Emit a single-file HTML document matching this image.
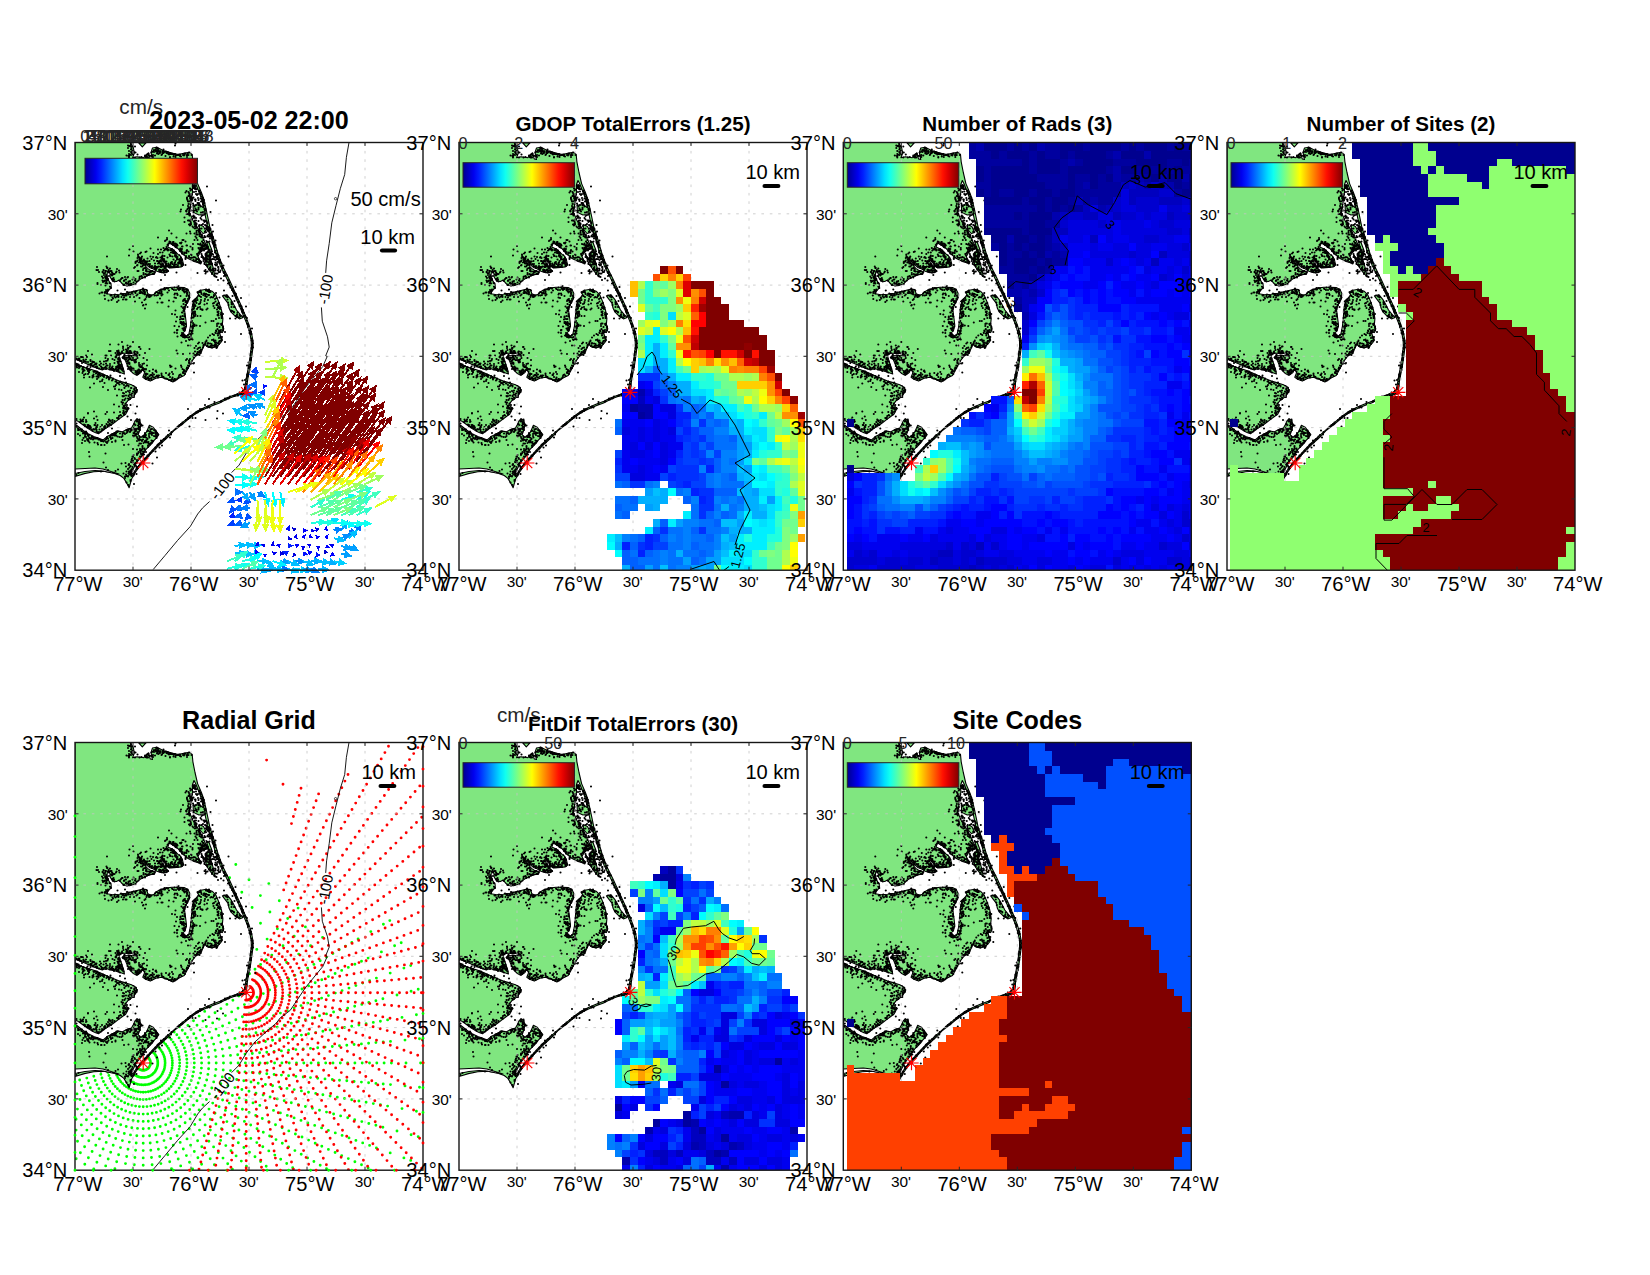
<!DOCTYPE html>
<html><head><meta charset="utf-8"><title>Totals diagnostic maps 2023-05-02 22:00</title>
<style>html,body{margin:0;padding:0;background:#fff}svg{display:block}text{font-family:"Liberation Sans",Arial,Helvetica,sans-serif}</style>
</head><body>
<svg width="1650" height="1275" viewBox="0 0 1650 1275">
<defs><linearGradient id="jet" x1="0" x2="1" y1="0" y2="0"><stop offset="0.0000" stop-color="#00008f"/><stop offset="0.0476" stop-color="#0000bf"/><stop offset="0.0952" stop-color="#0000ef"/><stop offset="0.1429" stop-color="#0020ff"/><stop offset="0.1905" stop-color="#0050ff"/><stop offset="0.2381" stop-color="#0080ff"/><stop offset="0.2857" stop-color="#00afff"/><stop offset="0.3333" stop-color="#00dfff"/><stop offset="0.3810" stop-color="#10ffef"/><stop offset="0.4286" stop-color="#40ffbf"/><stop offset="0.4762" stop-color="#70ff8f"/><stop offset="0.5238" stop-color="#9fff60"/><stop offset="0.5714" stop-color="#cfff30"/><stop offset="0.6190" stop-color="#ffff00"/><stop offset="0.6667" stop-color="#ffcf00"/><stop offset="0.7143" stop-color="#ff9f00"/><stop offset="0.7619" stop-color="#ff7000"/><stop offset="0.8095" stop-color="#ff4000"/><stop offset="0.8571" stop-color="#ff1000"/><stop offset="0.9048" stop-color="#df0000"/><stop offset="0.9524" stop-color="#af0000"/><stop offset="1.0000" stop-color="#800000"/></linearGradient></defs>
<rect width="1650" height="1275" fill="#fff"/>
<g transform="translate(75.0 142.5)"><clipPath id="c75_142"><rect x="0" y="0" width="348.0" height="427.7"/></clipPath><g clip-path="url(#c75_142)"><g stroke="#000" stroke-width="1.1" stroke-linejoin="round"><path fill="#80e680" d="M0.0 0.0L55.0 0.0L58.3 5.0L59.4 10.6L57.6 15.3L62.0 14.2L68.8 15.2L71.7 11.6L73.5 10.5L75.2 16.4L77.5 17.0L76.0 10.0L77.5 5.5L81.9 4.8L89.2 8.4L96.5 10.6L103.7 12.0L109.6 10.6L114.7 9.9L117.2 12.0L117.9 19.3L120.0 30.0L122.6 41.1L126.5 50.2L128.5 55.7L131.4 68.0L135.0 85.3L138.9 96.9L142.7 110.1L147.4 123.3L154.0 136.4L159.6 148.7L165.3 160.9L170.0 172.2L173.8 181.6L176.6 191.0L177.9 198.0L178.0 204.4L176.8 213.9L175.4 223.3L173.6 232.7L172.2 240.2L171.6 247.7L171.2 251.2L165.3 252.8L159.6 253.8L152.1 256.6L144.6 260.4L137.1 263.2L129.5 266.5L122.0 270.3L117.3 273.5L112.6 277.3L106.9 282.0L99.4 287.7L94.1 293.5L84.7 302.0L75.3 311.4L69.6 318.0L64.0 324.6L60.2 330.2L56.5 336.8L54.1 345.3L52.2 341.5L48.9 335.9L45.2 333.0L37.6 330.2L28.2 328.8L18.8 329.3L9.4 331.1L0.0 334.0Z"/><path fill="#fff" d="M32.5 128.7L34.8 130.1L35.3 134.8L37.6 138.6L41.4 139.0L44.2 137.6L46.1 140.0L48.9 142.8L54.6 143.3L60.2 141.4L64.0 137.6L68.7 134.8L74.4 132.4L79.1 131.5L80.0 129.6L75.3 127.7L72.5 125.9L68.7 121.6L64.9 117.4L65.9 116.9L70.6 121.6L74.4 124.9L78.1 126.3L81.9 128.7L86.6 130.1L91.3 130.1L93.6 128.7L90.4 125.4L87.5 120.7L85.2 117.4L86.1 116.9L89.4 120.2L93.2 124.9L96.0 125.4L101.6 124.9L106.4 124.4L108.7 122.6L107.3 116.9L104.5 112.2L104.1 112.9L98.5 107.3L92.8 104.4L93.8 101.6L94.7 100.7L99.4 103.5L103.2 106.3L106.9 111.0L112.6 115.7L118.2 118.6L125.8 120.9L126.7 119.5L124.8 117.6L122.9 113.9L125.8 109.1L129.5 106.3L132.4 103.5L134.2 106.3L131.4 111.0L130.5 115.7L131.4 123.3L135.2 128.9L139.9 134.1L138.9 128.0L137.1 121.4L135.2 115.7L137.1 111.0L134.5 108.0L131.0 102.0L127.0 94.0L123.0 86.0L118.0 78.0L114.5 70.0L116.0 60.0L117.5 50.0L117.5 42.0L119.0 38.0L120.6 41.0L124.3 50.2L126.3 55.7L129.2 68.0L132.8 85.3L136.7 96.9L140.5 110.1L145.3 123.3L152.0 136.4L157.6 148.7L163.3 160.9L168.1 172.2L172.0 181.6L174.9 191.0L176.2 198.0L176.3 204.4L175.1 213.9L173.7 223.3L171.9 232.7L170.6 240.2L169.6 246.5L165.5 251.0L160.0 252.2L152.0 255.2L145.0 258.8L137.0 261.8L130.0 264.8L122.0 268.8L113.0 275.3L104.0 282.8L95.0 290.8L86.0 299.0L77.0 308.0L71.0 314.5L66.0 320.0L61.5 326.0L58.0 331.0L56.0 333.0L57.0 329.0L59.5 324.0L62.5 319.0L65.9 314.8L67.8 312.0L69.6 309.1L71.5 306.3L74.4 303.5L77.2 300.7L79.1 297.9L81.9 295.0L83.8 292.2L80.9 288.4L78.1 284.7L74.4 282.8L71.5 289.4L69.6 292.2L65.9 295.0L63.1 292.2L64.9 287.5L65.9 282.8L64.9 278.1L62.1 276.2L60.2 278.1L58.4 281.9L56.5 285.6L52.7 286.6L47.1 289.4L42.4 288.4L39.5 290.3L35.8 292.2L32.0 294.1L28.2 297.4L24.5 296.0L18.8 294.1L13.2 291.3L7.5 287.5L2.8 283.7L0.0 281.9L0.0 279.0L1.9 278.1L4.7 280.0L8.5 282.8L12.2 285.6L16.9 288.4L20.7 290.3L23.5 291.3L27.3 288.4L31.1 285.6L35.8 282.8L39.5 280.0L43.3 277.1L47.1 274.3L50.8 271.5L53.6 265.9L49.9 262.1L52.7 258.3L56.5 255.5L59.3 252.7L62.1 248.9L61.2 245.1L56.5 242.3L50.8 240.4L44.2 238.6L37.6 235.7L31.1 232.9L24.5 230.1L18.8 227.7L11.3 225.4L5.6 223.5L2.8 221.6L0.0 220.2L0.0 217.9L1.9 216.9L5.6 218.8L12.2 221.6L18.8 224.4L26.4 227.3L32.0 226.3L39.5 228.2L45.2 230.1L49.4 231.5L48.9 228.2L47.1 222.6L45.2 216.9L44.2 213.1L47.1 210.8L56.5 210.8L60.2 211.7L56.5 213.1L48.9 213.1L47.1 215.0L49.9 216.9L51.8 221.6L54.6 227.3L58.4 231.0L62.1 232.9L65.9 230.1L67.8 226.3L69.6 230.1L67.8 234.8L70.6 236.7L75.3 238.6L80.9 235.7L86.6 234.8L92.2 236.7L97.9 239.5L103.5 235.7L109.2 232.9L112.9 226.3L116.7 218.8L121.1 212.9L125.8 211.0L127.6 206.3L129.5 201.6L132.4 204.4L137.1 205.4L142.7 203.5L145.5 200.4L147.4 197.6L145.5 193.9L144.6 189.1L147.4 190.1L148.8 186.3L147.4 181.6L147.9 176.0L146.5 167.5L143.6 159.0L140.8 152.4L137.1 148.7L131.4 146.8L125.8 147.7L122.0 149.6L123.9 152.4L121.1 155.3L117.3 159.0L118.6 159.3L117.2 164.0L116.7 169.6L116.2 177.1L115.3 184.7L113.9 191.3L112.0 193.6L107.3 190.8L110.1 188.4L111.5 182.8L110.6 175.3L109.6 167.7L111.1 162.1L114.4 156.4L114.8 150.8L112.9 147.0L109.2 145.1L103.5 144.7L96.9 144.7L90.4 145.6L84.7 147.5L80.9 149.4L79.1 151.7L76.2 152.7L72.9 151.3L71.5 147.0L67.8 146.6L62.1 148.0L56.5 149.4L50.8 150.8L44.2 151.7L37.6 152.2L32.0 151.3L32.9 148.9L36.2 145.1L36.2 142.3L33.4 137.6L32.0 132.9L32.5 128.7ZM0.0 326.5L10.0 326.0L20.0 325.5L28.0 326.5L36.0 329.0L44.0 331.5L36.0 330.2L28.0 328.5L20.0 328.0L10.0 329.0L0.0 331.0Z"/><path fill="#80e680" d="M147.4 153.4L152.1 152.4L155.9 157.1L158.7 161.9L161.5 167.5L165.3 172.2L168.1 175.0L164.4 176.4L159.6 173.1L155.9 169.4L154.0 165.6L153.1 160.9L150.2 157.1ZM63.7 0.4L71.0 0.4L67.3 4.4ZM118.0 63.0L124.0 62.0L129.5 66.0L130.0 71.5L124.0 72.5L118.5 70.0ZM124.0 82.0L128.5 84.0L131.5 90.0L128.0 91.0L124.5 87.0ZM131.0 98.0L134.0 100.0L137.0 108.0L134.0 107.0ZM127.6 152.5L131.0 151.3L134.2 152.8L131.0 154.3Z"/></g><path transform="scale(.5)" fill="none" stroke="#000" stroke-width="4.2" stroke-linecap="round" d="M0 0m22 426zm-6 3zm-4 0zm1 0zm-5 3zm-5 0zm6 1zm-2 0zm-1 1zm11 0zm5 0zm-16 1zm11 0zm-8 1zm10 1zm-8 0zm2 0zm5 1zm4 1zm-8 2zm-12 2zm1 0zm4 1zm-3 1zm1 1zm7 1zm-9 0zm8 1zm-2 0zm-1 0zm8 1zm2 1zm-14 0zm19 1zm-15 0zm7 1zm1 2zm-1 0zm3 1zm-1 0zm2 1zm-3 2zm-8 1zm7 2zm6 2zm-3 2zm0 5zm0 80zm-15 3zm13 1zm-5 0zm11 1zm-10 1zm2 1zm2 1zm7 0zm-1 1zm-11 0zm-1 0zm-7 3zm15 2zm1 1zm1 0zm-17 2zm17 0zm-18 2zm20 0zm1 0zm-17 3zm3 2zm3 0zm2 0zm-6 1zm-2 0zm7 2zm9 1zm-6 1zm3 1zm-2 0zm6 0zm-5 1zm4 0zm-1 0zm-5 1zm-10 1zm15 1zm-1 1zm-10 1zm10 2zm2 1zm-5 2zm-2 4zm5 2zm-6 4zm-7 60zm-4 4zm26-37zm-1-9zm18-15zm-1-3zm-16-1zm10 0zm-12-3zm-2-1zm11-2zm11 0zm-23-1zm3 0zm5 0zm7-1zm5 0zm-3 0zm-2-1zm6 0zm-3 0zm-13 0zm4-1zm3 0zm-2-2zm-7 0zm-1-2zm0-1zm2 0zm-4-3zm20-3zm1 0zm-2-1zm0-1zm-8-1zm8-2zm-4 0zm-6 0zm4-1zm-6-1zm-3-1zm14 0zm-10-1zm12-1zm-19 0zm6 0zm-5 0zm-2 0zm6-1zm13 0zm-13-1zm-1 0zm16-2zm-20 0zm15 0zm-13 0zm12 0zm2-4zm4-6zm-7-3zm5-4zm-17-6zm0-1zm12-3zm-8-48zm8-8zm6-9zm-9-3zm12 0zm-18-1zm16-1zm-2 0zm-6 0zm10-1zm-12 0zm11-3zm-9 0zm-11-1zm16-1zm1-2zm-15 0zm18 0zm-4-1zm-4 0zm6-1zm-2 0zm-5 0zm3 0zm1 0zm-13-1zm-2 0zm4-2zm-5-1zm1 0zm2-1zm-4 0zm20-2zm1 0zm-14-2zm11 0zm-1 0zm-5-1zm8 0zm-19 0zm12-1zm-2-1zm-3-1zm0-1zm10 0zm-15 0zm12 0zm-8-1zm12-1zm-2 0zm-8 0zm2-2zm-9-1zm11 0zm1 0zm-3-1zm-4-1zm0-1zm0-1zm-7-6zm10-5zm-8-7zm19-134zm0-2zm1-26zm-3 0zm1-6zm20-21zm-1 20zm1 3zm1 0zm5 1zm-13 3zm10 0zm-10 1zm4 1zm1 0zm9 0zm-4 0zm-6 1zm7 1zm-20 0zm7 0zm13 1zm-8 1zm-3 0zm1 4zm4 0zm1 1zm5 1zm-5 0zm-9 1zm6 1zm3 1zm-1 1zm-1 0zm-5 0zm8 1zm2 1zm-3 1zm3 0zm-1 1zm-5 1zm-5 0zm8 0zm-4 1zm-3 0zm0 2zm7 0zm-2 2zm9 0zm-1 0zm-5 1zm7 0zm-19 3zm9 1zm9 2zm1 3zm-5 3zm-4 1zm4 1zm-3 1zm0 1zm1 1zm-4 0zm0 1zm-5 0zm-2 0zm7 1zm-11 1zm15 0zm7 4zm-12 0zm1 7zm7 3zm3 88zm1 13zm-3 0zm-5 9zm-2 0zm0 5zm5 2zm-1 3zm-3 1zm-4 1zm-8 0zm2 4zm10 0zm8 1zm-13 1zm-8 1zm14 1zm2 0zm5 1zm-18 1zm9 1zm-7 1zm15 0zm-11 1zm-4 0zm9 0zm8 1zm-18 0zm-5 0zm14 1zm-8 0zm1 1zm14 0zm-20 8zm1 1zm6 1zm-6 0zm4 1zm3 0zm2 1zm12 0zm-7 1zm-13 0zm5 0zm2 1zm8 1zm-8 0zm13 1zm-8 1zm6 0zm-1 1zm0 2zm-13 0zm-1 3zm-4 1zm9 3zm-3 8zm10 6zm-2 44zm-3 4zm7 11zm0 1zm3 1zm-1 1zm-4 2zm3 3zm-6 1zm6 0zm2 1zm-6 1zm-11 0zm14 0zm-8 2zm5 1zm-5 0zm-2 1zm-7 0zm10 2zm-2 0zm-5 2zm3 1zm-8 0zm5 2zm-2 2zm-4 1zm18 2zm-2 8zm6 0zm-6 2zm2 1zm-4 1zm-13 1zm13 0zm-8 1zm-3 0zm16 1zm-8 0zm-7 1zm3 0zm2 1zm5 1zm3 0zm-1 2zm-12 4zm1 0zm6 0zm2 17zm-4 18zm5 10zm4 5zm-14 3zm29-1zm5-3zm7-12zm-19-43zm7-1zm0-2zm14-1zm-23-2zm0-2zm3 0zm14-2zm4 0zm-8-1zm10-1zm-20-1zm7 0zm-10 0zm7 0zm2-1zm-5 0zm-3-1zm1 0zm3 0zm3 0zm-5-1zm20 0zm-13-1zm8 0zm-9-1zm-2 0zm6-2zm-2-1zm3 0zm-12-6zm-2-7zm1-5zm2 0zm0-1zm4-2zm-4-2zm12-2zm-1-1zm-2-1zm3-1zm1-3zm4-1zm-1-1zm-13-5zm12-1zm-2-11zm-10-4zm17-1zm-2-4zm2-4zm0-8zm-11-1zm9-11zm-5-1zm-8-1zm0-5zm-2 0zm4-3zm7-1zm5-2zm1 0zm-8 0zm-2-1zm-1 0zm7-2zm-2 0zm-8-1zm9 0zm-7-1zm-9-1zm1-1zm1-2zm0-1zm14-5zm0-7zm-3-2zm-9-1zm17-1zm-8 0zm-3 0zm-8-1zm9 0zm8-1zm-19 0zm8 0zm-10 0zm8 0zm-5-1zm18 0zm-16 0zm10-1zm3 0zm1 0zm-9 0zm-7 0zm11-1zm9 0zm-6 0zm-15-1zm8-1zm2 0zm3 0zm4 0zm3-1zm-19 0zm10-1zm2 0zm1 0zm3 0zm-1-1zm-1-1zm-2 0zm2-1zm4 0zm-14-3zm8 0zm-1 0zm1-1zm4-2zm-6 0zm5 0zm-2-1zm-9-2zm9-1zm-13-1zm14 0zm-3 0zm1-2zm-5-1zm-1-1zm1-1zm-10-2zm14 0zm-3-1zm4 0zm-2 0zm5-2zm-2 0zm3-1zm3-1zm-13 0zm14 0zm-7 0zm-3 0zm4-1zm-3 0zm8 0zm-7-2zm7 0zm-10-1zm3-1zm0-12zm7-5zm-10-80zm3-3zm-14-1zm3-3zm5-2zm-6 0zm12-1zm6 0zm-9-1zm-5 0zm8-1zm-14-1zm12 0zm10-1zm-16 0zm1-1zm15-1zm-3-1zm-7-6zm-13-5zm7-13zm11-1zm-1-1zm-13 0zm0-1zm2-1zm-2 0zm-2-1zm18 0zm2-2zm1 0zm-18 0zm-3-5zm2-2zm-4 0zm7-1zm-4-1zm1 0zm6-2zm7 0zm-15 0zm9-2zm-10-1zm15-1zm-4-3zm28-250zm-1 3zm-5 0zm2 1zm7 1zm-4 0zm3 0zm-8 3zm7 1zm-1 2zm3 2zm1 1zm-8 0zm8 1zm-1 1zm3 0zm-6 0zm3 1zm-1 0zm1 1zm-2 0zm-5 2zm1 1zm7 0zm-4 1zm-9 1zm5 1zm-1 0zm1 1zm0 2zm8 177zm-7 7zm8 4zm-9 8zm10 25zm-12 18zm-6 0zm17 1zm-12 0zm-4 4zm14 0zm-13 0zm-4 2zm0 1zm12 0zm-3 1zm0 2zm-5 0zm15 0zm-12 2zm-3 0zm9 0zm2 1zm-3 1zm-2 0zm-10 0zm14 0zm-8 1zm-7 0zm1 0zm7 1zm-2 0zm-3 8zm17 4zm-13 1zm4 1zm-2 0zm7 0zm1 1zm-7 1zm-5 1zm-6 0zm10 0zm10 1zm-5 0zm-4 0zm-7 1zm3 1zm-5 0zm2 0zm10 3zm8 0zm-20 1zm5 4zm-7 0zm5 0zm15 85zm-11 7zm5 2zm1 0zm-15 0zm0 3zm10 0zm1 0zm-1 2zm-4 1zm-5 1zm8 2zm6 0zm-2 0zm10 1zm-16 0zm0 1zm8 0zm-5 1zm4 0zm8 0zm-5 0zm-1 0zm-6 1zm7 0zm6 0zm-16 0zm5 1zm2 0zm-11 2zm20 0zm-1 2zm-19 0zm7 0zm-5 1zm-2 0zm3 1zm11 0zm-5 0zm-10 0zm2 1zm8 0zm-3 1zm3 0zm-10 0zm-2 0zm13 1zm-13 0zm8 0zm-5 0zm17 0zm-16 0zm-2 1zm13 0zm0 1zm-3 1zm-7 0zm2 0zm13 1zm3 0zm-6 0zm-7 1zm-2 2zm14 0zm-11 2zm1 0zm1 1zm-4 1zm3 0zm1 1zm-4 4zm6 1zm-4 1zm6 1zm-3 2zm5 0zm2 0zm-8 0zm-3 1zm10 0zm1 0zm-6 0zm-15 0zm18 1zm3 0zm0 1zm-1 0zm-4 1zm1 0zm-16 2zm3 14zm2 8zm-1 1zm3 4zm-6 0zm9 1zm-5 1zm15 0zm-10 1zm-8 2zm0 1zm14 0zm-1 0zm6 1zm0 1zm-8 3zm-4 1zm10 1zm1 0zm-15 1zm7 1zm-13 1zm23 0zm0 1zm-5 0zm-16 0zm21 1zm-9 1zm3 1zm-6 1zm11 0zm-16 0zm-4 1zm9 0zm8 0zm-1 0zm-18 1zm22 1zm-2 0zm-6 1zm-9 2zm5 0zm4 1zm-2 1zm-9 1zm-3 5zm5 2zm10 3zm-7 0zm-5 2zm-2 0zm1 0zm1 3zm-3 1zm10 0zm-4 0zm-1 0zm5 1zm1 0zm-8 0zm3 1zm2 1zm-7 2zm0 1zm6 1zm-1 0zm-3 2zm-3 1zm2 3zm1 0zm6 4zm7 7zm7 8zm-1 1zm0 6zm-1 3zm-6 0zm-5 1zm1 0zm10 0zm-3 1zm-7 0zm-4 0zm4 1zm5 0zm1 0zm-9 1zm15 2zm-9 0zm-5 0zm-2 2zm14 0zm-19 0zm-2 0zm23 1zm-19 1zm16 3zm1 2zm-10 16zm-9 1zm18 8zm1 12zm-2 3zm1 0zm3 3zm-5 1zm-1 3zm3 1zm-4 3zm3 1zm1 0zm-15 1zm7 2zm0 1zm10 0zm-11 1zm12 0zm-8 2zm-9 1zm13 1zm-6 1zm5 3zm-8 0zm8 2zm-2 0zm1 0zm2 1zm-4 0zm1 0zm2 1zm-11 1zm5 0zm3 0zm-3 1zm2 0zm-1 1zm9 1zm-5 0zm-6 1zm-10 0zm15 0zm-3 2zm9 0zm-16 0zm9 0zm6 2zm-4 1zm-10 0zm11 0zm-8 0zm-6 1zm6 0zm-6 3zm11 4zm0 2zm-8 3zm15 3zm-11 2zm16-22zm-3-5zm3-5zm1-1zm2-1zm0-1zm-3-1zm2 0zm-3-2zm6 0zm2-4zm-10-1zm3-1zm-2 0zm1 0zm1-1zm11 0zm-1-1zm3 0zm-12-2zm0-2zm15-2zm-19 0zm8-1zm12 0zm3-1zm-11-3zm-2 0zm5-2zm-11-1zm0-1zm14 0zm-6-1zm3 0zm-1 0zm-8-1zm-2 0zm11 0zm-4-2zm11-1zm-4 0zm-11 0zm9-1zm-4-1zm-2-1zm10-1zm-6-1zm5 0zm-15 0zm6-1zm9-1zm-4 0zm0-3zm0-1zm0-1zm-8-1zm5-4zm-3 0zm8-1zm5-1zm-3-1zm4 0zm0-1zm-9-1zm6 0zm-16 0zm18-1zm-14 0zm15-1zm-11 0zm4-1zm-7-1zm-3 0zm-1-1zm17-2zm-13-1zm10 0zm-2 0zm-13 0zm5-1zm6 0zm2-1zm3 0zm-20-1zm1 0zm21-1zm-3 0zm-17 0zm2-2zm-1 0zm17 0zm-17-1zm17-1zm-14-2zm-4-2zm0-1zm-2-1zm10 0zm-7-1zm5 0zm1-1zm-1 0zm-7-1zm4 0zm3-2zm0-1zm2-1zm-2 0zm3-1zm-5-1zm6 0zm3 0zm-14-1zm11 0zm0-1zm-4-1zm3 0zm-1 0zm-2-1zm2 0zm-3-1zm0-2zm1 0zm-5-1zm0-1zm2 0zm-1 0zm5-1zm0-2zm-5 0zm-3-12zm3-14zm-3-28zm2-1zm-3-3zm3-1zm1 0zm-2-4zm-1-1zm21-17zm0-1zm-2-3zm-1-1zm2 0zm1-3zm-1-1zm-18-1zm3 0zm17 0zm-18 0zm0-1zm17 0zm-14-1zm-7-1zm6 0zm-4 0zm1-1zm6-1zm-5 0zm6 0zm8 0zm-10-1zm-8 0zm4-1zm8-1zm3 0zm-9-1zm1 0zm14 0zm-6 0zm3-1zm-1 0zm-3 0zm7 0zm-6-2zm-3-2zm-2 0zm-2-1zm5-1zm-4-2zm-2 0zm7-2zm3-1zm-10-1zm-8-1zm2-1zm-2-1zm1-1zm1-3zm3-3zm12 0zm-17-4zm2 0zm2 0zm5-2zm-8-1zm1 0zm3-2zm15-1zm-15-1zm-1-1zm-4-1zm11-5zm-3-4zm1 0zm11-77zm-4-6zm1-1zm5-1zm-8-4zm-14-2zm19-3zm2-2zm-12-2zm14-2zm-20-3zm2-2zm15 0zm-1-1zm-3-1zm4-1zm-11 0zm-8 0zm11 0zm2-1zm5-1zm1 0zm-20 0zm12 0zm5-1zm-14-1zm7 0zm1 0zm8-1zm-3-1zm0-3zm-15-9zm2-5zm-3-2zm7 0zm-6-3zm8-1zm6-1zm5-1zm-11-1zm5 0zm-4-1zm10 0zm-7-1zm4-3zm4-1zm-4-2zm-10-4zm-2 0zm17 0zm0-2zm1 0zm-7 0zm7-1zm-6-2zm3-1zm1 0zm-21-2zm12-1zm2 0zm2-2zm-12 0zm1-1zm16 0zm-4-2zm4 0zm1 0zm-7-1zm-3 0zm-11-1zm22 0zm-11 0zm-4-1zm12-1zm-19 0zm9-1zm-8 0zm9 0zm12 0zm-19 0zm6-1zm10 0zm-4 0zm-11-1zm6-2zm-2 0zm9 0zm-9-1zm1 0zm3 0zm-3-2zm-5 0zm8-1zm-5-1zm6-1zm-8-1zm0-3zm4-2zm2-2zm9-1zm2-1zm0-188zm-14 0zm-9 0zm13-1zm8 0zm2-2zm-3-1zm-15-2zm-4-4zm-1-12zm43 2zm1 1zm2 1zm-4 1zm4 0zm1 0zm-9 2zm3 0zm5 0zm0 1zm-8 0zm4 0zm4 1zm1 0zm-2 1zm-3 0zm-6 0zm10 1zm-8 0zm-5 1zm-6 2zm17 0zm3 1zm-22 1zm11 1zm-8 1zm12 0zm-7 0zm-3 1zm5 0zm-1 1zm-10 1zm12 0zm-10 1zm-1 0zm21 160zm-15 22zm15 2zm-9 7zm9 2zm-15 5zm5 1zm7 0zm-1 1zm3 1zm-20 1zm8 1zm5 3zm7 1zm-16 0zm15 0zm-20 1zm1 0zm21 4zm-6 0zm-10 1zm-3 0zm-1 1zm3 1zm11 2zm-6 0zm-3 1zm-1 0zm17 0zm-7 0zm-1 0zm-5 0zm12 1zm-3 0zm1 0zm1 1zm-2 0zm-5 0zm4 0zm-8 1zm9 1zm-3 0zm2 0zm-1 2zm1 0zm-8 3zm1 0zm-3 0zm-4 1zm-4 0zm9 0zm1 0zm6 1zm-9 0zm-2 0zm2 1zm8 1zm-2 1zm-2 1zm-7 0zm10 0zm-9 1zm-5 0zm3 0zm0 1zm-1 0zm-2 1zm0 30zm19 3zm3 2zm-6 1zm-15 2zm4 1zm17 0zm-22 0zm8 1zm11 0zm-19 0zm2 0zm13 0zm-6 0zm-2 1zm0 1zm-2 1zm-1 0zm17 11zm-16 93zm-5 22zm0 11zm12 8zm6 2zm-13 1zm12 0zm2 2zm-8 2zm-10 2zm13 1zm-5 1zm1 0zm-3 0zm16 1zm-3 0zm-13 0zm4 1zm-6 0zm17 1zm-4 0zm-16 2zm20 0zm-21 0zm14 0zm-2 0zm-4 1zm-3 1zm-6 0zm4 0zm0 1zm5 1zm-5 1zm5 0zm-4 95zm5 1zm-1 2zm1 0zm-3 1zm7 1zm3 1zm-2 0zm-13 0zm-1 1zm4 1zm13 0zm-11 0zm10 2zm-7 0zm10 1zm-7 0zm-2 0zm-2 1zm-3 0zm11 0zm1 0zm-14 1zm14 0zm4 1zm-12 1zm8 0zm-4 2zm6 0zm-16 0zm13 1zm2 0zm-14 2zm14 1zm-18 1zm0 1zm8 3zm3 1zm-1 0zm-8 2zm7 1zm-8 0zm6 1zm-5 1zm2 1zm17 1zm-16 0zm15 1zm0 1zm-19 0zm0 3zm15 1zm0 2zm-5 5zm-1 0zm6 1zm-8 2zm-2 1zm-1 1zm0 1zm-2 2zm-3 1zm2 1zm-1 1zm18 2zm-9 12zm14-32zm5-4zm-6-3zm1-1zm4-2zm1-1zm-1 0zm0-1zm0-1zm-1-1zm5-2zm2-1zm1 0zm-2 0zm3-1zm9-2zm-7-2zm3-3zm2-9zm3-101zm-3 0zm-3-2zm-3-1zm-2 0zm-3-2zm0-1zm13 0zm-16 0zm1-1zm-7-2zm5-1zm14 0zm1 0zm-15-3zm16 0zm-7-1zm9-12zm-1-3zm-3-118zm-14-8zm2 0zm13-4zm-18-4zm3-6zm2-2zm-3-2zm-2 0zm3-1zm-4 0zm16-1zm-16 0zm4-2zm15-2zm-18 0zm-1 0zm11-2zm-2 0zm-6 0zm2 0zm5-1zm6-1zm1 0zm-7-1zm4 0zm-11-16zm8-10zm-3-5zm1 0zm-6-1zm1 0zm5-1zm6 0zm-15 0zm17-1zm-15 0zm11 0zm1 0zm-11-1zm1 0zm1 0zm5 0zm-3-1zm-6 0zm1 0zm-3 0zm15 0zm-14-1zm7 0zm4-2zm-1-1zm10-1zm-7-1zm-9 0zm-2 0zm9-1zm-3 0zm-5 0zm17 0zm-16 0zm14 0zm-16 0zm15-1zm-11 0zm14 0zm-16 0zm11 0zm-11-1zm14 0zm-1 0zm-9-1zm-1 0zm11 0zm3 0zm-16 0zm8 0zm-6-1zm-5 0zm5-1zm-5 0zm3 0zm8 0zm1 0zm4-1zm-5 0zm-13-1zm-1-2zm13 0zm2-1zm-6 0zm-7 0zm2-1zm-3 0zm10-1zm-2 0zm-1-2zm2-1zm-3-1zm-1 0zm-3-2zm14 0zm-10-2zm-1 0zm16-1zm-11 0zm12 0zm-16-1zm14-2zm-14-4zm-5 0zm16-4zm-8 0zm13-1zm-4 0zm-7-1zm3 0zm3 0zm-14 0zm12 0zm-3-1zm4 0zm-2-1zm-6-1zm6-2zm2-4zm2-3zm2-1zm1-1zm1-1zm-2-1zm-9-1zm1-1zm3-2zm0-3zm4-15zm2-146zm0-1zm-9-2zm-8-2zm1-1zm14 0zm1-1zm0-1zm-4 0zm-9-1zm-6 0zm18 0zm-5 0zm-6 0zm14 0zm-16 0zm12-1zm-2-1zm-14 0zm8 0zm-11-1zm14 0zm-5 0zm-2-1zm-5 0zm7-3zm24-12zm-1 4zm-6 16zm-2 1zm3 0zm3 0zm2 0zm-3 1zm11 0zm2 0zm-6 1zm3 0zm-6 1zm9 1zm-13 1zm15 0zm-11 1zm11 105zm-1 4zm-18 44zm10 8zm12 5zm-19 4zm1 0zm16 1zm-3 1zm-16 1zm3 0zm15 0zm-11 0zm-3 0zm0 1zm4 0zm2 1zm-8 1zm1 0zm6 0zm-4 1zm6 0zm-4 1zm2 1zm-1 0zm13 0zm-1 0zm-13 1zm2 1zm8 2zm-1 1zm-16 0zm20 0zm-1 1zm-1 0zm-2 1zm1 0zm-19 0zm6 1zm13 0zm1 0zm-14 1zm15 0zm-3 0zm-15 0zm20 2zm-19 0zm-4 1zm9 0zm13 0zm-13 1zm-5 0zm3 0zm3 0zm12 1zm-12 3zm-2 0zm0 2zm-5 1zm6 0zm3 0zm-2 1zm3 0zm7 1zm-8 2zm1 1zm5 0zm4 1zm-6 0zm-4 0zm-7 0zm14 1zm2 1zm-4 1zm-8 0zm9 1zm2 0zm-18 1zm18 0zm-5 1zm-7 0zm-8 0zm22 0zm-5 1zm-3 0zm-7 0zm11 1zm-18 0zm3 1zm20 0zm-2 0zm-14 1zm3 0zm12 0zm-8 1zm7 0zm-14 1zm-1 0zm15 1zm1 0zm-16 1zm-5 0zm11 0zm-8 1zm3 0zm3 0zm-2 0zm-8 0zm14 0zm-3 11zm4 27zm-3 3zm-5 0zm11 1zm-1 0zm6 1zm-21 0zm14 0zm3 1zm-16 0zm11 0zm-8 2zm17 0zm-13 0zm6 0zm-8 7zm4 0zm-5 2zm6 0zm0 1zm6 2zm-12 3zm3 1zm-5 7zm16 10zm-12 8zm14 4zm-1 0zm-20 3zm6 1zm15 3zm-4 1zm-7 1zm7 1zm3 3zm-4 1zm-8 4zm11 1zm-2 0zm0 2zm3 0zm1 2zm-1 1zm-15 3zm9 1zm7 4zm-11 3zm1 0zm-1 1zm-5 4zm5 1zm10 0zm1 2zm-1 1zm-2 2zm2 1zm-9 1zm8 12zm-10 16zm2 6zm7 24zm-19 2zm20 1zm-12 3zm14 1zm-21 6zm2 4zm15 1zm-2 1zm-1 2zm5 0zm-18 3zm12 0zm-2 2zm-6 1zm1 0zm-6 0zm9 1zm-8 0zm3 2zm2 0zm-7 1zm22 83zm0 2zm-3 1zm1 1zm-4 1zm-3 3zm-1 1zm-12 10zm-1 4zm0 1zm37-16zm-7-13zm4-2zm0-2zm3 0zm6 0zm-6-1zm1 0zm1-3zm3 0zm1-1zm4-3zm-13-10zm-6-70zm-1-1zm-1-1zm-2 0zm22-1zm-22 0zm1-2zm2-1zm3 0zm-4-2zm5-2zm1-1zm2-1zm-2-1zm4-3zm-2-1zm11-4zm-7 0zm3 0zm5-1zm-10 0zm0-2zm5-1zm-5-2zm-6-1zm8-2zm-6 0zm14-3zm-1-2zm-21-5zm21-1zm-7 0zm9-11zm-8-5zm-5 0zm-4-9zm7-2zm6-1zm-7 0zm4-1zm1-2zm-14-1zm7 0zm-6 0zm3-1zm-5 0zm11 0zm-13 0zm6-1zm10 0zm-12-1zm-2 0zm8-2zm-9 0zm15 0zm-15-1zm0-1zm15 0zm-16 0zm14 0zm5-1zm-2-3zm0-1zm2-1zm-1-1zm-15 0zm11 0zm-13-1zm18 0zm-15-3zm-2-1zm17 0zm1 0zm-4-1zm-13 0zm13-1zm-10-1zm14 0zm3-1zm-21-1zm17 0zm4-2zm-2 0zm-21 0zm5-1zm-2-1zm17-1zm-20 0zm16-2zm-15 0zm17-2zm-17-4zm16-2zm1-1zm3 0zm0-1zm-18-1zm1 0zm-1-1zm18-2zm-18-2zm15-1zm3 0zm-1-1zm2 0zm-4-2zm4-1zm-20-1zm-1-1zm17-1zm2-2zm1 0zm-19 0zm1 0zm19-1zm-22-1zm1-1zm21 0zm-19-1zm6 0zm11-2zm2-1zm-16-1zm-1 0zm18-1zm-3 0zm-19-1zm21 0zm-14-2zm-1-1zm14 0zm-12-1zm-4 0zm18-1zm-14 0zm-9-1zm6 0zm17 0zm-14 0zm-4 0zm18-1zm-22-1zm2 0zm-1-1zm8-1zm-6 0zm9-3zm-1-1zm-5-2zm4-1zm-3-3zm0-2zm1 0zm-6-1zm-1-2zm3 0zm-4-1zm7 0zm-5-3zm6 0zm-2 0zm-6-1zm-1-1zm5-47zm16-10zm-16-2zm0-2zm11 0zm-9-1zm11 0zm3 0zm-8 0zm9-1zm-10 0zm0-2zm-6 0zm11-2zm-1-1zm-14-1zm4-2zm1 0zm-4-1zm8-2zm-4-1zm1-2zm11-1zm0-3zm-4-3zm-7-2zm-1 0zm13-3zm-15-5zm-4-3zm22 0zm-8-13zm8 0zm-16 0zm7-4zm7-8zm-2-2zm-5-2zm2-2zm-4 0zm11-1zm-8-1zm1-1zm-13-2zm12-1zm8 0zm-1 0zm-7-2zm-5 0zm1 0zm2 0zm3-2zm2-1zm-1 0zm5-2zm-19-1zm17-2zm3 0zm-2-2zm-8 0zm0-1zm-1-1zm-2-1zm-3 0zm7 0zm-2-3zm9 0zm-14-2zm5-1zm2 0zm-8 0zm15 0zm-4-1zm-10 0zm6 0zm0-3zm-4 0zm5-2zm-3-1zm4 0zm0-2zm8 0zm-13-1zm-10-2zm21 0zm-6-2zm-4 0zm9-1zm-4-3zm-4-1zm-2 0zm6-1zm2-1zm-9-1zm6 0zm1-1zm-8-1zm11 0zm-11-1zm10 0zm-2-1zm-2 0zm7-1zm-5 0zm1 0zm-9 0zm5-3zm3 0zm-5 0zm2-3zm5 0zm-2-1zm-4-2zm-7-1zm17-1zm-11 0zm-4-2zm8-1zm2-2zm-3-2zm6-1zm2 0zm1-1zm-2-2zm-2-1zm3-2zm-14-56zm-6-3zm15-1zm-9 0zm3 0zm-4 0zm-5 0zm-2 0zm9-2zm-5-1zm8-2zm12 66zm1 3zm0 4zm3 0zm-4 0zm9 3zm-1 2zm1 0zm-7 0zm9 2zm-1 2zm-4 1zm6 0zm-10 0zm10 1zm-8 1zm10 3zm2 3zm-10 0zm5 1zm4 1zm-14 1zm-1 0zm7 1zm11 0zm-3 1zm2 0zm0 1zm-16 0zm11 1zm4 1zm1 1zm2 1zm-2 0zm-9 0zm-2 0zm-1 0zm11 3zm-7 0zm-2 1zm-5 0zm7 0zm9 1zm-7 2zm6 1zm-10 1zm-6 2zm6 0zm14 1zm-2 1zm-12 0zm-4 1zm18 1zm-21 0zm4 2zm12 1zm-4 1zm3 0zm6 2zm-5 1zm-2 0zm5 1zm-4 1zm1 0zm-3 2zm-2 4zm-9 0zm11 3zm-11 2zm17 0zm-19 0zm17 0zm5 1zm1 0zm-16 0zm12 2zm-18 2zm2 1zm-1 1zm14 0zm-13 1zm-2 1zm12 0zm7 0zm2 1zm-20 1zm-2 0zm8 0zm15 0zm0 1zm-19 2zm19 0zm-21 1zm-2 1zm22 0zm-13 0zm4 0zm-4 3zm-1 1zm-4 0zm-1 1zm17 1zm-12 0zm1 0zm11 1zm-12 0zm-5 1zm7 0zm-1 2zm0 1zm1 0zm3 1zm-8 0zm-2 0zm11 1zm0 2zm-5 0zm10 0zm-18 1zm10 0zm10 1zm-9 0zm6 1zm-5 0zm-10 1zm14 4zm-12 0zm9 3zm2 3zm1 0zm-6 1zm-5 1zm3 1zm10 0zm3 1zm-10 0zm3 0zm0 1zm1 0zm-2 1zm9 0zm-4 0zm-4 1zm8 0zm-5 0zm5 1zm-12 1zm2 1zm-6 0zm8 1zm4 0zm-5 0zm8 0zm-4 1zm-2 0zm-5 0zm11 0zm-13 1zm10 0zm-7 1zm6 1zm-5 0zm0 1zm-4 1zm2 1zm-3 1zm15 0zm-16 1zm-3 2zm17 0zm-8 0zm8 2zm-16 0zm1 1zm8 0zm8 1zm1 1zm-10 1zm1 0zm9 0zm-7 0zm1 1zm6 0zm-22 0zm20 1zm-5 0zm1 0zm-14 2zm16 0zm-2 0zm-11 0zm16 1zm-15 0zm1 0zm0 2zm13 0zm2 0zm-22 0zm1 0zm15 1zm6 1zm-2 0zm-11 0zm-5 1zm6 1zm-3 0zm11 1zm-8 1zm8 1zm3 2zm-1 10zm-2 2zm3 2zm-17 2zm16 1zm1 32zm-11 2zm11 0zm-12 2zm-1 1zm3 0zm-6 1zm12 2zm1 0zm-6 0zm0 1zm9 0zm-2 1zm-13 2zm14 0zm-12 1zm3 2zm11 0zm-19 2zm16 2zm-19 1zm11 1zm-7 0zm-3 2zm17 0zm-18 0zm0 1zm10 1zm-8 2zm7 1zm-2 1zm11 1zm-19 1zm1 2zm9 2zm-4 1zm-2 3zm7 0zm4 1zm-2 0zm10 0zm-8 1zm-15 3zm0 3zm1 3zm4 3zm-5 0zm11 0zm10 13zm-18 6zm7 1zm13 29zm0 1zm-2 2zm-13 1zm7 1zm6 0zm-15 1zm15 1zm-2 1zm-2 1zm0 2zm-15 0zm8 3zm6 0zm-9 1zm-2 2zm7 1zm-3 3zm3 0zm-12 1zm7 1zm-2 0zm5 1zm-3 0zm4 1zm-7 1zm2 2zm3 1zm-6 0zm-1 0zm-2 0zm2 1zm18 99zm-10 8zm6 0zm-2 0zm-2 2zm-2 2zm-1 0zm-2 0zm-2 2zm1 0zm-3 0zm2 1zm-3 1zm-1 10zm20 4zm23-3zm1-15zm-16-7zm-4 0zm-1-1zm2-1zm13-5zm0-4zm-11-6zm15-102zm-9-1zm10 0zm-16-1zm13-1zm-2 0zm3 0zm-11-1zm10 0zm4 0zm-21 0zm12-1zm-3 0zm-8 0zm15 0zm2-2zm-2 0zm-7-1zm-7-1zm20 0zm-16 0zm-4-1zm14-1zm3 0zm-4-3zm-1 0zm3-1zm-7-1zm3-1zm-11-4zm20-4zm-16 0zm8-1zm-3-2zm10-1zm-4-1zm0-1zm6 0zm-4-3zm-1-1zm3-3zm-1-6zm0-4zm3-1zm-2 0zm-8-5zm-4 0zm9-4zm4-7zm1 0zm-2-1zm2-3zm-2-3zm2-1zm-3-4zm-19-2zm22-1zm-8 0zm7-1zm1-2zm-10-1zm8-2zm-2 0zm-19-3zm12 0zm9 0zm-7-1zm3-3zm-15-3zm14-2zm3-2zm-7-1zm-5 0zm2-1zm5-2zm1-1zm-1 0zm-10-1zm10 0zm4-4zm-12-2zm1 0zm-3 0zm3-1zm-2-1zm-4 0zm3 0zm-2 0zm1-1zm1 0zm0-2zm18-19zm-3-6zm-2-1zm-2-1zm-5-4zm8-1zm3 0zm-4 0zm-7 0zm1-1zm0-1zm-10-2zm12-1zm0-1zm-5 0zm14 0zm-5 0zm-7-1zm7 0zm-13-1zm1-1zm18 0zm-16 0zm10 0zm-5 0zm0-1zm-6 0zm10 0zm-10-2zm16-1zm1 0zm-16 0zm-6-1zm17-2zm-18-1zm20 0zm-10-1zm-5 0zm-2 0zm3 0zm3 0zm7 0zm4-1zm-13 0zm-2-1zm5 0zm-2-1zm-5-1zm14 0zm-13-1zm17 0zm-19 0zm6 0zm-2-2zm-1-2zm12 0zm-12-1zm1 0zm3 0zm-7 0zm-2-1zm11 0zm3 0zm8 0zm-21 0zm18 0zm4-1zm-18-1zm13-1zm-1-1zm2 0zm-19 0zm14 0zm-8 0zm1-1zm-3 0zm17 0zm-2 0zm-6 0zm-13 0zm22 0zm-19 0zm-2-1zm19 0zm-16-1zm2 0zm17 0zm-16 0zm1-1zm-8 0zm22 0zm-10-1zm-1-1zm-6 0zm1 0zm3-1zm11 0zm-1 0zm-19-1zm6-1zm10 0zm-13-1zm7-1zm6-1zm-12-1zm15 0zm-14 0zm-2-2zm-3-2zm16-2zm-14-1zm13-2zm-1-1zm3-1zm-1 0zm-1-1zm-3-2zm0-1zm-1-1zm4 0zm-14-1zm11-1zm-7 0zm6-1zm6-1zm-6-3zm1-1zm-6 0zm6-1zm0-2zm-3 0zm-4-1zm-3 0zm4-1zm-5 0zm9 0zm-3-1zm3 0zm-7-2zm3 0zm3 0zm-3-2zm3-1zm3-3zm-9 0zm2-2zm-4 0zm5-1zm-1 0zm-4-1zm-1 0zm7-1zm-3 0zm1-2zm-4-1zm3 0zm-1-1zm8-4zm-10-3zm0-2zm6-21zm11-23zm-18-28zm43 140zm-18 7zm1 0zm0 2zm-1 2zm1 1zm1 0zm-2 1zm4 1zm4 4zm-3 1zm0 1zm2 3zm-2 1zm-3 4zm7 3zm-1 0zm-9 0zm2 0zm8 1zm2 0zm-2 1zm2 3zm0 1zm3 1zm1 0zm-6 1zm-6 5zm14 3zm-9 1zm12 4zm-1 1zm-2 1zm3 2zm1 2zm1 4zm-13 6zm5 10zm-5 0zm6 1zm-2 1zm4 1zm-2 0zm-15 1zm16 4zm1 6zm-18 1zm19 4zm-19 4zm2 1zm1 0zm-1 3zm3 7zm-1 1zm4 2zm-4 1zm1 2zm1 1zm-1 0zm0 4zm-5 0zm6 0zm16 1zm-16 10zm-2 1zm2 0zm-1 1zm0 1zm3 3zm-7 1zm7 1zm0 3zm-4 2zm-4 1zm8 0zm-5 0zm-3 1zm4 2zm-3 0zm11 0zm-12 2zm0 1zm3 6zm3 1zm-6 2zm4 0zm1 1zm0 1zm0 2zm-4 2zm1 0zm-2 2zm12 0zm-12 4zm22 105zm-2 3zm-1 1zm-2 0zm-5 0zm0 1zm2 1zm-2 0zm-7 3zm-1 1zm-1 1zm5 23zm23-35zm-2 0zm1 0zm2-1zm6 0zm4-1zm-3 0zm-3-1zm1 0zm9-1zm-9 0zm8-1zm-4-2zm5-1zm1-23zm-3-93zm-11-31zm8-2zm-3-1zm-2 0zm0-2zm-3 0zm10 0zm-2-2zm-5-1zm11-4zm-17 0zm7 0zm-7-1zm17 0zm-22-1zm21 0zm-19-1zm-3-1zm22-2zm0-1zm-1-2zm-14-2zm-1 0zm-5 0zm20-1zm-2-1zm-2 0zm1 0zm0-2zm-16-1zm-1-1zm1-1zm13-2zm-14 0zm0-1zm14-1zm-8-1zm5-3zm-1-2zm9-1zm-9 0zm0-2zm-8-2zm7 0zm0-1zm-2-2zm2-1zm-2 0zm1-1zm-3-2zm-1-2zm-3-3zm2 0zm-1-1zm1-2zm5-3zm-9 0zm30 39zm-6 7zm2 6zm2 5zm-3 1zm4 1zm1 2zm2 1zm-1 5zm1 6zm2 2zm0 1zm1 3zm-1 1zm8 3zm-4 1zm-1 2zm1 1zm2 2zm-3 3zm3 0zm-1 0zm2 2zm-2 0zm0 1zm2 8zm2 4zm-2 0zm2 3zm1 3zm-2 2zm0 2zm1 1zm-1 2zm2 1zm-3 1zm1 2zm-2 5zm0 2zm-1 3zm0 2zm1 5zm-1 3zm1 2zm-2 1zm-3 4zm3 4zm-6 2zm2 0zm4 2zm-1 0zm1 1zm-2 2zm-1 0zm2 4zm-2 3zm-1 4zm-1 1zm-1 2zm2 0zm0 2zm-2 2zm-1 3zm-3 3zm4 3zm-1 5zm-5 1zm5 2zm0 1zm-3 3zm2 0zm-1 3zm-3 2zm0 1zm-2 0zm7 4zm-2 0zm-3 2zm3 0zm20-41z"/><path fill="none" stroke="#c4c4c4" stroke-width="0.8" stroke-dasharray="2.6 5.8" d="M58.0 0V427.7M116.0 0V427.7M174.0 0V427.7M232.0 0V427.7M290.0 0V427.7M0 71.3H348.0M0 142.6H348.0M0 213.8H348.0M0 285.1H348.0M0 356.4H348.0"/></g><path fill="none" stroke="#000" stroke-width="0.9" stroke-linejoin="round" d="M274.0 0.0L271.4 14.8L269.7 32.0L265.4 45.8L261.0 63.1L256.8 80.3L254.2 101.1L251.6 118.3L250.7 130.4"/><path fill="none" stroke="#000" stroke-width="0.9" stroke-linejoin="round" d="M246.4 164.9L247.3 178.7L252.5 194.3L254.2 204.6L250.7 213.3L252.2 214.0L247.8 224.0L241.6 231.5L230.3 245.3L222.8 256.6L215.2 267.9L205.2 275.4L201.4 280.5L192.6 288.0L180.1 299.3L171.3 310.5L164.1 322.6L156.6 330.1"/><path fill="none" stroke="#000" stroke-width="0.9" stroke-linejoin="round" d="M134.6 359.0L127.7 365.3L122.7 371.5L115.2 384.1L102.6 397.9L90.1 412.9L78.2 427.0"/><text transform="translate(250.2 146.8) rotate(-80)" font-size="15.0" text-anchor="middle" dominant-baseline="central">-100</text><text transform="translate(147.2 343.3) rotate(-52)" font-size="15.0" text-anchor="middle" dominant-baseline="central">-100</text><circle cx="260.6" cy="56.2" r="1.2" fill="none" stroke="#000" stroke-width="0.7"/><g shape-rendering="crispEdges"><path fill="#cfff30" d="M190.0 220.3L205.7 219.4L205.9 222.3L214.3 218.0L205.5 214.6L205.6 217.4L189.9 218.3ZM190.9 273.4L197.4 259.0L200.0 260.2L200.0 250.8L192.9 257.0L195.6 258.2L189.1 272.6ZM175.3 312.2L188.7 303.5L190.3 305.9L195.4 298.0L186.1 299.4L187.6 301.8L174.2 310.5ZM167.0 327.7L182.9 329.1L182.6 332.0L191.5 328.9L183.3 324.3L183.1 327.1L167.2 325.7ZM251.6 350.5L264.4 340.7L266.1 342.9L270.6 334.6L261.4 336.8L263.2 339.1L250.3 348.9Z"/><path fill="#0040ff" d="M181.0 223.6L174.9 229.9L183.7 230.3ZM172.4 247.3L168.9 255.1L177.1 252.6ZM190.0 246.6L182.5 249.9L190.0 253.3ZM158.1 377.0L152.1 383.4L160.9 383.7Z"/><path fill="#afff50" d="M190.1 227.9L204.8 226.5L205.1 229.3L213.2 224.6L204.3 221.6L204.6 224.5L189.9 225.9ZM198.5 235.1L204.9 222.3L207.5 223.6L207.8 214.2L200.5 220.1L203.1 221.4L196.7 234.2ZM160.2 319.7L171.3 310.1L173.2 312.3L177.1 303.7L168.1 306.4L170.0 308.6L158.9 318.2ZM236.2 358.2L248.7 351.2L250.1 353.8L255.7 346.2L246.3 347.0L247.7 349.5L235.2 356.5Z"/><path fill="#0060ff" d="M182.7 233.7L182.0 233.4L182.9 230.7L173.5 231.7L180.5 238.1L181.4 235.3L182.1 235.6ZM174.4 269.1L166.0 273.4L174.7 276.8ZM165.9 369.0L158.7 375.1L168.0 376.4ZM166.8 379.4L166.2 379.6L165.3 376.9L158.3 383.2L167.7 384.2L166.8 381.5L167.4 381.3Z"/><path fill="#bfff40" d="M190.0 235.6L205.3 236.2L205.2 239.1L213.9 235.5L205.5 231.3L205.4 234.2L190.0 233.6ZM183.3 311.7L189.2 297.5L191.8 298.6L191.6 289.2L184.7 295.7L187.3 296.8L181.4 310.9ZM175.5 319.7L185.9 308.0L188.0 310.0L190.8 301.0L182.2 304.8L184.4 306.7L174.0 318.3ZM159.5 327.7L174.9 328.4L174.8 331.2L183.6 327.8L175.1 323.5L175.0 326.4L159.6 325.7ZM282.0 342.8L295.0 334.8L296.5 337.2L301.8 329.4L292.5 330.6L294.0 333.1L280.9 341.1ZM259.1 350.5L272.2 342.4L273.7 344.8L279.0 337.0L269.6 338.3L271.1 340.7L258.0 348.8Z"/><path fill="#0070ff" d="M173.8 241.9L173.2 243.2L170.6 242.0L170.5 251.4L177.6 245.3L175.0 244.0L175.7 242.7ZM182.4 241.3L181.5 241.3L181.5 238.4L172.9 242.3L181.5 246.2L181.5 243.3L182.4 243.3ZM159.5 350.7L160.4 350.7L160.4 353.5L169.0 349.6L160.4 345.8L160.4 348.7L159.5 348.7ZM166.9 364.0L166.1 364.3L165.3 361.5L158.0 367.4L167.3 369.0L166.6 366.2L167.4 366.0ZM273.3 388.9L274.3 389.4L272.9 391.9L282.3 392.7L276.6 385.2L275.2 387.7L274.3 387.1ZM282.3 388.5L283.0 387.2L285.5 388.6L286.1 379.1L278.7 385.0L281.2 386.3L280.5 387.6ZM205.2 427.4L206.5 427.4L206.5 430.3L215.1 426.6L206.6 422.5L206.6 425.4L205.3 425.4Z"/><path fill="#0010ff" d="M187.7 241.2L187.7 247.4L192.3 243.3ZM215.3 388.8L214.6 382.5L210.4 387.2ZM227.5 413.5L233.7 412.3L228.7 408.5ZM241.2 409.5L240.0 415.7L245.4 412.5Z"/><path fill="#0050ff" d="M182.0 246.1L173.9 250.8L182.8 253.8ZM158.3 353.8L151.7 360.0L160.7 360.9ZM172.7 354.1L167.5 362.0L176.8 360.6ZM156.6 362.4L153.7 371.4L162.4 367.6ZM172.0 370.2L169.2 378.8L177.5 375.2Z"/><path fill="#00afff" d="M175.2 256.7L171.5 255.1L172.7 252.5L163.3 252.6L169.6 259.6L170.7 257.0L174.3 258.5ZM166.4 350.3L168.6 353.1L166.4 354.9L174.8 359.1L172.4 350.0L170.2 351.8L167.9 349.0ZM267.0 388.5L269.1 385.3L271.5 386.8L272.8 377.5L265.0 382.7L267.4 384.2L265.3 387.5ZM235.7 419.7L239.3 419.7L239.4 422.5L247.9 418.5L239.3 414.8L239.3 417.7L235.7 417.7ZM250.7 419.7L254.4 420.6L253.7 423.3L263.0 421.6L255.5 415.8L254.8 418.6L251.2 417.7ZM182.1 427.3L186.1 428.3L185.4 431.1L194.7 429.5L187.3 423.6L186.6 426.4L182.6 425.4ZM190.0 427.4L193.9 427.2L194.1 430.0L202.5 425.7L193.7 422.3L193.8 425.2L189.9 425.4ZM243.2 427.4L247.0 427.8L246.7 430.7L255.7 427.9L247.6 423.0L247.3 425.8L243.4 425.4Z"/><path fill="#00dfff" d="M182.6 256.6L177.0 255.5L177.6 252.7L168.4 254.6L176.0 260.2L176.6 257.4L182.2 258.6ZM251.2 381.3L256.9 379.7L257.7 382.4L264.9 376.3L255.5 375.0L256.3 377.7L250.7 379.4Z"/><path fill="#00cfff" d="M190.4 256.7L186.0 254.5L187.3 251.9L177.9 251.5L183.8 258.8L185.1 256.3L189.5 258.5ZM258.4 419.7L263.5 420.7L263.0 423.5L272.2 421.3L264.4 415.9L263.9 418.7L258.8 417.7ZM220.3 427.4L225.3 428.1L224.9 430.9L233.9 428.4L226.0 423.3L225.6 426.1L220.6 425.4Z"/><path fill="#ffbf00" d="M198.5 258.1L207.6 239.5L210.2 240.8L210.5 231.4L203.2 237.4L205.8 238.6L196.7 257.2Z"/><path fill="#9f0000" d="M206.1 258.1L222.1 229.9L224.6 231.3L225.5 221.9L217.9 227.5L220.4 228.9L204.4 257.1ZM198.5 296.4L213.9 267.2L216.4 268.6L217.0 259.2L209.5 265.0L212.1 266.3L196.7 295.5ZM236.5 334.9L254.9 307.9L257.3 309.5L258.9 300.2L250.9 305.2L253.2 306.8L234.9 333.8ZM244.1 334.9L264.4 309.5L266.7 311.3L269.0 302.1L260.6 306.4L262.9 308.2L242.5 333.7Z"/><path fill="#800000" d="M213.7 258.2L235.4 225.9L237.8 227.5L239.4 218.2L231.4 223.2L233.8 224.8L212.0 257.1ZM221.3 258.2L243.2 227.3L245.5 229.0L247.3 219.7L239.2 224.5L241.6 226.1L219.7 257.0ZM228.9 258.2L251.8 225.7L254.2 227.4L256.0 218.1L247.9 222.9L250.2 224.6L227.3 257.0ZM236.5 258.2L258.7 226.2L261.1 227.9L262.8 218.6L254.7 223.5L257.1 225.1L234.9 257.1ZM244.1 258.2L266.5 228.2L268.8 229.9L270.8 220.7L262.6 225.3L264.9 227.0L242.5 257.0ZM251.8 258.2L275.2 226.0L277.5 227.7L279.5 218.5L271.3 223.2L273.6 224.8L250.1 257.0ZM206.1 265.8L224.9 235.4L227.3 236.9L228.5 227.6L220.7 232.9L223.2 234.4L204.4 264.8ZM213.7 265.9L236.5 234.3L238.8 235.9L240.7 226.7L232.6 231.4L234.9 233.1L212.0 264.7ZM221.3 265.9L243.5 235.5L245.8 237.2L247.7 228.0L239.5 232.7L241.8 234.4L219.7 264.7ZM228.9 265.9L251.8 235.4L254.1 237.1L256.2 227.9L247.9 232.5L250.2 234.2L227.3 264.7ZM236.5 265.9L258.3 235.2L260.6 236.8L262.4 227.6L254.3 232.4L256.6 234.0L234.9 264.7ZM244.2 265.9L265.8 234.4L268.2 236.0L269.9 226.7L261.8 231.6L264.2 233.2L242.5 264.7ZM251.7 265.9L274.5 236.8L276.7 238.5L279.0 229.4L270.6 233.8L272.9 235.5L250.2 264.7ZM259.4 265.9L281.1 233.5L283.4 235.1L285.0 225.8L277.0 230.8L279.4 232.4L257.7 264.7ZM206.1 273.5L225.9 241.4L228.3 242.9L229.6 233.6L221.8 238.9L224.2 240.4L204.4 272.4ZM213.7 273.6L237.1 242.1L239.4 243.8L241.4 234.6L233.2 239.2L235.5 240.9L212.0 272.4ZM221.3 273.6L244.7 242.2L247.0 243.9L249.1 234.7L240.8 239.3L243.1 241.0L219.7 272.4ZM228.9 273.5L251.0 240.4L253.4 242.0L254.9 232.7L246.9 237.7L249.3 239.3L227.3 272.4ZM236.5 273.6L260.3 242.5L262.6 244.2L264.7 235.0L256.4 239.5L258.7 241.3L234.9 272.4ZM244.2 273.5L265.0 241.5L267.4 243.1L268.8 233.8L260.9 238.9L263.3 240.4L242.5 272.4ZM251.7 273.6L274.2 244.0L276.5 245.7L278.6 236.6L270.4 241.1L272.6 242.8L250.2 272.4ZM259.4 273.5L282.5 241.4L284.8 243.1L286.7 233.9L278.5 238.6L280.9 240.3L257.8 272.4ZM267.0 273.5L289.5 240.3L291.8 241.9L293.4 232.6L285.4 237.6L287.8 239.2L265.4 272.4ZM206.1 281.1L226.2 247.2L228.7 248.6L229.8 239.2L222.1 244.7L224.5 246.1L204.4 280.1ZM213.6 281.2L236.8 250.7L239.1 252.4L241.2 243.2L232.9 247.8L235.2 249.5L212.1 280.0ZM221.3 281.2L242.8 249.2L245.2 250.8L246.8 241.5L238.8 246.5L241.2 248.1L219.6 280.1ZM228.9 281.2L251.4 250.0L253.7 251.7L255.6 242.5L247.4 247.2L249.8 248.9L227.3 280.1ZM236.5 281.3L259.8 251.5L262.1 253.3L264.4 244.1L256.0 248.5L258.3 250.3L234.9 280.0ZM244.1 281.2L267.2 251.6L269.5 253.3L271.7 244.2L263.4 248.6L265.6 250.3L242.5 280.0ZM251.8 281.2L274.2 249.0L276.5 250.6L278.3 241.4L270.2 246.2L272.5 247.8L250.1 280.1ZM259.4 281.2L283.5 250.0L285.7 251.8L287.9 242.6L279.6 247.1L281.9 248.8L257.8 280.0ZM267.0 281.2L290.1 250.0L292.4 251.7L294.4 242.5L286.2 247.1L288.5 248.8L265.4 280.0ZM274.6 281.2L297.8 249.6L300.1 251.3L302.1 242.1L293.9 246.7L296.2 248.4L273.0 280.0ZM206.1 288.8L227.4 255.6L229.8 257.1L231.1 247.8L223.3 252.9L225.7 254.5L204.4 287.8ZM213.7 288.9L236.1 256.9L238.5 258.6L240.2 249.3L232.1 254.1L234.5 255.8L212.0 287.7ZM221.2 288.9L244.1 260.5L246.3 262.3L248.7 253.1L240.3 257.4L242.5 259.2L219.7 287.7ZM228.9 288.9L250.9 256.7L253.2 258.3L254.9 249.1L246.8 254.0L249.2 255.6L227.3 287.7ZM236.5 288.9L259.7 257.7L262.0 259.4L264.0 250.2L255.8 254.8L258.1 256.5L234.9 287.7ZM244.1 288.9L266.9 256.9L269.2 258.5L271.0 249.3L262.9 254.0L265.2 255.7L242.5 287.7ZM251.8 288.9L274.5 258.1L276.8 259.8L278.8 250.6L270.5 255.2L272.9 256.9L250.1 287.7ZM259.3 288.9L284.2 258.9L286.4 260.7L288.9 251.6L280.5 255.8L282.7 257.6L257.8 287.7ZM267.0 288.9L289.2 257.3L291.6 259.0L293.4 249.7L285.3 254.5L287.6 256.2L265.4 287.7ZM274.6 288.9L297.2 257.5L299.5 259.2L301.4 249.9L293.2 254.6L295.5 256.3L273.0 287.7ZM206.1 296.5L227.3 263.5L229.7 265.1L231.1 255.7L223.2 260.9L225.6 262.4L204.4 295.4ZM213.6 296.6L235.9 267.8L238.1 269.5L240.3 260.3L232.0 264.8L234.3 266.5L212.1 295.4ZM221.3 296.6L244.1 266.9L246.4 268.7L248.6 259.5L240.3 263.9L242.5 265.7L219.7 295.4ZM228.9 296.6L251.4 266.7L253.7 268.4L255.8 259.2L247.5 263.8L249.8 265.5L227.3 295.4ZM236.5 296.6L260.0 264.5L262.3 266.2L264.3 257.0L256.1 261.7L258.4 263.4L234.9 295.4ZM244.1 296.6L266.9 265.0L269.2 266.7L271.1 257.5L262.9 262.2L265.2 263.9L242.5 295.4ZM251.7 296.6L275.2 265.7L277.5 267.4L279.6 258.2L271.3 262.7L273.6 264.4L250.2 295.4ZM259.4 296.6L282.8 264.1L285.2 265.8L287.1 256.6L278.9 261.3L281.2 263.0L257.8 295.4ZM267.0 296.6L290.4 266.1L292.7 267.9L294.9 258.7L286.6 263.1L288.8 264.9L265.4 295.4ZM274.6 296.6L298.9 267.8L301.1 269.6L303.7 260.6L295.2 264.6L297.3 266.5L273.0 295.3ZM282.2 296.6L305.6 266.0L307.9 267.8L310.0 258.6L301.7 263.1L304.0 264.8L280.6 295.4ZM198.5 304.2L218.2 273.6L220.6 275.2L222.0 265.9L214.1 271.0L216.5 272.6L196.8 303.1ZM206.0 304.2L228.4 273.6L230.7 275.3L232.6 266.1L224.4 270.8L226.8 272.4L204.4 303.1ZM213.7 304.2L235.8 273.7L238.2 275.4L240.1 266.2L231.9 270.9L234.2 272.5L212.0 303.1ZM221.3 304.2L245.5 272.3L247.8 274.0L249.9 264.9L241.6 269.4L243.9 271.1L219.7 303.0ZM228.9 304.2L251.7 271.3L254.0 272.9L255.8 263.6L247.7 268.5L250.0 270.1L227.3 303.1ZM236.5 304.3L260.0 273.7L262.2 275.4L264.4 266.2L256.1 270.7L258.4 272.4L234.9 303.0ZM244.2 304.2L265.9 270.7L268.3 272.3L269.8 263.0L261.8 268.1L264.3 269.6L242.5 303.1ZM251.8 304.2L274.1 273.3L276.5 275.0L278.4 265.7L270.2 270.4L272.5 272.1L250.1 303.1ZM259.4 304.2L282.7 272.9L285.0 274.6L287.0 265.4L278.7 270.0L281.1 271.7L257.8 303.0ZM267.0 304.3L290.4 274.6L292.6 276.3L294.9 267.2L286.6 271.5L288.8 273.3L265.4 303.0ZM274.6 304.3L299.1 272.6L301.3 274.4L303.5 265.2L295.2 269.6L297.5 271.4L273.0 303.0ZM282.2 304.3L306.0 274.0L308.3 275.7L310.6 266.6L302.2 271.0L304.5 272.7L280.6 303.0ZM198.5 311.8L218.4 280.0L220.8 281.5L222.1 272.2L214.3 277.4L216.7 278.9L196.8 310.8ZM206.1 311.9L228.4 279.4L230.8 281.0L232.4 271.8L224.4 276.6L226.7 278.3L204.4 310.7ZM213.7 311.9L237.1 279.7L239.5 281.4L241.4 272.2L233.2 276.9L235.5 278.5L212.0 310.7ZM221.3 311.9L244.5 279.8L246.8 281.5L248.7 272.3L240.6 277.0L242.9 278.7L219.7 310.7ZM228.9 311.9L253.7 280.4L255.9 282.2L258.2 273.1L249.9 277.4L252.1 279.2L227.3 310.7ZM236.5 311.9L259.2 279.6L261.5 281.2L263.3 271.9L255.2 276.8L257.5 278.4L234.9 310.7ZM244.2 311.9L264.8 280.3L267.2 281.8L268.7 272.5L260.8 277.6L263.2 279.2L242.5 310.8ZM251.8 311.9L273.4 278.7L275.8 280.2L277.3 270.9L269.3 276.0L271.7 277.6L250.1 310.8ZM259.4 311.9L281.1 279.9L283.5 281.5L285.1 272.2L277.1 277.1L279.5 278.7L257.7 310.8ZM267.0 311.9L289.6 280.5L291.9 282.2L293.8 272.9L285.6 277.7L288.0 279.3L265.4 310.7ZM274.6 311.9L297.0 280.1L299.4 281.7L301.1 272.5L293.0 277.3L295.4 278.9L273.0 310.7ZM282.2 311.9L306.4 281.7L308.7 283.5L311.0 274.4L302.6 278.7L304.9 280.5L280.6 310.7ZM289.9 311.9L313.3 280.6L315.6 282.3L317.6 273.1L309.4 277.7L311.7 279.4L288.2 310.7ZM198.5 319.5L218.7 287.7L221.1 289.3L222.4 279.9L214.6 285.1L217.0 286.6L196.8 318.4ZM206.1 319.5L226.8 287.5L229.2 289.0L230.6 279.7L222.7 284.8L225.1 286.4L204.4 318.4ZM213.6 319.6L236.8 289.2L239.1 291.0L241.3 281.8L233.0 286.3L235.3 288.0L212.1 318.4ZM221.3 319.6L242.9 288.3L245.3 289.9L247.0 280.6L238.9 285.5L241.3 287.1L219.6 318.4ZM228.9 319.5L250.3 287.4L252.7 289.0L254.3 279.7L246.3 284.7L248.7 286.3L227.3 318.4ZM236.5 319.5L258.5 287.3L260.9 288.9L262.5 279.6L254.5 284.6L256.8 286.2L234.9 318.4ZM244.2 319.5L265.1 286.6L267.5 288.2L268.9 278.8L261.0 284.0L263.4 285.6L242.5 318.4ZM251.8 319.6L273.0 289.2L275.4 290.9L277.1 281.6L269.0 286.4L271.4 288.1L250.1 318.4ZM259.4 319.6L282.6 288.9L284.9 290.6L287.0 281.4L278.7 286.0L281.0 287.7L257.8 318.4ZM267.0 319.5L287.2 288.1L289.6 289.6L291.0 280.3L283.1 285.4L285.5 287.0L265.3 318.4ZM274.6 319.6L295.8 290.9L298.1 292.6L300.1 283.4L291.9 288.0L294.2 289.7L273.0 318.4ZM282.2 319.6L303.2 292.0L305.4 293.7L307.6 284.5L299.3 289.0L301.6 290.8L280.6 318.4ZM198.4 327.2L220.1 297.1L222.5 298.7L224.4 289.5L216.2 294.2L218.5 295.9L196.8 326.1ZM206.0 327.3L230.3 294.5L232.6 296.2L234.6 287.0L226.4 291.6L228.7 293.3L204.4 326.1ZM213.7 327.2L236.0 294.9L238.4 296.5L240.1 287.2L232.0 292.1L234.3 293.7L212.0 326.1ZM221.2 327.3L245.4 297.2L247.7 299.0L250.1 289.9L241.7 294.2L243.9 296.0L219.7 326.0ZM228.9 327.3L252.6 295.7L254.9 297.4L256.9 288.2L248.7 292.7L251.0 294.5L227.3 326.1ZM236.5 327.2L258.5 295.4L260.8 297.1L262.6 287.8L254.5 292.7L256.8 294.3L234.9 326.1ZM244.1 327.2L267.1 296.1L269.4 297.8L271.4 288.6L263.2 293.2L265.5 294.9L242.5 326.1ZM251.8 327.2L272.8 298.3L275.1 300.0L277.0 290.7L268.8 295.4L271.1 297.1L250.1 326.1ZM198.4 334.9L220.6 303.8L222.9 305.4L224.8 296.2L216.6 300.9L219.0 302.6L196.8 333.7ZM206.1 334.9L226.2 304.9L228.6 306.5L230.2 297.2L222.2 302.2L224.5 303.8L204.4 333.8ZM213.7 334.9L235.5 305.3L237.8 307.0L239.8 297.8L231.6 302.4L233.9 304.1L212.0 333.7ZM221.3 334.9L242.0 305.7L244.4 307.4L246.2 298.1L238.1 302.9L240.4 304.5L219.7 333.7ZM228.9 335.0L252.1 306.5L254.3 308.3L256.7 299.2L248.3 303.4L250.5 305.2L227.3 333.7Z"/><path fill="#009fff" d="M174.7 264.3L171.7 264.5L171.5 261.7L163.2 266.1L172.0 269.4L171.8 266.5L174.8 266.3ZM190.4 264.4L187.4 262.9L188.7 260.3L179.2 260.1L185.3 267.3L186.5 264.7L189.6 266.2ZM173.9 350.2L175.7 352.7L173.3 354.4L181.5 359.2L179.7 349.9L177.3 351.6L175.6 349.1ZM174.3 379.5L171.6 380.9L170.3 378.4L164.5 385.8L173.9 385.2L172.6 382.6L175.2 381.2ZM265.8 404.3L269.1 405.5L268.0 408.2L277.4 407.6L270.8 401.0L269.8 403.6L266.5 402.4ZM273.4 404.3L276.4 405.8L275.2 408.3L284.6 408.7L278.6 401.4L277.3 404.0L274.3 402.5ZM266.0 412.0L269.3 412.8L268.6 415.6L277.9 413.9L270.4 408.1L269.8 410.9L266.4 410.1ZM205.1 419.7L208.0 420.1L207.6 423.0L216.7 420.5L208.8 415.3L208.3 418.2L205.4 417.7ZM227.9 427.3L230.9 428.0L230.3 430.8L239.5 428.7L231.9 423.2L231.3 426.0L228.3 425.4Z"/><path fill="#008fff" d="M182.7 264.3L180.4 263.6L181.4 260.9L172.0 261.8L178.9 268.2L179.8 265.5L182.0 266.2ZM182.8 272.1L180.5 271.0L181.7 268.4L172.3 268.4L178.5 275.5L179.7 272.9L182.0 273.9ZM266.6 396.6L268.8 395.6L270.0 398.2L276.2 391.2L266.8 391.2L268.0 393.8L265.8 394.8ZM220.4 419.7L222.8 419.8L222.6 422.7L231.4 419.2L223.0 414.9L222.9 417.8L220.5 417.7Z"/><path fill="#ff6000" d="M198.5 265.7L209.0 243.7L211.6 244.9L211.8 235.5L204.6 241.6L207.2 242.8L196.7 264.9ZM267.0 334.9L280.5 313.9L282.9 315.5L284.3 306.1L276.4 311.3L278.8 312.8L265.3 333.8Z"/><path fill="#00bfff" d="M167.7 272.2L164.4 269.6L166.1 267.3L157.0 265.2L161.5 273.5L163.2 271.2L166.5 273.8ZM258.4 396.7L262.6 397.6L261.9 400.4L271.2 398.5L263.6 392.8L263.0 395.6L258.8 394.7ZM274.5 396.4L277.7 393.5L279.6 395.6L283.3 386.9L274.4 389.9L276.3 392.0L273.1 394.9ZM159.6 404.3L163.9 403.9L164.2 406.7L172.3 402.0L163.4 399.0L163.7 401.9L159.4 402.4ZM167.3 404.3L171.5 403.8L171.9 406.6L179.9 401.7L170.9 399.0L171.3 401.8L167.0 402.4ZM174.8 404.4L179.1 404.2L179.2 407.0L187.6 402.8L178.9 399.3L179.0 402.2L174.7 402.4ZM159.5 412.0L163.8 411.9L163.9 414.7L172.4 410.6L163.7 407.0L163.8 409.9L159.5 410.0ZM167.1 412.0L171.3 412.3L171.1 415.2L180.0 412.0L171.7 407.5L171.5 410.4L167.2 410.0ZM174.7 412.0L179.0 412.1L179.0 415.0L187.6 411.3L179.1 407.2L179.1 410.1L174.8 410.0ZM182.4 419.7L186.7 419.7L186.6 422.6L195.3 418.8L186.7 414.9L186.7 417.7L182.4 417.7ZM189.4 419.5L193.0 422.1L191.4 424.4L200.6 426.2L195.8 418.1L194.2 420.4L190.6 417.9ZM212.5 419.6L216.7 421.3L215.7 424.0L225.1 423.5L218.5 416.8L217.5 419.4L213.2 417.8ZM227.8 419.6L231.7 421.0L230.8 423.7L240.2 422.8L233.3 416.4L232.4 419.1L228.4 417.7ZM243.2 419.7L247.6 420.3L247.2 423.2L256.3 420.6L248.3 415.5L247.9 418.4L243.5 417.7ZM197.5 427.4L201.8 427.9L201.5 430.7L210.5 427.9L202.4 423.0L202.0 425.9L197.7 425.4ZM212.6 427.3L216.6 428.5L215.9 431.2L225.2 429.8L217.9 423.8L217.2 426.5L213.1 425.4Z"/><path fill="#ff4000" d="M198.5 273.5L211.6 250.7L214.1 252.2L215.0 242.8L207.4 248.3L209.9 249.7L196.7 272.5ZM244.2 342.6L259.0 321.1L261.3 322.7L263.0 313.4L255.0 318.3L257.3 319.9L242.5 341.4Z"/><path fill="#00efff" d="M167.3 279.7L160.7 278.4L161.3 275.6L152.1 277.8L159.8 283.2L160.4 280.4L166.9 281.6ZM189.0 349.9L190.6 356.3L187.9 357.0L193.7 364.4L195.4 355.1L192.6 355.8L191.0 349.4ZM204.3 349.9L205.7 356.4L202.9 357.1L208.6 364.6L210.5 355.3L207.7 356.0L206.2 349.4ZM197.3 419.6L203.7 421.7L202.8 424.5L212.2 423.4L205.2 417.1L204.3 419.8L197.9 417.7Z"/><path fill="#10ffef" d="M174.9 279.6L167.3 278.5L167.7 275.7L158.6 278.3L166.6 283.4L167.0 280.5L174.6 281.6ZM182.6 287.3L175.2 285.7L175.8 282.9L166.6 284.8L174.1 290.4L174.7 287.6L182.2 289.3ZM159.5 335.3L167.2 335.7L167.0 338.6L175.8 335.2L167.4 330.9L167.3 333.7L159.6 333.3ZM167.0 335.3L174.6 336.4L174.2 339.3L183.2 336.7L175.3 331.6L174.9 334.5L167.3 333.3ZM174.8 335.3L182.5 335.3L182.5 338.1L191.1 334.2L182.5 330.4L182.5 333.3L174.7 333.3ZM167.2 343.0L175.1 342.8L175.2 345.6L183.7 341.5L175.0 337.9L175.1 340.8L167.1 341.0ZM266.5 358.3L274.0 355.9L274.9 358.7L282.0 352.4L272.6 351.3L273.4 354.0L265.9 356.4ZM281.9 358.2L288.8 354.1L290.3 356.5L295.7 348.8L286.4 349.9L287.8 352.4L280.9 356.5ZM258.6 381.3L266.2 381.3L266.3 384.1L274.8 380.2L266.2 376.4L266.2 379.3L258.6 379.3ZM273.7 381.3L281.5 382.1L281.3 385.0L290.2 382.0L282.0 377.3L281.7 380.1L273.9 379.3ZM281.4 381.3L288.9 381.8L288.7 384.7L297.5 381.4L289.2 377.0L289.0 379.8L281.5 379.3ZM159.8 427.3L167.6 424.8L168.5 427.5L175.4 421.1L166.0 420.1L166.9 422.9L159.2 425.4Z"/><path fill="#20ffdf" d="M182.5 279.6L174.2 278.7L174.5 275.9L165.5 278.8L173.6 283.6L174.0 280.7L182.3 281.6ZM174.5 302.7L166.0 305.3L165.2 302.6L158.1 308.8L167.5 309.9L166.6 307.2L175.0 304.6ZM235.8 381.3L244.1 380.8L244.3 383.6L252.6 379.2L243.7 375.9L243.9 378.8L235.6 379.3ZM243.4 381.3L251.7 381.2L251.7 384.0L260.2 380.0L251.6 376.3L251.6 379.2L243.3 379.3ZM167.4 419.7L175.6 417.8L176.3 420.6L183.8 414.8L174.5 413.0L175.2 415.8L166.9 417.7ZM152.1 427.3L160.7 425.2L161.4 428.0L168.8 422.2L159.5 420.5L160.2 423.3L151.7 425.4ZM175.0 427.3L183.6 425.4L184.2 428.2L191.7 422.5L182.5 420.6L183.1 423.4L174.5 425.4Z"/><path fill="#dfff20" d="M190.9 281.1L198.1 265.7L200.7 266.9L200.8 257.5L193.6 263.7L196.2 264.9L189.1 280.2ZM167.8 312.1L180.5 301.6L182.3 303.8L186.5 295.4L177.4 297.8L179.2 300.1L166.5 310.5ZM181.4 357.4L182.7 374.3L179.8 374.5L184.3 382.8L187.5 373.9L184.7 374.1L183.4 357.3ZM189.0 357.4L190.8 374.1L187.9 374.4L192.7 382.6L195.6 373.6L192.7 373.9L191.0 357.2ZM181.4 364.9L180.4 381.3L177.5 381.1L180.8 389.9L185.2 381.6L182.4 381.4L183.4 365.1ZM189.0 365.0L189.4 381.5L186.6 381.6L190.7 390.1L194.3 381.4L191.4 381.5L191.0 365.0ZM300.5 365.4L314.9 357.7L316.2 360.2L322.0 352.8L312.6 353.4L314.0 355.9L299.5 363.6Z"/><path fill="#ff0000" d="M198.5 281.1L213.0 256.6L215.4 258.0L216.5 248.7L208.8 254.1L211.3 255.6L196.7 280.1ZM282.2 327.3L300.7 305.3L302.9 307.1L305.4 298.1L296.9 302.2L299.1 304.0L280.7 326.0ZM228.9 342.6L246.1 319.5L248.4 321.2L250.4 312.0L242.2 316.6L244.5 318.3L227.3 341.4Z"/><path fill="#00ffff" d="M167.2 287.3L160.0 286.9L160.1 284.0L151.3 287.4L159.7 291.8L159.8 288.9L167.1 289.3ZM174.9 287.3L168.2 286.0L168.7 283.2L159.5 285.4L167.3 290.8L167.8 288.0L174.6 289.3ZM159.5 343.0L166.9 343.4L166.8 346.3L175.6 342.9L167.2 338.5L167.0 341.4L159.6 341.0ZM196.6 349.9L198.1 357.1L195.3 357.7L200.8 365.3L202.9 356.1L200.1 356.7L198.6 349.5ZM266.0 381.3L273.1 382.8L272.5 385.6L281.7 383.7L274.1 378.1L273.5 380.9L266.4 379.4ZM175.3 419.5L181.3 415.6L182.8 418.0L187.9 410.1L178.6 411.6L180.2 414.0L174.2 417.9Z"/><path fill="#ffcf00" d="M190.9 288.8L200.7 271.5L203.2 272.9L204.1 263.5L196.5 269.0L199.0 270.5L189.1 287.8ZM289.7 335.1L304.3 321.7L306.2 323.9L310.0 315.2L301.0 318.1L302.9 320.3L288.4 333.6ZM244.0 350.4L259.0 337.2L260.9 339.3L264.8 330.7L255.8 333.5L257.7 335.7L242.7 348.9Z"/><path fill="#cf0000" d="M198.5 288.8L213.3 262.0L215.8 263.4L216.6 254.0L209.1 259.7L211.6 261.1L196.7 287.8ZM251.7 335.0L270.7 311.3L273.0 313.0L275.3 303.9L266.9 308.2L269.2 310.0L250.2 333.7ZM190.8 342.5L206.6 316.3L209.0 317.8L210.1 308.4L202.4 313.8L204.8 315.3L189.1 341.5ZM198.4 342.6L215.6 317.2L218.0 318.9L219.6 309.6L211.5 314.5L213.9 316.1L196.8 341.4Z"/><path fill="#40ffbf" d="M166.7 295.1L157.6 299.7L156.4 297.1L150.4 304.4L159.8 304.0L158.5 301.4L167.6 296.9ZM289.5 358.2L298.5 353.6L299.8 356.1L305.7 348.8L296.2 349.3L297.6 351.8L288.6 356.4ZM266.5 373.6L275.8 370.1L276.9 372.8L283.6 366.2L274.1 365.6L275.1 368.3L265.8 371.7ZM152.3 419.6L161.6 415.9L162.7 418.6L169.3 411.9L159.9 411.4L160.9 414.1L151.5 417.8Z"/><path fill="#30ffcf" d="M174.8 295.0L165.6 294.5L165.7 291.6L156.9 295.0L165.3 299.3L165.5 296.5L174.7 297.0ZM281.7 350.6L290.5 348.2L291.2 351.0L298.5 344.9L289.2 343.5L289.9 346.3L281.2 348.7ZM236.2 365.9L244.1 361.4L245.5 363.8L251.0 356.2L241.6 357.1L243.1 359.6L235.2 364.1ZM282.0 365.8L289.7 360.3L291.4 362.6L296.1 354.5L286.9 356.3L288.6 358.7L280.8 364.2ZM281.9 373.6L290.2 369.6L291.5 372.1L297.5 364.9L288.1 365.2L289.3 367.8L281.0 371.8ZM160.1 419.5L167.4 414.0L169.1 416.3L173.6 408.0L164.4 410.1L166.2 412.4L158.9 417.9Z"/><path fill="#70ff8f" d="M182.3 295.0L170.3 296.1L170.1 293.3L161.9 298.0L170.8 301.0L170.5 298.1L182.5 297.0ZM159.4 302.6L147.8 303.4L147.6 300.6L139.3 305.0L148.1 308.3L147.9 305.4L159.6 304.6ZM167.1 302.6L155.5 303.3L155.4 300.4L147.0 304.8L155.8 308.2L155.6 305.3L167.2 304.6ZM274.2 350.6L285.1 346.3L286.1 349.0L292.7 342.2L283.3 341.8L284.3 344.4L273.4 348.7ZM236.1 373.6L247.1 368.8L248.2 371.4L254.6 364.4L245.1 364.3L246.3 367.0L235.3 371.8Z"/><path fill="#ff8000" d="M190.9 296.5L202.1 275.9L204.6 277.3L205.3 267.9L197.8 273.6L200.3 275.0L189.1 295.5ZM190.9 304.1L201.2 283.3L203.8 284.6L204.1 275.1L196.9 281.1L199.4 282.4L189.1 303.2ZM289.8 327.3L303.9 308.5L306.2 310.2L308.3 301.0L300.1 305.6L302.3 307.3L288.3 326.1ZM228.9 350.3L242.8 331.5L245.1 333.2L247.1 324.0L238.9 328.6L241.2 330.3L227.3 349.1Z"/><path fill="#80ff80" d="M183.3 304.1L188.9 293.0L191.5 294.3L191.9 284.9L184.6 290.8L187.1 292.1L181.5 303.2ZM174.7 327.7L187.1 328.0L187.0 330.9L195.7 327.3L187.2 323.2L187.1 326.0L174.8 325.7ZM259.1 358.2L269.8 351.7L271.3 354.2L276.7 346.4L267.3 347.6L268.8 350.0L258.1 356.5ZM274.2 358.3L285.5 353.6L286.6 356.3L293.1 349.4L283.7 349.1L284.8 351.8L273.4 356.4ZM259.0 365.9L270.2 360.5L271.4 363.1L277.5 355.9L268.0 356.1L269.3 358.7L258.1 364.1ZM258.9 373.6L270.5 368.9L271.6 371.5L278.0 364.7L268.6 364.4L269.7 367.0L258.2 371.7Z"/><path fill="#ffff00" d="M160.2 312.0L173.0 299.8L174.9 301.9L178.5 293.2L169.6 296.3L171.6 298.4L158.8 310.6ZM167.8 319.7L180.8 307.7L182.8 309.8L186.5 301.1L177.5 304.1L179.5 306.2L166.5 318.3ZM266.9 342.7L280.0 330.2L282.0 332.3L285.6 323.6L276.7 326.7L278.7 328.8L265.5 341.3ZM274.4 342.8L288.2 331.7L290.0 333.9L294.3 325.5L285.2 327.9L287.0 330.1L273.2 341.2Z"/><path fill="#ff2000" d="M190.9 311.8L202.9 286.9L205.5 288.2L205.7 278.7L198.5 284.8L201.1 286.0L189.1 310.9ZM236.5 342.5L251.6 319.5L254.0 321.0L255.5 311.7L247.6 316.8L250.0 318.4L234.9 341.4Z"/><path fill="#ffef00" d="M183.3 319.5L192.0 302.8L194.5 304.2L195.1 294.8L187.7 300.6L190.2 301.9L181.5 318.5Z"/><path fill="#df0000" d="M190.9 319.5L205.5 293.3L208.0 294.7L208.8 285.3L201.3 290.9L203.8 292.3L189.1 318.5ZM221.3 342.6L239.3 318.3L241.6 320.0L243.7 310.8L235.4 315.4L237.7 317.1L219.7 341.4Z"/><path fill="#ffaf00" d="M183.3 327.1L193.5 308.1L196.0 309.4L196.7 300.0L189.2 305.8L191.7 307.1L181.5 326.2ZM282.2 335.0L296.1 318.7L298.2 320.6L300.9 311.5L292.4 315.6L294.5 317.4L280.7 333.7ZM251.8 342.6L263.9 325.2L266.2 326.9L268.0 317.6L259.9 322.4L262.3 324.1L250.1 341.4ZM236.4 350.4L251.5 335.8L253.5 337.9L257.0 329.1L248.1 332.3L250.1 334.4L235.0 348.9Z"/><path fill="#bf0000" d="M190.9 327.1L206.2 299.9L208.7 301.3L209.6 291.9L202.0 297.5L204.5 298.9L189.1 326.2ZM213.7 342.6L232.3 317.5L234.6 319.2L236.7 310.0L228.4 314.6L230.7 316.3L212.0 341.4Z"/><path fill="#8f0000" d="M259.4 327.2L278.4 299.5L280.8 301.2L282.5 291.9L274.4 296.8L276.8 298.4L257.7 326.1ZM190.8 334.8L208.1 306.1L210.5 307.6L211.7 298.2L203.9 303.6L206.4 305.1L189.1 333.8Z"/><path fill="#af0000" d="M267.0 327.3L286.4 301.9L288.6 303.6L290.8 294.4L282.5 298.9L284.8 300.7L265.4 326.0Z"/><path fill="#ef0000" d="M274.6 327.2L291.2 303.3L293.5 305.0L295.3 295.7L287.2 300.6L289.5 302.2L273.0 326.1ZM206.0 342.6L223.2 318.8L225.5 320.5L227.4 311.2L219.2 315.9L221.6 317.6L204.4 341.4Z"/><path fill="#ff7000" d="M183.3 334.7L193.2 313.1L195.8 314.3L195.8 304.9L188.7 311.1L191.4 312.3L181.5 333.9ZM274.6 334.9L288.8 315.6L291.1 317.3L293.1 308.1L284.9 312.7L287.2 314.4L273.0 333.7Z"/><path fill="#ff1000" d="M259.4 334.9L275.2 312.0L277.6 313.6L279.3 304.4L271.2 309.2L273.6 310.9L257.7 333.8Z"/><path fill="#8fff70" d="M175.6 342.4L181.5 330.4L184.1 331.7L184.4 322.3L177.1 328.3L179.7 329.6L173.9 341.6ZM243.7 358.3L256.0 353.9L256.9 356.6L263.8 350.1L254.4 349.3L255.3 352.0L243.0 356.4Z"/><path fill="#ff5000" d="M183.3 342.5L194.8 320.0L197.4 321.3L197.9 311.9L190.5 317.7L193.0 319.1L181.5 341.5Z"/><path fill="#ff8f00" d="M259.3 342.6L274.0 325.3L276.2 327.2L278.8 318.1L270.3 322.2L272.5 324.0L257.8 341.3Z"/><path fill="#9fff60" d="M289.5 342.9L301.9 337.1L303.2 339.7L309.3 332.6L299.9 332.7L301.1 335.3L288.6 341.1ZM266.6 350.6L279.0 344.7L280.2 347.3L286.4 340.2L277.0 340.3L278.2 342.9L265.8 348.8Z"/><path fill="#0080ff" d="M181.8 350.5L183.5 351.6L181.9 354.0L191.2 355.6L186.2 347.6L184.6 350.0L182.9 348.8ZM174.6 364.0L172.7 364.2L172.4 361.4L164.3 366.1L173.2 369.1L172.9 366.2L174.9 366.0ZM258.8 389.0L260.5 388.7L261.0 391.5L268.7 386.0L259.5 383.9L260.1 386.7L258.4 387.0ZM235.4 427.3L237.1 428.0L236.1 430.6L245.5 430.1L238.8 423.4L237.8 426.1L236.1 425.4Z"/><path fill="#efff10" d="M213.2 350.6L229.5 345.4L230.4 348.1L237.4 341.8L228.0 340.7L228.9 343.5L212.5 348.7ZM220.9 350.6L236.7 343.9L237.8 346.5L244.2 339.6L234.8 339.4L235.9 342.0L220.1 348.7ZM196.6 357.3L196.1 374.9L193.2 374.8L196.8 383.5L201.0 375.0L198.1 374.9L198.6 357.4ZM204.2 357.3L204.3 374.4L201.4 374.4L205.3 383.0L209.1 374.4L206.3 374.4L206.2 357.3ZM196.6 365.1L197.6 382.2L194.7 382.3L199.1 390.7L202.4 381.9L199.6 382.1L198.6 364.9ZM204.2 365.0L204.2 382.5L201.4 382.5L205.2 391.1L209.1 382.5L206.2 382.5L206.2 365.0Z"/><path fill="#0030ff" d="M166.8 354.1L159.9 358.1L167.5 360.6Z"/><path fill="#50ffaf" d="M251.4 358.2L261.1 353.4L262.4 356.0L268.4 348.7L259.0 349.0L260.2 351.6L250.5 356.4ZM243.7 365.9L253.7 361.9L254.8 364.5L261.3 357.7L251.9 357.3L253.0 360.0L243.0 364.1ZM274.2 365.9L284.1 361.2L285.3 363.8L291.4 356.7L282.0 356.8L283.2 359.4L273.4 364.1ZM274.3 373.6L283.5 368.5L284.9 371.0L290.6 363.5L281.2 364.2L282.6 366.7L273.3 371.8ZM167.5 427.3L177.3 422.8L178.5 425.4L184.7 418.4L175.3 418.4L176.5 421.0L166.7 425.5Z"/><path fill="#60ff9f" d="M251.3 365.9L261.5 361.5L262.6 364.1L269.0 357.1L259.6 357.0L260.7 359.7L250.6 364.1ZM266.5 365.9L276.9 362.1L277.9 364.8L284.6 358.2L275.2 357.6L276.2 360.3L265.8 364.1ZM243.7 373.6L254.2 370.0L255.1 372.7L262.0 366.3L252.6 365.4L253.5 368.1L243.0 371.7ZM251.4 373.6L261.2 368.7L262.5 371.3L268.5 364.0L259.0 364.4L260.3 366.9L250.5 371.8Z"/><path fill="#0020ff" d="M158.5 369.8L153.2 374.9L160.5 375.5ZM212.9 406.1L219.0 403.2L212.8 400.6ZM213.9 408.4L207.0 408.7L211.8 413.6Z"/><path fill="#0000cf" d="M222.1 386.4L216.9 384.5L218.9 389.6ZM253.1 410.5L249.7 406.2L248.8 411.6Z"/><path fill="#0000ff" d="M228.1 390.3L233.1 388.1L228.1 385.8ZM253.2 388.3L251.6 383.1L248.7 387.7ZM230.1 396.9L230.8 391.3L226.1 394.4ZM238.0 395.3L234.9 390.7L233.5 396.1ZM245.0 394.2L240.1 391.9L241.6 397.1ZM252.9 396.9L253.6 391.4L249.0 394.5ZM205.7 401.2L200.3 402.3L204.8 405.6ZM221.0 405.6L225.4 402.3L220.0 401.1ZM250.1 405.4L255.6 405.2L251.8 401.3ZM184.4 410.2L180.5 406.4L180.3 411.9ZM187.7 411.1L190.0 416.0L192.2 411.0ZM237.5 409.4L232.0 407.1L233.9 412.7ZM257.0 409.2L254.5 414.6L260.2 412.8Z"/><path fill="#0000ef" d="M235.7 390.3L240.7 388.0L235.7 385.8ZM222.6 396.4L222.1 391.0L218.3 394.9ZM184.6 403.7L183.1 398.4L180.1 403.0ZM190.8 401.2L185.3 401.7L189.2 405.5ZM199.8 403.8L198.6 398.5L195.4 402.9ZM225.8 403.3L228.0 408.4L230.3 403.4ZM236.7 401.3L231.2 401.2L234.8 405.4ZM241.1 403.4L243.4 408.4L245.6 403.3ZM259.2 401.2L253.8 402.0L258.0 405.5ZM198.1 413.2L202.5 409.8L197.1 408.8Z"/><path fill="#0000df" d="M245.0 386.5L239.9 384.4L241.7 389.6ZM212.3 397.9L217.7 396.9L213.4 393.5ZM205.0 413.3L210.2 411.6L205.5 408.8ZM218.8 409.5L217.0 414.7L222.1 412.6Z"/></g><path d="M164.0 249.8L178.4 249.8M166.1 244.7L176.3 254.9M171.2 242.6L171.2 257.0M176.3 244.7L166.1 254.9" stroke="#f00" stroke-width="1.15" fill="none"/><path d="M61.0 320.5L75.4 320.5M63.1 315.4L73.3 325.6M68.2 313.3L68.2 327.7M73.3 315.4L63.1 325.6" stroke="#f00" stroke-width="1.15" fill="none"/><rect x="0" y="0" width="348.0" height="427.7" fill="none" stroke="#161616" stroke-width="1.4"/><path fill="none" stroke="#262626" stroke-width="1" d="M58.0 0v3.5M58.0 427.7v-3.5M0 71.3h3.5M348.0 71.3h-3.5M116.0 0v3.5M116.0 427.7v-3.5M0 142.6h3.5M348.0 142.6h-3.5M174.0 0v3.5M174.0 427.7v-3.5M0 213.8h3.5M348.0 213.8h-3.5M232.0 0v3.5M232.0 427.7v-3.5M0 285.1h3.5M348.0 285.1h-3.5M290.0 0v3.5M290.0 427.7v-3.5M0 356.4h3.5M348.0 356.4h-3.5"/><text x="-7.8" y="7.1" font-size="20.1" text-anchor="end" font-weight="normal" fill="#000" >37°N</text><text x="-7.2" y="77.3" font-size="15.4" text-anchor="end" font-weight="normal" fill="#000" >30'</text><text x="-7.8" y="149.7" font-size="20.1" text-anchor="end" font-weight="normal" fill="#000" >36°N</text><text x="-7.2" y="219.8" font-size="15.4" text-anchor="end" font-weight="normal" fill="#000" >30'</text><text x="-7.8" y="292.2" font-size="20.1" text-anchor="end" font-weight="normal" fill="#000" >35°N</text><text x="-7.2" y="362.4" font-size="15.4" text-anchor="end" font-weight="normal" fill="#000" >30'</text><text x="-7.8" y="434.8" font-size="20.1" text-anchor="end" font-weight="normal" fill="#000" >34°N</text><text x="2.8" y="448.6" font-size="20.1" text-anchor="middle" font-weight="normal" fill="#000" >77°W</text><text x="57.7" y="444.6" font-size="15.4" text-anchor="middle" font-weight="normal" fill="#000" >30'</text><text x="118.8" y="448.6" font-size="20.1" text-anchor="middle" font-weight="normal" fill="#000" >76°W</text><text x="173.7" y="444.6" font-size="15.4" text-anchor="middle" font-weight="normal" fill="#000" >30'</text><text x="234.8" y="448.6" font-size="20.1" text-anchor="middle" font-weight="normal" fill="#000" >75°W</text><text x="289.7" y="444.6" font-size="15.4" text-anchor="middle" font-weight="normal" fill="#000" >30'</text><text x="350.8" y="448.6" font-size="20.1" text-anchor="middle" font-weight="normal" fill="#000" >74°W</text><rect x="10.0" y="15.8" width="112.5" height="25.5" fill="url(#jet)" stroke="#262626" stroke-width="1"/><text x="285.3" y="101.9" font-size="20.1" text-anchor="start" font-weight="normal" fill="#000" >10 km</text><path d="M307.0 108.0H320.0" stroke="#000" stroke-width="4.2" stroke-linecap="round"/><text x="10.0" y="-0.3" font-size="17.3" text-anchor="middle" font-weight="normal" fill="#262626" >0</text><text x="12.1" y="-0.3" font-size="17.3" text-anchor="middle" font-weight="normal" fill="#262626" >1</text><text x="14.1" y="-0.3" font-size="17.3" text-anchor="middle" font-weight="normal" fill="#262626" >2</text><text x="16.1" y="-0.3" font-size="17.3" text-anchor="middle" font-weight="normal" fill="#262626" >3</text><text x="18.2" y="-0.3" font-size="17.3" text-anchor="middle" font-weight="normal" fill="#262626" >4</text><text x="20.2" y="-0.3" font-size="17.3" text-anchor="middle" font-weight="normal" fill="#262626" >5</text><text x="22.3" y="-0.3" font-size="17.3" text-anchor="middle" font-weight="normal" fill="#262626" >6</text><text x="24.3" y="-0.3" font-size="17.3" text-anchor="middle" font-weight="normal" fill="#262626" >7</text><text x="26.4" y="-0.3" font-size="17.3" text-anchor="middle" font-weight="normal" fill="#262626" >8</text><text x="28.4" y="-0.3" font-size="17.3" text-anchor="middle" font-weight="normal" fill="#262626" >9</text><text x="30.5" y="-0.3" font-size="17.3" text-anchor="middle" font-weight="normal" fill="#262626" >10</text><text x="32.5" y="-0.3" font-size="17.3" text-anchor="middle" font-weight="normal" fill="#262626" >11</text><text x="34.6" y="-0.3" font-size="17.3" text-anchor="middle" font-weight="normal" fill="#262626" >12</text><text x="36.6" y="-0.3" font-size="17.3" text-anchor="middle" font-weight="normal" fill="#262626" >13</text><text x="38.7" y="-0.3" font-size="17.3" text-anchor="middle" font-weight="normal" fill="#262626" >14</text><text x="40.8" y="-0.3" font-size="17.3" text-anchor="middle" font-weight="normal" fill="#262626" >15</text><text x="42.8" y="-0.3" font-size="17.3" text-anchor="middle" font-weight="normal" fill="#262626" >16</text><text x="44.8" y="-0.3" font-size="17.3" text-anchor="middle" font-weight="normal" fill="#262626" >17</text><text x="46.9" y="-0.3" font-size="17.3" text-anchor="middle" font-weight="normal" fill="#262626" >18</text><text x="48.9" y="-0.3" font-size="17.3" text-anchor="middle" font-weight="normal" fill="#262626" >19</text><text x="51.0" y="-0.3" font-size="17.3" text-anchor="middle" font-weight="normal" fill="#262626" >20</text><text x="53.0" y="-0.3" font-size="17.3" text-anchor="middle" font-weight="normal" fill="#262626" >21</text><text x="55.1" y="-0.3" font-size="17.3" text-anchor="middle" font-weight="normal" fill="#262626" >22</text><text x="57.1" y="-0.3" font-size="17.3" text-anchor="middle" font-weight="normal" fill="#262626" >23</text><text x="59.2" y="-0.3" font-size="17.3" text-anchor="middle" font-weight="normal" fill="#262626" >24</text><text x="61.2" y="-0.3" font-size="17.3" text-anchor="middle" font-weight="normal" fill="#262626" >25</text><text x="63.3" y="-0.3" font-size="17.3" text-anchor="middle" font-weight="normal" fill="#262626" >26</text><text x="65.3" y="-0.3" font-size="17.3" text-anchor="middle" font-weight="normal" fill="#262626" >27</text><text x="67.4" y="-0.3" font-size="17.3" text-anchor="middle" font-weight="normal" fill="#262626" >28</text><text x="69.4" y="-0.3" font-size="17.3" text-anchor="middle" font-weight="normal" fill="#262626" >29</text><text x="71.5" y="-0.3" font-size="17.3" text-anchor="middle" font-weight="normal" fill="#262626" >30</text><text x="73.5" y="-0.3" font-size="17.3" text-anchor="middle" font-weight="normal" fill="#262626" >31</text><text x="75.6" y="-0.3" font-size="17.3" text-anchor="middle" font-weight="normal" fill="#262626" >32</text><text x="77.6" y="-0.3" font-size="17.3" text-anchor="middle" font-weight="normal" fill="#262626" >33</text><text x="79.7" y="-0.3" font-size="17.3" text-anchor="middle" font-weight="normal" fill="#262626" >34</text><text x="81.8" y="-0.3" font-size="17.3" text-anchor="middle" font-weight="normal" fill="#262626" >35</text><text x="83.8" y="-0.3" font-size="17.3" text-anchor="middle" font-weight="normal" fill="#262626" >36</text><text x="85.8" y="-0.3" font-size="17.3" text-anchor="middle" font-weight="normal" fill="#262626" >37</text><text x="87.9" y="-0.3" font-size="17.3" text-anchor="middle" font-weight="normal" fill="#262626" >38</text><text x="89.9" y="-0.3" font-size="17.3" text-anchor="middle" font-weight="normal" fill="#262626" >39</text><text x="92.0" y="-0.3" font-size="17.3" text-anchor="middle" font-weight="normal" fill="#262626" >40</text><text x="94.0" y="-0.3" font-size="17.3" text-anchor="middle" font-weight="normal" fill="#262626" >41</text><text x="96.1" y="-0.3" font-size="17.3" text-anchor="middle" font-weight="normal" fill="#262626" >42</text><text x="98.1" y="-0.3" font-size="17.3" text-anchor="middle" font-weight="normal" fill="#262626" >43</text><text x="100.2" y="-0.3" font-size="17.3" text-anchor="middle" font-weight="normal" fill="#262626" >44</text><text x="102.2" y="-0.3" font-size="17.3" text-anchor="middle" font-weight="normal" fill="#262626" >45</text><text x="104.3" y="-0.3" font-size="17.3" text-anchor="middle" font-weight="normal" fill="#262626" >46</text><text x="106.3" y="-0.3" font-size="17.3" text-anchor="middle" font-weight="normal" fill="#262626" >47</text><text x="108.4" y="-0.3" font-size="17.3" text-anchor="middle" font-weight="normal" fill="#262626" >48</text><text x="110.4" y="-0.3" font-size="17.3" text-anchor="middle" font-weight="normal" fill="#262626" >49</text><text x="112.5" y="-0.3" font-size="17.3" text-anchor="middle" font-weight="normal" fill="#262626" >50</text><text x="114.5" y="-0.3" font-size="17.3" text-anchor="middle" font-weight="normal" fill="#262626" >51</text><text x="116.6" y="-0.3" font-size="17.3" text-anchor="middle" font-weight="normal" fill="#262626" >52</text><text x="118.6" y="-0.3" font-size="17.3" text-anchor="middle" font-weight="normal" fill="#262626" >53</text><text x="120.7" y="-0.3" font-size="17.3" text-anchor="middle" font-weight="normal" fill="#262626" >54</text><text x="122.7" y="-0.3" font-size="17.3" text-anchor="middle" font-weight="normal" fill="#262626" >55</text><text x="124.8" y="-0.3" font-size="17.3" text-anchor="middle" font-weight="normal" fill="#262626" >56</text><text x="126.8" y="-0.3" font-size="17.3" text-anchor="middle" font-weight="normal" fill="#262626" >57</text><text x="128.9" y="-0.3" font-size="17.3" text-anchor="middle" font-weight="normal" fill="#262626" >58</text><text x="66.2" y="-28.3" font-size="20.7" text-anchor="middle" font-weight="normal" fill="#262626" >cm/s</text><text x="275.4" y="63.9" font-size="20.1" text-anchor="start" font-weight="normal" fill="#000" >50 cm/s</text><text x="174.0" y="-13.2" font-size="25.1" text-anchor="middle" font-weight="bold" fill="#000" >2023-05-02 22:00</text></g>
<g transform="translate(459.0 142.5)"><clipPath id="c459_142"><rect x="0" y="0" width="348.0" height="427.7"/></clipPath><g clip-path="url(#c459_142)"><g stroke="#000" stroke-width="1.1" stroke-linejoin="round"><path fill="#80e680" d="M0.0 0.0L55.0 0.0L58.3 5.0L59.4 10.6L57.6 15.3L62.0 14.2L68.8 15.2L71.7 11.6L73.5 10.5L75.2 16.4L77.5 17.0L76.0 10.0L77.5 5.5L81.9 4.8L89.2 8.4L96.5 10.6L103.7 12.0L109.6 10.6L114.7 9.9L117.2 12.0L117.9 19.3L120.0 30.0L122.6 41.1L126.5 50.2L128.5 55.7L131.4 68.0L135.0 85.3L138.9 96.9L142.7 110.1L147.4 123.3L154.0 136.4L159.6 148.7L165.3 160.9L170.0 172.2L173.8 181.6L176.6 191.0L177.9 198.0L178.0 204.4L176.8 213.9L175.4 223.3L173.6 232.7L172.2 240.2L171.6 247.7L171.2 251.2L165.3 252.8L159.6 253.8L152.1 256.6L144.6 260.4L137.1 263.2L129.5 266.5L122.0 270.3L117.3 273.5L112.6 277.3L106.9 282.0L99.4 287.7L94.1 293.5L84.7 302.0L75.3 311.4L69.6 318.0L64.0 324.6L60.2 330.2L56.5 336.8L54.1 345.3L52.2 341.5L48.9 335.9L45.2 333.0L37.6 330.2L28.2 328.8L18.8 329.3L9.4 331.1L0.0 334.0Z"/><path fill="#fff" d="M32.5 128.7L34.8 130.1L35.3 134.8L37.6 138.6L41.4 139.0L44.2 137.6L46.1 140.0L48.9 142.8L54.6 143.3L60.2 141.4L64.0 137.6L68.7 134.8L74.4 132.4L79.1 131.5L80.0 129.6L75.3 127.7L72.5 125.9L68.7 121.6L64.9 117.4L65.9 116.9L70.6 121.6L74.4 124.9L78.1 126.3L81.9 128.7L86.6 130.1L91.3 130.1L93.6 128.7L90.4 125.4L87.5 120.7L85.2 117.4L86.1 116.9L89.4 120.2L93.2 124.9L96.0 125.4L101.6 124.9L106.4 124.4L108.7 122.6L107.3 116.9L104.5 112.2L104.1 112.9L98.5 107.3L92.8 104.4L93.8 101.6L94.7 100.7L99.4 103.5L103.2 106.3L106.9 111.0L112.6 115.7L118.2 118.6L125.8 120.9L126.7 119.5L124.8 117.6L122.9 113.9L125.8 109.1L129.5 106.3L132.4 103.5L134.2 106.3L131.4 111.0L130.5 115.7L131.4 123.3L135.2 128.9L139.9 134.1L138.9 128.0L137.1 121.4L135.2 115.7L137.1 111.0L134.5 108.0L131.0 102.0L127.0 94.0L123.0 86.0L118.0 78.0L114.5 70.0L116.0 60.0L117.5 50.0L117.5 42.0L119.0 38.0L120.6 41.0L124.3 50.2L126.3 55.7L129.2 68.0L132.8 85.3L136.7 96.9L140.5 110.1L145.3 123.3L152.0 136.4L157.6 148.7L163.3 160.9L168.1 172.2L172.0 181.6L174.9 191.0L176.2 198.0L176.3 204.4L175.1 213.9L173.7 223.3L171.9 232.7L170.6 240.2L169.6 246.5L165.5 251.0L160.0 252.2L152.0 255.2L145.0 258.8L137.0 261.8L130.0 264.8L122.0 268.8L113.0 275.3L104.0 282.8L95.0 290.8L86.0 299.0L77.0 308.0L71.0 314.5L66.0 320.0L61.5 326.0L58.0 331.0L56.0 333.0L57.0 329.0L59.5 324.0L62.5 319.0L65.9 314.8L67.8 312.0L69.6 309.1L71.5 306.3L74.4 303.5L77.2 300.7L79.1 297.9L81.9 295.0L83.8 292.2L80.9 288.4L78.1 284.7L74.4 282.8L71.5 289.4L69.6 292.2L65.9 295.0L63.1 292.2L64.9 287.5L65.9 282.8L64.9 278.1L62.1 276.2L60.2 278.1L58.4 281.9L56.5 285.6L52.7 286.6L47.1 289.4L42.4 288.4L39.5 290.3L35.8 292.2L32.0 294.1L28.2 297.4L24.5 296.0L18.8 294.1L13.2 291.3L7.5 287.5L2.8 283.7L0.0 281.9L0.0 279.0L1.9 278.1L4.7 280.0L8.5 282.8L12.2 285.6L16.9 288.4L20.7 290.3L23.5 291.3L27.3 288.4L31.1 285.6L35.8 282.8L39.5 280.0L43.3 277.1L47.1 274.3L50.8 271.5L53.6 265.9L49.9 262.1L52.7 258.3L56.5 255.5L59.3 252.7L62.1 248.9L61.2 245.1L56.5 242.3L50.8 240.4L44.2 238.6L37.6 235.7L31.1 232.9L24.5 230.1L18.8 227.7L11.3 225.4L5.6 223.5L2.8 221.6L0.0 220.2L0.0 217.9L1.9 216.9L5.6 218.8L12.2 221.6L18.8 224.4L26.4 227.3L32.0 226.3L39.5 228.2L45.2 230.1L49.4 231.5L48.9 228.2L47.1 222.6L45.2 216.9L44.2 213.1L47.1 210.8L56.5 210.8L60.2 211.7L56.5 213.1L48.9 213.1L47.1 215.0L49.9 216.9L51.8 221.6L54.6 227.3L58.4 231.0L62.1 232.9L65.9 230.1L67.8 226.3L69.6 230.1L67.8 234.8L70.6 236.7L75.3 238.6L80.9 235.7L86.6 234.8L92.2 236.7L97.9 239.5L103.5 235.7L109.2 232.9L112.9 226.3L116.7 218.8L121.1 212.9L125.8 211.0L127.6 206.3L129.5 201.6L132.4 204.4L137.1 205.4L142.7 203.5L145.5 200.4L147.4 197.6L145.5 193.9L144.6 189.1L147.4 190.1L148.8 186.3L147.4 181.6L147.9 176.0L146.5 167.5L143.6 159.0L140.8 152.4L137.1 148.7L131.4 146.8L125.8 147.7L122.0 149.6L123.9 152.4L121.1 155.3L117.3 159.0L118.6 159.3L117.2 164.0L116.7 169.6L116.2 177.1L115.3 184.7L113.9 191.3L112.0 193.6L107.3 190.8L110.1 188.4L111.5 182.8L110.6 175.3L109.6 167.7L111.1 162.1L114.4 156.4L114.8 150.8L112.9 147.0L109.2 145.1L103.5 144.7L96.9 144.7L90.4 145.6L84.7 147.5L80.9 149.4L79.1 151.7L76.2 152.7L72.9 151.3L71.5 147.0L67.8 146.6L62.1 148.0L56.5 149.4L50.8 150.8L44.2 151.7L37.6 152.2L32.0 151.3L32.9 148.9L36.2 145.1L36.2 142.3L33.4 137.6L32.0 132.9L32.5 128.7ZM0.0 326.5L10.0 326.0L20.0 325.5L28.0 326.5L36.0 329.0L44.0 331.5L36.0 330.2L28.0 328.5L20.0 328.0L10.0 329.0L0.0 331.0Z"/><path fill="#80e680" d="M147.4 153.4L152.1 152.4L155.9 157.1L158.7 161.9L161.5 167.5L165.3 172.2L168.1 175.0L164.4 176.4L159.6 173.1L155.9 169.4L154.0 165.6L153.1 160.9L150.2 157.1ZM63.7 0.4L71.0 0.4L67.3 4.4ZM118.0 63.0L124.0 62.0L129.5 66.0L130.0 71.5L124.0 72.5L118.5 70.0ZM124.0 82.0L128.5 84.0L131.5 90.0L128.0 91.0L124.5 87.0ZM131.0 98.0L134.0 100.0L137.0 108.0L134.0 107.0ZM127.6 152.5L131.0 151.3L134.2 152.8L131.0 154.3Z"/></g><path transform="scale(.5)" fill="none" stroke="#000" stroke-width="4.2" stroke-linecap="round" d="M0 0m22 426zm-6 3zm-4 0zm1 0zm-5 3zm-5 0zm6 1zm-2 0zm-1 1zm11 0zm5 0zm-16 1zm11 0zm-8 1zm10 1zm-8 0zm2 0zm5 1zm4 1zm-8 2zm-12 2zm1 0zm4 1zm-3 1zm1 1zm7 1zm-9 0zm8 1zm-2 0zm-1 0zm8 1zm2 1zm-14 0zm19 1zm-15 0zm7 1zm1 2zm-1 0zm3 1zm-1 0zm2 1zm-3 2zm-8 1zm7 2zm6 2zm-3 2zm0 5zm0 80zm-15 3zm13 1zm-5 0zm11 1zm-10 1zm2 1zm2 1zm7 0zm-1 1zm-11 0zm-1 0zm-7 3zm15 2zm1 1zm1 0zm-17 2zm17 0zm-18 2zm20 0zm1 0zm-17 3zm3 2zm3 0zm2 0zm-6 1zm-2 0zm7 2zm9 1zm-6 1zm3 1zm-2 0zm6 0zm-5 1zm4 0zm-1 0zm-5 1zm-10 1zm15 1zm-1 1zm-10 1zm10 2zm2 1zm-5 2zm-2 4zm5 2zm-6 4zm-7 60zm-4 4zm26-37zm-1-9zm18-15zm-1-3zm-16-1zm10 0zm-12-3zm-2-1zm11-2zm11 0zm-23-1zm3 0zm5 0zm7-1zm5 0zm-3 0zm-2-1zm6 0zm-3 0zm-13 0zm4-1zm3 0zm-2-2zm-7 0zm-1-2zm0-1zm2 0zm-4-3zm20-3zm1 0zm-2-1zm0-1zm-8-1zm8-2zm-4 0zm-6 0zm4-1zm-6-1zm-3-1zm14 0zm-10-1zm12-1zm-19 0zm6 0zm-5 0zm-2 0zm6-1zm13 0zm-13-1zm-1 0zm16-2zm-20 0zm15 0zm-13 0zm12 0zm2-4zm4-6zm-7-3zm5-4zm-17-6zm0-1zm12-3zm-8-48zm8-8zm6-9zm-9-3zm12 0zm-18-1zm16-1zm-2 0zm-6 0zm10-1zm-12 0zm11-3zm-9 0zm-11-1zm16-1zm1-2zm-15 0zm18 0zm-4-1zm-4 0zm6-1zm-2 0zm-5 0zm3 0zm1 0zm-13-1zm-2 0zm4-2zm-5-1zm1 0zm2-1zm-4 0zm20-2zm1 0zm-14-2zm11 0zm-1 0zm-5-1zm8 0zm-19 0zm12-1zm-2-1zm-3-1zm0-1zm10 0zm-15 0zm12 0zm-8-1zm12-1zm-2 0zm-8 0zm2-2zm-9-1zm11 0zm1 0zm-3-1zm-4-1zm0-1zm0-1zm-7-6zm10-5zm-8-7zm19-134zm0-2zm1-26zm-3 0zm1-6zm20-21zm-1 20zm1 3zm1 0zm5 1zm-13 3zm10 0zm-10 1zm4 1zm1 0zm9 0zm-4 0zm-6 1zm7 1zm-20 0zm7 0zm13 1zm-8 1zm-3 0zm1 4zm4 0zm1 1zm5 1zm-5 0zm-9 1zm6 1zm3 1zm-1 1zm-1 0zm-5 0zm8 1zm2 1zm-3 1zm3 0zm-1 1zm-5 1zm-5 0zm8 0zm-4 1zm-3 0zm0 2zm7 0zm-2 2zm9 0zm-1 0zm-5 1zm7 0zm-19 3zm9 1zm9 2zm1 3zm-5 3zm-4 1zm4 1zm-3 1zm0 1zm1 1zm-4 0zm0 1zm-5 0zm-2 0zm7 1zm-11 1zm15 0zm7 4zm-12 0zm1 7zm7 3zm3 88zm1 13zm-3 0zm-5 9zm-2 0zm0 5zm5 2zm-1 3zm-3 1zm-4 1zm-8 0zm2 4zm10 0zm8 1zm-13 1zm-8 1zm14 1zm2 0zm5 1zm-18 1zm9 1zm-7 1zm15 0zm-11 1zm-4 0zm9 0zm8 1zm-18 0zm-5 0zm14 1zm-8 0zm1 1zm14 0zm-20 8zm1 1zm6 1zm-6 0zm4 1zm3 0zm2 1zm12 0zm-7 1zm-13 0zm5 0zm2 1zm8 1zm-8 0zm13 1zm-8 1zm6 0zm-1 1zm0 2zm-13 0zm-1 3zm-4 1zm9 3zm-3 8zm10 6zm-2 44zm-3 4zm7 11zm0 1zm3 1zm-1 1zm-4 2zm3 3zm-6 1zm6 0zm2 1zm-6 1zm-11 0zm14 0zm-8 2zm5 1zm-5 0zm-2 1zm-7 0zm10 2zm-2 0zm-5 2zm3 1zm-8 0zm5 2zm-2 2zm-4 1zm18 2zm-2 8zm6 0zm-6 2zm2 1zm-4 1zm-13 1zm13 0zm-8 1zm-3 0zm16 1zm-8 0zm-7 1zm3 0zm2 1zm5 1zm3 0zm-1 2zm-12 4zm1 0zm6 0zm2 17zm-4 18zm5 10zm4 5zm-14 3zm29-1zm5-3zm7-12zm-19-43zm7-1zm0-2zm14-1zm-23-2zm0-2zm3 0zm14-2zm4 0zm-8-1zm10-1zm-20-1zm7 0zm-10 0zm7 0zm2-1zm-5 0zm-3-1zm1 0zm3 0zm3 0zm-5-1zm20 0zm-13-1zm8 0zm-9-1zm-2 0zm6-2zm-2-1zm3 0zm-12-6zm-2-7zm1-5zm2 0zm0-1zm4-2zm-4-2zm12-2zm-1-1zm-2-1zm3-1zm1-3zm4-1zm-1-1zm-13-5zm12-1zm-2-11zm-10-4zm17-1zm-2-4zm2-4zm0-8zm-11-1zm9-11zm-5-1zm-8-1zm0-5zm-2 0zm4-3zm7-1zm5-2zm1 0zm-8 0zm-2-1zm-1 0zm7-2zm-2 0zm-8-1zm9 0zm-7-1zm-9-1zm1-1zm1-2zm0-1zm14-5zm0-7zm-3-2zm-9-1zm17-1zm-8 0zm-3 0zm-8-1zm9 0zm8-1zm-19 0zm8 0zm-10 0zm8 0zm-5-1zm18 0zm-16 0zm10-1zm3 0zm1 0zm-9 0zm-7 0zm11-1zm9 0zm-6 0zm-15-1zm8-1zm2 0zm3 0zm4 0zm3-1zm-19 0zm10-1zm2 0zm1 0zm3 0zm-1-1zm-1-1zm-2 0zm2-1zm4 0zm-14-3zm8 0zm-1 0zm1-1zm4-2zm-6 0zm5 0zm-2-1zm-9-2zm9-1zm-13-1zm14 0zm-3 0zm1-2zm-5-1zm-1-1zm1-1zm-10-2zm14 0zm-3-1zm4 0zm-2 0zm5-2zm-2 0zm3-1zm3-1zm-13 0zm14 0zm-7 0zm-3 0zm4-1zm-3 0zm8 0zm-7-2zm7 0zm-10-1zm3-1zm0-12zm7-5zm-10-80zm3-3zm-14-1zm3-3zm5-2zm-6 0zm12-1zm6 0zm-9-1zm-5 0zm8-1zm-14-1zm12 0zm10-1zm-16 0zm1-1zm15-1zm-3-1zm-7-6zm-13-5zm7-13zm11-1zm-1-1zm-13 0zm0-1zm2-1zm-2 0zm-2-1zm18 0zm2-2zm1 0zm-18 0zm-3-5zm2-2zm-4 0zm7-1zm-4-1zm1 0zm6-2zm7 0zm-15 0zm9-2zm-10-1zm15-1zm-4-3zm28-250zm-1 3zm-5 0zm2 1zm7 1zm-4 0zm3 0zm-8 3zm7 1zm-1 2zm3 2zm1 1zm-8 0zm8 1zm-1 1zm3 0zm-6 0zm3 1zm-1 0zm1 1zm-2 0zm-5 2zm1 1zm7 0zm-4 1zm-9 1zm5 1zm-1 0zm1 1zm0 2zm8 177zm-7 7zm8 4zm-9 8zm10 25zm-12 18zm-6 0zm17 1zm-12 0zm-4 4zm14 0zm-13 0zm-4 2zm0 1zm12 0zm-3 1zm0 2zm-5 0zm15 0zm-12 2zm-3 0zm9 0zm2 1zm-3 1zm-2 0zm-10 0zm14 0zm-8 1zm-7 0zm1 0zm7 1zm-2 0zm-3 8zm17 4zm-13 1zm4 1zm-2 0zm7 0zm1 1zm-7 1zm-5 1zm-6 0zm10 0zm10 1zm-5 0zm-4 0zm-7 1zm3 1zm-5 0zm2 0zm10 3zm8 0zm-20 1zm5 4zm-7 0zm5 0zm15 85zm-11 7zm5 2zm1 0zm-15 0zm0 3zm10 0zm1 0zm-1 2zm-4 1zm-5 1zm8 2zm6 0zm-2 0zm10 1zm-16 0zm0 1zm8 0zm-5 1zm4 0zm8 0zm-5 0zm-1 0zm-6 1zm7 0zm6 0zm-16 0zm5 1zm2 0zm-11 2zm20 0zm-1 2zm-19 0zm7 0zm-5 1zm-2 0zm3 1zm11 0zm-5 0zm-10 0zm2 1zm8 0zm-3 1zm3 0zm-10 0zm-2 0zm13 1zm-13 0zm8 0zm-5 0zm17 0zm-16 0zm-2 1zm13 0zm0 1zm-3 1zm-7 0zm2 0zm13 1zm3 0zm-6 0zm-7 1zm-2 2zm14 0zm-11 2zm1 0zm1 1zm-4 1zm3 0zm1 1zm-4 4zm6 1zm-4 1zm6 1zm-3 2zm5 0zm2 0zm-8 0zm-3 1zm10 0zm1 0zm-6 0zm-15 0zm18 1zm3 0zm0 1zm-1 0zm-4 1zm1 0zm-16 2zm3 14zm2 8zm-1 1zm3 4zm-6 0zm9 1zm-5 1zm15 0zm-10 1zm-8 2zm0 1zm14 0zm-1 0zm6 1zm0 1zm-8 3zm-4 1zm10 1zm1 0zm-15 1zm7 1zm-13 1zm23 0zm0 1zm-5 0zm-16 0zm21 1zm-9 1zm3 1zm-6 1zm11 0zm-16 0zm-4 1zm9 0zm8 0zm-1 0zm-18 1zm22 1zm-2 0zm-6 1zm-9 2zm5 0zm4 1zm-2 1zm-9 1zm-3 5zm5 2zm10 3zm-7 0zm-5 2zm-2 0zm1 0zm1 3zm-3 1zm10 0zm-4 0zm-1 0zm5 1zm1 0zm-8 0zm3 1zm2 1zm-7 2zm0 1zm6 1zm-1 0zm-3 2zm-3 1zm2 3zm1 0zm6 4zm7 7zm7 8zm-1 1zm0 6zm-1 3zm-6 0zm-5 1zm1 0zm10 0zm-3 1zm-7 0zm-4 0zm4 1zm5 0zm1 0zm-9 1zm15 2zm-9 0zm-5 0zm-2 2zm14 0zm-19 0zm-2 0zm23 1zm-19 1zm16 3zm1 2zm-10 16zm-9 1zm18 8zm1 12zm-2 3zm1 0zm3 3zm-5 1zm-1 3zm3 1zm-4 3zm3 1zm1 0zm-15 1zm7 2zm0 1zm10 0zm-11 1zm12 0zm-8 2zm-9 1zm13 1zm-6 1zm5 3zm-8 0zm8 2zm-2 0zm1 0zm2 1zm-4 0zm1 0zm2 1zm-11 1zm5 0zm3 0zm-3 1zm2 0zm-1 1zm9 1zm-5 0zm-6 1zm-10 0zm15 0zm-3 2zm9 0zm-16 0zm9 0zm6 2zm-4 1zm-10 0zm11 0zm-8 0zm-6 1zm6 0zm-6 3zm11 4zm0 2zm-8 3zm15 3zm-11 2zm16-22zm-3-5zm3-5zm1-1zm2-1zm0-1zm-3-1zm2 0zm-3-2zm6 0zm2-4zm-10-1zm3-1zm-2 0zm1 0zm1-1zm11 0zm-1-1zm3 0zm-12-2zm0-2zm15-2zm-19 0zm8-1zm12 0zm3-1zm-11-3zm-2 0zm5-2zm-11-1zm0-1zm14 0zm-6-1zm3 0zm-1 0zm-8-1zm-2 0zm11 0zm-4-2zm11-1zm-4 0zm-11 0zm9-1zm-4-1zm-2-1zm10-1zm-6-1zm5 0zm-15 0zm6-1zm9-1zm-4 0zm0-3zm0-1zm0-1zm-8-1zm5-4zm-3 0zm8-1zm5-1zm-3-1zm4 0zm0-1zm-9-1zm6 0zm-16 0zm18-1zm-14 0zm15-1zm-11 0zm4-1zm-7-1zm-3 0zm-1-1zm17-2zm-13-1zm10 0zm-2 0zm-13 0zm5-1zm6 0zm2-1zm3 0zm-20-1zm1 0zm21-1zm-3 0zm-17 0zm2-2zm-1 0zm17 0zm-17-1zm17-1zm-14-2zm-4-2zm0-1zm-2-1zm10 0zm-7-1zm5 0zm1-1zm-1 0zm-7-1zm4 0zm3-2zm0-1zm2-1zm-2 0zm3-1zm-5-1zm6 0zm3 0zm-14-1zm11 0zm0-1zm-4-1zm3 0zm-1 0zm-2-1zm2 0zm-3-1zm0-2zm1 0zm-5-1zm0-1zm2 0zm-1 0zm5-1zm0-2zm-5 0zm-3-12zm3-14zm-3-28zm2-1zm-3-3zm3-1zm1 0zm-2-4zm-1-1zm21-17zm0-1zm-2-3zm-1-1zm2 0zm1-3zm-1-1zm-18-1zm3 0zm17 0zm-18 0zm0-1zm17 0zm-14-1zm-7-1zm6 0zm-4 0zm1-1zm6-1zm-5 0zm6 0zm8 0zm-10-1zm-8 0zm4-1zm8-1zm3 0zm-9-1zm1 0zm14 0zm-6 0zm3-1zm-1 0zm-3 0zm7 0zm-6-2zm-3-2zm-2 0zm-2-1zm5-1zm-4-2zm-2 0zm7-2zm3-1zm-10-1zm-8-1zm2-1zm-2-1zm1-1zm1-3zm3-3zm12 0zm-17-4zm2 0zm2 0zm5-2zm-8-1zm1 0zm3-2zm15-1zm-15-1zm-1-1zm-4-1zm11-5zm-3-4zm1 0zm11-77zm-4-6zm1-1zm5-1zm-8-4zm-14-2zm19-3zm2-2zm-12-2zm14-2zm-20-3zm2-2zm15 0zm-1-1zm-3-1zm4-1zm-11 0zm-8 0zm11 0zm2-1zm5-1zm1 0zm-20 0zm12 0zm5-1zm-14-1zm7 0zm1 0zm8-1zm-3-1zm0-3zm-15-9zm2-5zm-3-2zm7 0zm-6-3zm8-1zm6-1zm5-1zm-11-1zm5 0zm-4-1zm10 0zm-7-1zm4-3zm4-1zm-4-2zm-10-4zm-2 0zm17 0zm0-2zm1 0zm-7 0zm7-1zm-6-2zm3-1zm1 0zm-21-2zm12-1zm2 0zm2-2zm-12 0zm1-1zm16 0zm-4-2zm4 0zm1 0zm-7-1zm-3 0zm-11-1zm22 0zm-11 0zm-4-1zm12-1zm-19 0zm9-1zm-8 0zm9 0zm12 0zm-19 0zm6-1zm10 0zm-4 0zm-11-1zm6-2zm-2 0zm9 0zm-9-1zm1 0zm3 0zm-3-2zm-5 0zm8-1zm-5-1zm6-1zm-8-1zm0-3zm4-2zm2-2zm9-1zm2-1zm0-188zm-14 0zm-9 0zm13-1zm8 0zm2-2zm-3-1zm-15-2zm-4-4zm-1-12zm43 2zm1 1zm2 1zm-4 1zm4 0zm1 0zm-9 2zm3 0zm5 0zm0 1zm-8 0zm4 0zm4 1zm1 0zm-2 1zm-3 0zm-6 0zm10 1zm-8 0zm-5 1zm-6 2zm17 0zm3 1zm-22 1zm11 1zm-8 1zm12 0zm-7 0zm-3 1zm5 0zm-1 1zm-10 1zm12 0zm-10 1zm-1 0zm21 160zm-15 22zm15 2zm-9 7zm9 2zm-15 5zm5 1zm7 0zm-1 1zm3 1zm-20 1zm8 1zm5 3zm7 1zm-16 0zm15 0zm-20 1zm1 0zm21 4zm-6 0zm-10 1zm-3 0zm-1 1zm3 1zm11 2zm-6 0zm-3 1zm-1 0zm17 0zm-7 0zm-1 0zm-5 0zm12 1zm-3 0zm1 0zm1 1zm-2 0zm-5 0zm4 0zm-8 1zm9 1zm-3 0zm2 0zm-1 2zm1 0zm-8 3zm1 0zm-3 0zm-4 1zm-4 0zm9 0zm1 0zm6 1zm-9 0zm-2 0zm2 1zm8 1zm-2 1zm-2 1zm-7 0zm10 0zm-9 1zm-5 0zm3 0zm0 1zm-1 0zm-2 1zm0 30zm19 3zm3 2zm-6 1zm-15 2zm4 1zm17 0zm-22 0zm8 1zm11 0zm-19 0zm2 0zm13 0zm-6 0zm-2 1zm0 1zm-2 1zm-1 0zm17 11zm-16 93zm-5 22zm0 11zm12 8zm6 2zm-13 1zm12 0zm2 2zm-8 2zm-10 2zm13 1zm-5 1zm1 0zm-3 0zm16 1zm-3 0zm-13 0zm4 1zm-6 0zm17 1zm-4 0zm-16 2zm20 0zm-21 0zm14 0zm-2 0zm-4 1zm-3 1zm-6 0zm4 0zm0 1zm5 1zm-5 1zm5 0zm-4 95zm5 1zm-1 2zm1 0zm-3 1zm7 1zm3 1zm-2 0zm-13 0zm-1 1zm4 1zm13 0zm-11 0zm10 2zm-7 0zm10 1zm-7 0zm-2 0zm-2 1zm-3 0zm11 0zm1 0zm-14 1zm14 0zm4 1zm-12 1zm8 0zm-4 2zm6 0zm-16 0zm13 1zm2 0zm-14 2zm14 1zm-18 1zm0 1zm8 3zm3 1zm-1 0zm-8 2zm7 1zm-8 0zm6 1zm-5 1zm2 1zm17 1zm-16 0zm15 1zm0 1zm-19 0zm0 3zm15 1zm0 2zm-5 5zm-1 0zm6 1zm-8 2zm-2 1zm-1 1zm0 1zm-2 2zm-3 1zm2 1zm-1 1zm18 2zm-9 12zm14-32zm5-4zm-6-3zm1-1zm4-2zm1-1zm-1 0zm0-1zm0-1zm-1-1zm5-2zm2-1zm1 0zm-2 0zm3-1zm9-2zm-7-2zm3-3zm2-9zm3-101zm-3 0zm-3-2zm-3-1zm-2 0zm-3-2zm0-1zm13 0zm-16 0zm1-1zm-7-2zm5-1zm14 0zm1 0zm-15-3zm16 0zm-7-1zm9-12zm-1-3zm-3-118zm-14-8zm2 0zm13-4zm-18-4zm3-6zm2-2zm-3-2zm-2 0zm3-1zm-4 0zm16-1zm-16 0zm4-2zm15-2zm-18 0zm-1 0zm11-2zm-2 0zm-6 0zm2 0zm5-1zm6-1zm1 0zm-7-1zm4 0zm-11-16zm8-10zm-3-5zm1 0zm-6-1zm1 0zm5-1zm6 0zm-15 0zm17-1zm-15 0zm11 0zm1 0zm-11-1zm1 0zm1 0zm5 0zm-3-1zm-6 0zm1 0zm-3 0zm15 0zm-14-1zm7 0zm4-2zm-1-1zm10-1zm-7-1zm-9 0zm-2 0zm9-1zm-3 0zm-5 0zm17 0zm-16 0zm14 0zm-16 0zm15-1zm-11 0zm14 0zm-16 0zm11 0zm-11-1zm14 0zm-1 0zm-9-1zm-1 0zm11 0zm3 0zm-16 0zm8 0zm-6-1zm-5 0zm5-1zm-5 0zm3 0zm8 0zm1 0zm4-1zm-5 0zm-13-1zm-1-2zm13 0zm2-1zm-6 0zm-7 0zm2-1zm-3 0zm10-1zm-2 0zm-1-2zm2-1zm-3-1zm-1 0zm-3-2zm14 0zm-10-2zm-1 0zm16-1zm-11 0zm12 0zm-16-1zm14-2zm-14-4zm-5 0zm16-4zm-8 0zm13-1zm-4 0zm-7-1zm3 0zm3 0zm-14 0zm12 0zm-3-1zm4 0zm-2-1zm-6-1zm6-2zm2-4zm2-3zm2-1zm1-1zm1-1zm-2-1zm-9-1zm1-1zm3-2zm0-3zm4-15zm2-146zm0-1zm-9-2zm-8-2zm1-1zm14 0zm1-1zm0-1zm-4 0zm-9-1zm-6 0zm18 0zm-5 0zm-6 0zm14 0zm-16 0zm12-1zm-2-1zm-14 0zm8 0zm-11-1zm14 0zm-5 0zm-2-1zm-5 0zm7-3zm24-12zm-1 4zm-6 16zm-2 1zm3 0zm3 0zm2 0zm-3 1zm11 0zm2 0zm-6 1zm3 0zm-6 1zm9 1zm-13 1zm15 0zm-11 1zm11 105zm-1 4zm-18 44zm10 8zm12 5zm-19 4zm1 0zm16 1zm-3 1zm-16 1zm3 0zm15 0zm-11 0zm-3 0zm0 1zm4 0zm2 1zm-8 1zm1 0zm6 0zm-4 1zm6 0zm-4 1zm2 1zm-1 0zm13 0zm-1 0zm-13 1zm2 1zm8 2zm-1 1zm-16 0zm20 0zm-1 1zm-1 0zm-2 1zm1 0zm-19 0zm6 1zm13 0zm1 0zm-14 1zm15 0zm-3 0zm-15 0zm20 2zm-19 0zm-4 1zm9 0zm13 0zm-13 1zm-5 0zm3 0zm3 0zm12 1zm-12 3zm-2 0zm0 2zm-5 1zm6 0zm3 0zm-2 1zm3 0zm7 1zm-8 2zm1 1zm5 0zm4 1zm-6 0zm-4 0zm-7 0zm14 1zm2 1zm-4 1zm-8 0zm9 1zm2 0zm-18 1zm18 0zm-5 1zm-7 0zm-8 0zm22 0zm-5 1zm-3 0zm-7 0zm11 1zm-18 0zm3 1zm20 0zm-2 0zm-14 1zm3 0zm12 0zm-8 1zm7 0zm-14 1zm-1 0zm15 1zm1 0zm-16 1zm-5 0zm11 0zm-8 1zm3 0zm3 0zm-2 0zm-8 0zm14 0zm-3 11zm4 27zm-3 3zm-5 0zm11 1zm-1 0zm6 1zm-21 0zm14 0zm3 1zm-16 0zm11 0zm-8 2zm17 0zm-13 0zm6 0zm-8 7zm4 0zm-5 2zm6 0zm0 1zm6 2zm-12 3zm3 1zm-5 7zm16 10zm-12 8zm14 4zm-1 0zm-20 3zm6 1zm15 3zm-4 1zm-7 1zm7 1zm3 3zm-4 1zm-8 4zm11 1zm-2 0zm0 2zm3 0zm1 2zm-1 1zm-15 3zm9 1zm7 4zm-11 3zm1 0zm-1 1zm-5 4zm5 1zm10 0zm1 2zm-1 1zm-2 2zm2 1zm-9 1zm8 12zm-10 16zm2 6zm7 24zm-19 2zm20 1zm-12 3zm14 1zm-21 6zm2 4zm15 1zm-2 1zm-1 2zm5 0zm-18 3zm12 0zm-2 2zm-6 1zm1 0zm-6 0zm9 1zm-8 0zm3 2zm2 0zm-7 1zm22 83zm0 2zm-3 1zm1 1zm-4 1zm-3 3zm-1 1zm-12 10zm-1 4zm0 1zm37-16zm-7-13zm4-2zm0-2zm3 0zm6 0zm-6-1zm1 0zm1-3zm3 0zm1-1zm4-3zm-13-10zm-6-70zm-1-1zm-1-1zm-2 0zm22-1zm-22 0zm1-2zm2-1zm3 0zm-4-2zm5-2zm1-1zm2-1zm-2-1zm4-3zm-2-1zm11-4zm-7 0zm3 0zm5-1zm-10 0zm0-2zm5-1zm-5-2zm-6-1zm8-2zm-6 0zm14-3zm-1-2zm-21-5zm21-1zm-7 0zm9-11zm-8-5zm-5 0zm-4-9zm7-2zm6-1zm-7 0zm4-1zm1-2zm-14-1zm7 0zm-6 0zm3-1zm-5 0zm11 0zm-13 0zm6-1zm10 0zm-12-1zm-2 0zm8-2zm-9 0zm15 0zm-15-1zm0-1zm15 0zm-16 0zm14 0zm5-1zm-2-3zm0-1zm2-1zm-1-1zm-15 0zm11 0zm-13-1zm18 0zm-15-3zm-2-1zm17 0zm1 0zm-4-1zm-13 0zm13-1zm-10-1zm14 0zm3-1zm-21-1zm17 0zm4-2zm-2 0zm-21 0zm5-1zm-2-1zm17-1zm-20 0zm16-2zm-15 0zm17-2zm-17-4zm16-2zm1-1zm3 0zm0-1zm-18-1zm1 0zm-1-1zm18-2zm-18-2zm15-1zm3 0zm-1-1zm2 0zm-4-2zm4-1zm-20-1zm-1-1zm17-1zm2-2zm1 0zm-19 0zm1 0zm19-1zm-22-1zm1-1zm21 0zm-19-1zm6 0zm11-2zm2-1zm-16-1zm-1 0zm18-1zm-3 0zm-19-1zm21 0zm-14-2zm-1-1zm14 0zm-12-1zm-4 0zm18-1zm-14 0zm-9-1zm6 0zm17 0zm-14 0zm-4 0zm18-1zm-22-1zm2 0zm-1-1zm8-1zm-6 0zm9-3zm-1-1zm-5-2zm4-1zm-3-3zm0-2zm1 0zm-6-1zm-1-2zm3 0zm-4-1zm7 0zm-5-3zm6 0zm-2 0zm-6-1zm-1-1zm5-47zm16-10zm-16-2zm0-2zm11 0zm-9-1zm11 0zm3 0zm-8 0zm9-1zm-10 0zm0-2zm-6 0zm11-2zm-1-1zm-14-1zm4-2zm1 0zm-4-1zm8-2zm-4-1zm1-2zm11-1zm0-3zm-4-3zm-7-2zm-1 0zm13-3zm-15-5zm-4-3zm22 0zm-8-13zm8 0zm-16 0zm7-4zm7-8zm-2-2zm-5-2zm2-2zm-4 0zm11-1zm-8-1zm1-1zm-13-2zm12-1zm8 0zm-1 0zm-7-2zm-5 0zm1 0zm2 0zm3-2zm2-1zm-1 0zm5-2zm-19-1zm17-2zm3 0zm-2-2zm-8 0zm0-1zm-1-1zm-2-1zm-3 0zm7 0zm-2-3zm9 0zm-14-2zm5-1zm2 0zm-8 0zm15 0zm-4-1zm-10 0zm6 0zm0-3zm-4 0zm5-2zm-3-1zm4 0zm0-2zm8 0zm-13-1zm-10-2zm21 0zm-6-2zm-4 0zm9-1zm-4-3zm-4-1zm-2 0zm6-1zm2-1zm-9-1zm6 0zm1-1zm-8-1zm11 0zm-11-1zm10 0zm-2-1zm-2 0zm7-1zm-5 0zm1 0zm-9 0zm5-3zm3 0zm-5 0zm2-3zm5 0zm-2-1zm-4-2zm-7-1zm17-1zm-11 0zm-4-2zm8-1zm2-2zm-3-2zm6-1zm2 0zm1-1zm-2-2zm-2-1zm3-2zm-14-56zm-6-3zm15-1zm-9 0zm3 0zm-4 0zm-5 0zm-2 0zm9-2zm-5-1zm8-2zm12 66zm1 3zm0 4zm3 0zm-4 0zm9 3zm-1 2zm1 0zm-7 0zm9 2zm-1 2zm-4 1zm6 0zm-10 0zm10 1zm-8 1zm10 3zm2 3zm-10 0zm5 1zm4 1zm-14 1zm-1 0zm7 1zm11 0zm-3 1zm2 0zm0 1zm-16 0zm11 1zm4 1zm1 1zm2 1zm-2 0zm-9 0zm-2 0zm-1 0zm11 3zm-7 0zm-2 1zm-5 0zm7 0zm9 1zm-7 2zm6 1zm-10 1zm-6 2zm6 0zm14 1zm-2 1zm-12 0zm-4 1zm18 1zm-21 0zm4 2zm12 1zm-4 1zm3 0zm6 2zm-5 1zm-2 0zm5 1zm-4 1zm1 0zm-3 2zm-2 4zm-9 0zm11 3zm-11 2zm17 0zm-19 0zm17 0zm5 1zm1 0zm-16 0zm12 2zm-18 2zm2 1zm-1 1zm14 0zm-13 1zm-2 1zm12 0zm7 0zm2 1zm-20 1zm-2 0zm8 0zm15 0zm0 1zm-19 2zm19 0zm-21 1zm-2 1zm22 0zm-13 0zm4 0zm-4 3zm-1 1zm-4 0zm-1 1zm17 1zm-12 0zm1 0zm11 1zm-12 0zm-5 1zm7 0zm-1 2zm0 1zm1 0zm3 1zm-8 0zm-2 0zm11 1zm0 2zm-5 0zm10 0zm-18 1zm10 0zm10 1zm-9 0zm6 1zm-5 0zm-10 1zm14 4zm-12 0zm9 3zm2 3zm1 0zm-6 1zm-5 1zm3 1zm10 0zm3 1zm-10 0zm3 0zm0 1zm1 0zm-2 1zm9 0zm-4 0zm-4 1zm8 0zm-5 0zm5 1zm-12 1zm2 1zm-6 0zm8 1zm4 0zm-5 0zm8 0zm-4 1zm-2 0zm-5 0zm11 0zm-13 1zm10 0zm-7 1zm6 1zm-5 0zm0 1zm-4 1zm2 1zm-3 1zm15 0zm-16 1zm-3 2zm17 0zm-8 0zm8 2zm-16 0zm1 1zm8 0zm8 1zm1 1zm-10 1zm1 0zm9 0zm-7 0zm1 1zm6 0zm-22 0zm20 1zm-5 0zm1 0zm-14 2zm16 0zm-2 0zm-11 0zm16 1zm-15 0zm1 0zm0 2zm13 0zm2 0zm-22 0zm1 0zm15 1zm6 1zm-2 0zm-11 0zm-5 1zm6 1zm-3 0zm11 1zm-8 1zm8 1zm3 2zm-1 10zm-2 2zm3 2zm-17 2zm16 1zm1 32zm-11 2zm11 0zm-12 2zm-1 1zm3 0zm-6 1zm12 2zm1 0zm-6 0zm0 1zm9 0zm-2 1zm-13 2zm14 0zm-12 1zm3 2zm11 0zm-19 2zm16 2zm-19 1zm11 1zm-7 0zm-3 2zm17 0zm-18 0zm0 1zm10 1zm-8 2zm7 1zm-2 1zm11 1zm-19 1zm1 2zm9 2zm-4 1zm-2 3zm7 0zm4 1zm-2 0zm10 0zm-8 1zm-15 3zm0 3zm1 3zm4 3zm-5 0zm11 0zm10 13zm-18 6zm7 1zm13 29zm0 1zm-2 2zm-13 1zm7 1zm6 0zm-15 1zm15 1zm-2 1zm-2 1zm0 2zm-15 0zm8 3zm6 0zm-9 1zm-2 2zm7 1zm-3 3zm3 0zm-12 1zm7 1zm-2 0zm5 1zm-3 0zm4 1zm-7 1zm2 2zm3 1zm-6 0zm-1 0zm-2 0zm2 1zm18 99zm-10 8zm6 0zm-2 0zm-2 2zm-2 2zm-1 0zm-2 0zm-2 2zm1 0zm-3 0zm2 1zm-3 1zm-1 10zm20 4zm23-3zm1-15zm-16-7zm-4 0zm-1-1zm2-1zm13-5zm0-4zm-11-6zm15-102zm-9-1zm10 0zm-16-1zm13-1zm-2 0zm3 0zm-11-1zm10 0zm4 0zm-21 0zm12-1zm-3 0zm-8 0zm15 0zm2-2zm-2 0zm-7-1zm-7-1zm20 0zm-16 0zm-4-1zm14-1zm3 0zm-4-3zm-1 0zm3-1zm-7-1zm3-1zm-11-4zm20-4zm-16 0zm8-1zm-3-2zm10-1zm-4-1zm0-1zm6 0zm-4-3zm-1-1zm3-3zm-1-6zm0-4zm3-1zm-2 0zm-8-5zm-4 0zm9-4zm4-7zm1 0zm-2-1zm2-3zm-2-3zm2-1zm-3-4zm-19-2zm22-1zm-8 0zm7-1zm1-2zm-10-1zm8-2zm-2 0zm-19-3zm12 0zm9 0zm-7-1zm3-3zm-15-3zm14-2zm3-2zm-7-1zm-5 0zm2-1zm5-2zm1-1zm-1 0zm-10-1zm10 0zm4-4zm-12-2zm1 0zm-3 0zm3-1zm-2-1zm-4 0zm3 0zm-2 0zm1-1zm1 0zm0-2zm18-19zm-3-6zm-2-1zm-2-1zm-5-4zm8-1zm3 0zm-4 0zm-7 0zm1-1zm0-1zm-10-2zm12-1zm0-1zm-5 0zm14 0zm-5 0zm-7-1zm7 0zm-13-1zm1-1zm18 0zm-16 0zm10 0zm-5 0zm0-1zm-6 0zm10 0zm-10-2zm16-1zm1 0zm-16 0zm-6-1zm17-2zm-18-1zm20 0zm-10-1zm-5 0zm-2 0zm3 0zm3 0zm7 0zm4-1zm-13 0zm-2-1zm5 0zm-2-1zm-5-1zm14 0zm-13-1zm17 0zm-19 0zm6 0zm-2-2zm-1-2zm12 0zm-12-1zm1 0zm3 0zm-7 0zm-2-1zm11 0zm3 0zm8 0zm-21 0zm18 0zm4-1zm-18-1zm13-1zm-1-1zm2 0zm-19 0zm14 0zm-8 0zm1-1zm-3 0zm17 0zm-2 0zm-6 0zm-13 0zm22 0zm-19 0zm-2-1zm19 0zm-16-1zm2 0zm17 0zm-16 0zm1-1zm-8 0zm22 0zm-10-1zm-1-1zm-6 0zm1 0zm3-1zm11 0zm-1 0zm-19-1zm6-1zm10 0zm-13-1zm7-1zm6-1zm-12-1zm15 0zm-14 0zm-2-2zm-3-2zm16-2zm-14-1zm13-2zm-1-1zm3-1zm-1 0zm-1-1zm-3-2zm0-1zm-1-1zm4 0zm-14-1zm11-1zm-7 0zm6-1zm6-1zm-6-3zm1-1zm-6 0zm6-1zm0-2zm-3 0zm-4-1zm-3 0zm4-1zm-5 0zm9 0zm-3-1zm3 0zm-7-2zm3 0zm3 0zm-3-2zm3-1zm3-3zm-9 0zm2-2zm-4 0zm5-1zm-1 0zm-4-1zm-1 0zm7-1zm-3 0zm1-2zm-4-1zm3 0zm-1-1zm8-4zm-10-3zm0-2zm6-21zm11-23zm-18-28zm43 140zm-18 7zm1 0zm0 2zm-1 2zm1 1zm1 0zm-2 1zm4 1zm4 4zm-3 1zm0 1zm2 3zm-2 1zm-3 4zm7 3zm-1 0zm-9 0zm2 0zm8 1zm2 0zm-2 1zm2 3zm0 1zm3 1zm1 0zm-6 1zm-6 5zm14 3zm-9 1zm12 4zm-1 1zm-2 1zm3 2zm1 2zm1 4zm-13 6zm5 10zm-5 0zm6 1zm-2 1zm4 1zm-2 0zm-15 1zm16 4zm1 6zm-18 1zm19 4zm-19 4zm2 1zm1 0zm-1 3zm3 7zm-1 1zm4 2zm-4 1zm1 2zm1 1zm-1 0zm0 4zm-5 0zm6 0zm16 1zm-16 10zm-2 1zm2 0zm-1 1zm0 1zm3 3zm-7 1zm7 1zm0 3zm-4 2zm-4 1zm8 0zm-5 0zm-3 1zm4 2zm-3 0zm11 0zm-12 2zm0 1zm3 6zm3 1zm-6 2zm4 0zm1 1zm0 1zm0 2zm-4 2zm1 0zm-2 2zm12 0zm-12 4zm22 105zm-2 3zm-1 1zm-2 0zm-5 0zm0 1zm2 1zm-2 0zm-7 3zm-1 1zm-1 1zm5 23zm23-35zm-2 0zm1 0zm2-1zm6 0zm4-1zm-3 0zm-3-1zm1 0zm9-1zm-9 0zm8-1zm-4-2zm5-1zm1-23zm-3-93zm-11-31zm8-2zm-3-1zm-2 0zm0-2zm-3 0zm10 0zm-2-2zm-5-1zm11-4zm-17 0zm7 0zm-7-1zm17 0zm-22-1zm21 0zm-19-1zm-3-1zm22-2zm0-1zm-1-2zm-14-2zm-1 0zm-5 0zm20-1zm-2-1zm-2 0zm1 0zm0-2zm-16-1zm-1-1zm1-1zm13-2zm-14 0zm0-1zm14-1zm-8-1zm5-3zm-1-2zm9-1zm-9 0zm0-2zm-8-2zm7 0zm0-1zm-2-2zm2-1zm-2 0zm1-1zm-3-2zm-1-2zm-3-3zm2 0zm-1-1zm1-2zm5-3zm-9 0zm30 39zm-6 7zm2 6zm2 5zm-3 1zm4 1zm1 2zm2 1zm-1 5zm1 6zm2 2zm0 1zm1 3zm-1 1zm8 3zm-4 1zm-1 2zm1 1zm2 2zm-3 3zm3 0zm-1 0zm2 2zm-2 0zm0 1zm2 8zm2 4zm-2 0zm2 3zm1 3zm-2 2zm0 2zm1 1zm-1 2zm2 1zm-3 1zm1 2zm-2 5zm0 2zm-1 3zm0 2zm1 5zm-1 3zm1 2zm-2 1zm-3 4zm3 4zm-6 2zm2 0zm4 2zm-1 0zm1 1zm-2 2zm-1 0zm2 4zm-2 3zm-1 4zm-1 1zm-1 2zm2 0zm0 2zm-2 2zm-1 3zm-3 3zm4 3zm-1 5zm-5 1zm5 2zm0 1zm-3 3zm2 0zm-1 3zm-3 2zm0 1zm-2 0zm7 4zm-2 0zm-3 2zm3 0zm20-41z"/><path fill="none" stroke="#c4c4c4" stroke-width="0.8" stroke-dasharray="2.6 5.8" d="M58.0 0V427.7M116.0 0V427.7M174.0 0V427.7M232.0 0V427.7M290.0 0V427.7M0 71.3H348.0M0 142.6H348.0M0 213.8H348.0M0 285.1H348.0M0 356.4H348.0"/><g shape-rendering="crispEdges"><g transform="translate(3.30 0.68) scale(7.620 7.670)"><path fill="#800000" d="M26 16h1v1h-1zM28 16h1v1h-1zM30 18h3v1h-3zM32 19h1v1h-1zM32 20h2v1h-2zM32 21h3v1h-3zM32 22h3v1h-3zM32 23h5v1h-5zM31 24h8v1h-8zM31 25h9v1h-9zM31 26h6v1h-6zM38 26h2v1h-2zM33 27h1v1h-1zM37 27h1v1h-1zM39 27h2v1h-2zM39 28h2v1h-2zM41 30h1v1h-1zM42 32h1v1h-1z"/><path fill="#ff5000" d="M27 16h1v1h-1zM25 17h1v1h-1zM31 19h1v1h-1zM29 25h1v1h-1zM30 27h1v1h-1zM40 30h1v1h-1zM44 36h1v1h-1z"/><path fill="#ffcf00" d="M26 17h1v1h-1zM28 17h1v1h-1zM29 21h1v1h-1zM30 28h1v1h-1zM30 29h1v1h-1zM36 31h4v1h-4zM40 33h1v1h-1zM42 34h1v1h-1zM44 37h1v1h-1zM44 49h1v1h-1zM43 55h1v1h-1z"/><path fill="#ff8000" d="M27 17h1v1h-1zM28 18h1v1h-1zM30 20h1v1h-1zM28 23h1v1h-1zM32 28h1v1h-1zM35 29h1v1h-1zM37 29h2v1h-2zM39 30h1v1h-1zM41 33h1v1h-1z"/><path fill="#ff4000" d="M29 17h1v1h-1zM31 27h1v1h-1zM39 29h1v1h-1zM41 32h1v1h-1zM42 33h1v1h-1z"/><path fill="#ffbf00" d="M22 18h1v1h-1zM22 19h1v1h-1zM29 24h1v1h-1zM31 28h1v1h-1zM35 28h1v1h-1z"/><path fill="#afff50" d="M23 18h1v1h-1zM27 23h1v1h-1zM28 24h1v1h-1zM23 27h1v1h-1zM28 28h1v1h-1zM32 29h1v1h-1zM35 30h2v1h-2zM38 30h1v1h-1zM36 32h1v1h-1zM38 33h1v1h-1zM39 34h2v1h-2zM43 38h1v1h-1zM40 41h1v1h-1zM43 44h1v1h-1zM42 53h1v1h-1zM42 54h1v1h-1z"/><path fill="#30ffcf" d="M24 18h1v1h-1zM24 19h1v1h-1zM24 20h3v1h-3zM24 22h1v1h-1zM26 25h1v1h-1zM27 27h1v1h-1zM30 30h2v1h-2zM33 31h1v1h-1zM38 35h1v1h-1zM39 36h1v1h-1zM40 37h1v1h-1zM40 38h1v1h-1zM41 39h1v1h-1zM40 40h2v1h-2zM42 43h1v1h-1zM41 44h2v1h-2zM41 45h1v1h-1zM42 47h1v1h-1zM41 48h1v1h-1zM41 49h1v1h-1zM38 53h1v1h-1zM38 54h2v1h-2zM38 55h2v1h-2z"/><path fill="#70ff8f" d="M25 18h1v1h-1zM23 19h1v1h-1zM23 20h1v1h-1zM23 25h1v1h-1zM29 29h1v1h-1zM33 30h2v1h-2zM34 31h2v1h-2zM33 32h1v1h-1zM35 32h1v1h-1zM36 33h1v1h-1zM38 34h1v1h-1zM40 35h1v1h-1zM41 36h1v1h-1zM43 40h1v1h-1zM44 46h1v1h-1zM44 47h1v1h-1zM42 49h2v1h-2zM43 50h1v1h-1zM41 52h1v1h-1zM39 53h1v1h-1zM41 53h1v1h-1zM40 54h2v1h-2zM33 55h1v1h-1zM40 55h2v1h-2z"/><path fill="#60ff9f" d="M26 18h1v1h-1zM24 21h1v1h-1zM27 26h1v1h-1zM34 32h1v1h-1zM35 33h1v1h-1zM40 36h1v1h-1zM42 37h1v1h-1zM39 41h1v1h-1zM42 42h1v1h-1zM43 45h1v1h-1z"/><path fill="#9fff60" d="M27 18h1v1h-1zM26 19h1v1h-1zM28 21h1v1h-1zM23 23h1v1h-1zM31 29h1v1h-1zM33 29h1v1h-1zM37 30h1v1h-1zM37 32h1v1h-1zM41 34h1v1h-1zM42 36h1v1h-1zM43 37h1v1h-1zM43 39h1v1h-1zM43 42h1v1h-1zM43 51h1v1h-1z"/><path fill="#df0000" d="M29 18h1v1h-1zM29 19h1v1h-1z"/><path fill="#80ff80" d="M25 19h1v1h-1zM27 19h1v1h-1zM27 20h1v1h-1zM26 21h2v1h-2zM26 22h1v1h-1zM26 23h1v1h-1zM27 25h1v1h-1zM23 26h1v1h-1zM41 37h1v1h-1zM42 40h1v1h-1zM38 41h1v1h-1zM43 43h1v1h-1zM43 48h1v1h-1zM42 50h1v1h-1zM42 51h1v1h-1zM42 52h1v1h-1zM40 53h1v1h-1z"/><path fill="#dfff20" d="M28 19h1v1h-1zM23 21h1v1h-1zM29 22h1v1h-1zM24 23h1v1h-1zM23 24h1v1h-1zM26 24h1v1h-1zM34 29h1v1h-1zM41 41h1v1h-1zM44 44h1v1h-1zM44 45h1v1h-1z"/><path fill="#ff8f00" d="M30 19h1v1h-1zM28 20h1v1h-1zM28 26h2v1h-2zM34 28h1v1h-1zM36 29h1v1h-1zM40 31h1v1h-1zM40 32h1v1h-1zM42 35h2v1h-2z"/><path fill="#efff10" d="M29 20h1v1h-1zM25 23h1v1h-1zM28 25h1v1h-1zM28 27h1v1h-1zM39 32h1v1h-1zM37 33h1v1h-1zM41 38h1v1h-1zM44 39h1v1h-1zM44 40h1v1h-1zM42 41h1v1h-1zM44 42h1v1h-1zM43 47h1v1h-1zM43 54h1v1h-1z"/><path fill="#cf0000" d="M31 20h1v1h-1zM30 25h1v1h-1zM36 27h1v1h-1zM37 28h1v1h-1zM41 31h1v1h-1z"/><path fill="#40ffbf" d="M25 21h1v1h-1zM28 29h1v1h-1zM36 34h1v1h-1zM40 42h2v1h-2zM42 46h1v1h-1zM42 48h1v1h-1zM40 52h1v1h-1z"/><path fill="#ff2000" d="M30 21h1v1h-1z"/><path fill="#9f0000" d="M31 21h1v1h-1zM40 29h1v1h-1zM44 35h1v1h-1z"/><path fill="#20ffdf" d="M25 22h1v1h-1zM32 30h1v1h-1zM31 31h2v1h-2zM33 33h2v1h-2zM37 34h1v1h-1zM37 35h1v1h-1zM39 40h1v1h-1zM41 43h1v1h-1zM42 45h1v1h-1zM43 46h1v1h-1zM41 50h1v1h-1zM37 51h1v1h-1zM40 51h2v1h-2z"/><path fill="#00dfff" d="M27 22h1v1h-1zM23 28h1v1h-1zM23 29h1v1h-1zM30 32h2v1h-2zM35 35h1v1h-1zM38 37h2v1h-2zM39 38h1v1h-1zM38 39h1v1h-1zM37 41h1v1h-1zM39 43h1v1h-1zM39 45h2v1h-2zM40 47h1v1h-1zM40 48h1v1h-1zM39 49h1v1h-1zM36 53h2v1h-2zM34 54h3v1h-3zM37 55h1v1h-1z"/><path fill="#bfff40" d="M28 22h1v1h-1zM24 24h1v1h-1zM38 32h1v1h-1zM41 35h1v1h-1zM42 39h1v1h-1zM43 41h1v1h-1zM44 43h1v1h-1z"/><path fill="#ff6000" d="M30 22h1v1h-1zM36 28h1v1h-1zM43 34h1v1h-1z"/><path fill="#ff0000" d="M31 22h1v1h-1zM30 23h2v1h-2zM32 27h1v1h-1z"/><path fill="#ffdf00" d="M29 23h1v1h-1zM33 28h1v1h-1zM44 38h1v1h-1z"/><path fill="#00efff" d="M25 24h1v1h-1zM24 25h2v1h-2zM24 26h1v1h-1zM26 26h1v1h-1zM24 27h1v1h-1zM26 27h1v1h-1zM24 28h1v1h-1zM27 28h1v1h-1zM27 29h1v1h-1zM28 30h2v1h-2zM30 31h1v1h-1zM32 32h1v1h-1zM32 33h1v1h-1zM34 34h2v1h-2zM39 35h1v1h-1zM38 36h1v1h-1zM37 37h1v1h-1zM38 38h1v1h-1zM40 39h1v1h-1zM38 40h1v1h-1zM39 42h1v1h-1zM38 43h1v1h-1zM40 44h1v1h-1zM39 46h1v1h-1zM41 46h1v1h-1zM41 47h1v1h-1zM29 48h1v1h-1zM37 48h1v1h-1zM27 49h1v1h-1zM38 49h1v1h-1zM40 49h1v1h-1zM24 50h1v1h-1zM38 50h3v1h-3zM19 51h1v1h-1zM36 51h1v1h-1zM38 51h2v1h-2zM36 52h4v1h-4zM35 53h1v1h-1zM35 55h2v1h-2z"/><path fill="#ffff00" d="M27 24h1v1h-1zM29 28h1v1h-1zM39 33h1v1h-1zM43 36h1v1h-1zM42 38h1v1h-1zM44 41h1v1h-1zM43 52h1v1h-1zM43 53h1v1h-1zM42 55h1v1h-1z"/><path fill="#ff1000" d="M30 24h1v1h-1zM29 27h1v1h-1zM34 27h2v1h-2zM38 27h1v1h-1z"/><path fill="#00afff" d="M25 26h1v1h-1zM25 27h1v1h-1zM25 28h2v1h-2zM24 29h1v1h-1zM26 29h1v1h-1zM27 30h1v1h-1zM28 31h2v1h-2zM28 32h2v1h-2zM30 33h1v1h-1zM33 34h1v1h-1zM33 35h2v1h-2zM36 36h1v1h-1zM35 37h2v1h-2zM37 40h1v1h-1zM36 43h1v1h-1zM37 44h1v1h-1zM26 45h1v1h-1zM37 45h1v1h-1zM23 46h4v1h-4zM37 46h2v1h-2zM25 47h1v1h-1zM34 47h1v1h-1zM37 47h2v1h-2zM36 48h1v1h-1zM38 48h2v1h-2zM25 49h1v1h-1zM35 50h3v1h-3zM20 52h1v1h-1zM34 52h1v1h-1zM28 53h1v1h-1zM21 55h1v1h-1zM31 55h1v1h-1z"/><path fill="#bf0000" d="M30 26h1v1h-1zM38 28h1v1h-1z"/><path fill="#8f0000" d="M37 26h1v1h-1zM43 33h1v1h-1z"/><path fill="#0060ff" d="M25 29h1v1h-1zM26 31h1v1h-1zM27 32h1v1h-1zM30 34h1v1h-1zM30 35h1v1h-1zM32 35h1v1h-1zM33 36h1v1h-1zM20 37h1v1h-1zM31 37h2v1h-2zM32 38h1v1h-1zM35 38h1v1h-1zM31 39h1v1h-1zM33 41h1v1h-1zM33 42h1v1h-1zM35 43h1v1h-1zM21 44h1v1h-1zM33 45h3v1h-3zM22 46h1v1h-1zM29 46h1v1h-1zM20 47h1v1h-1zM21 48h1v1h-1zM32 48h1v1h-1zM34 48h1v1h-1zM26 49h1v1h-1zM33 49h1v1h-1zM25 50h1v1h-1zM30 50h1v1h-1zM23 51h1v1h-1zM26 51h1v1h-1zM32 51h1v1h-1zM22 52h1v1h-1zM30 52h1v1h-1zM21 53h1v1h-1zM24 53h1v1h-1zM31 53h1v1h-1zM21 54h2v1h-2zM30 54h1v1h-1zM22 55h2v1h-2z"/><path fill="#0030ff" d="M23 30h3v1h-3zM26 33h1v1h-1zM28 34h1v1h-1zM29 36h1v1h-1zM31 36h1v1h-1zM29 38h1v1h-1zM31 38h1v1h-1zM30 39h1v1h-1zM30 40h1v1h-1zM28 41h1v1h-1zM31 41h1v1h-1zM20 42h1v1h-1zM28 42h3v1h-3zM28 43h3v1h-3zM22 44h2v1h-2zM28 44h1v1h-1zM31 45h2v1h-2zM32 46h1v1h-1zM31 47h2v1h-2zM31 48h1v1h-1zM26 50h1v1h-1zM31 50h1v1h-1zM25 51h1v1h-1zM23 52h1v1h-1z"/><path fill="#0080ff" d="M26 30h1v1h-1zM27 31h1v1h-1zM28 33h1v1h-1zM29 34h1v1h-1zM31 35h1v1h-1zM30 36h1v1h-1zM33 37h2v1h-2zM32 40h1v1h-1zM34 40h2v1h-2zM34 41h1v1h-1zM31 42h1v1h-1zM34 42h2v1h-2zM33 43h1v1h-1zM25 44h1v1h-1zM33 44h1v1h-1zM29 45h1v1h-1zM30 46h1v1h-1zM33 46h1v1h-1zM35 46h1v1h-1zM36 47h1v1h-1zM33 48h1v1h-1zM29 49h2v1h-2zM29 50h1v1h-1zM34 50h1v1h-1zM21 51h1v1h-1zM27 51h1v1h-1zM29 51h1v1h-1zM33 51h1v1h-1zM29 52h1v1h-1zM33 52h1v1h-1zM26 53h1v1h-1zM26 54h1v1h-1zM28 55h2v1h-2z"/><path fill="#0000ef" d="M23 31h1v1h-1zM21 32h2v1h-2zM24 33h1v1h-1zM21 34h1v1h-1zM21 36h3v1h-3zM26 36h1v1h-1zM22 37h1v1h-1zM24 37h1v1h-1zM26 37h1v1h-1zM21 38h2v1h-2zM24 38h1v1h-1zM26 38h2v1h-2zM21 39h1v1h-1zM27 39h2v1h-2zM21 40h1v1h-1zM24 40h1v1h-1zM27 40h1v1h-1zM21 41h1v1h-1zM23 41h3v1h-3zM21 42h2v1h-2zM24 42h1v1h-1zM26 42h1v1h-1zM24 43h2v1h-2z"/><path fill="#0000ff" d="M24 31h1v1h-1zM21 33h2v1h-2zM25 34h1v1h-1zM21 35h2v1h-2zM25 35h2v1h-2zM24 36h1v1h-1zM27 36h1v1h-1zM23 39h1v1h-1zM25 39h1v1h-1zM25 40h1v1h-1zM22 41h1v1h-1zM27 41h1v1h-1zM25 42h1v1h-1z"/><path fill="#0040ff" d="M25 31h1v1h-1zM26 32h1v1h-1zM28 37h1v1h-1zM30 37h1v1h-1zM30 38h1v1h-1zM29 39h1v1h-1zM32 39h1v1h-1zM20 40h1v1h-1zM29 40h1v1h-1zM31 40h1v1h-1zM33 40h1v1h-1zM29 41h2v1h-2zM32 41h1v1h-1zM27 42h1v1h-1zM20 43h2v1h-2zM26 43h1v1h-1zM31 43h1v1h-1zM27 44h1v1h-1zM30 44h2v1h-2zM25 52h2v1h-2z"/><path fill="#0000af" d="M23 32h1v1h-1zM23 34h2v1h-2zM24 35h1v1h-1z"/><path fill="#0000df" d="M24 32h1v1h-1zM25 33h1v1h-1zM26 34h2v1h-2zM27 35h1v1h-1zM25 36h1v1h-1zM21 37h1v1h-1zM23 37h1v1h-1zM25 37h1v1h-1zM27 37h1v1h-1zM23 38h1v1h-1zM25 38h1v1h-1zM22 39h1v1h-1zM24 39h1v1h-1zM26 39h1v1h-1zM22 40h2v1h-2zM26 40h1v1h-1zM26 41h1v1h-1zM23 42h1v1h-1zM22 43h2v1h-2z"/><path fill="#0020ff" d="M25 32h1v1h-1zM28 35h2v1h-2zM28 36h1v1h-1zM29 37h1v1h-1zM28 38h1v1h-1zM28 40h1v1h-1zM20 41h1v1h-1zM32 42h1v1h-1zM27 43h1v1h-1zM29 44h1v1h-1zM30 45h1v1h-1zM31 46h1v1h-1zM24 51h1v1h-1zM21 52h1v1h-1zM24 52h1v1h-1zM23 53h1v1h-1z"/><path fill="#0000bf" d="M23 33h1v1h-1z"/><path fill="#0070ff" d="M27 33h1v1h-1zM29 33h1v1h-1zM31 34h1v1h-1zM20 36h1v1h-1zM32 36h1v1h-1zM34 36h1v1h-1zM33 38h2v1h-2zM33 39h3v1h-3zM35 41h1v1h-1zM32 43h1v1h-1zM34 43h1v1h-1zM20 44h1v1h-1zM24 44h1v1h-1zM32 44h1v1h-1zM34 44h3v1h-3zM28 45h1v1h-1zM20 46h2v1h-2zM34 46h1v1h-1zM36 46h1v1h-1zM21 47h2v1h-2zM30 47h1v1h-1zM33 47h1v1h-1zM35 47h1v1h-1zM20 48h1v1h-1zM30 48h1v1h-1zM35 48h1v1h-1zM31 49h2v1h-2zM27 50h2v1h-2zM32 50h2v1h-2zM22 51h1v1h-1zM28 51h1v1h-1zM30 51h2v1h-2zM27 52h2v1h-2zM31 52h2v1h-2zM22 53h1v1h-1zM25 53h1v1h-1zM27 53h1v1h-1zM29 53h2v1h-2zM32 53h1v1h-1zM23 54h3v1h-3zM27 54h2v1h-2zM31 54h1v1h-1zM25 55h1v1h-1zM27 55h1v1h-1z"/><path fill="#009fff" d="M31 33h1v1h-1zM36 38h1v1h-1zM36 39h2v1h-2zM36 40h1v1h-1zM36 41h1v1h-1zM37 42h1v1h-1zM24 45h1v1h-1zM38 45h1v1h-1zM40 46h1v1h-1zM24 47h1v1h-1zM28 49h1v1h-1zM36 49h1v1h-1zM35 51h1v1h-1zM33 53h1v1h-1zM29 54h1v1h-1zM32 54h2v1h-2zM24 55h1v1h-1zM30 55h1v1h-1zM32 55h1v1h-1z"/><path fill="#00009f" d="M22 34h1v1h-1zM23 35h1v1h-1z"/><path fill="#00bfff" d="M32 34h1v1h-1zM35 36h1v1h-1zM37 38h1v1h-1zM36 42h1v1h-1zM37 43h1v1h-1zM25 45h1v1h-1zM36 45h1v1h-1zM39 47h1v1h-1zM34 49h2v1h-2zM20 51h1v1h-1zM34 51h1v1h-1zM35 52h1v1h-1zM34 53h1v1h-1zM26 55h1v1h-1z"/><path fill="#00ffff" d="M36 35h1v1h-1zM37 36h1v1h-1zM39 39h1v1h-1zM38 42h1v1h-1zM40 43h1v1h-1zM38 44h2v1h-2zM27 45h1v1h-1zM37 49h1v1h-1zM19 52h1v1h-1zM20 53h1v1h-1zM37 54h1v1h-1zM34 55h1v1h-1z"/><path fill="#ff9f00" d="M44 48h1v1h-1zM44 51h1v1h-1z"/></g></g><path fill="none" stroke="#000" stroke-width="1.0" stroke-linejoin="round" d="M178.0 232.5L184.0 225.0L188.0 214.0L193.0 209.5L196.0 214.0L199.0 226.0L203.0 232.0"/><path fill="none" stroke="#000" stroke-width="1.0" stroke-linejoin="round" d="M222.0 256.5L232.0 262.0L238.0 271.0L251.0 257.5L262.0 262.0L276.0 282.5L291.0 312.5L276.0 320.5L296.0 335.5L281.0 347.5L291.0 367.5L281.0 387.5L276.0 402.5"/><path fill="none" stroke="#000" stroke-width="1.0" stroke-linejoin="round" d="M270.0 424.0L262.0 430.0L255.0 419.0L231.0 427.0"/><text transform="translate(213.0 244.0) rotate(52)" font-size="13.0" text-anchor="middle" dominant-baseline="central">1.25</text><text transform="translate(279.0 413.0) rotate(-75)" font-size="13.0" text-anchor="middle" dominant-baseline="central">1.25</text><path d="M164.0 249.8L178.4 249.8M166.1 244.7L176.3 254.9M171.2 242.6L171.2 257.0M176.3 244.7L166.1 254.9" stroke="#f00" stroke-width="1.15" fill="none"/><path d="M61.0 320.5L75.4 320.5M63.1 315.4L73.3 325.6M68.2 313.3L68.2 327.7M73.3 315.4L63.1 325.6" stroke="#f00" stroke-width="1.15" fill="none"/></g><rect x="0" y="0" width="348.0" height="427.7" fill="none" stroke="#161616" stroke-width="1.4"/><path fill="none" stroke="#262626" stroke-width="1" d="M58.0 0v3.5M58.0 427.7v-3.5M0 71.3h3.5M348.0 71.3h-3.5M116.0 0v3.5M116.0 427.7v-3.5M0 142.6h3.5M348.0 142.6h-3.5M174.0 0v3.5M174.0 427.7v-3.5M0 213.8h3.5M348.0 213.8h-3.5M232.0 0v3.5M232.0 427.7v-3.5M0 285.1h3.5M348.0 285.1h-3.5M290.0 0v3.5M290.0 427.7v-3.5M0 356.4h3.5M348.0 356.4h-3.5"/><text x="-7.8" y="7.1" font-size="20.1" text-anchor="end" font-weight="normal" fill="#000" >37°N</text><text x="-7.2" y="77.3" font-size="15.4" text-anchor="end" font-weight="normal" fill="#000" >30'</text><text x="-7.8" y="149.7" font-size="20.1" text-anchor="end" font-weight="normal" fill="#000" >36°N</text><text x="-7.2" y="219.8" font-size="15.4" text-anchor="end" font-weight="normal" fill="#000" >30'</text><text x="-7.8" y="292.2" font-size="20.1" text-anchor="end" font-weight="normal" fill="#000" >35°N</text><text x="-7.2" y="362.4" font-size="15.4" text-anchor="end" font-weight="normal" fill="#000" >30'</text><text x="-7.8" y="434.8" font-size="20.1" text-anchor="end" font-weight="normal" fill="#000" >34°N</text><text x="2.8" y="448.6" font-size="20.1" text-anchor="middle" font-weight="normal" fill="#000" >77°W</text><text x="57.7" y="444.6" font-size="15.4" text-anchor="middle" font-weight="normal" fill="#000" >30'</text><text x="118.8" y="448.6" font-size="20.1" text-anchor="middle" font-weight="normal" fill="#000" >76°W</text><text x="173.7" y="444.6" font-size="15.4" text-anchor="middle" font-weight="normal" fill="#000" >30'</text><text x="234.8" y="448.6" font-size="20.1" text-anchor="middle" font-weight="normal" fill="#000" >75°W</text><text x="289.7" y="444.6" font-size="15.4" text-anchor="middle" font-weight="normal" fill="#000" >30'</text><text x="350.8" y="448.6" font-size="20.1" text-anchor="middle" font-weight="normal" fill="#000" >74°W</text><rect x="4.0" y="20.2" width="111.5" height="24.5" fill="url(#jet)" stroke="#262626" stroke-width="1"/><text x="4.0" y="6.5" font-size="16.2" text-anchor="middle" font-weight="normal" fill="#262626" >0</text><text x="59.8" y="6.5" font-size="16.2" text-anchor="middle" font-weight="normal" fill="#262626" >2</text><text x="115.5" y="6.5" font-size="16.2" text-anchor="middle" font-weight="normal" fill="#262626" >4</text><text x="286.4" y="36.9" font-size="20.1" text-anchor="start" font-weight="normal" fill="#000" >10 km</text><path d="M305.6 43.5H319.3" stroke="#000" stroke-width="4.2" stroke-linecap="round"/><text x="174.0" y="-11.6" font-size="20.6" text-anchor="middle" font-weight="bold" fill="#000" >GDOP TotalErrors (1.25)</text></g>
<g transform="translate(843.3 142.5)"><clipPath id="c843_142"><rect x="0" y="0" width="348.0" height="427.7"/></clipPath><g clip-path="url(#c843_142)"><g stroke="#000" stroke-width="1.1" stroke-linejoin="round"><path fill="#80e680" d="M0.0 0.0L55.0 0.0L58.3 5.0L59.4 10.6L57.6 15.3L62.0 14.2L68.8 15.2L71.7 11.6L73.5 10.5L75.2 16.4L77.5 17.0L76.0 10.0L77.5 5.5L81.9 4.8L89.2 8.4L96.5 10.6L103.7 12.0L109.6 10.6L114.7 9.9L117.2 12.0L117.9 19.3L120.0 30.0L122.6 41.1L126.5 50.2L128.5 55.7L131.4 68.0L135.0 85.3L138.9 96.9L142.7 110.1L147.4 123.3L154.0 136.4L159.6 148.7L165.3 160.9L170.0 172.2L173.8 181.6L176.6 191.0L177.9 198.0L178.0 204.4L176.8 213.9L175.4 223.3L173.6 232.7L172.2 240.2L171.6 247.7L171.2 251.2L165.3 252.8L159.6 253.8L152.1 256.6L144.6 260.4L137.1 263.2L129.5 266.5L122.0 270.3L117.3 273.5L112.6 277.3L106.9 282.0L99.4 287.7L94.1 293.5L84.7 302.0L75.3 311.4L69.6 318.0L64.0 324.6L60.2 330.2L56.5 336.8L54.1 345.3L52.2 341.5L48.9 335.9L45.2 333.0L37.6 330.2L28.2 328.8L18.8 329.3L9.4 331.1L0.0 334.0Z"/><path fill="#fff" d="M32.5 128.7L34.8 130.1L35.3 134.8L37.6 138.6L41.4 139.0L44.2 137.6L46.1 140.0L48.9 142.8L54.6 143.3L60.2 141.4L64.0 137.6L68.7 134.8L74.4 132.4L79.1 131.5L80.0 129.6L75.3 127.7L72.5 125.9L68.7 121.6L64.9 117.4L65.9 116.9L70.6 121.6L74.4 124.9L78.1 126.3L81.9 128.7L86.6 130.1L91.3 130.1L93.6 128.7L90.4 125.4L87.5 120.7L85.2 117.4L86.1 116.9L89.4 120.2L93.2 124.9L96.0 125.4L101.6 124.9L106.4 124.4L108.7 122.6L107.3 116.9L104.5 112.2L104.1 112.9L98.5 107.3L92.8 104.4L93.8 101.6L94.7 100.7L99.4 103.5L103.2 106.3L106.9 111.0L112.6 115.7L118.2 118.6L125.8 120.9L126.7 119.5L124.8 117.6L122.9 113.9L125.8 109.1L129.5 106.3L132.4 103.5L134.2 106.3L131.4 111.0L130.5 115.7L131.4 123.3L135.2 128.9L139.9 134.1L138.9 128.0L137.1 121.4L135.2 115.7L137.1 111.0L134.5 108.0L131.0 102.0L127.0 94.0L123.0 86.0L118.0 78.0L114.5 70.0L116.0 60.0L117.5 50.0L117.5 42.0L119.0 38.0L120.6 41.0L124.3 50.2L126.3 55.7L129.2 68.0L132.8 85.3L136.7 96.9L140.5 110.1L145.3 123.3L152.0 136.4L157.6 148.7L163.3 160.9L168.1 172.2L172.0 181.6L174.9 191.0L176.2 198.0L176.3 204.4L175.1 213.9L173.7 223.3L171.9 232.7L170.6 240.2L169.6 246.5L165.5 251.0L160.0 252.2L152.0 255.2L145.0 258.8L137.0 261.8L130.0 264.8L122.0 268.8L113.0 275.3L104.0 282.8L95.0 290.8L86.0 299.0L77.0 308.0L71.0 314.5L66.0 320.0L61.5 326.0L58.0 331.0L56.0 333.0L57.0 329.0L59.5 324.0L62.5 319.0L65.9 314.8L67.8 312.0L69.6 309.1L71.5 306.3L74.4 303.5L77.2 300.7L79.1 297.9L81.9 295.0L83.8 292.2L80.9 288.4L78.1 284.7L74.4 282.8L71.5 289.4L69.6 292.2L65.9 295.0L63.1 292.2L64.9 287.5L65.9 282.8L64.9 278.1L62.1 276.2L60.2 278.1L58.4 281.9L56.5 285.6L52.7 286.6L47.1 289.4L42.4 288.4L39.5 290.3L35.8 292.2L32.0 294.1L28.2 297.4L24.5 296.0L18.8 294.1L13.2 291.3L7.5 287.5L2.8 283.7L0.0 281.9L0.0 279.0L1.9 278.1L4.7 280.0L8.5 282.8L12.2 285.6L16.9 288.4L20.7 290.3L23.5 291.3L27.3 288.4L31.1 285.6L35.8 282.8L39.5 280.0L43.3 277.1L47.1 274.3L50.8 271.5L53.6 265.9L49.9 262.1L52.7 258.3L56.5 255.5L59.3 252.7L62.1 248.9L61.2 245.1L56.5 242.3L50.8 240.4L44.2 238.6L37.6 235.7L31.1 232.9L24.5 230.1L18.8 227.7L11.3 225.4L5.6 223.5L2.8 221.6L0.0 220.2L0.0 217.9L1.9 216.9L5.6 218.8L12.2 221.6L18.8 224.4L26.4 227.3L32.0 226.3L39.5 228.2L45.2 230.1L49.4 231.5L48.9 228.2L47.1 222.6L45.2 216.9L44.2 213.1L47.1 210.8L56.5 210.8L60.2 211.7L56.5 213.1L48.9 213.1L47.1 215.0L49.9 216.9L51.8 221.6L54.6 227.3L58.4 231.0L62.1 232.9L65.9 230.1L67.8 226.3L69.6 230.1L67.8 234.8L70.6 236.7L75.3 238.6L80.9 235.7L86.6 234.8L92.2 236.7L97.9 239.5L103.5 235.7L109.2 232.9L112.9 226.3L116.7 218.8L121.1 212.9L125.8 211.0L127.6 206.3L129.5 201.6L132.4 204.4L137.1 205.4L142.7 203.5L145.5 200.4L147.4 197.6L145.5 193.9L144.6 189.1L147.4 190.1L148.8 186.3L147.4 181.6L147.9 176.0L146.5 167.5L143.6 159.0L140.8 152.4L137.1 148.7L131.4 146.8L125.8 147.7L122.0 149.6L123.9 152.4L121.1 155.3L117.3 159.0L118.6 159.3L117.2 164.0L116.7 169.6L116.2 177.1L115.3 184.7L113.9 191.3L112.0 193.6L107.3 190.8L110.1 188.4L111.5 182.8L110.6 175.3L109.6 167.7L111.1 162.1L114.4 156.4L114.8 150.8L112.9 147.0L109.2 145.1L103.5 144.7L96.9 144.7L90.4 145.6L84.7 147.5L80.9 149.4L79.1 151.7L76.2 152.7L72.9 151.3L71.5 147.0L67.8 146.6L62.1 148.0L56.5 149.4L50.8 150.8L44.2 151.7L37.6 152.2L32.0 151.3L32.9 148.9L36.2 145.1L36.2 142.3L33.4 137.6L32.0 132.9L32.5 128.7ZM0.0 326.5L10.0 326.0L20.0 325.5L28.0 326.5L36.0 329.0L44.0 331.5L36.0 330.2L28.0 328.5L20.0 328.0L10.0 329.0L0.0 331.0Z"/><path fill="#80e680" d="M147.4 153.4L152.1 152.4L155.9 157.1L158.7 161.9L161.5 167.5L165.3 172.2L168.1 175.0L164.4 176.4L159.6 173.1L155.9 169.4L154.0 165.6L153.1 160.9L150.2 157.1ZM63.7 0.4L71.0 0.4L67.3 4.4ZM118.0 63.0L124.0 62.0L129.5 66.0L130.0 71.5L124.0 72.5L118.5 70.0ZM124.0 82.0L128.5 84.0L131.5 90.0L128.0 91.0L124.5 87.0ZM131.0 98.0L134.0 100.0L137.0 108.0L134.0 107.0ZM127.6 152.5L131.0 151.3L134.2 152.8L131.0 154.3Z"/></g><path transform="scale(.5)" fill="none" stroke="#000" stroke-width="4.2" stroke-linecap="round" d="M0 0m22 426zm-6 3zm-4 0zm1 0zm-5 3zm-5 0zm6 1zm-2 0zm-1 1zm11 0zm5 0zm-16 1zm11 0zm-8 1zm10 1zm-8 0zm2 0zm5 1zm4 1zm-8 2zm-12 2zm1 0zm4 1zm-3 1zm1 1zm7 1zm-9 0zm8 1zm-2 0zm-1 0zm8 1zm2 1zm-14 0zm19 1zm-15 0zm7 1zm1 2zm-1 0zm3 1zm-1 0zm2 1zm-3 2zm-8 1zm7 2zm6 2zm-3 2zm0 5zm0 80zm-15 3zm13 1zm-5 0zm11 1zm-10 1zm2 1zm2 1zm7 0zm-1 1zm-11 0zm-1 0zm-7 3zm15 2zm1 1zm1 0zm-17 2zm17 0zm-18 2zm20 0zm1 0zm-17 3zm3 2zm3 0zm2 0zm-6 1zm-2 0zm7 2zm9 1zm-6 1zm3 1zm-2 0zm6 0zm-5 1zm4 0zm-1 0zm-5 1zm-10 1zm15 1zm-1 1zm-10 1zm10 2zm2 1zm-5 2zm-2 4zm5 2zm-6 4zm-7 60zm-4 4zm26-37zm-1-9zm18-15zm-1-3zm-16-1zm10 0zm-12-3zm-2-1zm11-2zm11 0zm-23-1zm3 0zm5 0zm7-1zm5 0zm-3 0zm-2-1zm6 0zm-3 0zm-13 0zm4-1zm3 0zm-2-2zm-7 0zm-1-2zm0-1zm2 0zm-4-3zm20-3zm1 0zm-2-1zm0-1zm-8-1zm8-2zm-4 0zm-6 0zm4-1zm-6-1zm-3-1zm14 0zm-10-1zm12-1zm-19 0zm6 0zm-5 0zm-2 0zm6-1zm13 0zm-13-1zm-1 0zm16-2zm-20 0zm15 0zm-13 0zm12 0zm2-4zm4-6zm-7-3zm5-4zm-17-6zm0-1zm12-3zm-8-48zm8-8zm6-9zm-9-3zm12 0zm-18-1zm16-1zm-2 0zm-6 0zm10-1zm-12 0zm11-3zm-9 0zm-11-1zm16-1zm1-2zm-15 0zm18 0zm-4-1zm-4 0zm6-1zm-2 0zm-5 0zm3 0zm1 0zm-13-1zm-2 0zm4-2zm-5-1zm1 0zm2-1zm-4 0zm20-2zm1 0zm-14-2zm11 0zm-1 0zm-5-1zm8 0zm-19 0zm12-1zm-2-1zm-3-1zm0-1zm10 0zm-15 0zm12 0zm-8-1zm12-1zm-2 0zm-8 0zm2-2zm-9-1zm11 0zm1 0zm-3-1zm-4-1zm0-1zm0-1zm-7-6zm10-5zm-8-7zm19-134zm0-2zm1-26zm-3 0zm1-6zm20-21zm-1 20zm1 3zm1 0zm5 1zm-13 3zm10 0zm-10 1zm4 1zm1 0zm9 0zm-4 0zm-6 1zm7 1zm-20 0zm7 0zm13 1zm-8 1zm-3 0zm1 4zm4 0zm1 1zm5 1zm-5 0zm-9 1zm6 1zm3 1zm-1 1zm-1 0zm-5 0zm8 1zm2 1zm-3 1zm3 0zm-1 1zm-5 1zm-5 0zm8 0zm-4 1zm-3 0zm0 2zm7 0zm-2 2zm9 0zm-1 0zm-5 1zm7 0zm-19 3zm9 1zm9 2zm1 3zm-5 3zm-4 1zm4 1zm-3 1zm0 1zm1 1zm-4 0zm0 1zm-5 0zm-2 0zm7 1zm-11 1zm15 0zm7 4zm-12 0zm1 7zm7 3zm3 88zm1 13zm-3 0zm-5 9zm-2 0zm0 5zm5 2zm-1 3zm-3 1zm-4 1zm-8 0zm2 4zm10 0zm8 1zm-13 1zm-8 1zm14 1zm2 0zm5 1zm-18 1zm9 1zm-7 1zm15 0zm-11 1zm-4 0zm9 0zm8 1zm-18 0zm-5 0zm14 1zm-8 0zm1 1zm14 0zm-20 8zm1 1zm6 1zm-6 0zm4 1zm3 0zm2 1zm12 0zm-7 1zm-13 0zm5 0zm2 1zm8 1zm-8 0zm13 1zm-8 1zm6 0zm-1 1zm0 2zm-13 0zm-1 3zm-4 1zm9 3zm-3 8zm10 6zm-2 44zm-3 4zm7 11zm0 1zm3 1zm-1 1zm-4 2zm3 3zm-6 1zm6 0zm2 1zm-6 1zm-11 0zm14 0zm-8 2zm5 1zm-5 0zm-2 1zm-7 0zm10 2zm-2 0zm-5 2zm3 1zm-8 0zm5 2zm-2 2zm-4 1zm18 2zm-2 8zm6 0zm-6 2zm2 1zm-4 1zm-13 1zm13 0zm-8 1zm-3 0zm16 1zm-8 0zm-7 1zm3 0zm2 1zm5 1zm3 0zm-1 2zm-12 4zm1 0zm6 0zm2 17zm-4 18zm5 10zm4 5zm-14 3zm29-1zm5-3zm7-12zm-19-43zm7-1zm0-2zm14-1zm-23-2zm0-2zm3 0zm14-2zm4 0zm-8-1zm10-1zm-20-1zm7 0zm-10 0zm7 0zm2-1zm-5 0zm-3-1zm1 0zm3 0zm3 0zm-5-1zm20 0zm-13-1zm8 0zm-9-1zm-2 0zm6-2zm-2-1zm3 0zm-12-6zm-2-7zm1-5zm2 0zm0-1zm4-2zm-4-2zm12-2zm-1-1zm-2-1zm3-1zm1-3zm4-1zm-1-1zm-13-5zm12-1zm-2-11zm-10-4zm17-1zm-2-4zm2-4zm0-8zm-11-1zm9-11zm-5-1zm-8-1zm0-5zm-2 0zm4-3zm7-1zm5-2zm1 0zm-8 0zm-2-1zm-1 0zm7-2zm-2 0zm-8-1zm9 0zm-7-1zm-9-1zm1-1zm1-2zm0-1zm14-5zm0-7zm-3-2zm-9-1zm17-1zm-8 0zm-3 0zm-8-1zm9 0zm8-1zm-19 0zm8 0zm-10 0zm8 0zm-5-1zm18 0zm-16 0zm10-1zm3 0zm1 0zm-9 0zm-7 0zm11-1zm9 0zm-6 0zm-15-1zm8-1zm2 0zm3 0zm4 0zm3-1zm-19 0zm10-1zm2 0zm1 0zm3 0zm-1-1zm-1-1zm-2 0zm2-1zm4 0zm-14-3zm8 0zm-1 0zm1-1zm4-2zm-6 0zm5 0zm-2-1zm-9-2zm9-1zm-13-1zm14 0zm-3 0zm1-2zm-5-1zm-1-1zm1-1zm-10-2zm14 0zm-3-1zm4 0zm-2 0zm5-2zm-2 0zm3-1zm3-1zm-13 0zm14 0zm-7 0zm-3 0zm4-1zm-3 0zm8 0zm-7-2zm7 0zm-10-1zm3-1zm0-12zm7-5zm-10-80zm3-3zm-14-1zm3-3zm5-2zm-6 0zm12-1zm6 0zm-9-1zm-5 0zm8-1zm-14-1zm12 0zm10-1zm-16 0zm1-1zm15-1zm-3-1zm-7-6zm-13-5zm7-13zm11-1zm-1-1zm-13 0zm0-1zm2-1zm-2 0zm-2-1zm18 0zm2-2zm1 0zm-18 0zm-3-5zm2-2zm-4 0zm7-1zm-4-1zm1 0zm6-2zm7 0zm-15 0zm9-2zm-10-1zm15-1zm-4-3zm28-250zm-1 3zm-5 0zm2 1zm7 1zm-4 0zm3 0zm-8 3zm7 1zm-1 2zm3 2zm1 1zm-8 0zm8 1zm-1 1zm3 0zm-6 0zm3 1zm-1 0zm1 1zm-2 0zm-5 2zm1 1zm7 0zm-4 1zm-9 1zm5 1zm-1 0zm1 1zm0 2zm8 177zm-7 7zm8 4zm-9 8zm10 25zm-12 18zm-6 0zm17 1zm-12 0zm-4 4zm14 0zm-13 0zm-4 2zm0 1zm12 0zm-3 1zm0 2zm-5 0zm15 0zm-12 2zm-3 0zm9 0zm2 1zm-3 1zm-2 0zm-10 0zm14 0zm-8 1zm-7 0zm1 0zm7 1zm-2 0zm-3 8zm17 4zm-13 1zm4 1zm-2 0zm7 0zm1 1zm-7 1zm-5 1zm-6 0zm10 0zm10 1zm-5 0zm-4 0zm-7 1zm3 1zm-5 0zm2 0zm10 3zm8 0zm-20 1zm5 4zm-7 0zm5 0zm15 85zm-11 7zm5 2zm1 0zm-15 0zm0 3zm10 0zm1 0zm-1 2zm-4 1zm-5 1zm8 2zm6 0zm-2 0zm10 1zm-16 0zm0 1zm8 0zm-5 1zm4 0zm8 0zm-5 0zm-1 0zm-6 1zm7 0zm6 0zm-16 0zm5 1zm2 0zm-11 2zm20 0zm-1 2zm-19 0zm7 0zm-5 1zm-2 0zm3 1zm11 0zm-5 0zm-10 0zm2 1zm8 0zm-3 1zm3 0zm-10 0zm-2 0zm13 1zm-13 0zm8 0zm-5 0zm17 0zm-16 0zm-2 1zm13 0zm0 1zm-3 1zm-7 0zm2 0zm13 1zm3 0zm-6 0zm-7 1zm-2 2zm14 0zm-11 2zm1 0zm1 1zm-4 1zm3 0zm1 1zm-4 4zm6 1zm-4 1zm6 1zm-3 2zm5 0zm2 0zm-8 0zm-3 1zm10 0zm1 0zm-6 0zm-15 0zm18 1zm3 0zm0 1zm-1 0zm-4 1zm1 0zm-16 2zm3 14zm2 8zm-1 1zm3 4zm-6 0zm9 1zm-5 1zm15 0zm-10 1zm-8 2zm0 1zm14 0zm-1 0zm6 1zm0 1zm-8 3zm-4 1zm10 1zm1 0zm-15 1zm7 1zm-13 1zm23 0zm0 1zm-5 0zm-16 0zm21 1zm-9 1zm3 1zm-6 1zm11 0zm-16 0zm-4 1zm9 0zm8 0zm-1 0zm-18 1zm22 1zm-2 0zm-6 1zm-9 2zm5 0zm4 1zm-2 1zm-9 1zm-3 5zm5 2zm10 3zm-7 0zm-5 2zm-2 0zm1 0zm1 3zm-3 1zm10 0zm-4 0zm-1 0zm5 1zm1 0zm-8 0zm3 1zm2 1zm-7 2zm0 1zm6 1zm-1 0zm-3 2zm-3 1zm2 3zm1 0zm6 4zm7 7zm7 8zm-1 1zm0 6zm-1 3zm-6 0zm-5 1zm1 0zm10 0zm-3 1zm-7 0zm-4 0zm4 1zm5 0zm1 0zm-9 1zm15 2zm-9 0zm-5 0zm-2 2zm14 0zm-19 0zm-2 0zm23 1zm-19 1zm16 3zm1 2zm-10 16zm-9 1zm18 8zm1 12zm-2 3zm1 0zm3 3zm-5 1zm-1 3zm3 1zm-4 3zm3 1zm1 0zm-15 1zm7 2zm0 1zm10 0zm-11 1zm12 0zm-8 2zm-9 1zm13 1zm-6 1zm5 3zm-8 0zm8 2zm-2 0zm1 0zm2 1zm-4 0zm1 0zm2 1zm-11 1zm5 0zm3 0zm-3 1zm2 0zm-1 1zm9 1zm-5 0zm-6 1zm-10 0zm15 0zm-3 2zm9 0zm-16 0zm9 0zm6 2zm-4 1zm-10 0zm11 0zm-8 0zm-6 1zm6 0zm-6 3zm11 4zm0 2zm-8 3zm15 3zm-11 2zm16-22zm-3-5zm3-5zm1-1zm2-1zm0-1zm-3-1zm2 0zm-3-2zm6 0zm2-4zm-10-1zm3-1zm-2 0zm1 0zm1-1zm11 0zm-1-1zm3 0zm-12-2zm0-2zm15-2zm-19 0zm8-1zm12 0zm3-1zm-11-3zm-2 0zm5-2zm-11-1zm0-1zm14 0zm-6-1zm3 0zm-1 0zm-8-1zm-2 0zm11 0zm-4-2zm11-1zm-4 0zm-11 0zm9-1zm-4-1zm-2-1zm10-1zm-6-1zm5 0zm-15 0zm6-1zm9-1zm-4 0zm0-3zm0-1zm0-1zm-8-1zm5-4zm-3 0zm8-1zm5-1zm-3-1zm4 0zm0-1zm-9-1zm6 0zm-16 0zm18-1zm-14 0zm15-1zm-11 0zm4-1zm-7-1zm-3 0zm-1-1zm17-2zm-13-1zm10 0zm-2 0zm-13 0zm5-1zm6 0zm2-1zm3 0zm-20-1zm1 0zm21-1zm-3 0zm-17 0zm2-2zm-1 0zm17 0zm-17-1zm17-1zm-14-2zm-4-2zm0-1zm-2-1zm10 0zm-7-1zm5 0zm1-1zm-1 0zm-7-1zm4 0zm3-2zm0-1zm2-1zm-2 0zm3-1zm-5-1zm6 0zm3 0zm-14-1zm11 0zm0-1zm-4-1zm3 0zm-1 0zm-2-1zm2 0zm-3-1zm0-2zm1 0zm-5-1zm0-1zm2 0zm-1 0zm5-1zm0-2zm-5 0zm-3-12zm3-14zm-3-28zm2-1zm-3-3zm3-1zm1 0zm-2-4zm-1-1zm21-17zm0-1zm-2-3zm-1-1zm2 0zm1-3zm-1-1zm-18-1zm3 0zm17 0zm-18 0zm0-1zm17 0zm-14-1zm-7-1zm6 0zm-4 0zm1-1zm6-1zm-5 0zm6 0zm8 0zm-10-1zm-8 0zm4-1zm8-1zm3 0zm-9-1zm1 0zm14 0zm-6 0zm3-1zm-1 0zm-3 0zm7 0zm-6-2zm-3-2zm-2 0zm-2-1zm5-1zm-4-2zm-2 0zm7-2zm3-1zm-10-1zm-8-1zm2-1zm-2-1zm1-1zm1-3zm3-3zm12 0zm-17-4zm2 0zm2 0zm5-2zm-8-1zm1 0zm3-2zm15-1zm-15-1zm-1-1zm-4-1zm11-5zm-3-4zm1 0zm11-77zm-4-6zm1-1zm5-1zm-8-4zm-14-2zm19-3zm2-2zm-12-2zm14-2zm-20-3zm2-2zm15 0zm-1-1zm-3-1zm4-1zm-11 0zm-8 0zm11 0zm2-1zm5-1zm1 0zm-20 0zm12 0zm5-1zm-14-1zm7 0zm1 0zm8-1zm-3-1zm0-3zm-15-9zm2-5zm-3-2zm7 0zm-6-3zm8-1zm6-1zm5-1zm-11-1zm5 0zm-4-1zm10 0zm-7-1zm4-3zm4-1zm-4-2zm-10-4zm-2 0zm17 0zm0-2zm1 0zm-7 0zm7-1zm-6-2zm3-1zm1 0zm-21-2zm12-1zm2 0zm2-2zm-12 0zm1-1zm16 0zm-4-2zm4 0zm1 0zm-7-1zm-3 0zm-11-1zm22 0zm-11 0zm-4-1zm12-1zm-19 0zm9-1zm-8 0zm9 0zm12 0zm-19 0zm6-1zm10 0zm-4 0zm-11-1zm6-2zm-2 0zm9 0zm-9-1zm1 0zm3 0zm-3-2zm-5 0zm8-1zm-5-1zm6-1zm-8-1zm0-3zm4-2zm2-2zm9-1zm2-1zm0-188zm-14 0zm-9 0zm13-1zm8 0zm2-2zm-3-1zm-15-2zm-4-4zm-1-12zm43 2zm1 1zm2 1zm-4 1zm4 0zm1 0zm-9 2zm3 0zm5 0zm0 1zm-8 0zm4 0zm4 1zm1 0zm-2 1zm-3 0zm-6 0zm10 1zm-8 0zm-5 1zm-6 2zm17 0zm3 1zm-22 1zm11 1zm-8 1zm12 0zm-7 0zm-3 1zm5 0zm-1 1zm-10 1zm12 0zm-10 1zm-1 0zm21 160zm-15 22zm15 2zm-9 7zm9 2zm-15 5zm5 1zm7 0zm-1 1zm3 1zm-20 1zm8 1zm5 3zm7 1zm-16 0zm15 0zm-20 1zm1 0zm21 4zm-6 0zm-10 1zm-3 0zm-1 1zm3 1zm11 2zm-6 0zm-3 1zm-1 0zm17 0zm-7 0zm-1 0zm-5 0zm12 1zm-3 0zm1 0zm1 1zm-2 0zm-5 0zm4 0zm-8 1zm9 1zm-3 0zm2 0zm-1 2zm1 0zm-8 3zm1 0zm-3 0zm-4 1zm-4 0zm9 0zm1 0zm6 1zm-9 0zm-2 0zm2 1zm8 1zm-2 1zm-2 1zm-7 0zm10 0zm-9 1zm-5 0zm3 0zm0 1zm-1 0zm-2 1zm0 30zm19 3zm3 2zm-6 1zm-15 2zm4 1zm17 0zm-22 0zm8 1zm11 0zm-19 0zm2 0zm13 0zm-6 0zm-2 1zm0 1zm-2 1zm-1 0zm17 11zm-16 93zm-5 22zm0 11zm12 8zm6 2zm-13 1zm12 0zm2 2zm-8 2zm-10 2zm13 1zm-5 1zm1 0zm-3 0zm16 1zm-3 0zm-13 0zm4 1zm-6 0zm17 1zm-4 0zm-16 2zm20 0zm-21 0zm14 0zm-2 0zm-4 1zm-3 1zm-6 0zm4 0zm0 1zm5 1zm-5 1zm5 0zm-4 95zm5 1zm-1 2zm1 0zm-3 1zm7 1zm3 1zm-2 0zm-13 0zm-1 1zm4 1zm13 0zm-11 0zm10 2zm-7 0zm10 1zm-7 0zm-2 0zm-2 1zm-3 0zm11 0zm1 0zm-14 1zm14 0zm4 1zm-12 1zm8 0zm-4 2zm6 0zm-16 0zm13 1zm2 0zm-14 2zm14 1zm-18 1zm0 1zm8 3zm3 1zm-1 0zm-8 2zm7 1zm-8 0zm6 1zm-5 1zm2 1zm17 1zm-16 0zm15 1zm0 1zm-19 0zm0 3zm15 1zm0 2zm-5 5zm-1 0zm6 1zm-8 2zm-2 1zm-1 1zm0 1zm-2 2zm-3 1zm2 1zm-1 1zm18 2zm-9 12zm14-32zm5-4zm-6-3zm1-1zm4-2zm1-1zm-1 0zm0-1zm0-1zm-1-1zm5-2zm2-1zm1 0zm-2 0zm3-1zm9-2zm-7-2zm3-3zm2-9zm3-101zm-3 0zm-3-2zm-3-1zm-2 0zm-3-2zm0-1zm13 0zm-16 0zm1-1zm-7-2zm5-1zm14 0zm1 0zm-15-3zm16 0zm-7-1zm9-12zm-1-3zm-3-118zm-14-8zm2 0zm13-4zm-18-4zm3-6zm2-2zm-3-2zm-2 0zm3-1zm-4 0zm16-1zm-16 0zm4-2zm15-2zm-18 0zm-1 0zm11-2zm-2 0zm-6 0zm2 0zm5-1zm6-1zm1 0zm-7-1zm4 0zm-11-16zm8-10zm-3-5zm1 0zm-6-1zm1 0zm5-1zm6 0zm-15 0zm17-1zm-15 0zm11 0zm1 0zm-11-1zm1 0zm1 0zm5 0zm-3-1zm-6 0zm1 0zm-3 0zm15 0zm-14-1zm7 0zm4-2zm-1-1zm10-1zm-7-1zm-9 0zm-2 0zm9-1zm-3 0zm-5 0zm17 0zm-16 0zm14 0zm-16 0zm15-1zm-11 0zm14 0zm-16 0zm11 0zm-11-1zm14 0zm-1 0zm-9-1zm-1 0zm11 0zm3 0zm-16 0zm8 0zm-6-1zm-5 0zm5-1zm-5 0zm3 0zm8 0zm1 0zm4-1zm-5 0zm-13-1zm-1-2zm13 0zm2-1zm-6 0zm-7 0zm2-1zm-3 0zm10-1zm-2 0zm-1-2zm2-1zm-3-1zm-1 0zm-3-2zm14 0zm-10-2zm-1 0zm16-1zm-11 0zm12 0zm-16-1zm14-2zm-14-4zm-5 0zm16-4zm-8 0zm13-1zm-4 0zm-7-1zm3 0zm3 0zm-14 0zm12 0zm-3-1zm4 0zm-2-1zm-6-1zm6-2zm2-4zm2-3zm2-1zm1-1zm1-1zm-2-1zm-9-1zm1-1zm3-2zm0-3zm4-15zm2-146zm0-1zm-9-2zm-8-2zm1-1zm14 0zm1-1zm0-1zm-4 0zm-9-1zm-6 0zm18 0zm-5 0zm-6 0zm14 0zm-16 0zm12-1zm-2-1zm-14 0zm8 0zm-11-1zm14 0zm-5 0zm-2-1zm-5 0zm7-3zm24-12zm-1 4zm-6 16zm-2 1zm3 0zm3 0zm2 0zm-3 1zm11 0zm2 0zm-6 1zm3 0zm-6 1zm9 1zm-13 1zm15 0zm-11 1zm11 105zm-1 4zm-18 44zm10 8zm12 5zm-19 4zm1 0zm16 1zm-3 1zm-16 1zm3 0zm15 0zm-11 0zm-3 0zm0 1zm4 0zm2 1zm-8 1zm1 0zm6 0zm-4 1zm6 0zm-4 1zm2 1zm-1 0zm13 0zm-1 0zm-13 1zm2 1zm8 2zm-1 1zm-16 0zm20 0zm-1 1zm-1 0zm-2 1zm1 0zm-19 0zm6 1zm13 0zm1 0zm-14 1zm15 0zm-3 0zm-15 0zm20 2zm-19 0zm-4 1zm9 0zm13 0zm-13 1zm-5 0zm3 0zm3 0zm12 1zm-12 3zm-2 0zm0 2zm-5 1zm6 0zm3 0zm-2 1zm3 0zm7 1zm-8 2zm1 1zm5 0zm4 1zm-6 0zm-4 0zm-7 0zm14 1zm2 1zm-4 1zm-8 0zm9 1zm2 0zm-18 1zm18 0zm-5 1zm-7 0zm-8 0zm22 0zm-5 1zm-3 0zm-7 0zm11 1zm-18 0zm3 1zm20 0zm-2 0zm-14 1zm3 0zm12 0zm-8 1zm7 0zm-14 1zm-1 0zm15 1zm1 0zm-16 1zm-5 0zm11 0zm-8 1zm3 0zm3 0zm-2 0zm-8 0zm14 0zm-3 11zm4 27zm-3 3zm-5 0zm11 1zm-1 0zm6 1zm-21 0zm14 0zm3 1zm-16 0zm11 0zm-8 2zm17 0zm-13 0zm6 0zm-8 7zm4 0zm-5 2zm6 0zm0 1zm6 2zm-12 3zm3 1zm-5 7zm16 10zm-12 8zm14 4zm-1 0zm-20 3zm6 1zm15 3zm-4 1zm-7 1zm7 1zm3 3zm-4 1zm-8 4zm11 1zm-2 0zm0 2zm3 0zm1 2zm-1 1zm-15 3zm9 1zm7 4zm-11 3zm1 0zm-1 1zm-5 4zm5 1zm10 0zm1 2zm-1 1zm-2 2zm2 1zm-9 1zm8 12zm-10 16zm2 6zm7 24zm-19 2zm20 1zm-12 3zm14 1zm-21 6zm2 4zm15 1zm-2 1zm-1 2zm5 0zm-18 3zm12 0zm-2 2zm-6 1zm1 0zm-6 0zm9 1zm-8 0zm3 2zm2 0zm-7 1zm22 83zm0 2zm-3 1zm1 1zm-4 1zm-3 3zm-1 1zm-12 10zm-1 4zm0 1zm37-16zm-7-13zm4-2zm0-2zm3 0zm6 0zm-6-1zm1 0zm1-3zm3 0zm1-1zm4-3zm-13-10zm-6-70zm-1-1zm-1-1zm-2 0zm22-1zm-22 0zm1-2zm2-1zm3 0zm-4-2zm5-2zm1-1zm2-1zm-2-1zm4-3zm-2-1zm11-4zm-7 0zm3 0zm5-1zm-10 0zm0-2zm5-1zm-5-2zm-6-1zm8-2zm-6 0zm14-3zm-1-2zm-21-5zm21-1zm-7 0zm9-11zm-8-5zm-5 0zm-4-9zm7-2zm6-1zm-7 0zm4-1zm1-2zm-14-1zm7 0zm-6 0zm3-1zm-5 0zm11 0zm-13 0zm6-1zm10 0zm-12-1zm-2 0zm8-2zm-9 0zm15 0zm-15-1zm0-1zm15 0zm-16 0zm14 0zm5-1zm-2-3zm0-1zm2-1zm-1-1zm-15 0zm11 0zm-13-1zm18 0zm-15-3zm-2-1zm17 0zm1 0zm-4-1zm-13 0zm13-1zm-10-1zm14 0zm3-1zm-21-1zm17 0zm4-2zm-2 0zm-21 0zm5-1zm-2-1zm17-1zm-20 0zm16-2zm-15 0zm17-2zm-17-4zm16-2zm1-1zm3 0zm0-1zm-18-1zm1 0zm-1-1zm18-2zm-18-2zm15-1zm3 0zm-1-1zm2 0zm-4-2zm4-1zm-20-1zm-1-1zm17-1zm2-2zm1 0zm-19 0zm1 0zm19-1zm-22-1zm1-1zm21 0zm-19-1zm6 0zm11-2zm2-1zm-16-1zm-1 0zm18-1zm-3 0zm-19-1zm21 0zm-14-2zm-1-1zm14 0zm-12-1zm-4 0zm18-1zm-14 0zm-9-1zm6 0zm17 0zm-14 0zm-4 0zm18-1zm-22-1zm2 0zm-1-1zm8-1zm-6 0zm9-3zm-1-1zm-5-2zm4-1zm-3-3zm0-2zm1 0zm-6-1zm-1-2zm3 0zm-4-1zm7 0zm-5-3zm6 0zm-2 0zm-6-1zm-1-1zm5-47zm16-10zm-16-2zm0-2zm11 0zm-9-1zm11 0zm3 0zm-8 0zm9-1zm-10 0zm0-2zm-6 0zm11-2zm-1-1zm-14-1zm4-2zm1 0zm-4-1zm8-2zm-4-1zm1-2zm11-1zm0-3zm-4-3zm-7-2zm-1 0zm13-3zm-15-5zm-4-3zm22 0zm-8-13zm8 0zm-16 0zm7-4zm7-8zm-2-2zm-5-2zm2-2zm-4 0zm11-1zm-8-1zm1-1zm-13-2zm12-1zm8 0zm-1 0zm-7-2zm-5 0zm1 0zm2 0zm3-2zm2-1zm-1 0zm5-2zm-19-1zm17-2zm3 0zm-2-2zm-8 0zm0-1zm-1-1zm-2-1zm-3 0zm7 0zm-2-3zm9 0zm-14-2zm5-1zm2 0zm-8 0zm15 0zm-4-1zm-10 0zm6 0zm0-3zm-4 0zm5-2zm-3-1zm4 0zm0-2zm8 0zm-13-1zm-10-2zm21 0zm-6-2zm-4 0zm9-1zm-4-3zm-4-1zm-2 0zm6-1zm2-1zm-9-1zm6 0zm1-1zm-8-1zm11 0zm-11-1zm10 0zm-2-1zm-2 0zm7-1zm-5 0zm1 0zm-9 0zm5-3zm3 0zm-5 0zm2-3zm5 0zm-2-1zm-4-2zm-7-1zm17-1zm-11 0zm-4-2zm8-1zm2-2zm-3-2zm6-1zm2 0zm1-1zm-2-2zm-2-1zm3-2zm-14-56zm-6-3zm15-1zm-9 0zm3 0zm-4 0zm-5 0zm-2 0zm9-2zm-5-1zm8-2zm12 66zm1 3zm0 4zm3 0zm-4 0zm9 3zm-1 2zm1 0zm-7 0zm9 2zm-1 2zm-4 1zm6 0zm-10 0zm10 1zm-8 1zm10 3zm2 3zm-10 0zm5 1zm4 1zm-14 1zm-1 0zm7 1zm11 0zm-3 1zm2 0zm0 1zm-16 0zm11 1zm4 1zm1 1zm2 1zm-2 0zm-9 0zm-2 0zm-1 0zm11 3zm-7 0zm-2 1zm-5 0zm7 0zm9 1zm-7 2zm6 1zm-10 1zm-6 2zm6 0zm14 1zm-2 1zm-12 0zm-4 1zm18 1zm-21 0zm4 2zm12 1zm-4 1zm3 0zm6 2zm-5 1zm-2 0zm5 1zm-4 1zm1 0zm-3 2zm-2 4zm-9 0zm11 3zm-11 2zm17 0zm-19 0zm17 0zm5 1zm1 0zm-16 0zm12 2zm-18 2zm2 1zm-1 1zm14 0zm-13 1zm-2 1zm12 0zm7 0zm2 1zm-20 1zm-2 0zm8 0zm15 0zm0 1zm-19 2zm19 0zm-21 1zm-2 1zm22 0zm-13 0zm4 0zm-4 3zm-1 1zm-4 0zm-1 1zm17 1zm-12 0zm1 0zm11 1zm-12 0zm-5 1zm7 0zm-1 2zm0 1zm1 0zm3 1zm-8 0zm-2 0zm11 1zm0 2zm-5 0zm10 0zm-18 1zm10 0zm10 1zm-9 0zm6 1zm-5 0zm-10 1zm14 4zm-12 0zm9 3zm2 3zm1 0zm-6 1zm-5 1zm3 1zm10 0zm3 1zm-10 0zm3 0zm0 1zm1 0zm-2 1zm9 0zm-4 0zm-4 1zm8 0zm-5 0zm5 1zm-12 1zm2 1zm-6 0zm8 1zm4 0zm-5 0zm8 0zm-4 1zm-2 0zm-5 0zm11 0zm-13 1zm10 0zm-7 1zm6 1zm-5 0zm0 1zm-4 1zm2 1zm-3 1zm15 0zm-16 1zm-3 2zm17 0zm-8 0zm8 2zm-16 0zm1 1zm8 0zm8 1zm1 1zm-10 1zm1 0zm9 0zm-7 0zm1 1zm6 0zm-22 0zm20 1zm-5 0zm1 0zm-14 2zm16 0zm-2 0zm-11 0zm16 1zm-15 0zm1 0zm0 2zm13 0zm2 0zm-22 0zm1 0zm15 1zm6 1zm-2 0zm-11 0zm-5 1zm6 1zm-3 0zm11 1zm-8 1zm8 1zm3 2zm-1 10zm-2 2zm3 2zm-17 2zm16 1zm1 32zm-11 2zm11 0zm-12 2zm-1 1zm3 0zm-6 1zm12 2zm1 0zm-6 0zm0 1zm9 0zm-2 1zm-13 2zm14 0zm-12 1zm3 2zm11 0zm-19 2zm16 2zm-19 1zm11 1zm-7 0zm-3 2zm17 0zm-18 0zm0 1zm10 1zm-8 2zm7 1zm-2 1zm11 1zm-19 1zm1 2zm9 2zm-4 1zm-2 3zm7 0zm4 1zm-2 0zm10 0zm-8 1zm-15 3zm0 3zm1 3zm4 3zm-5 0zm11 0zm10 13zm-18 6zm7 1zm13 29zm0 1zm-2 2zm-13 1zm7 1zm6 0zm-15 1zm15 1zm-2 1zm-2 1zm0 2zm-15 0zm8 3zm6 0zm-9 1zm-2 2zm7 1zm-3 3zm3 0zm-12 1zm7 1zm-2 0zm5 1zm-3 0zm4 1zm-7 1zm2 2zm3 1zm-6 0zm-1 0zm-2 0zm2 1zm18 99zm-10 8zm6 0zm-2 0zm-2 2zm-2 2zm-1 0zm-2 0zm-2 2zm1 0zm-3 0zm2 1zm-3 1zm-1 10zm20 4zm23-3zm1-15zm-16-7zm-4 0zm-1-1zm2-1zm13-5zm0-4zm-11-6zm15-102zm-9-1zm10 0zm-16-1zm13-1zm-2 0zm3 0zm-11-1zm10 0zm4 0zm-21 0zm12-1zm-3 0zm-8 0zm15 0zm2-2zm-2 0zm-7-1zm-7-1zm20 0zm-16 0zm-4-1zm14-1zm3 0zm-4-3zm-1 0zm3-1zm-7-1zm3-1zm-11-4zm20-4zm-16 0zm8-1zm-3-2zm10-1zm-4-1zm0-1zm6 0zm-4-3zm-1-1zm3-3zm-1-6zm0-4zm3-1zm-2 0zm-8-5zm-4 0zm9-4zm4-7zm1 0zm-2-1zm2-3zm-2-3zm2-1zm-3-4zm-19-2zm22-1zm-8 0zm7-1zm1-2zm-10-1zm8-2zm-2 0zm-19-3zm12 0zm9 0zm-7-1zm3-3zm-15-3zm14-2zm3-2zm-7-1zm-5 0zm2-1zm5-2zm1-1zm-1 0zm-10-1zm10 0zm4-4zm-12-2zm1 0zm-3 0zm3-1zm-2-1zm-4 0zm3 0zm-2 0zm1-1zm1 0zm0-2zm18-19zm-3-6zm-2-1zm-2-1zm-5-4zm8-1zm3 0zm-4 0zm-7 0zm1-1zm0-1zm-10-2zm12-1zm0-1zm-5 0zm14 0zm-5 0zm-7-1zm7 0zm-13-1zm1-1zm18 0zm-16 0zm10 0zm-5 0zm0-1zm-6 0zm10 0zm-10-2zm16-1zm1 0zm-16 0zm-6-1zm17-2zm-18-1zm20 0zm-10-1zm-5 0zm-2 0zm3 0zm3 0zm7 0zm4-1zm-13 0zm-2-1zm5 0zm-2-1zm-5-1zm14 0zm-13-1zm17 0zm-19 0zm6 0zm-2-2zm-1-2zm12 0zm-12-1zm1 0zm3 0zm-7 0zm-2-1zm11 0zm3 0zm8 0zm-21 0zm18 0zm4-1zm-18-1zm13-1zm-1-1zm2 0zm-19 0zm14 0zm-8 0zm1-1zm-3 0zm17 0zm-2 0zm-6 0zm-13 0zm22 0zm-19 0zm-2-1zm19 0zm-16-1zm2 0zm17 0zm-16 0zm1-1zm-8 0zm22 0zm-10-1zm-1-1zm-6 0zm1 0zm3-1zm11 0zm-1 0zm-19-1zm6-1zm10 0zm-13-1zm7-1zm6-1zm-12-1zm15 0zm-14 0zm-2-2zm-3-2zm16-2zm-14-1zm13-2zm-1-1zm3-1zm-1 0zm-1-1zm-3-2zm0-1zm-1-1zm4 0zm-14-1zm11-1zm-7 0zm6-1zm6-1zm-6-3zm1-1zm-6 0zm6-1zm0-2zm-3 0zm-4-1zm-3 0zm4-1zm-5 0zm9 0zm-3-1zm3 0zm-7-2zm3 0zm3 0zm-3-2zm3-1zm3-3zm-9 0zm2-2zm-4 0zm5-1zm-1 0zm-4-1zm-1 0zm7-1zm-3 0zm1-2zm-4-1zm3 0zm-1-1zm8-4zm-10-3zm0-2zm6-21zm11-23zm-18-28zm43 140zm-18 7zm1 0zm0 2zm-1 2zm1 1zm1 0zm-2 1zm4 1zm4 4zm-3 1zm0 1zm2 3zm-2 1zm-3 4zm7 3zm-1 0zm-9 0zm2 0zm8 1zm2 0zm-2 1zm2 3zm0 1zm3 1zm1 0zm-6 1zm-6 5zm14 3zm-9 1zm12 4zm-1 1zm-2 1zm3 2zm1 2zm1 4zm-13 6zm5 10zm-5 0zm6 1zm-2 1zm4 1zm-2 0zm-15 1zm16 4zm1 6zm-18 1zm19 4zm-19 4zm2 1zm1 0zm-1 3zm3 7zm-1 1zm4 2zm-4 1zm1 2zm1 1zm-1 0zm0 4zm-5 0zm6 0zm16 1zm-16 10zm-2 1zm2 0zm-1 1zm0 1zm3 3zm-7 1zm7 1zm0 3zm-4 2zm-4 1zm8 0zm-5 0zm-3 1zm4 2zm-3 0zm11 0zm-12 2zm0 1zm3 6zm3 1zm-6 2zm4 0zm1 1zm0 1zm0 2zm-4 2zm1 0zm-2 2zm12 0zm-12 4zm22 105zm-2 3zm-1 1zm-2 0zm-5 0zm0 1zm2 1zm-2 0zm-7 3zm-1 1zm-1 1zm5 23zm23-35zm-2 0zm1 0zm2-1zm6 0zm4-1zm-3 0zm-3-1zm1 0zm9-1zm-9 0zm8-1zm-4-2zm5-1zm1-23zm-3-93zm-11-31zm8-2zm-3-1zm-2 0zm0-2zm-3 0zm10 0zm-2-2zm-5-1zm11-4zm-17 0zm7 0zm-7-1zm17 0zm-22-1zm21 0zm-19-1zm-3-1zm22-2zm0-1zm-1-2zm-14-2zm-1 0zm-5 0zm20-1zm-2-1zm-2 0zm1 0zm0-2zm-16-1zm-1-1zm1-1zm13-2zm-14 0zm0-1zm14-1zm-8-1zm5-3zm-1-2zm9-1zm-9 0zm0-2zm-8-2zm7 0zm0-1zm-2-2zm2-1zm-2 0zm1-1zm-3-2zm-1-2zm-3-3zm2 0zm-1-1zm1-2zm5-3zm-9 0zm30 39zm-6 7zm2 6zm2 5zm-3 1zm4 1zm1 2zm2 1zm-1 5zm1 6zm2 2zm0 1zm1 3zm-1 1zm8 3zm-4 1zm-1 2zm1 1zm2 2zm-3 3zm3 0zm-1 0zm2 2zm-2 0zm0 1zm2 8zm2 4zm-2 0zm2 3zm1 3zm-2 2zm0 2zm1 1zm-1 2zm2 1zm-3 1zm1 2zm-2 5zm0 2zm-1 3zm0 2zm1 5zm-1 3zm1 2zm-2 1zm-3 4zm3 4zm-6 2zm2 0zm4 2zm-1 0zm1 1zm-2 2zm-1 0zm2 4zm-2 3zm-1 4zm-1 1zm-1 2zm2 0zm0 2zm-2 2zm-1 3zm-3 3zm4 3zm-1 5zm-5 1zm5 2zm0 1zm-3 3zm2 0zm-1 3zm-3 2zm0 1zm-2 0zm7 4zm-2 0zm-3 2zm3 0zm20-41z"/><path fill="none" stroke="#c4c4c4" stroke-width="0.8" stroke-dasharray="2.6 5.8" d="M58.0 0V427.7M116.0 0V427.7M174.0 0V427.7M232.0 0V427.7M290.0 0V427.7M0 71.3H348.0M0 142.6H348.0M0 213.8H348.0M0 285.1H348.0M0 356.4H348.0"/><g shape-rendering="crispEdges"><g transform="translate(3.30 0.68) scale(7.620 7.670)"><path fill="#0010ff" d="M0 50h1v1h-1zM2 50h2v1h-2zM5 50h2v1h-2zM10 50h2v1h-2zM25 50h1v1h-1zM27 50h1v1h-1zM29 50h4v1h-4zM34 50h1v1h-1zM36 50h1v1h-1zM38 50h1v1h-1zM39 29h1v1h-1zM42 29h1v1h-1zM1 48h1v1h-1zM13 48h1v1h-1zM15 48h2v1h-2zM23 48h3v1h-3zM27 48h1v1h-1zM36 48h1v1h-1zM38 48h1v1h-1zM39 40h1v1h-1zM42 40h1v1h-1zM35 52h1v1h-1zM37 41h1v1h-1zM40 41h1v1h-1zM19 33h2v1h-2zM41 33h3v1h-3zM45 33h1v1h-1zM35 25h1v1h-1zM38 25h2v1h-2zM42 25h1v1h-1zM29 53h1v1h-1zM32 53h1v1h-1zM1 45h1v1h-1zM35 45h4v1h-4zM41 45h1v1h-1zM25 22h1v1h-1zM35 22h1v1h-1zM37 22h1v1h-1zM45 22h1v1h-1zM18 46h2v1h-2zM21 46h1v1h-1zM35 46h1v1h-1zM0 49h2v1h-2zM3 49h1v1h-1zM12 49h1v1h-1zM23 49h2v1h-2zM26 49h1v1h-1zM29 49h1v1h-1zM31 49h6v1h-6zM40 49h1v1h-1zM27 18h1v1h-1zM37 21h4v1h-4zM40 44h1v1h-1zM42 44h1v1h-1zM40 37h1v1h-1zM42 37h1v1h-1zM34 55h1v1h-1zM1 47h1v1h-1zM15 47h1v1h-1zM18 47h1v1h-1zM35 47h1v1h-1zM37 47h1v1h-1zM3 51h1v1h-1zM26 51h2v1h-2zM32 51h2v1h-2zM35 51h1v1h-1zM41 43h1v1h-1zM28 17h1v1h-1zM30 17h2v1h-2zM36 17h1v1h-1zM39 36h2v1h-2zM40 28h3v1h-3zM45 28h1v1h-1zM40 32h2v1h-2zM43 32h1v1h-1zM40 24h2v1h-2zM29 16h1v1h-1zM31 16h1v1h-1zM38 16h1v1h-1zM16 35h1v1h-1zM18 35h1v1h-1zM43 35h1v1h-1zM45 35h1v1h-1zM39 42h2v1h-2zM42 42h3v1h-3zM39 39h2v1h-2zM45 39h1v1h-1zM44 31h1v1h-1zM38 27h1v1h-1zM41 27h1v1h-1zM32 20h1v1h-1zM34 20h2v1h-2zM38 23h3v1h-3zM42 23h1v1h-1zM44 23h1v1h-1zM41 38h2v1h-2zM30 19h1v1h-1zM32 19h1v1h-1zM34 19h1v1h-1zM38 19h1v1h-1zM43 30h1v1h-1zM39 26h3v1h-3zM43 26h1v1h-1zM41 34h1v1h-1zM43 34h1v1h-1z"/><path fill="#0000ff" d="M1 50h1v1h-1zM16 50h3v1h-3zM21 50h1v1h-1zM23 50h2v1h-2zM33 50h1v1h-1zM35 50h1v1h-1zM41 50h1v1h-1zM44 50h1v1h-1zM44 29h1v1h-1zM0 48h1v1h-1zM14 48h1v1h-1zM19 48h1v1h-1zM21 48h1v1h-1zM26 48h1v1h-1zM33 48h3v1h-3zM37 48h1v1h-1zM39 48h2v1h-2zM42 48h1v1h-1zM40 40h2v1h-2zM21 52h2v1h-2zM24 52h5v1h-5zM30 52h1v1h-1zM32 52h3v1h-3zM38 52h1v1h-1zM44 52h1v1h-1zM41 41h2v1h-2zM44 33h1v1h-1zM40 25h2v1h-2zM43 25h1v1h-1zM26 53h1v1h-1zM30 53h2v1h-2zM34 53h1v1h-1zM34 45h1v1h-1zM39 45h2v1h-2zM43 45h1v1h-1zM39 22h1v1h-1zM41 22h1v1h-1zM31 14h1v1h-1zM40 14h1v1h-1zM0 46h2v1h-2zM36 46h2v1h-2zM39 46h1v1h-1zM41 46h3v1h-3zM15 49h2v1h-2zM18 49h5v1h-5zM25 49h1v1h-1zM27 49h2v1h-2zM37 49h1v1h-1zM29 15h2v1h-2zM36 15h1v1h-1zM28 18h3v1h-3zM33 18h1v1h-1zM35 18h1v1h-1zM38 18h1v1h-1zM41 18h3v1h-3zM25 21h1v1h-1zM33 21h3v1h-3zM44 21h1v1h-1zM0 44h1v1h-1zM41 44h1v1h-1zM43 44h1v1h-1zM43 37h1v1h-1zM45 37h1v1h-1zM24 55h1v1h-1zM26 55h1v1h-1zM30 55h1v1h-1zM0 47h1v1h-1zM19 47h2v1h-2zM34 47h1v1h-1zM36 47h1v1h-1zM39 47h1v1h-1zM41 47h1v1h-1zM0 51h1v1h-1zM2 51h1v1h-1zM7 51h1v1h-1zM10 51h1v1h-1zM17 51h1v1h-1zM21 51h2v1h-2zM28 51h1v1h-1zM30 51h2v1h-2zM34 51h1v1h-1zM36 51h4v1h-4zM42 51h1v1h-1zM1 43h1v1h-1zM38 43h3v1h-3zM43 43h2v1h-2zM29 17h1v1h-1zM34 17h1v1h-1zM37 17h1v1h-1zM40 17h1v1h-1zM43 17h1v1h-1zM42 36h2v1h-2zM45 36h1v1h-1zM43 28h2v1h-2zM37 13h1v1h-1zM42 32h1v1h-1zM44 32h1v1h-1zM45 24h1v1h-1zM30 16h1v1h-1zM37 16h1v1h-1zM29 54h1v1h-1zM31 54h1v1h-1zM37 54h1v1h-1zM39 54h1v1h-1zM33 12h1v1h-1zM19 35h1v1h-1zM38 42h1v1h-1zM45 42h1v1h-1zM42 39h3v1h-3zM45 31h1v1h-1zM40 27h1v1h-1zM42 27h2v1h-2zM25 20h2v1h-2zM31 20h1v1h-1zM33 20h1v1h-1zM36 20h2v1h-2zM24 23h1v1h-1zM36 23h1v1h-1zM41 23h1v1h-1zM43 23h1v1h-1zM43 38h3v1h-3zM26 19h1v1h-1zM29 19h1v1h-1zM31 19h1v1h-1zM33 19h1v1h-1zM35 19h2v1h-2zM40 19h2v1h-2zM43 19h1v1h-1zM45 19h1v1h-1zM41 30h1v1h-1zM42 26h1v1h-1zM44 26h2v1h-2zM18 34h1v1h-1zM42 34h1v1h-1zM44 34h2v1h-2z"/><path fill="#0030ff" d="M4 50h1v1h-1zM38 29h1v1h-1zM2 48h1v1h-1zM11 48h2v1h-2zM22 48h1v1h-1zM35 40h1v1h-1zM34 41h2v1h-2zM43 41h1v1h-1zM37 33h3v1h-3zM33 25h1v1h-1zM36 25h2v1h-2zM19 45h1v1h-1zM21 45h1v1h-1zM29 45h1v1h-1zM33 45h1v1h-1zM29 22h1v1h-1zM31 22h1v1h-1zM3 46h1v1h-1zM17 46h1v1h-1zM20 46h1v1h-1zM24 46h2v1h-2zM30 46h1v1h-1zM34 46h1v1h-1zM4 49h2v1h-2zM27 21h1v1h-1zM29 21h1v1h-1zM1 44h1v1h-1zM18 44h2v1h-2zM32 44h3v1h-3zM39 44h1v1h-1zM35 37h4v1h-4zM2 47h1v1h-1zM13 47h1v1h-1zM22 47h3v1h-3zM26 47h2v1h-2zM29 47h2v1h-2zM4 43h1v1h-1zM35 43h2v1h-2zM15 36h1v1h-1zM36 28h1v1h-1zM38 32h1v1h-1zM32 24h1v1h-1zM34 24h2v1h-2zM39 24h1v1h-1zM17 35h1v1h-1zM37 35h2v1h-2zM41 35h1v1h-1zM34 42h2v1h-2zM38 39h1v1h-1zM37 31h2v1h-2zM36 27h1v1h-1zM44 27h1v1h-1zM29 20h1v1h-1zM31 23h2v1h-2zM34 38h2v1h-2zM38 38h1v1h-1zM28 19h1v1h-1zM37 30h3v1h-3zM35 26h2v1h-2zM38 34h1v1h-1zM40 34h1v1h-1z"/><path fill="#0020ff" d="M7 50h2v1h-2zM37 29h1v1h-1zM40 29h2v1h-2zM3 48h1v1h-1zM20 48h1v1h-1zM28 48h5v1h-5zM37 40h2v1h-2zM36 41h1v1h-1zM38 41h2v1h-2zM40 33h1v1h-1zM2 45h2v1h-2zM17 45h2v1h-2zM20 45h1v1h-1zM30 22h1v1h-1zM32 22h3v1h-3zM36 22h1v1h-1zM38 22h1v1h-1zM2 46h1v1h-1zM16 46h1v1h-1zM27 46h1v1h-1zM31 46h3v1h-3zM2 49h1v1h-1zM8 49h4v1h-4zM30 49h1v1h-1zM34 18h1v1h-1zM30 21h3v1h-3zM36 21h1v1h-1zM2 44h2v1h-2zM35 44h4v1h-4zM39 37h1v1h-1zM41 37h1v1h-1zM14 47h1v1h-1zM16 47h2v1h-2zM21 47h1v1h-1zM25 47h1v1h-1zM28 47h1v1h-1zM31 47h3v1h-3zM38 47h1v1h-1zM29 51h1v1h-1zM2 43h2v1h-2zM19 43h1v1h-1zM34 43h1v1h-1zM37 43h1v1h-1zM16 36h2v1h-2zM41 36h1v1h-1zM37 28h3v1h-3zM39 32h1v1h-1zM24 24h1v1h-1zM37 24h2v1h-2zM42 24h1v1h-1zM39 35h2v1h-2zM36 42h2v1h-2zM37 39h1v1h-1zM41 39h1v1h-1zM39 31h3v1h-3zM37 27h1v1h-1zM27 20h2v1h-2zM30 20h1v1h-1zM33 23h1v1h-1zM35 23h1v1h-1zM37 23h1v1h-1zM36 38h2v1h-2zM39 38h2v1h-2zM27 19h1v1h-1zM40 30h1v1h-1zM42 30h1v1h-1zM44 30h1v1h-1zM23 26h1v1h-1zM37 26h2v1h-2zM20 34h1v1h-1zM39 34h1v1h-1z"/><path fill="#0000ef" d="M9 50h1v1h-1zM12 50h1v1h-1zM14 50h2v1h-2zM22 50h1v1h-1zM26 50h1v1h-1zM28 50h1v1h-1zM37 50h1v1h-1zM39 50h2v1h-2zM42 50h1v1h-1zM43 29h1v1h-1zM45 29h1v1h-1zM17 48h2v1h-2zM43 48h1v1h-1zM45 48h1v1h-1zM43 40h3v1h-3zM2 52h5v1h-5zM14 52h1v1h-1zM18 52h1v1h-1zM20 52h1v1h-1zM23 52h1v1h-1zM31 52h1v1h-1zM36 52h2v1h-2zM39 52h2v1h-2zM44 41h1v1h-1zM23 25h1v1h-1zM44 25h2v1h-2zM0 53h1v1h-1zM4 53h2v1h-2zM7 53h1v1h-1zM18 53h2v1h-2zM22 53h4v1h-4zM27 53h2v1h-2zM33 53h1v1h-1zM35 53h1v1h-1zM39 53h4v1h-4zM45 53h1v1h-1zM0 45h1v1h-1zM42 45h1v1h-1zM44 45h2v1h-2zM40 22h1v1h-1zM42 22h1v1h-1zM29 14h2v1h-2zM38 46h1v1h-1zM40 46h1v1h-1zM44 46h2v1h-2zM13 49h2v1h-2zM17 49h1v1h-1zM38 49h2v1h-2zM41 49h1v1h-1zM43 49h1v1h-1zM31 15h3v1h-3zM35 15h1v1h-1zM37 15h1v1h-1zM39 15h1v1h-1zM41 15h2v1h-2zM44 15h1v1h-1zM26 18h1v1h-1zM31 18h2v1h-2zM36 18h2v1h-2zM39 18h1v1h-1zM45 18h1v1h-1zM24 21h1v1h-1zM41 21h3v1h-3zM44 44h1v1h-1zM35 10h1v1h-1zM39 10h1v1h-1zM44 37h1v1h-1zM3 55h1v1h-1zM22 55h1v1h-1zM27 55h2v1h-2zM31 55h1v1h-1zM36 55h1v1h-1zM38 55h1v1h-1zM40 55h1v1h-1zM42 55h1v1h-1zM43 47h1v1h-1zM45 47h1v1h-1zM1 51h1v1h-1zM4 51h3v1h-3zM8 51h2v1h-2zM12 51h4v1h-4zM19 51h2v1h-2zM23 51h2v1h-2zM40 51h2v1h-2zM43 51h1v1h-1zM42 43h1v1h-1zM45 43h1v1h-1zM27 17h1v1h-1zM32 17h2v1h-2zM35 17h1v1h-1zM38 17h2v1h-2zM45 17h1v1h-1zM44 36h1v1h-1zM29 13h3v1h-3zM33 13h2v1h-2zM40 13h2v1h-2zM45 13h1v1h-1zM45 32h1v1h-1zM43 24h2v1h-2zM27 16h2v1h-2zM32 16h5v1h-5zM40 16h2v1h-2zM43 16h1v1h-1zM45 16h1v1h-1zM23 54h2v1h-2zM27 54h2v1h-2zM30 54h1v1h-1zM32 54h3v1h-3zM36 54h1v1h-1zM40 54h2v1h-2zM28 12h1v1h-1zM31 12h1v1h-1zM35 12h2v1h-2zM43 12h2v1h-2zM42 35h1v1h-1zM44 35h1v1h-1zM41 42h1v1h-1zM42 31h2v1h-2zM45 27h1v1h-1zM38 20h8v1h-8zM45 23h1v1h-1zM41 8h1v1h-1zM37 19h1v1h-1zM39 19h1v1h-1zM42 19h1v1h-1zM44 19h1v1h-1zM45 30h1v1h-1zM35 11h1v1h-1zM19 34h1v1h-1z"/><path fill="#0000df" d="M13 50h1v1h-1zM19 50h2v1h-2zM43 50h1v1h-1zM45 50h1v1h-1zM41 48h1v1h-1zM0 52h2v1h-2zM7 52h6v1h-6zM16 52h1v1h-1zM29 52h1v1h-1zM42 52h2v1h-2zM45 41h1v1h-1zM2 53h1v1h-1zM6 53h1v1h-1zM8 53h3v1h-3zM14 53h1v1h-1zM17 53h1v1h-1zM20 53h2v1h-2zM36 53h3v1h-3zM43 53h2v1h-2zM24 22h1v1h-1zM43 22h2v1h-2zM32 14h5v1h-5zM38 14h2v1h-2zM42 14h3v1h-3zM42 49h1v1h-1zM38 15h1v1h-1zM43 15h1v1h-1zM36 7h1v1h-1zM25 18h1v1h-1zM40 18h1v1h-1zM44 18h1v1h-1zM45 21h1v1h-1zM45 44h1v1h-1zM29 10h4v1h-4zM34 10h1v1h-1zM36 10h3v1h-3zM40 10h1v1h-1zM43 10h3v1h-3zM1 55h2v1h-2zM9 55h3v1h-3zM18 55h1v1h-1zM20 55h1v1h-1zM23 55h1v1h-1zM25 55h1v1h-1zM29 55h1v1h-1zM32 55h2v1h-2zM35 55h1v1h-1zM37 55h1v1h-1zM39 55h1v1h-1zM41 55h1v1h-1zM43 55h2v1h-2zM40 47h1v1h-1zM42 47h1v1h-1zM44 47h1v1h-1zM33 9h2v1h-2zM38 9h1v1h-1zM40 9h2v1h-2zM36 6h1v1h-1zM11 51h1v1h-1zM16 51h1v1h-1zM18 51h1v1h-1zM25 51h1v1h-1zM45 51h1v1h-1zM0 43h1v1h-1zM26 17h1v1h-1zM42 17h1v1h-1zM44 17h1v1h-1zM32 13h1v1h-1zM35 13h2v1h-2zM38 13h2v1h-2zM42 13h2v1h-2zM39 16h1v1h-1zM42 16h1v1h-1zM4 54h1v1h-1zM7 54h1v1h-1zM10 54h1v1h-1zM14 54h1v1h-1zM16 54h1v1h-1zM21 54h2v1h-2zM25 54h2v1h-2zM38 54h1v1h-1zM44 54h1v1h-1zM29 12h2v1h-2zM34 12h1v1h-1zM37 12h2v1h-2zM41 12h2v1h-2zM32 8h1v1h-1zM36 8h2v1h-2zM44 8h1v1h-1zM29 11h6v1h-6zM36 11h6v1h-6zM44 11h1v1h-1z"/><path fill="#9fff60" d="M23 29h1v1h-1zM12 41h1v1h-1zM11 43h1v1h-1zM25 36h1v1h-1zM24 28h2v1h-2zM12 42h1v1h-1zM26 34h1v1h-1z"/><path fill="#efff10" d="M24 29h2v1h-2z"/><path fill="#70ff8f" d="M26 29h1v1h-1zM24 37h1v1h-1zM26 35h1v1h-1z"/><path fill="#10ffef" d="M27 29h1v1h-1zM14 41h1v1h-1zM8 45h1v1h-1zM26 27h1v1h-1zM28 30h1v1h-1zM28 34h1v1h-1z"/><path fill="#00efff" d="M28 29h1v1h-1zM14 40h1v1h-1zM9 45h1v1h-1zM26 37h1v1h-1zM29 32h1v1h-1zM28 35h2v1h-2zM26 38h1v1h-1z"/><path fill="#00afff" d="M29 29h1v1h-1zM26 40h1v1h-1zM31 33h1v1h-1zM6 45h1v1h-1zM7 46h3v1h-3zM6 44h1v1h-1zM13 44h1v1h-1zM21 37h1v1h-1zM29 37h1v1h-1zM14 43h1v1h-1zM29 36h1v1h-1zM28 28h2v1h-2zM15 42h1v1h-1zM12 39h1v1h-1zM27 39h1v1h-1zM23 27h1v1h-1zM30 30h1v1h-1zM27 26h1v1h-1z"/><path fill="#009fff" d="M30 29h2v1h-2zM16 40h1v1h-1zM23 40h1v1h-1zM27 40h1v1h-1zM24 41h1v1h-1zM32 33h1v1h-1zM26 25h1v1h-1zM10 46h1v1h-1zM30 37h1v1h-1zM15 43h1v1h-1zM21 36h1v1h-1zM30 28h1v1h-1zM31 32h1v1h-1zM27 24h1v1h-1zM21 35h1v1h-1zM30 35h2v1h-2zM16 39h1v1h-1zM22 39h1v1h-1zM28 39h1v1h-1zM28 27h1v1h-1zM29 38h2v1h-2zM31 34h1v1h-1z"/><path fill="#0080ff" d="M32 29h1v1h-1zM18 40h1v1h-1zM22 40h1v1h-1zM28 40h1v1h-1zM16 41h1v1h-1zM22 41h2v1h-2zM25 41h2v1h-2zM33 33h1v1h-1zM28 25h1v1h-1zM5 45h1v1h-1zM11 46h2v1h-2zM5 44h1v1h-1zM31 37h2v1h-2zM7 47h2v1h-2zM10 47h1v1h-1zM31 36h2v1h-2zM32 32h1v1h-1zM26 24h1v1h-1zM32 35h1v1h-1zM23 42h2v1h-2zM29 39h1v1h-1zM31 39h1v1h-1zM31 31h2v1h-2zM30 27h1v1h-1zM27 23h1v1h-1zM13 38h4v1h-4zM31 38h1v1h-1zM28 26h1v1h-1zM21 34h1v1h-1zM32 34h1v1h-1z"/><path fill="#0060ff" d="M33 29h1v1h-1zM8 48h1v1h-1zM31 40h1v1h-1zM19 41h3v1h-3zM21 33h1v1h-1zM34 33h1v1h-1zM29 25h1v1h-1zM15 45h1v1h-1zM27 22h1v1h-1zM13 46h1v1h-1zM25 44h1v1h-1zM15 37h2v1h-2zM19 37h2v1h-2zM33 37h1v1h-1zM4 47h1v1h-1zM11 47h1v1h-1zM25 43h1v1h-1zM27 43h3v1h-3zM19 36h2v1h-2zM33 32h2v1h-2zM25 24h1v1h-1zM18 42h1v1h-1zM28 42h1v1h-1zM33 31h1v1h-1zM32 27h2v1h-2zM26 23h1v1h-1zM28 23h1v1h-1zM18 38h2v1h-2zM32 38h2v1h-2zM31 26h2v1h-2z"/><path fill="#0040ff" d="M34 29h1v1h-1zM36 29h1v1h-1zM4 48h1v1h-1zM6 48h1v1h-1zM9 48h2v1h-2zM33 40h2v1h-2zM36 40h1v1h-1zM33 41h1v1h-1zM36 33h1v1h-1zM24 25h1v1h-1zM30 25h2v1h-2zM34 25h1v1h-1zM16 45h1v1h-1zM22 45h7v1h-7zM30 45h3v1h-3zM26 22h1v1h-1zM14 46h2v1h-2zM22 46h2v1h-2zM26 46h1v1h-1zM28 46h2v1h-2zM6 49h2v1h-2zM20 44h3v1h-3zM26 44h1v1h-1zM31 44h1v1h-1zM18 37h1v1h-1zM3 47h1v1h-1zM12 47h1v1h-1zM20 43h1v1h-1zM24 43h1v1h-1zM32 43h1v1h-1zM18 36h1v1h-1zM36 36h3v1h-3zM35 28h1v1h-1zM36 32h1v1h-1zM29 24h1v1h-1zM31 24h1v1h-1zM33 24h1v1h-1zM36 24h1v1h-1zM20 35h1v1h-1zM35 35h1v1h-1zM32 42h2v1h-2zM35 39h2v1h-2zM36 31h1v1h-1zM34 27h2v1h-2zM39 27h1v1h-1zM25 23h1v1h-1zM34 23h1v1h-1zM36 30h1v1h-1zM33 26h1v1h-1zM36 34h2v1h-2z"/><path fill="#0050ff" d="M35 29h1v1h-1zM5 48h1v1h-1zM7 48h1v1h-1zM32 40h1v1h-1zM31 41h2v1h-2zM35 33h1v1h-1zM32 25h1v1h-1zM4 45h1v1h-1zM14 45h1v1h-1zM28 22h1v1h-1zM26 21h1v1h-1zM28 21h1v1h-1zM4 44h1v1h-1zM16 44h2v1h-2zM23 44h2v1h-2zM27 44h4v1h-4zM17 37h1v1h-1zM34 37h1v1h-1zM9 47h1v1h-1zM17 43h2v1h-2zM21 43h2v1h-2zM30 43h2v1h-2zM33 43h1v1h-1zM35 36h1v1h-1zM33 28h2v1h-2zM35 32h1v1h-1zM37 32h1v1h-1zM30 24h1v1h-1zM34 35h1v1h-1zM36 35h1v1h-1zM19 42h3v1h-3zM30 42h2v1h-2zM18 39h1v1h-1zM32 39h3v1h-3zM35 31h1v1h-1zM29 23h2v1h-2zM35 30h1v1h-1zM34 26h1v1h-1zM33 34h3v1h-3z"/><path fill="#0000cf" d="M44 48h1v1h-1zM13 52h1v1h-1zM15 52h1v1h-1zM19 52h1v1h-1zM41 52h1v1h-1zM45 52h1v1h-1zM1 53h1v1h-1zM3 53h1v1h-1zM11 53h1v1h-1zM15 53h2v1h-2zM37 14h1v1h-1zM45 14h1v1h-1zM44 49h2v1h-2zM34 15h1v1h-1zM45 15h1v1h-1zM35 7h1v1h-1zM38 7h3v1h-3zM44 7h1v1h-1zM28 10h1v1h-1zM33 10h1v1h-1zM41 10h2v1h-2zM0 55h1v1h-1zM4 55h5v1h-5zM12 55h4v1h-4zM17 55h1v1h-1zM19 55h1v1h-1zM21 55h1v1h-1zM45 55h1v1h-1zM29 9h2v1h-2zM36 9h2v1h-2zM39 9h1v1h-1zM43 9h2v1h-2zM41 6h2v1h-2zM44 51h1v1h-1zM41 17h1v1h-1zM44 13h1v1h-1zM23 24h1v1h-1zM44 16h1v1h-1zM37 5h1v1h-1zM40 5h1v1h-1zM0 54h4v1h-4zM5 54h2v1h-2zM8 54h2v1h-2zM12 54h2v1h-2zM15 54h1v1h-1zM18 54h3v1h-3zM35 54h1v1h-1zM42 54h2v1h-2zM45 54h1v1h-1zM39 12h2v1h-2zM45 12h1v1h-1zM23 23h1v1h-1zM35 8h1v1h-1zM38 8h3v1h-3zM42 8h2v1h-2zM45 8h1v1h-1zM25 19h1v1h-1zM42 11h2v1h-2z"/><path fill="#00ffff" d="M11 40h1v1h-1zM10 45h1v1h-1zM13 43h1v1h-1zM22 36h1v1h-1zM27 36h1v1h-1zM28 32h1v1h-1zM14 42h1v1h-1zM28 31h1v1h-1zM23 38h1v1h-1z"/><path fill="#20ffdf" d="M12 40h2v1h-2zM28 33h1v1h-1zM8 44h1v1h-1zM26 36h1v1h-1zM27 28h1v1h-1zM27 35h1v1h-1zM25 38h1v1h-1z"/><path fill="#00bfff" d="M15 40h1v1h-1zM24 40h2v1h-2zM15 41h1v1h-1zM30 33h1v1h-1zM11 45h1v1h-1zM13 39h2v1h-2zM26 39h1v1h-1zM30 31h1v1h-1zM27 27h1v1h-1zM22 38h1v1h-1zM28 38h1v1h-1z"/><path fill="#008fff" d="M17 40h1v1h-1zM27 41h2v1h-2zM25 25h1v1h-1zM27 25h1v1h-1zM12 45h1v1h-1zM6 46h1v1h-1zM14 44h1v1h-1zM6 43h1v1h-1zM30 36h1v1h-1zM16 42h1v1h-1zM25 42h1v1h-1zM15 39h1v1h-1zM17 39h1v1h-1zM29 27h1v1h-1zM21 38h1v1h-1zM31 30h1v1h-1zM24 26h1v1h-1z"/><path fill="#0070ff" d="M19 40h3v1h-3zM29 40h2v1h-2zM17 41h2v1h-2zM29 41h2v1h-2zM13 45h1v1h-1zM4 46h2v1h-2zM15 44h1v1h-1zM14 37h1v1h-1zM5 47h2v1h-2zM5 43h1v1h-1zM16 43h1v1h-1zM23 43h1v1h-1zM26 43h1v1h-1zM33 36h2v1h-2zM31 28h2v1h-2zM28 24h1v1h-1zM33 35h1v1h-1zM17 42h1v1h-1zM22 42h1v1h-1zM26 42h2v1h-2zM29 42h1v1h-1zM19 39h3v1h-3zM30 39h1v1h-1zM34 31h1v1h-1zM31 27h1v1h-1zM17 38h1v1h-1zM20 38h1v1h-1zM32 30h3v1h-3zM29 26h2v1h-2z"/><path fill="#0000bf" d="M17 52h1v1h-1zM12 53h2v1h-2zM41 14h1v1h-1zM40 15h1v1h-1zM30 7h1v1h-1zM37 7h1v1h-1zM41 7h3v1h-3zM45 7h1v1h-1zM24 18h1v1h-1zM23 21h1v1h-1zM16 55h1v1h-1zM28 9h1v1h-1zM31 9h2v1h-2zM35 9h1v1h-1zM42 9h1v1h-1zM45 9h1v1h-1zM37 6h4v1h-4zM25 17h1v1h-1zM28 13h1v1h-1zM36 5h1v1h-1zM38 5h1v1h-1zM41 5h1v1h-1zM11 54h1v1h-1zM17 54h1v1h-1zM27 12h1v1h-1zM32 12h1v1h-1zM23 20h2v1h-2zM31 8h1v1h-1zM34 8h1v1h-1zM23 19h1v1h-1zM27 11h2v1h-2zM45 11h1v1h-1z"/><path fill="#30ffcf" d="M10 41h1v1h-1zM27 33h1v1h-1zM11 44h1v1h-1zM23 28h1v1h-1zM24 38h1v1h-1zM27 30h1v1h-1z"/><path fill="#8fff70" d="M11 41h1v1h-1zM23 36h1v1h-1zM22 34h1v1h-1z"/><path fill="#50ffaf" d="M13 41h1v1h-1zM12 43h1v1h-1zM27 32h1v1h-1zM13 42h1v1h-1zM27 31h1v1h-1z"/><path fill="#ffdf00" d="M22 33h1v1h-1zM25 34h1v1h-1z"/><path fill="#bf0000" d="M23 33h1v1h-1z"/><path fill="#800000" d="M24 33h1v1h-1zM23 32h2v1h-2z"/><path fill="#ff8000" d="M25 33h1v1h-1z"/><path fill="#bfff40" d="M26 33h1v1h-1zM10 43h1v1h-1z"/><path fill="#00dfff" d="M29 33h1v1h-1zM7 45h1v1h-1zM7 44h1v1h-1zM12 44h1v1h-1zM24 39h2v1h-2zM29 31h1v1h-1zM27 38h1v1h-1zM29 30h1v1h-1zM26 26h1v1h-1zM29 34h1v1h-1z"/><path fill="#0000af" d="M23 22h1v1h-1zM26 14h1v1h-1zM28 14h1v1h-1zM32 7h1v1h-1zM22 18h1v1h-1zM29 2h1v1h-1zM35 3h1v1h-1zM27 9h1v1h-1zM27 13h1v1h-1zM31 5h1v1h-1zM39 5h1v1h-1zM42 5h1v1h-1zM21 12h1v1h-1zM35 1h1v1h-1zM39 1h1v1h-1zM35 4h1v1h-1zM38 4h1v1h-1zM41 4h1v1h-1zM44 4h1v1h-1zM33 8h1v1h-1zM17 0h1v1h-1zM25 0h1v1h-1zM21 19h2v1h-2zM24 19h1v1h-1z"/><path fill="#00008f" d="M20 14h1v1h-1zM23 14h1v1h-1zM25 14h1v1h-1zM20 15h1v1h-1zM22 15h3v1h-3zM26 15h1v1h-1zM18 7h5v1h-5zM24 7h2v1h-2zM27 7h2v1h-2zM21 18h1v1h-1zM22 21h1v1h-1zM24 10h2v1h-2zM23 2h1v1h-1zM25 2h3v1h-3zM31 2h4v1h-4zM38 2h4v1h-4zM44 2h1v1h-1zM17 3h1v1h-1zM19 3h5v1h-5zM25 3h3v1h-3zM29 3h5v1h-5zM36 3h2v1h-2zM39 3h1v1h-1zM41 3h1v1h-1zM43 3h1v1h-1zM22 9h1v1h-1zM24 9h3v1h-3zM17 6h1v1h-1zM19 6h1v1h-1zM22 6h2v1h-2zM25 6h2v1h-2zM28 6h2v1h-2zM44 6h2v1h-2zM24 17h1v1h-1zM0 36h1v1h-1zM20 13h1v1h-1zM22 13h1v1h-1zM24 13h2v1h-2zM22 16h2v1h-2zM25 16h1v1h-1zM19 5h7v1h-7zM29 5h1v1h-1zM32 5h1v1h-1zM43 5h1v1h-1zM45 5h1v1h-1zM19 12h2v1h-2zM22 12h2v1h-2zM25 12h1v1h-1zM19 1h1v1h-1zM21 1h3v1h-3zM25 1h1v1h-1zM28 1h1v1h-1zM30 1h4v1h-4zM36 1h3v1h-3zM40 1h6v1h-6zM0 42h1v1h-1zM17 4h1v1h-1zM19 4h6v1h-6zM29 4h1v1h-1zM32 4h1v1h-1zM34 4h1v1h-1zM40 4h1v1h-1zM42 4h2v1h-2zM45 4h1v1h-1zM25 8h1v1h-1zM27 8h1v1h-1zM29 8h1v1h-1zM18 0h3v1h-3zM22 0h1v1h-1zM24 0h1v1h-1zM28 0h3v1h-3zM32 0h4v1h-4zM37 0h1v1h-1zM39 0h3v1h-3zM43 0h1v1h-1zM18 11h5v1h-5zM24 11h3v1h-3z"/><path fill="#00009f" d="M21 14h2v1h-2zM24 14h1v1h-1zM27 14h1v1h-1zM21 15h1v1h-1zM25 15h1v1h-1zM27 15h2v1h-2zM23 7h1v1h-1zM26 7h1v1h-1zM29 7h1v1h-1zM31 7h1v1h-1zM33 7h2v1h-2zM23 18h1v1h-1zM18 10h6v1h-6zM26 10h2v1h-2zM17 2h6v1h-6zM24 2h1v1h-1zM28 2h1v1h-1zM30 2h1v1h-1zM35 2h3v1h-3zM42 2h2v1h-2zM45 2h1v1h-1zM18 3h1v1h-1zM24 3h1v1h-1zM28 3h1v1h-1zM34 3h1v1h-1zM38 3h1v1h-1zM40 3h1v1h-1zM42 3h1v1h-1zM44 3h2v1h-2zM18 9h4v1h-4zM23 9h1v1h-1zM18 6h1v1h-1zM20 6h2v1h-2zM24 6h1v1h-1zM27 6h1v1h-1zM30 6h6v1h-6zM43 6h1v1h-1zM21 17h3v1h-3zM19 13h1v1h-1zM21 13h1v1h-1zM23 13h1v1h-1zM26 13h1v1h-1zM20 16h2v1h-2zM24 16h1v1h-1zM26 16h1v1h-1zM17 5h2v1h-2zM26 5h3v1h-3zM30 5h1v1h-1zM33 5h3v1h-3zM44 5h1v1h-1zM24 12h1v1h-1zM26 12h1v1h-1zM16 1h3v1h-3zM20 1h1v1h-1zM24 1h1v1h-1zM26 1h2v1h-2zM29 1h1v1h-1zM34 1h1v1h-1zM22 20h1v1h-1zM18 4h1v1h-1zM25 4h4v1h-4zM30 4h2v1h-2zM33 4h1v1h-1zM36 4h2v1h-2zM39 4h1v1h-1zM18 8h7v1h-7zM26 8h1v1h-1zM28 8h1v1h-1zM30 8h1v1h-1zM16 0h1v1h-1zM21 0h1v1h-1zM23 0h1v1h-1zM26 0h2v1h-2zM31 0h1v1h-1zM36 0h1v1h-1zM38 0h1v1h-1zM42 0h1v1h-1zM44 0h2v1h-2zM23 11h1v1h-1z"/><path fill="#40ffbf" d="M9 44h1v1h-1zM23 37h1v1h-1zM25 37h1v1h-1zM22 35h1v1h-1zM9 42h1v1h-1zM24 27h1v1h-1zM27 34h1v1h-1z"/><path fill="#60ff9f" d="M10 44h1v1h-1zM25 27h1v1h-1z"/><path fill="#00cfff" d="M22 37h1v1h-1zM27 37h2v1h-2zM28 36h1v1h-1zM30 32h1v1h-1zM23 39h1v1h-1zM25 26h1v1h-1zM30 34h1v1h-1z"/><path fill="#80ff80" d="M9 43h1v1h-1zM26 28h1v1h-1z"/><path fill="#cfff30" d="M24 36h1v1h-1zM26 32h1v1h-1zM25 35h1v1h-1zM26 31h1v1h-1z"/><path fill="#ff4000" d="M25 32h1v1h-1zM24 34h1v1h-1z"/><path fill="#ffef00" d="M23 35h1v1h-1zM23 30h1v1h-1z"/><path fill="#ffcf00" d="M24 35h1v1h-1zM11 42h1v1h-1z"/><path fill="#afff50" d="M10 42h1v1h-1zM26 30h1v1h-1z"/><path fill="#ff2000" d="M23 31h1v1h-1z"/><path fill="#af0000" d="M24 31h1v1h-1z"/><path fill="#ff6000" d="M25 31h1v1h-1zM23 34h1v1h-1z"/><path fill="#ff7000" d="M24 30h1v1h-1z"/><path fill="#ffbf00" d="M25 30h1v1h-1z"/></g></g><path fill="none" stroke="#000" stroke-width="1.0" stroke-linejoin="round" d="M164.7 145.6L172.4 139.1L187.8 141.2L201.0 132.5"/><path fill="none" stroke="#000" stroke-width="1.0" stroke-linejoin="round" d="M221.8 122.6L225.1 108.3L216.3 97.3L210.8 85.2L218.5 75.4L229.5 67.7L233.9 53.4L244.9 62.2L263.6 72.1L271.2 60.0L280.0 42.4L286.6 38.0L302.0 44.6L321.8 40.2L332.7 51.2L348.1 56.7"/><text transform="translate(209.0 127.0) rotate(-20)" font-size="13.0" text-anchor="middle" dominant-baseline="central">3</text><text transform="translate(267.0 82.0) rotate(50)" font-size="13.0" text-anchor="middle" dominant-baseline="central">3</text><text transform="translate(294.0 37.0) rotate(0)" font-size="13.0" text-anchor="middle" dominant-baseline="central">3</text><text transform="translate(168.0 162.0) rotate(60)" font-size="13.0" text-anchor="middle" dominant-baseline="central">3</text><path d="M164.0 249.8L178.4 249.8M166.1 244.7L176.3 254.9M171.2 242.6L171.2 257.0M176.3 244.7L166.1 254.9" stroke="#f00" stroke-width="1.15" fill="none"/><path d="M61.0 320.5L75.4 320.5M63.1 315.4L73.3 325.6M68.2 313.3L68.2 327.7M73.3 315.4L63.1 325.6" stroke="#f00" stroke-width="1.15" fill="none"/></g><rect x="0" y="0" width="348.0" height="427.7" fill="none" stroke="#161616" stroke-width="1.4"/><path fill="none" stroke="#262626" stroke-width="1" d="M58.0 0v3.5M58.0 427.7v-3.5M0 71.3h3.5M348.0 71.3h-3.5M116.0 0v3.5M116.0 427.7v-3.5M0 142.6h3.5M348.0 142.6h-3.5M174.0 0v3.5M174.0 427.7v-3.5M0 213.8h3.5M348.0 213.8h-3.5M232.0 0v3.5M232.0 427.7v-3.5M0 285.1h3.5M348.0 285.1h-3.5M290.0 0v3.5M290.0 427.7v-3.5M0 356.4h3.5M348.0 356.4h-3.5"/><text x="-7.8" y="7.1" font-size="20.1" text-anchor="end" font-weight="normal" fill="#000" >37°N</text><text x="-7.2" y="77.3" font-size="15.4" text-anchor="end" font-weight="normal" fill="#000" >30'</text><text x="-7.8" y="149.7" font-size="20.1" text-anchor="end" font-weight="normal" fill="#000" >36°N</text><text x="-7.2" y="219.8" font-size="15.4" text-anchor="end" font-weight="normal" fill="#000" >30'</text><text x="-7.8" y="292.2" font-size="20.1" text-anchor="end" font-weight="normal" fill="#000" >35°N</text><text x="-7.2" y="362.4" font-size="15.4" text-anchor="end" font-weight="normal" fill="#000" >30'</text><text x="-7.8" y="434.8" font-size="20.1" text-anchor="end" font-weight="normal" fill="#000" >34°N</text><text x="2.8" y="448.6" font-size="20.1" text-anchor="middle" font-weight="normal" fill="#000" >77°W</text><text x="57.7" y="444.6" font-size="15.4" text-anchor="middle" font-weight="normal" fill="#000" >30'</text><text x="118.8" y="448.6" font-size="20.1" text-anchor="middle" font-weight="normal" fill="#000" >76°W</text><text x="173.7" y="444.6" font-size="15.4" text-anchor="middle" font-weight="normal" fill="#000" >30'</text><text x="234.8" y="448.6" font-size="20.1" text-anchor="middle" font-weight="normal" fill="#000" >75°W</text><text x="289.7" y="444.6" font-size="15.4" text-anchor="middle" font-weight="normal" fill="#000" >30'</text><text x="350.8" y="448.6" font-size="20.1" text-anchor="middle" font-weight="normal" fill="#000" >74°W</text><rect x="4.0" y="20.2" width="111.5" height="24.5" fill="url(#jet)" stroke="#262626" stroke-width="1"/><text x="4.0" y="6.5" font-size="16.2" text-anchor="middle" font-weight="normal" fill="#262626" >0</text><text x="100.3" y="6.5" font-size="16.2" text-anchor="middle" font-weight="normal" fill="#262626" >50</text><text x="286.4" y="36.9" font-size="20.1" text-anchor="start" font-weight="normal" fill="#000" >10 km</text><path d="M305.6 43.5H319.3" stroke="#000" stroke-width="4.2" stroke-linecap="round"/><text x="174.0" y="-11.6" font-size="20.6" text-anchor="middle" font-weight="bold" fill="#000" >Number of Rads (3)</text></g>
<g transform="translate(1227.0 142.5)"><clipPath id="c1227_142"><rect x="0" y="0" width="348.0" height="427.7"/></clipPath><g clip-path="url(#c1227_142)"><g stroke="#000" stroke-width="1.1" stroke-linejoin="round"><path fill="#80e680" d="M0.0 0.0L55.0 0.0L58.3 5.0L59.4 10.6L57.6 15.3L62.0 14.2L68.8 15.2L71.7 11.6L73.5 10.5L75.2 16.4L77.5 17.0L76.0 10.0L77.5 5.5L81.9 4.8L89.2 8.4L96.5 10.6L103.7 12.0L109.6 10.6L114.7 9.9L117.2 12.0L117.9 19.3L120.0 30.0L122.6 41.1L126.5 50.2L128.5 55.7L131.4 68.0L135.0 85.3L138.9 96.9L142.7 110.1L147.4 123.3L154.0 136.4L159.6 148.7L165.3 160.9L170.0 172.2L173.8 181.6L176.6 191.0L177.9 198.0L178.0 204.4L176.8 213.9L175.4 223.3L173.6 232.7L172.2 240.2L171.6 247.7L171.2 251.2L165.3 252.8L159.6 253.8L152.1 256.6L144.6 260.4L137.1 263.2L129.5 266.5L122.0 270.3L117.3 273.5L112.6 277.3L106.9 282.0L99.4 287.7L94.1 293.5L84.7 302.0L75.3 311.4L69.6 318.0L64.0 324.6L60.2 330.2L56.5 336.8L54.1 345.3L52.2 341.5L48.9 335.9L45.2 333.0L37.6 330.2L28.2 328.8L18.8 329.3L9.4 331.1L0.0 334.0Z"/><path fill="#fff" d="M32.5 128.7L34.8 130.1L35.3 134.8L37.6 138.6L41.4 139.0L44.2 137.6L46.1 140.0L48.9 142.8L54.6 143.3L60.2 141.4L64.0 137.6L68.7 134.8L74.4 132.4L79.1 131.5L80.0 129.6L75.3 127.7L72.5 125.9L68.7 121.6L64.9 117.4L65.9 116.9L70.6 121.6L74.4 124.9L78.1 126.3L81.9 128.7L86.6 130.1L91.3 130.1L93.6 128.7L90.4 125.4L87.5 120.7L85.2 117.4L86.1 116.9L89.4 120.2L93.2 124.9L96.0 125.4L101.6 124.9L106.4 124.4L108.7 122.6L107.3 116.9L104.5 112.2L104.1 112.9L98.5 107.3L92.8 104.4L93.8 101.6L94.7 100.7L99.4 103.5L103.2 106.3L106.9 111.0L112.6 115.7L118.2 118.6L125.8 120.9L126.7 119.5L124.8 117.6L122.9 113.9L125.8 109.1L129.5 106.3L132.4 103.5L134.2 106.3L131.4 111.0L130.5 115.7L131.4 123.3L135.2 128.9L139.9 134.1L138.9 128.0L137.1 121.4L135.2 115.7L137.1 111.0L134.5 108.0L131.0 102.0L127.0 94.0L123.0 86.0L118.0 78.0L114.5 70.0L116.0 60.0L117.5 50.0L117.5 42.0L119.0 38.0L120.6 41.0L124.3 50.2L126.3 55.7L129.2 68.0L132.8 85.3L136.7 96.9L140.5 110.1L145.3 123.3L152.0 136.4L157.6 148.7L163.3 160.9L168.1 172.2L172.0 181.6L174.9 191.0L176.2 198.0L176.3 204.4L175.1 213.9L173.7 223.3L171.9 232.7L170.6 240.2L169.6 246.5L165.5 251.0L160.0 252.2L152.0 255.2L145.0 258.8L137.0 261.8L130.0 264.8L122.0 268.8L113.0 275.3L104.0 282.8L95.0 290.8L86.0 299.0L77.0 308.0L71.0 314.5L66.0 320.0L61.5 326.0L58.0 331.0L56.0 333.0L57.0 329.0L59.5 324.0L62.5 319.0L65.9 314.8L67.8 312.0L69.6 309.1L71.5 306.3L74.4 303.5L77.2 300.7L79.1 297.9L81.9 295.0L83.8 292.2L80.9 288.4L78.1 284.7L74.4 282.8L71.5 289.4L69.6 292.2L65.9 295.0L63.1 292.2L64.9 287.5L65.9 282.8L64.9 278.1L62.1 276.2L60.2 278.1L58.4 281.9L56.5 285.6L52.7 286.6L47.1 289.4L42.4 288.4L39.5 290.3L35.8 292.2L32.0 294.1L28.2 297.4L24.5 296.0L18.8 294.1L13.2 291.3L7.5 287.5L2.8 283.7L0.0 281.9L0.0 279.0L1.9 278.1L4.7 280.0L8.5 282.8L12.2 285.6L16.9 288.4L20.7 290.3L23.5 291.3L27.3 288.4L31.1 285.6L35.8 282.8L39.5 280.0L43.3 277.1L47.1 274.3L50.8 271.5L53.6 265.9L49.9 262.1L52.7 258.3L56.5 255.5L59.3 252.7L62.1 248.9L61.2 245.1L56.5 242.3L50.8 240.4L44.2 238.6L37.6 235.7L31.1 232.9L24.5 230.1L18.8 227.7L11.3 225.4L5.6 223.5L2.8 221.6L0.0 220.2L0.0 217.9L1.9 216.9L5.6 218.8L12.2 221.6L18.8 224.4L26.4 227.3L32.0 226.3L39.5 228.2L45.2 230.1L49.4 231.5L48.9 228.2L47.1 222.6L45.2 216.9L44.2 213.1L47.1 210.8L56.5 210.8L60.2 211.7L56.5 213.1L48.9 213.1L47.1 215.0L49.9 216.9L51.8 221.6L54.6 227.3L58.4 231.0L62.1 232.9L65.9 230.1L67.8 226.3L69.6 230.1L67.8 234.8L70.6 236.7L75.3 238.6L80.9 235.7L86.6 234.8L92.2 236.7L97.9 239.5L103.5 235.7L109.2 232.9L112.9 226.3L116.7 218.8L121.1 212.9L125.8 211.0L127.6 206.3L129.5 201.6L132.4 204.4L137.1 205.4L142.7 203.5L145.5 200.4L147.4 197.6L145.5 193.9L144.6 189.1L147.4 190.1L148.8 186.3L147.4 181.6L147.9 176.0L146.5 167.5L143.6 159.0L140.8 152.4L137.1 148.7L131.4 146.8L125.8 147.7L122.0 149.6L123.9 152.4L121.1 155.3L117.3 159.0L118.6 159.3L117.2 164.0L116.7 169.6L116.2 177.1L115.3 184.7L113.9 191.3L112.0 193.6L107.3 190.8L110.1 188.4L111.5 182.8L110.6 175.3L109.6 167.7L111.1 162.1L114.4 156.4L114.8 150.8L112.9 147.0L109.2 145.1L103.5 144.7L96.9 144.7L90.4 145.6L84.7 147.5L80.9 149.4L79.1 151.7L76.2 152.7L72.9 151.3L71.5 147.0L67.8 146.6L62.1 148.0L56.5 149.4L50.8 150.8L44.2 151.7L37.6 152.2L32.0 151.3L32.9 148.9L36.2 145.1L36.2 142.3L33.4 137.6L32.0 132.9L32.5 128.7ZM0.0 326.5L10.0 326.0L20.0 325.5L28.0 326.5L36.0 329.0L44.0 331.5L36.0 330.2L28.0 328.5L20.0 328.0L10.0 329.0L0.0 331.0Z"/><path fill="#80e680" d="M147.4 153.4L152.1 152.4L155.9 157.1L158.7 161.9L161.5 167.5L165.3 172.2L168.1 175.0L164.4 176.4L159.6 173.1L155.9 169.4L154.0 165.6L153.1 160.9L150.2 157.1ZM63.7 0.4L71.0 0.4L67.3 4.4ZM118.0 63.0L124.0 62.0L129.5 66.0L130.0 71.5L124.0 72.5L118.5 70.0ZM124.0 82.0L128.5 84.0L131.5 90.0L128.0 91.0L124.5 87.0ZM131.0 98.0L134.0 100.0L137.0 108.0L134.0 107.0ZM127.6 152.5L131.0 151.3L134.2 152.8L131.0 154.3Z"/></g><path transform="scale(.5)" fill="none" stroke="#000" stroke-width="4.2" stroke-linecap="round" d="M0 0m22 426zm-6 3zm-4 0zm1 0zm-5 3zm-5 0zm6 1zm-2 0zm-1 1zm11 0zm5 0zm-16 1zm11 0zm-8 1zm10 1zm-8 0zm2 0zm5 1zm4 1zm-8 2zm-12 2zm1 0zm4 1zm-3 1zm1 1zm7 1zm-9 0zm8 1zm-2 0zm-1 0zm8 1zm2 1zm-14 0zm19 1zm-15 0zm7 1zm1 2zm-1 0zm3 1zm-1 0zm2 1zm-3 2zm-8 1zm7 2zm6 2zm-3 2zm0 5zm0 80zm-15 3zm13 1zm-5 0zm11 1zm-10 1zm2 1zm2 1zm7 0zm-1 1zm-11 0zm-1 0zm-7 3zm15 2zm1 1zm1 0zm-17 2zm17 0zm-18 2zm20 0zm1 0zm-17 3zm3 2zm3 0zm2 0zm-6 1zm-2 0zm7 2zm9 1zm-6 1zm3 1zm-2 0zm6 0zm-5 1zm4 0zm-1 0zm-5 1zm-10 1zm15 1zm-1 1zm-10 1zm10 2zm2 1zm-5 2zm-2 4zm5 2zm-6 4zm-7 60zm-4 4zm26-37zm-1-9zm18-15zm-1-3zm-16-1zm10 0zm-12-3zm-2-1zm11-2zm11 0zm-23-1zm3 0zm5 0zm7-1zm5 0zm-3 0zm-2-1zm6 0zm-3 0zm-13 0zm4-1zm3 0zm-2-2zm-7 0zm-1-2zm0-1zm2 0zm-4-3zm20-3zm1 0zm-2-1zm0-1zm-8-1zm8-2zm-4 0zm-6 0zm4-1zm-6-1zm-3-1zm14 0zm-10-1zm12-1zm-19 0zm6 0zm-5 0zm-2 0zm6-1zm13 0zm-13-1zm-1 0zm16-2zm-20 0zm15 0zm-13 0zm12 0zm2-4zm4-6zm-7-3zm5-4zm-17-6zm0-1zm12-3zm-8-48zm8-8zm6-9zm-9-3zm12 0zm-18-1zm16-1zm-2 0zm-6 0zm10-1zm-12 0zm11-3zm-9 0zm-11-1zm16-1zm1-2zm-15 0zm18 0zm-4-1zm-4 0zm6-1zm-2 0zm-5 0zm3 0zm1 0zm-13-1zm-2 0zm4-2zm-5-1zm1 0zm2-1zm-4 0zm20-2zm1 0zm-14-2zm11 0zm-1 0zm-5-1zm8 0zm-19 0zm12-1zm-2-1zm-3-1zm0-1zm10 0zm-15 0zm12 0zm-8-1zm12-1zm-2 0zm-8 0zm2-2zm-9-1zm11 0zm1 0zm-3-1zm-4-1zm0-1zm0-1zm-7-6zm10-5zm-8-7zm19-134zm0-2zm1-26zm-3 0zm1-6zm20-21zm-1 20zm1 3zm1 0zm5 1zm-13 3zm10 0zm-10 1zm4 1zm1 0zm9 0zm-4 0zm-6 1zm7 1zm-20 0zm7 0zm13 1zm-8 1zm-3 0zm1 4zm4 0zm1 1zm5 1zm-5 0zm-9 1zm6 1zm3 1zm-1 1zm-1 0zm-5 0zm8 1zm2 1zm-3 1zm3 0zm-1 1zm-5 1zm-5 0zm8 0zm-4 1zm-3 0zm0 2zm7 0zm-2 2zm9 0zm-1 0zm-5 1zm7 0zm-19 3zm9 1zm9 2zm1 3zm-5 3zm-4 1zm4 1zm-3 1zm0 1zm1 1zm-4 0zm0 1zm-5 0zm-2 0zm7 1zm-11 1zm15 0zm7 4zm-12 0zm1 7zm7 3zm3 88zm1 13zm-3 0zm-5 9zm-2 0zm0 5zm5 2zm-1 3zm-3 1zm-4 1zm-8 0zm2 4zm10 0zm8 1zm-13 1zm-8 1zm14 1zm2 0zm5 1zm-18 1zm9 1zm-7 1zm15 0zm-11 1zm-4 0zm9 0zm8 1zm-18 0zm-5 0zm14 1zm-8 0zm1 1zm14 0zm-20 8zm1 1zm6 1zm-6 0zm4 1zm3 0zm2 1zm12 0zm-7 1zm-13 0zm5 0zm2 1zm8 1zm-8 0zm13 1zm-8 1zm6 0zm-1 1zm0 2zm-13 0zm-1 3zm-4 1zm9 3zm-3 8zm10 6zm-2 44zm-3 4zm7 11zm0 1zm3 1zm-1 1zm-4 2zm3 3zm-6 1zm6 0zm2 1zm-6 1zm-11 0zm14 0zm-8 2zm5 1zm-5 0zm-2 1zm-7 0zm10 2zm-2 0zm-5 2zm3 1zm-8 0zm5 2zm-2 2zm-4 1zm18 2zm-2 8zm6 0zm-6 2zm2 1zm-4 1zm-13 1zm13 0zm-8 1zm-3 0zm16 1zm-8 0zm-7 1zm3 0zm2 1zm5 1zm3 0zm-1 2zm-12 4zm1 0zm6 0zm2 17zm-4 18zm5 10zm4 5zm-14 3zm29-1zm5-3zm7-12zm-19-43zm7-1zm0-2zm14-1zm-23-2zm0-2zm3 0zm14-2zm4 0zm-8-1zm10-1zm-20-1zm7 0zm-10 0zm7 0zm2-1zm-5 0zm-3-1zm1 0zm3 0zm3 0zm-5-1zm20 0zm-13-1zm8 0zm-9-1zm-2 0zm6-2zm-2-1zm3 0zm-12-6zm-2-7zm1-5zm2 0zm0-1zm4-2zm-4-2zm12-2zm-1-1zm-2-1zm3-1zm1-3zm4-1zm-1-1zm-13-5zm12-1zm-2-11zm-10-4zm17-1zm-2-4zm2-4zm0-8zm-11-1zm9-11zm-5-1zm-8-1zm0-5zm-2 0zm4-3zm7-1zm5-2zm1 0zm-8 0zm-2-1zm-1 0zm7-2zm-2 0zm-8-1zm9 0zm-7-1zm-9-1zm1-1zm1-2zm0-1zm14-5zm0-7zm-3-2zm-9-1zm17-1zm-8 0zm-3 0zm-8-1zm9 0zm8-1zm-19 0zm8 0zm-10 0zm8 0zm-5-1zm18 0zm-16 0zm10-1zm3 0zm1 0zm-9 0zm-7 0zm11-1zm9 0zm-6 0zm-15-1zm8-1zm2 0zm3 0zm4 0zm3-1zm-19 0zm10-1zm2 0zm1 0zm3 0zm-1-1zm-1-1zm-2 0zm2-1zm4 0zm-14-3zm8 0zm-1 0zm1-1zm4-2zm-6 0zm5 0zm-2-1zm-9-2zm9-1zm-13-1zm14 0zm-3 0zm1-2zm-5-1zm-1-1zm1-1zm-10-2zm14 0zm-3-1zm4 0zm-2 0zm5-2zm-2 0zm3-1zm3-1zm-13 0zm14 0zm-7 0zm-3 0zm4-1zm-3 0zm8 0zm-7-2zm7 0zm-10-1zm3-1zm0-12zm7-5zm-10-80zm3-3zm-14-1zm3-3zm5-2zm-6 0zm12-1zm6 0zm-9-1zm-5 0zm8-1zm-14-1zm12 0zm10-1zm-16 0zm1-1zm15-1zm-3-1zm-7-6zm-13-5zm7-13zm11-1zm-1-1zm-13 0zm0-1zm2-1zm-2 0zm-2-1zm18 0zm2-2zm1 0zm-18 0zm-3-5zm2-2zm-4 0zm7-1zm-4-1zm1 0zm6-2zm7 0zm-15 0zm9-2zm-10-1zm15-1zm-4-3zm28-250zm-1 3zm-5 0zm2 1zm7 1zm-4 0zm3 0zm-8 3zm7 1zm-1 2zm3 2zm1 1zm-8 0zm8 1zm-1 1zm3 0zm-6 0zm3 1zm-1 0zm1 1zm-2 0zm-5 2zm1 1zm7 0zm-4 1zm-9 1zm5 1zm-1 0zm1 1zm0 2zm8 177zm-7 7zm8 4zm-9 8zm10 25zm-12 18zm-6 0zm17 1zm-12 0zm-4 4zm14 0zm-13 0zm-4 2zm0 1zm12 0zm-3 1zm0 2zm-5 0zm15 0zm-12 2zm-3 0zm9 0zm2 1zm-3 1zm-2 0zm-10 0zm14 0zm-8 1zm-7 0zm1 0zm7 1zm-2 0zm-3 8zm17 4zm-13 1zm4 1zm-2 0zm7 0zm1 1zm-7 1zm-5 1zm-6 0zm10 0zm10 1zm-5 0zm-4 0zm-7 1zm3 1zm-5 0zm2 0zm10 3zm8 0zm-20 1zm5 4zm-7 0zm5 0zm15 85zm-11 7zm5 2zm1 0zm-15 0zm0 3zm10 0zm1 0zm-1 2zm-4 1zm-5 1zm8 2zm6 0zm-2 0zm10 1zm-16 0zm0 1zm8 0zm-5 1zm4 0zm8 0zm-5 0zm-1 0zm-6 1zm7 0zm6 0zm-16 0zm5 1zm2 0zm-11 2zm20 0zm-1 2zm-19 0zm7 0zm-5 1zm-2 0zm3 1zm11 0zm-5 0zm-10 0zm2 1zm8 0zm-3 1zm3 0zm-10 0zm-2 0zm13 1zm-13 0zm8 0zm-5 0zm17 0zm-16 0zm-2 1zm13 0zm0 1zm-3 1zm-7 0zm2 0zm13 1zm3 0zm-6 0zm-7 1zm-2 2zm14 0zm-11 2zm1 0zm1 1zm-4 1zm3 0zm1 1zm-4 4zm6 1zm-4 1zm6 1zm-3 2zm5 0zm2 0zm-8 0zm-3 1zm10 0zm1 0zm-6 0zm-15 0zm18 1zm3 0zm0 1zm-1 0zm-4 1zm1 0zm-16 2zm3 14zm2 8zm-1 1zm3 4zm-6 0zm9 1zm-5 1zm15 0zm-10 1zm-8 2zm0 1zm14 0zm-1 0zm6 1zm0 1zm-8 3zm-4 1zm10 1zm1 0zm-15 1zm7 1zm-13 1zm23 0zm0 1zm-5 0zm-16 0zm21 1zm-9 1zm3 1zm-6 1zm11 0zm-16 0zm-4 1zm9 0zm8 0zm-1 0zm-18 1zm22 1zm-2 0zm-6 1zm-9 2zm5 0zm4 1zm-2 1zm-9 1zm-3 5zm5 2zm10 3zm-7 0zm-5 2zm-2 0zm1 0zm1 3zm-3 1zm10 0zm-4 0zm-1 0zm5 1zm1 0zm-8 0zm3 1zm2 1zm-7 2zm0 1zm6 1zm-1 0zm-3 2zm-3 1zm2 3zm1 0zm6 4zm7 7zm7 8zm-1 1zm0 6zm-1 3zm-6 0zm-5 1zm1 0zm10 0zm-3 1zm-7 0zm-4 0zm4 1zm5 0zm1 0zm-9 1zm15 2zm-9 0zm-5 0zm-2 2zm14 0zm-19 0zm-2 0zm23 1zm-19 1zm16 3zm1 2zm-10 16zm-9 1zm18 8zm1 12zm-2 3zm1 0zm3 3zm-5 1zm-1 3zm3 1zm-4 3zm3 1zm1 0zm-15 1zm7 2zm0 1zm10 0zm-11 1zm12 0zm-8 2zm-9 1zm13 1zm-6 1zm5 3zm-8 0zm8 2zm-2 0zm1 0zm2 1zm-4 0zm1 0zm2 1zm-11 1zm5 0zm3 0zm-3 1zm2 0zm-1 1zm9 1zm-5 0zm-6 1zm-10 0zm15 0zm-3 2zm9 0zm-16 0zm9 0zm6 2zm-4 1zm-10 0zm11 0zm-8 0zm-6 1zm6 0zm-6 3zm11 4zm0 2zm-8 3zm15 3zm-11 2zm16-22zm-3-5zm3-5zm1-1zm2-1zm0-1zm-3-1zm2 0zm-3-2zm6 0zm2-4zm-10-1zm3-1zm-2 0zm1 0zm1-1zm11 0zm-1-1zm3 0zm-12-2zm0-2zm15-2zm-19 0zm8-1zm12 0zm3-1zm-11-3zm-2 0zm5-2zm-11-1zm0-1zm14 0zm-6-1zm3 0zm-1 0zm-8-1zm-2 0zm11 0zm-4-2zm11-1zm-4 0zm-11 0zm9-1zm-4-1zm-2-1zm10-1zm-6-1zm5 0zm-15 0zm6-1zm9-1zm-4 0zm0-3zm0-1zm0-1zm-8-1zm5-4zm-3 0zm8-1zm5-1zm-3-1zm4 0zm0-1zm-9-1zm6 0zm-16 0zm18-1zm-14 0zm15-1zm-11 0zm4-1zm-7-1zm-3 0zm-1-1zm17-2zm-13-1zm10 0zm-2 0zm-13 0zm5-1zm6 0zm2-1zm3 0zm-20-1zm1 0zm21-1zm-3 0zm-17 0zm2-2zm-1 0zm17 0zm-17-1zm17-1zm-14-2zm-4-2zm0-1zm-2-1zm10 0zm-7-1zm5 0zm1-1zm-1 0zm-7-1zm4 0zm3-2zm0-1zm2-1zm-2 0zm3-1zm-5-1zm6 0zm3 0zm-14-1zm11 0zm0-1zm-4-1zm3 0zm-1 0zm-2-1zm2 0zm-3-1zm0-2zm1 0zm-5-1zm0-1zm2 0zm-1 0zm5-1zm0-2zm-5 0zm-3-12zm3-14zm-3-28zm2-1zm-3-3zm3-1zm1 0zm-2-4zm-1-1zm21-17zm0-1zm-2-3zm-1-1zm2 0zm1-3zm-1-1zm-18-1zm3 0zm17 0zm-18 0zm0-1zm17 0zm-14-1zm-7-1zm6 0zm-4 0zm1-1zm6-1zm-5 0zm6 0zm8 0zm-10-1zm-8 0zm4-1zm8-1zm3 0zm-9-1zm1 0zm14 0zm-6 0zm3-1zm-1 0zm-3 0zm7 0zm-6-2zm-3-2zm-2 0zm-2-1zm5-1zm-4-2zm-2 0zm7-2zm3-1zm-10-1zm-8-1zm2-1zm-2-1zm1-1zm1-3zm3-3zm12 0zm-17-4zm2 0zm2 0zm5-2zm-8-1zm1 0zm3-2zm15-1zm-15-1zm-1-1zm-4-1zm11-5zm-3-4zm1 0zm11-77zm-4-6zm1-1zm5-1zm-8-4zm-14-2zm19-3zm2-2zm-12-2zm14-2zm-20-3zm2-2zm15 0zm-1-1zm-3-1zm4-1zm-11 0zm-8 0zm11 0zm2-1zm5-1zm1 0zm-20 0zm12 0zm5-1zm-14-1zm7 0zm1 0zm8-1zm-3-1zm0-3zm-15-9zm2-5zm-3-2zm7 0zm-6-3zm8-1zm6-1zm5-1zm-11-1zm5 0zm-4-1zm10 0zm-7-1zm4-3zm4-1zm-4-2zm-10-4zm-2 0zm17 0zm0-2zm1 0zm-7 0zm7-1zm-6-2zm3-1zm1 0zm-21-2zm12-1zm2 0zm2-2zm-12 0zm1-1zm16 0zm-4-2zm4 0zm1 0zm-7-1zm-3 0zm-11-1zm22 0zm-11 0zm-4-1zm12-1zm-19 0zm9-1zm-8 0zm9 0zm12 0zm-19 0zm6-1zm10 0zm-4 0zm-11-1zm6-2zm-2 0zm9 0zm-9-1zm1 0zm3 0zm-3-2zm-5 0zm8-1zm-5-1zm6-1zm-8-1zm0-3zm4-2zm2-2zm9-1zm2-1zm0-188zm-14 0zm-9 0zm13-1zm8 0zm2-2zm-3-1zm-15-2zm-4-4zm-1-12zm43 2zm1 1zm2 1zm-4 1zm4 0zm1 0zm-9 2zm3 0zm5 0zm0 1zm-8 0zm4 0zm4 1zm1 0zm-2 1zm-3 0zm-6 0zm10 1zm-8 0zm-5 1zm-6 2zm17 0zm3 1zm-22 1zm11 1zm-8 1zm12 0zm-7 0zm-3 1zm5 0zm-1 1zm-10 1zm12 0zm-10 1zm-1 0zm21 160zm-15 22zm15 2zm-9 7zm9 2zm-15 5zm5 1zm7 0zm-1 1zm3 1zm-20 1zm8 1zm5 3zm7 1zm-16 0zm15 0zm-20 1zm1 0zm21 4zm-6 0zm-10 1zm-3 0zm-1 1zm3 1zm11 2zm-6 0zm-3 1zm-1 0zm17 0zm-7 0zm-1 0zm-5 0zm12 1zm-3 0zm1 0zm1 1zm-2 0zm-5 0zm4 0zm-8 1zm9 1zm-3 0zm2 0zm-1 2zm1 0zm-8 3zm1 0zm-3 0zm-4 1zm-4 0zm9 0zm1 0zm6 1zm-9 0zm-2 0zm2 1zm8 1zm-2 1zm-2 1zm-7 0zm10 0zm-9 1zm-5 0zm3 0zm0 1zm-1 0zm-2 1zm0 30zm19 3zm3 2zm-6 1zm-15 2zm4 1zm17 0zm-22 0zm8 1zm11 0zm-19 0zm2 0zm13 0zm-6 0zm-2 1zm0 1zm-2 1zm-1 0zm17 11zm-16 93zm-5 22zm0 11zm12 8zm6 2zm-13 1zm12 0zm2 2zm-8 2zm-10 2zm13 1zm-5 1zm1 0zm-3 0zm16 1zm-3 0zm-13 0zm4 1zm-6 0zm17 1zm-4 0zm-16 2zm20 0zm-21 0zm14 0zm-2 0zm-4 1zm-3 1zm-6 0zm4 0zm0 1zm5 1zm-5 1zm5 0zm-4 95zm5 1zm-1 2zm1 0zm-3 1zm7 1zm3 1zm-2 0zm-13 0zm-1 1zm4 1zm13 0zm-11 0zm10 2zm-7 0zm10 1zm-7 0zm-2 0zm-2 1zm-3 0zm11 0zm1 0zm-14 1zm14 0zm4 1zm-12 1zm8 0zm-4 2zm6 0zm-16 0zm13 1zm2 0zm-14 2zm14 1zm-18 1zm0 1zm8 3zm3 1zm-1 0zm-8 2zm7 1zm-8 0zm6 1zm-5 1zm2 1zm17 1zm-16 0zm15 1zm0 1zm-19 0zm0 3zm15 1zm0 2zm-5 5zm-1 0zm6 1zm-8 2zm-2 1zm-1 1zm0 1zm-2 2zm-3 1zm2 1zm-1 1zm18 2zm-9 12zm14-32zm5-4zm-6-3zm1-1zm4-2zm1-1zm-1 0zm0-1zm0-1zm-1-1zm5-2zm2-1zm1 0zm-2 0zm3-1zm9-2zm-7-2zm3-3zm2-9zm3-101zm-3 0zm-3-2zm-3-1zm-2 0zm-3-2zm0-1zm13 0zm-16 0zm1-1zm-7-2zm5-1zm14 0zm1 0zm-15-3zm16 0zm-7-1zm9-12zm-1-3zm-3-118zm-14-8zm2 0zm13-4zm-18-4zm3-6zm2-2zm-3-2zm-2 0zm3-1zm-4 0zm16-1zm-16 0zm4-2zm15-2zm-18 0zm-1 0zm11-2zm-2 0zm-6 0zm2 0zm5-1zm6-1zm1 0zm-7-1zm4 0zm-11-16zm8-10zm-3-5zm1 0zm-6-1zm1 0zm5-1zm6 0zm-15 0zm17-1zm-15 0zm11 0zm1 0zm-11-1zm1 0zm1 0zm5 0zm-3-1zm-6 0zm1 0zm-3 0zm15 0zm-14-1zm7 0zm4-2zm-1-1zm10-1zm-7-1zm-9 0zm-2 0zm9-1zm-3 0zm-5 0zm17 0zm-16 0zm14 0zm-16 0zm15-1zm-11 0zm14 0zm-16 0zm11 0zm-11-1zm14 0zm-1 0zm-9-1zm-1 0zm11 0zm3 0zm-16 0zm8 0zm-6-1zm-5 0zm5-1zm-5 0zm3 0zm8 0zm1 0zm4-1zm-5 0zm-13-1zm-1-2zm13 0zm2-1zm-6 0zm-7 0zm2-1zm-3 0zm10-1zm-2 0zm-1-2zm2-1zm-3-1zm-1 0zm-3-2zm14 0zm-10-2zm-1 0zm16-1zm-11 0zm12 0zm-16-1zm14-2zm-14-4zm-5 0zm16-4zm-8 0zm13-1zm-4 0zm-7-1zm3 0zm3 0zm-14 0zm12 0zm-3-1zm4 0zm-2-1zm-6-1zm6-2zm2-4zm2-3zm2-1zm1-1zm1-1zm-2-1zm-9-1zm1-1zm3-2zm0-3zm4-15zm2-146zm0-1zm-9-2zm-8-2zm1-1zm14 0zm1-1zm0-1zm-4 0zm-9-1zm-6 0zm18 0zm-5 0zm-6 0zm14 0zm-16 0zm12-1zm-2-1zm-14 0zm8 0zm-11-1zm14 0zm-5 0zm-2-1zm-5 0zm7-3zm24-12zm-1 4zm-6 16zm-2 1zm3 0zm3 0zm2 0zm-3 1zm11 0zm2 0zm-6 1zm3 0zm-6 1zm9 1zm-13 1zm15 0zm-11 1zm11 105zm-1 4zm-18 44zm10 8zm12 5zm-19 4zm1 0zm16 1zm-3 1zm-16 1zm3 0zm15 0zm-11 0zm-3 0zm0 1zm4 0zm2 1zm-8 1zm1 0zm6 0zm-4 1zm6 0zm-4 1zm2 1zm-1 0zm13 0zm-1 0zm-13 1zm2 1zm8 2zm-1 1zm-16 0zm20 0zm-1 1zm-1 0zm-2 1zm1 0zm-19 0zm6 1zm13 0zm1 0zm-14 1zm15 0zm-3 0zm-15 0zm20 2zm-19 0zm-4 1zm9 0zm13 0zm-13 1zm-5 0zm3 0zm3 0zm12 1zm-12 3zm-2 0zm0 2zm-5 1zm6 0zm3 0zm-2 1zm3 0zm7 1zm-8 2zm1 1zm5 0zm4 1zm-6 0zm-4 0zm-7 0zm14 1zm2 1zm-4 1zm-8 0zm9 1zm2 0zm-18 1zm18 0zm-5 1zm-7 0zm-8 0zm22 0zm-5 1zm-3 0zm-7 0zm11 1zm-18 0zm3 1zm20 0zm-2 0zm-14 1zm3 0zm12 0zm-8 1zm7 0zm-14 1zm-1 0zm15 1zm1 0zm-16 1zm-5 0zm11 0zm-8 1zm3 0zm3 0zm-2 0zm-8 0zm14 0zm-3 11zm4 27zm-3 3zm-5 0zm11 1zm-1 0zm6 1zm-21 0zm14 0zm3 1zm-16 0zm11 0zm-8 2zm17 0zm-13 0zm6 0zm-8 7zm4 0zm-5 2zm6 0zm0 1zm6 2zm-12 3zm3 1zm-5 7zm16 10zm-12 8zm14 4zm-1 0zm-20 3zm6 1zm15 3zm-4 1zm-7 1zm7 1zm3 3zm-4 1zm-8 4zm11 1zm-2 0zm0 2zm3 0zm1 2zm-1 1zm-15 3zm9 1zm7 4zm-11 3zm1 0zm-1 1zm-5 4zm5 1zm10 0zm1 2zm-1 1zm-2 2zm2 1zm-9 1zm8 12zm-10 16zm2 6zm7 24zm-19 2zm20 1zm-12 3zm14 1zm-21 6zm2 4zm15 1zm-2 1zm-1 2zm5 0zm-18 3zm12 0zm-2 2zm-6 1zm1 0zm-6 0zm9 1zm-8 0zm3 2zm2 0zm-7 1zm22 83zm0 2zm-3 1zm1 1zm-4 1zm-3 3zm-1 1zm-12 10zm-1 4zm0 1zm37-16zm-7-13zm4-2zm0-2zm3 0zm6 0zm-6-1zm1 0zm1-3zm3 0zm1-1zm4-3zm-13-10zm-6-70zm-1-1zm-1-1zm-2 0zm22-1zm-22 0zm1-2zm2-1zm3 0zm-4-2zm5-2zm1-1zm2-1zm-2-1zm4-3zm-2-1zm11-4zm-7 0zm3 0zm5-1zm-10 0zm0-2zm5-1zm-5-2zm-6-1zm8-2zm-6 0zm14-3zm-1-2zm-21-5zm21-1zm-7 0zm9-11zm-8-5zm-5 0zm-4-9zm7-2zm6-1zm-7 0zm4-1zm1-2zm-14-1zm7 0zm-6 0zm3-1zm-5 0zm11 0zm-13 0zm6-1zm10 0zm-12-1zm-2 0zm8-2zm-9 0zm15 0zm-15-1zm0-1zm15 0zm-16 0zm14 0zm5-1zm-2-3zm0-1zm2-1zm-1-1zm-15 0zm11 0zm-13-1zm18 0zm-15-3zm-2-1zm17 0zm1 0zm-4-1zm-13 0zm13-1zm-10-1zm14 0zm3-1zm-21-1zm17 0zm4-2zm-2 0zm-21 0zm5-1zm-2-1zm17-1zm-20 0zm16-2zm-15 0zm17-2zm-17-4zm16-2zm1-1zm3 0zm0-1zm-18-1zm1 0zm-1-1zm18-2zm-18-2zm15-1zm3 0zm-1-1zm2 0zm-4-2zm4-1zm-20-1zm-1-1zm17-1zm2-2zm1 0zm-19 0zm1 0zm19-1zm-22-1zm1-1zm21 0zm-19-1zm6 0zm11-2zm2-1zm-16-1zm-1 0zm18-1zm-3 0zm-19-1zm21 0zm-14-2zm-1-1zm14 0zm-12-1zm-4 0zm18-1zm-14 0zm-9-1zm6 0zm17 0zm-14 0zm-4 0zm18-1zm-22-1zm2 0zm-1-1zm8-1zm-6 0zm9-3zm-1-1zm-5-2zm4-1zm-3-3zm0-2zm1 0zm-6-1zm-1-2zm3 0zm-4-1zm7 0zm-5-3zm6 0zm-2 0zm-6-1zm-1-1zm5-47zm16-10zm-16-2zm0-2zm11 0zm-9-1zm11 0zm3 0zm-8 0zm9-1zm-10 0zm0-2zm-6 0zm11-2zm-1-1zm-14-1zm4-2zm1 0zm-4-1zm8-2zm-4-1zm1-2zm11-1zm0-3zm-4-3zm-7-2zm-1 0zm13-3zm-15-5zm-4-3zm22 0zm-8-13zm8 0zm-16 0zm7-4zm7-8zm-2-2zm-5-2zm2-2zm-4 0zm11-1zm-8-1zm1-1zm-13-2zm12-1zm8 0zm-1 0zm-7-2zm-5 0zm1 0zm2 0zm3-2zm2-1zm-1 0zm5-2zm-19-1zm17-2zm3 0zm-2-2zm-8 0zm0-1zm-1-1zm-2-1zm-3 0zm7 0zm-2-3zm9 0zm-14-2zm5-1zm2 0zm-8 0zm15 0zm-4-1zm-10 0zm6 0zm0-3zm-4 0zm5-2zm-3-1zm4 0zm0-2zm8 0zm-13-1zm-10-2zm21 0zm-6-2zm-4 0zm9-1zm-4-3zm-4-1zm-2 0zm6-1zm2-1zm-9-1zm6 0zm1-1zm-8-1zm11 0zm-11-1zm10 0zm-2-1zm-2 0zm7-1zm-5 0zm1 0zm-9 0zm5-3zm3 0zm-5 0zm2-3zm5 0zm-2-1zm-4-2zm-7-1zm17-1zm-11 0zm-4-2zm8-1zm2-2zm-3-2zm6-1zm2 0zm1-1zm-2-2zm-2-1zm3-2zm-14-56zm-6-3zm15-1zm-9 0zm3 0zm-4 0zm-5 0zm-2 0zm9-2zm-5-1zm8-2zm12 66zm1 3zm0 4zm3 0zm-4 0zm9 3zm-1 2zm1 0zm-7 0zm9 2zm-1 2zm-4 1zm6 0zm-10 0zm10 1zm-8 1zm10 3zm2 3zm-10 0zm5 1zm4 1zm-14 1zm-1 0zm7 1zm11 0zm-3 1zm2 0zm0 1zm-16 0zm11 1zm4 1zm1 1zm2 1zm-2 0zm-9 0zm-2 0zm-1 0zm11 3zm-7 0zm-2 1zm-5 0zm7 0zm9 1zm-7 2zm6 1zm-10 1zm-6 2zm6 0zm14 1zm-2 1zm-12 0zm-4 1zm18 1zm-21 0zm4 2zm12 1zm-4 1zm3 0zm6 2zm-5 1zm-2 0zm5 1zm-4 1zm1 0zm-3 2zm-2 4zm-9 0zm11 3zm-11 2zm17 0zm-19 0zm17 0zm5 1zm1 0zm-16 0zm12 2zm-18 2zm2 1zm-1 1zm14 0zm-13 1zm-2 1zm12 0zm7 0zm2 1zm-20 1zm-2 0zm8 0zm15 0zm0 1zm-19 2zm19 0zm-21 1zm-2 1zm22 0zm-13 0zm4 0zm-4 3zm-1 1zm-4 0zm-1 1zm17 1zm-12 0zm1 0zm11 1zm-12 0zm-5 1zm7 0zm-1 2zm0 1zm1 0zm3 1zm-8 0zm-2 0zm11 1zm0 2zm-5 0zm10 0zm-18 1zm10 0zm10 1zm-9 0zm6 1zm-5 0zm-10 1zm14 4zm-12 0zm9 3zm2 3zm1 0zm-6 1zm-5 1zm3 1zm10 0zm3 1zm-10 0zm3 0zm0 1zm1 0zm-2 1zm9 0zm-4 0zm-4 1zm8 0zm-5 0zm5 1zm-12 1zm2 1zm-6 0zm8 1zm4 0zm-5 0zm8 0zm-4 1zm-2 0zm-5 0zm11 0zm-13 1zm10 0zm-7 1zm6 1zm-5 0zm0 1zm-4 1zm2 1zm-3 1zm15 0zm-16 1zm-3 2zm17 0zm-8 0zm8 2zm-16 0zm1 1zm8 0zm8 1zm1 1zm-10 1zm1 0zm9 0zm-7 0zm1 1zm6 0zm-22 0zm20 1zm-5 0zm1 0zm-14 2zm16 0zm-2 0zm-11 0zm16 1zm-15 0zm1 0zm0 2zm13 0zm2 0zm-22 0zm1 0zm15 1zm6 1zm-2 0zm-11 0zm-5 1zm6 1zm-3 0zm11 1zm-8 1zm8 1zm3 2zm-1 10zm-2 2zm3 2zm-17 2zm16 1zm1 32zm-11 2zm11 0zm-12 2zm-1 1zm3 0zm-6 1zm12 2zm1 0zm-6 0zm0 1zm9 0zm-2 1zm-13 2zm14 0zm-12 1zm3 2zm11 0zm-19 2zm16 2zm-19 1zm11 1zm-7 0zm-3 2zm17 0zm-18 0zm0 1zm10 1zm-8 2zm7 1zm-2 1zm11 1zm-19 1zm1 2zm9 2zm-4 1zm-2 3zm7 0zm4 1zm-2 0zm10 0zm-8 1zm-15 3zm0 3zm1 3zm4 3zm-5 0zm11 0zm10 13zm-18 6zm7 1zm13 29zm0 1zm-2 2zm-13 1zm7 1zm6 0zm-15 1zm15 1zm-2 1zm-2 1zm0 2zm-15 0zm8 3zm6 0zm-9 1zm-2 2zm7 1zm-3 3zm3 0zm-12 1zm7 1zm-2 0zm5 1zm-3 0zm4 1zm-7 1zm2 2zm3 1zm-6 0zm-1 0zm-2 0zm2 1zm18 99zm-10 8zm6 0zm-2 0zm-2 2zm-2 2zm-1 0zm-2 0zm-2 2zm1 0zm-3 0zm2 1zm-3 1zm-1 10zm20 4zm23-3zm1-15zm-16-7zm-4 0zm-1-1zm2-1zm13-5zm0-4zm-11-6zm15-102zm-9-1zm10 0zm-16-1zm13-1zm-2 0zm3 0zm-11-1zm10 0zm4 0zm-21 0zm12-1zm-3 0zm-8 0zm15 0zm2-2zm-2 0zm-7-1zm-7-1zm20 0zm-16 0zm-4-1zm14-1zm3 0zm-4-3zm-1 0zm3-1zm-7-1zm3-1zm-11-4zm20-4zm-16 0zm8-1zm-3-2zm10-1zm-4-1zm0-1zm6 0zm-4-3zm-1-1zm3-3zm-1-6zm0-4zm3-1zm-2 0zm-8-5zm-4 0zm9-4zm4-7zm1 0zm-2-1zm2-3zm-2-3zm2-1zm-3-4zm-19-2zm22-1zm-8 0zm7-1zm1-2zm-10-1zm8-2zm-2 0zm-19-3zm12 0zm9 0zm-7-1zm3-3zm-15-3zm14-2zm3-2zm-7-1zm-5 0zm2-1zm5-2zm1-1zm-1 0zm-10-1zm10 0zm4-4zm-12-2zm1 0zm-3 0zm3-1zm-2-1zm-4 0zm3 0zm-2 0zm1-1zm1 0zm0-2zm18-19zm-3-6zm-2-1zm-2-1zm-5-4zm8-1zm3 0zm-4 0zm-7 0zm1-1zm0-1zm-10-2zm12-1zm0-1zm-5 0zm14 0zm-5 0zm-7-1zm7 0zm-13-1zm1-1zm18 0zm-16 0zm10 0zm-5 0zm0-1zm-6 0zm10 0zm-10-2zm16-1zm1 0zm-16 0zm-6-1zm17-2zm-18-1zm20 0zm-10-1zm-5 0zm-2 0zm3 0zm3 0zm7 0zm4-1zm-13 0zm-2-1zm5 0zm-2-1zm-5-1zm14 0zm-13-1zm17 0zm-19 0zm6 0zm-2-2zm-1-2zm12 0zm-12-1zm1 0zm3 0zm-7 0zm-2-1zm11 0zm3 0zm8 0zm-21 0zm18 0zm4-1zm-18-1zm13-1zm-1-1zm2 0zm-19 0zm14 0zm-8 0zm1-1zm-3 0zm17 0zm-2 0zm-6 0zm-13 0zm22 0zm-19 0zm-2-1zm19 0zm-16-1zm2 0zm17 0zm-16 0zm1-1zm-8 0zm22 0zm-10-1zm-1-1zm-6 0zm1 0zm3-1zm11 0zm-1 0zm-19-1zm6-1zm10 0zm-13-1zm7-1zm6-1zm-12-1zm15 0zm-14 0zm-2-2zm-3-2zm16-2zm-14-1zm13-2zm-1-1zm3-1zm-1 0zm-1-1zm-3-2zm0-1zm-1-1zm4 0zm-14-1zm11-1zm-7 0zm6-1zm6-1zm-6-3zm1-1zm-6 0zm6-1zm0-2zm-3 0zm-4-1zm-3 0zm4-1zm-5 0zm9 0zm-3-1zm3 0zm-7-2zm3 0zm3 0zm-3-2zm3-1zm3-3zm-9 0zm2-2zm-4 0zm5-1zm-1 0zm-4-1zm-1 0zm7-1zm-3 0zm1-2zm-4-1zm3 0zm-1-1zm8-4zm-10-3zm0-2zm6-21zm11-23zm-18-28zm43 140zm-18 7zm1 0zm0 2zm-1 2zm1 1zm1 0zm-2 1zm4 1zm4 4zm-3 1zm0 1zm2 3zm-2 1zm-3 4zm7 3zm-1 0zm-9 0zm2 0zm8 1zm2 0zm-2 1zm2 3zm0 1zm3 1zm1 0zm-6 1zm-6 5zm14 3zm-9 1zm12 4zm-1 1zm-2 1zm3 2zm1 2zm1 4zm-13 6zm5 10zm-5 0zm6 1zm-2 1zm4 1zm-2 0zm-15 1zm16 4zm1 6zm-18 1zm19 4zm-19 4zm2 1zm1 0zm-1 3zm3 7zm-1 1zm4 2zm-4 1zm1 2zm1 1zm-1 0zm0 4zm-5 0zm6 0zm16 1zm-16 10zm-2 1zm2 0zm-1 1zm0 1zm3 3zm-7 1zm7 1zm0 3zm-4 2zm-4 1zm8 0zm-5 0zm-3 1zm4 2zm-3 0zm11 0zm-12 2zm0 1zm3 6zm3 1zm-6 2zm4 0zm1 1zm0 1zm0 2zm-4 2zm1 0zm-2 2zm12 0zm-12 4zm22 105zm-2 3zm-1 1zm-2 0zm-5 0zm0 1zm2 1zm-2 0zm-7 3zm-1 1zm-1 1zm5 23zm23-35zm-2 0zm1 0zm2-1zm6 0zm4-1zm-3 0zm-3-1zm1 0zm9-1zm-9 0zm8-1zm-4-2zm5-1zm1-23zm-3-93zm-11-31zm8-2zm-3-1zm-2 0zm0-2zm-3 0zm10 0zm-2-2zm-5-1zm11-4zm-17 0zm7 0zm-7-1zm17 0zm-22-1zm21 0zm-19-1zm-3-1zm22-2zm0-1zm-1-2zm-14-2zm-1 0zm-5 0zm20-1zm-2-1zm-2 0zm1 0zm0-2zm-16-1zm-1-1zm1-1zm13-2zm-14 0zm0-1zm14-1zm-8-1zm5-3zm-1-2zm9-1zm-9 0zm0-2zm-8-2zm7 0zm0-1zm-2-2zm2-1zm-2 0zm1-1zm-3-2zm-1-2zm-3-3zm2 0zm-1-1zm1-2zm5-3zm-9 0zm30 39zm-6 7zm2 6zm2 5zm-3 1zm4 1zm1 2zm2 1zm-1 5zm1 6zm2 2zm0 1zm1 3zm-1 1zm8 3zm-4 1zm-1 2zm1 1zm2 2zm-3 3zm3 0zm-1 0zm2 2zm-2 0zm0 1zm2 8zm2 4zm-2 0zm2 3zm1 3zm-2 2zm0 2zm1 1zm-1 2zm2 1zm-3 1zm1 2zm-2 5zm0 2zm-1 3zm0 2zm1 5zm-1 3zm1 2zm-2 1zm-3 4zm3 4zm-6 2zm2 0zm4 2zm-1 0zm1 1zm-2 2zm-1 0zm2 4zm-2 3zm-1 4zm-1 1zm-1 2zm2 0zm0 2zm-2 2zm-1 3zm-3 3zm4 3zm-1 5zm-5 1zm5 2zm0 1zm-3 3zm2 0zm-1 3zm-3 2zm0 1zm-2 0zm7 4zm-2 0zm-3 2zm3 0zm20-41z"/><path fill="none" stroke="#c4c4c4" stroke-width="0.8" stroke-dasharray="2.6 5.8" d="M58.0 0V427.7M116.0 0V427.7M174.0 0V427.7M232.0 0V427.7M290.0 0V427.7M0 71.3H348.0M0 142.6H348.0M0 213.8H348.0M0 285.1H348.0M0 356.4H348.0"/><g shape-rendering="crispEdges"><g transform="translate(3.30 0.68) scale(7.620 7.670)"><path fill="#00008f" d="M16 0h8v1h-8zM26 0h20v1h-20zM16 1h8v1h-8zM27 1h19v1h-19zM17 2h7v1h-7zM27 2h8v1h-8zM37 2h9v1h-9zM17 3h8v1h-8zM26 3h1v1h-1zM28 3h6v1h-6zM44 3h2v1h-2zM17 4h9v1h-9zM31 4h3v1h-3zM17 5h9v1h-9zM33 5h1v1h-1zM17 6h9v1h-9zM18 7h12v1h-12zM18 8h9v1h-9zM18 9h9v1h-9zM18 10h9v1h-9zM18 11h8v1h-8zM19 12h1v1h-1zM21 12h6v1h-6zM22 13h6v1h-6zM21 14h7v1h-7zM21 15h6v1h-6zM22 16h1v1h-1zM24 16h2v1h-2zM0 36h1v1h-1z"/><path fill="#8fff70" d="M24 0h2v1h-2zM24 1h3v1h-3zM24 2h3v1h-3zM35 2h2v1h-2zM25 3h1v1h-1zM27 3h1v1h-1zM34 3h10v1h-10zM26 4h5v1h-5zM34 4h12v1h-12zM26 5h7v1h-7zM34 5h12v1h-12zM26 6h20v1h-20zM30 7h16v1h-16zM27 8h19v1h-19zM27 9h19v1h-19zM27 10h19v1h-19zM26 11h20v1h-20zM20 12h1v1h-1zM27 12h19v1h-19zM19 13h3v1h-3zM28 13h18v1h-18zM20 14h1v1h-1zM28 14h18v1h-18zM20 15h1v1h-1zM28 15h18v1h-18zM20 16h2v1h-2zM23 16h1v1h-1zM29 16h17v1h-17zM21 17h4v1h-4zM30 17h16v1h-16zM21 18h1v1h-1zM33 18h13v1h-13zM21 19h1v1h-1zM33 19h13v1h-13zM34 20h12v1h-12zM22 21h1v1h-1zM35 21h11v1h-11zM23 22h1v1h-1zM35 22h11v1h-11zM37 23h9v1h-9zM39 24h7v1h-7zM40 25h6v1h-6zM40 26h6v1h-6zM41 27h5v1h-5zM41 28h5v1h-5zM41 29h5v1h-5zM42 30h4v1h-4zM42 31h4v1h-4zM43 32h3v1h-3zM19 33h2v1h-2zM44 33h2v1h-2zM18 34h3v1h-3zM44 34h2v1h-2zM16 35h5v1h-5zM15 36h5v1h-5zM14 37h6v1h-6zM13 38h8v1h-8zM12 39h8v1h-8zM11 40h9v1h-9zM10 41h10v1h-10zM0 42h1v1h-1zM9 42h11v1h-11zM0 43h7v1h-7zM9 43h11v1h-11zM0 44h20v1h-20zM26 44h1v1h-1zM0 45h24v1h-24zM0 46h20v1h-20zM27 46h2v1h-2zM0 47h20v1h-20zM23 47h1v1h-1zM26 47h4v1h-4zM0 48h20v1h-20zM22 48h7v1h-7zM0 49h25v1h-25zM0 50h24v1h-24zM44 50h2v1h-2zM0 51h19v1h-19zM0 52h19v1h-19zM44 52h2v1h-2zM0 53h20v1h-20zM44 53h2v1h-2zM0 54h21v1h-21zM43 54h3v1h-3zM0 55h21v1h-21zM43 55h3v1h-3z"/><path fill="#800000" d="M27 15h1v1h-1zM26 16h3v1h-3zM25 17h5v1h-5zM22 18h11v1h-11zM22 19h11v1h-11zM22 20h12v1h-12zM23 21h12v1h-12zM24 22h11v1h-11zM23 23h14v1h-14zM23 24h16v1h-16zM23 25h17v1h-17zM23 26h17v1h-17zM23 27h18v1h-18zM23 28h18v1h-18zM23 29h18v1h-18zM23 30h19v1h-19zM23 31h19v1h-19zM23 32h20v1h-20zM21 33h23v1h-23zM21 34h23v1h-23zM21 35h25v1h-25zM20 36h26v1h-26zM20 37h26v1h-26zM21 38h25v1h-25zM20 39h26v1h-26zM20 40h26v1h-26zM20 41h26v1h-26zM20 42h26v1h-26zM20 43h26v1h-26zM20 44h6v1h-6zM27 44h19v1h-19zM24 45h22v1h-22zM20 46h7v1h-7zM29 46h17v1h-17zM20 47h3v1h-3zM24 47h2v1h-2zM30 47h16v1h-16zM20 48h2v1h-2zM29 48h17v1h-17zM25 49h21v1h-21zM24 50h20v1h-20zM19 51h27v1h-27zM19 52h25v1h-25zM20 53h24v1h-24zM21 54h22v1h-22zM21 55h22v1h-22z"/></g></g><path fill="none" stroke="#000" stroke-width="1.0" stroke-linejoin="round" d="M171.6 146.9L186.2 146.9L209.7 123.4L232.1 146.9L247.8 146.9L247.8 154.8L263.5 170.5L263.5 178.3L271.4 186.2L279.2 186.2L287.1 194.0L294.9 194.0L302.8 201.9L309.5 210.5L309.5 231.9L317.4 239.7L317.4 247.6L332.0 263.3L332.0 271.1L339.8 279.0"/><path fill="none" stroke="#000" stroke-width="1.0" stroke-linejoin="round" d="M164.9 271.1L157.0 279.0L157.0 286.8L164.9 294.6L157.0 301.4"/><path fill="none" stroke="#000" stroke-width="1.0" stroke-linejoin="round" d="M171.6 170.5L179.4 170.5L187.3 178.3L179.4 186.2"/><path fill="none" stroke="#000" stroke-width="1.0" stroke-linejoin="round" d="M157.0 314.8L157.0 346.2L180.6 346.2L187.3 354.1L179.4 361.9L157.0 361.9L157.0 377.6L164.9 377.6L195.0 347.0L210.0 362.0L225.0 362.0L240.0 347.0L255.0 347.0L270.0 362.0L255.0 377.0L225.0 377.0"/><path fill="none" stroke="#000" stroke-width="1.0" stroke-linejoin="round" d="M210.0 393.0L180.0 393.0L172.0 401.0L149.0 401.0L149.0 416.0L164.5 432.0"/><text transform="translate(161.5 305.0) rotate(-85)" font-size="13.0" text-anchor="middle" dominant-baseline="central">2</text><text transform="translate(339.0 290.0) rotate(-80)" font-size="13.0" text-anchor="middle" dominant-baseline="central">2</text><text transform="translate(199.0 385.0) rotate(0)" font-size="13.0" text-anchor="middle" dominant-baseline="central">2</text><text transform="translate(191.0 150.0) rotate(30)" font-size="13.0" text-anchor="middle" dominant-baseline="central">2</text><path d="M164.0 249.8L178.4 249.8M166.1 244.7L176.3 254.9M171.2 242.6L171.2 257.0M176.3 244.7L166.1 254.9" stroke="#f00" stroke-width="1.15" fill="none"/><path d="M61.0 320.5L75.4 320.5M63.1 315.4L73.3 325.6M68.2 313.3L68.2 327.7M73.3 315.4L63.1 325.6" stroke="#f00" stroke-width="1.15" fill="none"/></g><rect x="0" y="0" width="348.0" height="427.7" fill="none" stroke="#161616" stroke-width="1.4"/><path fill="none" stroke="#262626" stroke-width="1" d="M58.0 0v3.5M58.0 427.7v-3.5M0 71.3h3.5M348.0 71.3h-3.5M116.0 0v3.5M116.0 427.7v-3.5M0 142.6h3.5M348.0 142.6h-3.5M174.0 0v3.5M174.0 427.7v-3.5M0 213.8h3.5M348.0 213.8h-3.5M232.0 0v3.5M232.0 427.7v-3.5M0 285.1h3.5M348.0 285.1h-3.5M290.0 0v3.5M290.0 427.7v-3.5M0 356.4h3.5M348.0 356.4h-3.5"/><text x="-7.8" y="7.1" font-size="20.1" text-anchor="end" font-weight="normal" fill="#000" >37°N</text><text x="-7.2" y="77.3" font-size="15.4" text-anchor="end" font-weight="normal" fill="#000" >30'</text><text x="-7.8" y="149.7" font-size="20.1" text-anchor="end" font-weight="normal" fill="#000" >36°N</text><text x="-7.2" y="219.8" font-size="15.4" text-anchor="end" font-weight="normal" fill="#000" >30'</text><text x="-7.8" y="292.2" font-size="20.1" text-anchor="end" font-weight="normal" fill="#000" >35°N</text><text x="-7.2" y="362.4" font-size="15.4" text-anchor="end" font-weight="normal" fill="#000" >30'</text><text x="-7.8" y="434.8" font-size="20.1" text-anchor="end" font-weight="normal" fill="#000" >34°N</text><text x="2.8" y="448.6" font-size="20.1" text-anchor="middle" font-weight="normal" fill="#000" >77°W</text><text x="57.7" y="444.6" font-size="15.4" text-anchor="middle" font-weight="normal" fill="#000" >30'</text><text x="118.8" y="448.6" font-size="20.1" text-anchor="middle" font-weight="normal" fill="#000" >76°W</text><text x="173.7" y="444.6" font-size="15.4" text-anchor="middle" font-weight="normal" fill="#000" >30'</text><text x="234.8" y="448.6" font-size="20.1" text-anchor="middle" font-weight="normal" fill="#000" >75°W</text><text x="289.7" y="444.6" font-size="15.4" text-anchor="middle" font-weight="normal" fill="#000" >30'</text><text x="350.8" y="448.6" font-size="20.1" text-anchor="middle" font-weight="normal" fill="#000" >74°W</text><rect x="4.0" y="20.2" width="111.5" height="24.5" fill="url(#jet)" stroke="#262626" stroke-width="1"/><text x="4.0" y="6.5" font-size="16.2" text-anchor="middle" font-weight="normal" fill="#262626" >0</text><text x="59.8" y="6.5" font-size="16.2" text-anchor="middle" font-weight="normal" fill="#262626" >1</text><text x="115.5" y="6.5" font-size="16.2" text-anchor="middle" font-weight="normal" fill="#262626" >2</text><text x="286.4" y="36.9" font-size="20.1" text-anchor="start" font-weight="normal" fill="#000" >10 km</text><path d="M305.6 43.5H319.3" stroke="#000" stroke-width="4.2" stroke-linecap="round"/><text x="174.0" y="-11.6" font-size="20.6" text-anchor="middle" font-weight="bold" fill="#000" >Number of Sites (2)</text></g>
<g transform="translate(75.0 742.5)"><clipPath id="c75_742"><rect x="0" y="0" width="348.0" height="427.7"/></clipPath><g clip-path="url(#c75_742)"><path fill="none" stroke="#00ff00" stroke-width="2.9" stroke-linecap="round" d="M68.2 313.2zM68.2 291.3zM68.2 284.0zM68.2 276.7zM68.2 269.4zM68.2 262.1zM68.2 254.8zM68.2 247.5zM68.2 240.2zM68.2 232.9zM68.2 145.3zM68.2 138.0zM68.8 313.2zM71.4 284.1zM72.0 276.9zM72.7 269.6zM73.3 262.3zM73.9 255.1zM74.6 247.8zM75.2 240.5zM83.5 146.0zM84.1 138.7zM84.7 131.4zM69.5 313.3zM75.8 277.4zM77.1 270.2zM78.3 263.0zM79.6 255.8zM80.9 248.6zM82.1 241.4zM99.9 140.8zM102.4 126.4zM105.0 112.0zM70.1 313.4zM72.0 306.4zM79.5 278.2zM81.4 271.1zM83.3 264.1zM85.2 257.0zM87.1 250.0zM89.0 242.9zM117.3 137.2zM121.1 123.1zM70.7 313.6zM73.2 306.8zM80.7 286.2zM83.2 279.3zM85.7 272.5zM88.2 265.6zM90.7 258.8zM93.2 251.9zM95.7 245.0zM135.6 135.3zM140.6 121.6zM71.3 313.9zM74.4 307.3zM77.5 300.7zM83.6 287.4zM86.7 280.8zM89.8 274.2zM92.9 267.6zM96.0 261.0zM99.1 254.3zM102.1 247.7zM105.2 241.1zM108.3 234.5zM148.4 148.5zM154.6 135.3zM160.8 122.0zM75.5 307.9zM79.2 301.5zM82.8 295.2zM86.5 288.9zM90.1 282.6zM93.8 276.2zM97.4 269.9zM101.0 263.6zM104.7 257.3zM108.3 251.0zM112.0 244.6zM115.6 238.3zM119.3 232.0zM122.9 225.7zM126.6 219.3zM130.2 213.0zM133.9 206.7zM148.5 181.4zM152.1 175.1zM159.4 162.5zM166.8 149.8zM174.0 137.2zM80.8 302.6zM84.9 296.6zM89.1 290.6zM93.3 284.6zM97.5 278.6zM101.7 272.7zM105.9 266.7zM110.1 260.7zM114.3 254.7zM118.4 248.7zM122.6 242.8zM126.8 236.8zM131.0 230.8zM135.2 224.8zM139.4 218.8zM143.6 212.9zM147.8 206.9zM151.9 200.9zM156.1 194.9zM160.3 188.9zM168.7 177.0zM177.1 165.0zM185.4 153.1zM193.8 141.1zM72.9 314.9zM77.6 309.3zM91.7 292.5zM96.4 286.9zM101.0 281.4zM105.7 275.8zM110.4 270.2zM115.1 264.6zM119.8 259.0zM124.5 253.4zM129.2 247.8zM133.9 242.2zM138.6 236.6zM143.3 231.0zM148.0 225.4zM152.7 219.8zM157.4 214.2zM162.0 208.7zM166.7 203.1zM171.4 197.5zM185.5 180.7zM194.9 169.5zM204.3 158.3zM73.4 315.3zM78.5 310.2zM83.7 305.0zM88.8 299.9zM94.0 294.7zM99.2 289.5zM104.3 284.4zM114.7 274.0zM119.8 268.9zM125.0 263.7zM130.1 258.6zM135.3 253.4zM140.5 248.2zM145.6 243.1zM150.8 237.9zM156.0 232.7zM161.1 227.6zM166.3 222.4zM171.4 217.3zM181.8 206.9zM192.1 196.6zM202.4 186.3zM212.7 176.0zM223.1 165.6zM73.8 315.8zM79.4 311.1zM85.0 306.4zM90.6 301.7zM96.2 297.0zM101.8 292.3zM107.3 287.7zM112.9 283.0zM118.5 278.3zM124.1 273.6zM129.7 268.9zM135.3 264.2zM140.9 259.5zM146.5 254.8zM152.1 250.1zM157.7 245.4zM163.3 240.7zM168.9 236.0zM174.5 231.3zM180.0 226.7zM185.6 222.0zM191.2 217.3zM196.8 212.6zM208.0 203.2zM219.2 193.8zM230.4 184.4zM74.2 316.3zM80.2 312.1zM86.1 307.9zM92.1 303.8zM98.1 299.6zM104.1 295.4zM110.1 291.2zM116.0 287.0zM122.0 282.8zM128.0 278.6zM134.0 274.4zM140.0 270.3zM145.9 266.1zM151.9 261.9zM157.9 257.7zM163.9 253.5zM175.8 245.1zM181.8 240.9zM187.8 236.8zM193.8 232.6zM199.8 228.4zM211.7 220.0zM223.7 211.6zM235.6 203.3zM247.6 194.9zM74.5 316.9zM80.8 313.2zM87.2 309.6zM93.5 305.9zM99.8 302.2zM106.1 298.6zM112.5 294.9zM118.8 291.3zM125.1 287.6zM131.4 284.0zM137.7 280.4zM144.1 276.7zM150.4 273.1zM156.7 269.4zM163.0 265.8zM169.4 262.1zM175.7 258.4zM182.0 254.8zM188.3 251.1zM194.6 247.5zM201.0 243.8zM207.3 240.2zM213.6 236.5zM219.9 232.9zM226.2 229.2zM232.6 225.6zM238.9 221.9zM245.2 218.3zM251.5 214.6zM257.9 211.0zM264.2 207.3zM270.5 203.7zM276.8 200.0zM283.1 196.4zM295.8 189.1zM308.4 181.8zM314.8 178.1zM74.8 317.4zM81.4 314.3zM88.0 311.2zM94.7 308.2zM101.3 305.1zM107.9 302.0zM114.5 298.9zM121.1 295.8zM127.7 292.7zM134.4 289.6zM141.0 286.6zM147.6 283.5zM154.2 280.4zM160.8 277.3zM167.4 274.2zM174.1 271.1zM180.7 268.1zM187.3 265.0zM193.9 261.9zM200.5 258.8zM207.1 255.7zM213.8 252.6zM220.4 249.5zM227.0 246.5zM233.6 243.4zM240.2 240.3zM246.8 237.2zM253.4 234.1zM260.1 231.0zM266.7 227.9zM273.3 224.9zM279.9 221.8zM286.5 218.7zM293.1 215.6zM306.4 209.4zM319.6 203.3zM326.2 200.2zM75.1 318.0zM81.9 315.5zM88.8 313.0zM95.6 310.5zM102.5 308.0zM109.4 305.5zM116.2 303.0zM123.1 300.5zM129.9 298.0zM136.8 295.5zM143.7 293.0zM150.5 290.5zM157.4 288.0zM164.2 285.5zM171.1 283.0zM178.0 280.6zM184.8 278.1zM191.7 275.6zM198.5 273.1zM205.4 270.6zM212.3 268.1zM219.1 265.6zM226.0 263.1zM232.8 260.6zM239.7 258.1zM246.6 255.6zM253.4 253.1zM260.3 250.6zM267.1 248.1zM274.0 245.6zM280.9 243.1zM287.7 240.6zM294.6 238.1zM301.4 235.6zM315.2 230.6zM328.9 225.6zM335.7 223.1zM75.3 318.6zM82.3 316.7zM89.4 314.8zM96.4 312.9zM103.5 311.1zM110.5 309.2zM117.6 307.3zM124.6 305.4zM131.7 303.5zM138.7 301.6zM145.8 299.7zM152.8 297.8zM159.9 295.9zM166.9 294.0zM174.0 292.2zM181.0 290.3zM188.1 288.4zM195.1 286.5zM202.2 284.6zM209.2 282.7zM216.3 280.8zM223.3 278.9zM230.4 277.0zM237.4 275.2zM244.5 273.3zM251.5 271.4zM258.6 269.5zM265.6 267.6zM272.7 265.7zM279.7 263.8zM286.8 261.9zM293.8 260.0zM300.9 258.2zM307.9 256.3zM322.0 252.5zM336.1 248.7zM343.2 246.8zM75.4 319.2zM82.6 318.0zM89.8 316.7zM97.0 315.4zM104.1 314.2zM111.3 312.9zM118.5 311.6zM125.7 310.4zM132.9 309.1zM140.1 307.8zM147.3 306.6zM154.5 305.3zM161.7 304.0zM168.8 302.8zM176.0 301.5zM183.2 300.2zM190.4 299.0zM197.6 297.7zM204.8 296.4zM212.0 295.1zM219.2 293.9zM226.4 292.6zM233.5 291.3zM240.7 290.1zM247.9 288.8zM255.1 287.5zM262.3 286.3zM269.5 285.0zM276.7 283.7zM283.9 282.5zM291.1 281.2zM298.3 279.9zM305.4 278.7zM312.6 277.4zM327.0 274.9zM341.4 272.3zM75.5 319.9zM82.7 319.2zM90.0 318.6zM97.3 318.0zM104.6 317.3zM111.8 316.7zM119.1 316.0zM126.4 315.4zM133.6 314.8zM140.9 314.1zM148.2 313.5zM155.5 312.9zM162.7 312.2zM170.0 311.6zM177.3 311.0zM184.6 310.3zM191.8 309.7zM199.1 309.0zM206.4 308.4zM213.6 307.8zM220.9 307.1zM228.2 306.5zM235.5 305.9zM242.7 305.2zM250.0 304.6zM257.3 304.0zM264.5 303.3zM271.8 302.7zM279.1 302.0zM286.4 301.4zM293.6 300.8zM300.9 300.1zM308.2 299.5zM315.5 298.9zM330.0 297.6zM344.5 296.3zM75.5 320.5zM82.8 320.5zM90.1 320.5zM97.4 320.5zM104.7 320.5zM112.0 320.5zM119.3 320.5zM126.6 320.5zM133.9 320.5zM141.2 320.5zM148.5 320.5zM155.8 320.5zM163.1 320.5zM170.4 320.5zM177.7 320.5zM185.0 320.5zM192.3 320.5zM199.6 320.5zM206.9 320.5zM214.2 320.5zM221.5 320.5zM228.8 320.5zM236.1 320.5zM243.4 320.5zM250.7 320.5zM258.0 320.5zM265.3 320.5zM272.6 320.5zM279.9 320.5zM287.2 320.5zM294.5 320.5zM301.8 320.5zM309.1 320.5zM316.4 320.5zM331.0 320.5zM345.6 320.5zM75.5 321.1zM82.7 321.8zM90.0 322.4zM97.3 323.0zM104.6 323.7zM111.8 324.3zM119.1 325.0zM126.4 325.6zM133.6 326.2zM140.9 326.9zM148.2 327.5zM155.5 328.1zM162.7 328.8zM170.0 329.4zM177.3 330.0zM184.6 330.7zM191.8 331.3zM199.1 332.0zM206.4 332.6zM213.6 333.2zM220.9 333.9zM228.2 334.5zM235.5 335.1zM242.7 335.8zM250.0 336.4zM257.3 337.0zM264.5 337.7zM271.8 338.3zM279.1 339.0zM286.4 339.6zM293.6 340.2zM300.9 340.9zM308.2 341.5zM315.5 342.1zM330.0 343.4zM344.5 344.7zM75.4 321.8zM82.6 323.0zM89.8 324.3zM97.0 325.6zM104.1 326.8zM111.3 328.1zM118.5 329.4zM125.7 330.6zM132.9 331.9zM140.1 333.2zM147.3 334.4zM154.5 335.7zM161.7 337.0zM168.8 338.2zM176.0 339.5zM183.2 340.8zM190.4 342.0zM197.6 343.3zM204.8 344.6zM212.0 345.9zM219.2 347.1zM226.4 348.4zM233.5 349.7zM240.7 350.9zM247.9 352.2zM255.1 353.5zM262.3 354.7zM269.5 356.0zM276.7 357.3zM283.9 358.5zM291.1 359.8zM298.3 361.1zM305.4 362.3zM312.6 363.6zM327.0 366.1zM341.4 368.7zM75.3 322.4zM82.3 324.3zM89.4 326.2zM96.4 328.1zM103.5 329.9zM110.5 331.8zM117.6 333.7zM124.6 335.6zM131.7 337.5zM138.7 339.4zM145.8 341.3zM152.8 343.2zM159.9 345.1zM166.9 347.0zM174.0 348.8zM181.0 350.7zM188.1 352.6zM195.1 354.5zM202.2 356.4zM209.2 358.3zM216.3 360.2zM223.3 362.1zM230.4 364.0zM237.4 365.8zM244.5 367.7zM251.5 369.6zM258.6 371.5zM265.6 373.4zM272.7 375.3zM279.7 377.2zM286.8 379.1zM293.8 381.0zM300.9 382.8zM307.9 384.7zM322.0 388.5zM336.1 392.3zM343.2 394.2zM75.1 323.0zM81.9 325.5zM88.8 328.0zM95.6 330.5zM102.5 333.0zM109.4 335.5zM116.2 338.0zM123.1 340.5zM129.9 343.0zM136.8 345.5zM143.7 348.0zM150.5 350.5zM157.4 353.0zM164.2 355.5zM171.1 358.0zM178.0 360.4zM184.8 362.9zM191.7 365.4zM198.5 367.9zM205.4 370.4zM212.3 372.9zM219.1 375.4zM226.0 377.9zM232.8 380.4zM239.7 382.9zM246.6 385.4zM253.4 387.9zM260.3 390.4zM267.1 392.9zM274.0 395.4zM280.9 397.9zM287.7 400.4zM294.6 402.9zM301.4 405.4zM315.2 410.4zM328.9 415.4zM335.7 417.9zM74.8 323.6zM81.4 326.7zM88.0 329.8zM94.7 332.8zM101.3 335.9zM107.9 339.0zM114.5 342.1zM121.1 345.2zM127.7 348.3zM134.4 351.4zM141.0 354.4zM147.6 357.5zM154.2 360.6zM160.8 363.7zM167.4 366.8zM174.1 369.9zM180.7 372.9zM187.3 376.0zM193.9 379.1zM200.5 382.2zM207.1 385.3zM213.8 388.4zM220.4 391.5zM227.0 394.5zM233.6 397.6zM240.2 400.7zM246.8 403.8zM253.4 406.9zM260.1 410.0zM266.7 413.1zM273.3 416.1zM279.9 419.2zM286.5 422.3zM293.1 425.4zM74.5 324.1zM80.8 327.8zM87.2 331.4zM93.5 335.1zM99.8 338.8zM106.1 342.4zM112.5 346.1zM118.8 349.7zM125.1 353.3zM131.4 357.0zM137.7 360.6zM144.1 364.3zM150.4 367.9zM156.7 371.6zM163.0 375.2zM169.4 378.9zM175.7 382.5zM182.0 386.2zM188.3 389.8zM194.6 393.5zM201.0 397.1zM207.3 400.8zM213.6 404.4zM219.9 408.1zM226.2 411.7zM232.6 415.4zM238.9 419.0zM245.2 422.7zM251.5 426.3zM74.2 324.7zM80.2 328.9zM86.1 333.1zM92.1 337.2zM98.1 341.4zM104.1 345.6zM110.1 349.8zM116.0 354.0zM122.0 358.2zM128.0 362.4zM134.0 366.6zM140.0 370.7zM145.9 374.9zM151.9 379.1zM157.9 383.3zM163.9 387.5zM169.9 391.7zM175.8 395.9zM181.8 400.1zM187.8 404.2zM193.8 408.4zM199.8 412.6zM205.7 416.8zM211.7 421.0zM217.7 425.2zM73.8 325.2zM79.4 329.9zM85.0 334.6zM90.6 339.3zM96.2 344.0zM101.8 348.7zM107.3 353.3zM112.9 358.0zM118.5 362.7zM124.1 367.4zM129.7 372.1zM135.3 376.8zM140.9 381.5zM146.5 386.2zM152.1 390.9zM157.7 395.6zM163.3 400.3zM168.9 405.0zM174.5 409.7zM180.0 414.3zM185.6 419.0zM191.2 423.7zM73.4 325.7zM78.5 330.8zM83.7 336.0zM88.8 341.1zM94.0 346.3zM99.2 351.5zM104.3 356.6zM109.5 361.8zM114.7 367.0zM119.8 372.1zM125.0 377.3zM130.1 382.4zM135.3 387.6zM140.5 392.8zM145.6 397.9zM150.8 403.1zM156.0 408.3zM161.1 413.4zM166.3 418.6zM171.4 423.7zM72.9 326.1zM77.6 331.7zM82.3 337.3zM87.0 342.9zM91.7 348.5zM96.4 354.1zM101.0 359.6zM105.7 365.2zM110.4 370.8zM115.1 376.4zM119.8 382.0zM124.5 387.6zM129.2 393.2zM133.9 398.8zM138.6 404.4zM143.3 410.0zM148.0 415.6zM152.7 421.2zM157.4 426.8zM72.4 326.5zM76.6 332.5zM80.8 338.4zM84.9 344.4zM89.1 350.4zM93.3 356.4zM97.5 362.4zM101.7 368.3zM105.9 374.3zM110.1 380.3zM114.3 386.3zM118.4 392.3zM122.6 398.2zM126.8 404.2zM131.0 410.2zM135.2 416.2zM139.4 422.2zM71.9 326.8zM75.5 333.1zM79.2 339.5zM82.8 345.8zM86.5 352.1zM90.1 358.4zM93.8 364.8zM97.4 371.1zM101.0 377.4zM104.7 383.7zM108.3 390.0zM112.0 396.4zM115.6 402.7zM119.3 409.0zM122.9 415.3zM126.6 421.7zM71.3 327.1zM74.4 333.7zM77.5 340.3zM80.5 347.0zM83.6 353.6zM86.7 360.2zM89.8 366.8zM92.9 373.4zM96.0 380.0zM99.1 386.7zM102.1 393.3zM105.2 399.9zM108.3 406.5zM111.4 413.1zM114.5 419.7zM117.6 426.4zM70.7 327.4zM73.2 334.2zM75.7 341.1zM78.2 347.9zM80.7 354.8zM83.2 361.7zM85.7 368.5zM88.2 375.4zM90.7 382.2zM93.2 389.1zM95.7 396.0zM98.2 402.8zM100.7 409.7zM103.2 416.5zM105.7 423.4zM70.1 327.6zM72.0 334.6zM73.9 341.7zM75.8 348.7zM77.6 355.8zM79.5 362.8zM81.4 369.9zM83.3 376.9zM85.2 384.0zM87.1 391.0zM89.0 398.1zM90.9 405.1zM92.8 412.2zM94.7 419.2zM96.5 426.3zM69.5 327.7zM70.7 334.9zM72.0 342.1zM73.3 349.3zM74.5 356.4zM75.8 363.6zM77.1 370.8zM78.3 378.0zM79.6 385.2zM80.9 392.4zM82.1 399.6zM83.4 406.8zM84.7 414.0zM85.9 421.1zM68.8 327.8zM69.5 335.0zM70.1 342.3zM70.7 349.6zM71.4 356.9zM72.0 364.1zM72.7 371.4zM73.3 378.7zM73.9 385.9zM74.6 393.2zM75.2 400.5zM75.8 407.8zM76.5 415.0zM77.1 422.3zM68.2 327.8zM68.2 335.1zM68.2 342.4zM68.2 349.7zM68.2 357.0zM68.2 364.3zM68.2 371.6zM68.2 378.9zM68.2 386.2zM68.2 393.5zM68.2 400.8zM68.2 408.1zM68.2 415.4zM68.2 422.7zM67.6 327.8zM66.9 335.0zM66.3 342.3zM65.7 349.6zM65.0 356.9zM64.4 364.1zM63.7 371.4zM63.1 378.7zM62.5 385.9zM61.8 393.2zM61.2 400.5zM60.6 407.8zM59.9 415.0zM59.3 422.3zM66.9 327.7zM65.7 334.9zM64.4 342.1zM63.1 349.3zM61.9 356.4zM60.6 363.6zM59.3 370.8zM58.1 378.0zM56.8 385.2zM55.5 392.4zM54.3 399.6zM53.0 406.8zM51.7 414.0zM50.5 421.1zM66.3 327.6zM64.4 334.6zM62.5 341.7zM60.6 348.7zM58.8 355.8zM56.9 362.8zM55.0 369.9zM53.1 376.9zM51.2 384.0zM49.3 391.0zM47.4 398.1zM45.5 405.1zM43.6 412.2zM41.7 419.2zM39.9 426.3zM65.7 327.4zM63.2 334.2zM60.7 341.1zM58.2 347.9zM55.7 354.8zM53.2 361.7zM50.7 368.5zM48.2 375.4zM45.7 382.2zM43.2 389.1zM40.7 396.0zM38.2 402.8zM35.7 409.7zM33.2 416.5zM30.7 423.4zM65.1 327.1zM62.0 333.7zM58.9 340.3zM55.9 347.0zM52.8 353.6zM49.7 360.2zM46.6 366.8zM43.5 373.4zM40.4 380.0zM37.3 386.7zM34.3 393.3zM31.2 399.9zM28.1 406.5zM25.0 413.1zM21.9 419.7zM18.8 426.4zM64.5 326.8zM60.9 333.1zM57.2 339.5zM53.6 345.8zM50.0 352.1zM46.3 358.4zM42.6 364.8zM39.0 371.1zM35.3 377.4zM31.7 383.7zM28.0 390.0zM24.4 396.4zM20.8 402.7zM17.1 409.0zM13.4 415.3zM9.8 421.7zM64.0 326.5zM59.8 332.5zM51.5 344.4zM47.3 350.4zM43.1 356.4zM38.9 362.4zM34.7 368.3zM30.5 374.3zM26.3 380.3zM22.1 386.3zM18.0 392.3zM13.8 398.2zM9.6 404.2zM5.4 410.2zM1.2 416.2zM63.5 326.1zM49.4 342.9zM44.7 348.5zM40.0 354.1zM35.4 359.6zM30.7 365.2zM26.0 370.8zM21.3 376.4zM16.6 382.0zM11.9 387.6zM7.2 393.2zM2.5 398.8zM57.9 330.8zM47.6 341.1zM42.4 346.3zM37.2 351.5zM32.1 356.6zM26.9 361.8zM21.7 367.0zM16.6 372.1zM11.4 377.3zM6.3 382.4zM1.1 387.6zM57.0 329.9zM45.8 339.3zM40.2 344.0zM34.6 348.7zM29.1 353.3zM23.5 358.0zM17.9 362.7zM12.3 367.4zM6.7 372.1zM1.1 376.8zM62.2 324.7zM44.3 337.2zM38.3 341.4zM32.3 345.6zM26.3 349.8zM20.4 354.0zM14.4 358.2zM8.4 362.4zM2.4 366.6zM61.9 324.1zM42.9 335.1zM36.6 338.8zM30.3 342.4zM23.9 346.1zM17.6 349.7zM11.3 353.4zM5.0 357.0zM61.6 323.6zM41.7 332.8zM35.1 335.9zM28.5 339.0zM21.9 342.1zM15.3 345.2zM8.7 348.3zM2.0 351.4zM61.3 323.0zM33.9 333.0zM27.0 335.5zM20.2 338.0zM13.3 340.5zM6.5 343.0zM61.1 322.4zM32.9 329.9zM25.9 331.8zM18.8 333.7zM11.8 335.6zM4.7 337.5zM61.0 321.8zM23.9 294.9zM17.6 291.3zM11.3 287.6zM5.0 284.0zM26.3 291.2zM34.6 292.3zM29.1 287.7zM37.2 289.5zM40.0 286.9zM43.1 284.6zM46.3 282.6zM13.4 225.7zM49.7 280.8zM25.0 227.9zM53.2 279.3zM50.7 272.5zM35.7 231.3zM56.9 278.2zM55.0 271.1zM53.1 264.1zM45.5 235.9zM66.9 313.3zM60.6 277.4zM59.3 270.2zM58.1 263.0zM56.8 255.8zM54.3 241.4zM53.0 234.2zM51.7 227.0zM50.5 219.9zM49.2 212.7zM37.8 148.0zM36.5 140.8zM67.6 313.2zM65.7 291.4zM64.4 276.9zM63.7 269.6zM63.1 262.3zM62.5 255.1zM61.8 247.8zM61.2 240.5zM60.6 233.2zM58.7 211.4zM52.9 146.0z"/><path fill="none" stroke="#ff0000" stroke-width="2.9" stroke-linecap="round" d="M191.6 17.6zM208.0 41.8zM216.5 81.1zM218.4 74.0zM220.3 67.0zM222.2 59.9zM224.1 52.9zM226.0 45.8zM208.7 147.4zM211.1 140.5zM213.6 133.7zM216.1 126.8zM218.6 120.0zM221.1 113.1zM223.6 106.2zM226.1 99.4zM228.6 92.5zM231.1 85.7zM233.6 78.8zM236.1 71.9zM238.6 65.1zM241.1 58.2zM243.6 51.4zM177.4 237.1zM180.5 230.5zM183.5 223.8zM186.6 217.2zM189.7 210.6zM192.8 204.0zM195.9 197.4zM199.0 190.8zM202.1 184.1zM205.1 177.5zM208.2 170.9zM211.3 164.3zM214.4 157.7zM217.5 151.1zM220.6 144.4zM223.6 137.8zM226.7 131.2zM229.8 124.6zM232.9 118.0zM236.0 111.4zM239.1 104.7zM242.2 98.1zM245.2 91.5zM248.3 84.9zM251.4 78.3zM254.5 71.7zM257.6 65.1zM260.7 58.4zM263.8 51.8zM266.8 45.2zM269.9 38.6zM273.0 32.0zM174.8 244.0zM178.5 237.7zM182.1 231.3zM185.8 225.0zM189.4 218.7zM193.1 212.4zM196.8 206.0zM200.4 199.7zM204.0 193.4zM207.7 187.1zM211.3 180.8zM215.0 174.4zM218.6 168.1zM222.3 161.8zM225.9 155.5zM229.6 149.1zM233.2 142.8zM236.9 136.5zM240.5 130.2zM244.2 123.9zM247.8 117.5zM251.5 111.2zM255.1 104.9zM258.8 98.6zM262.4 92.3zM266.1 85.9zM269.8 79.6zM273.4 73.3zM277.0 67.0zM280.7 60.6zM284.3 54.3zM288.0 48.0zM291.6 41.7zM295.3 35.4zM298.9 29.0zM302.6 22.7zM306.2 16.4zM309.9 10.1zM313.5 3.7zM175.4 244.3zM179.6 238.3zM183.8 232.4zM187.9 226.4zM192.1 220.4zM196.3 214.4zM200.5 208.4zM204.7 202.5zM208.9 196.5zM213.1 190.5zM217.3 184.5zM221.4 178.5zM225.6 172.6zM229.8 166.6zM234.0 160.6zM238.2 154.6zM242.4 148.6zM246.6 142.7zM250.8 136.7zM254.9 130.7zM259.1 124.7zM263.3 118.7zM267.5 112.8zM271.7 106.8zM275.9 100.8zM280.1 94.8zM284.3 88.8zM288.4 82.9zM292.6 76.9zM296.8 70.9zM301.0 64.9zM305.2 58.9zM309.4 53.0zM313.6 47.0zM317.7 41.0zM321.9 35.0zM326.1 29.0zM330.3 23.1zM334.5 17.1zM338.7 11.1zM342.9 5.1zM175.9 244.7zM180.6 239.1zM185.3 233.5zM190.0 227.9zM194.7 222.3zM199.4 216.7zM204.0 211.2zM208.7 205.6zM213.4 200.0zM218.1 194.4zM222.8 188.8zM227.5 183.2zM232.2 177.6zM236.9 172.0zM241.6 166.4zM246.3 160.8zM251.0 155.2zM255.7 149.6zM260.4 144.0zM265.0 138.5zM269.7 132.9zM274.4 127.3zM279.1 121.7zM283.8 116.1zM288.5 110.5zM293.2 104.9zM297.9 99.3zM302.6 93.7zM307.3 88.1zM312.0 82.5zM316.7 76.9zM321.4 71.4zM326.0 65.8zM330.7 60.2zM335.4 54.6zM340.1 49.0zM344.8 43.4zM176.4 245.1zM181.5 240.0zM186.7 234.8zM191.8 229.7zM197.0 224.5zM202.2 219.3zM207.3 214.2zM212.5 209.0zM217.7 203.8zM222.8 198.7zM228.0 193.5zM233.1 188.4zM238.3 183.2zM243.5 178.0zM248.6 172.9zM253.8 167.7zM259.0 162.5zM264.1 157.4zM269.3 152.2zM274.4 147.1zM279.6 141.9zM284.8 136.7zM289.9 131.6zM295.1 126.4zM300.2 121.3zM305.4 116.1zM310.6 110.9zM315.7 105.8zM320.9 100.6zM326.1 95.4zM331.2 90.3zM336.4 85.1zM341.5 80.0zM346.7 74.8zM176.8 245.6zM182.4 240.9zM188.0 236.2zM193.6 231.5zM199.2 226.8zM204.8 222.1zM210.3 217.5zM215.9 212.8zM221.5 208.1zM227.1 203.4zM232.7 198.7zM238.3 194.0zM243.9 189.3zM249.5 184.6zM255.1 179.9zM260.7 175.2zM266.3 170.5zM271.9 165.8zM277.5 161.1zM283.0 156.5zM288.6 151.8zM294.2 147.1zM299.8 142.4zM305.4 137.7zM311.0 133.0zM316.6 128.3zM322.2 123.6zM327.8 118.9zM333.4 114.2zM339.0 109.5zM344.6 104.8zM177.2 246.1zM183.2 241.9zM189.1 237.7zM195.1 233.6zM201.1 229.4zM207.1 225.2zM213.1 221.0zM219.0 216.8zM225.0 212.6zM231.0 208.4zM237.0 204.2zM243.0 200.1zM248.9 195.9zM254.9 191.7zM260.9 187.5zM266.9 183.3zM272.9 179.1zM278.8 174.9zM284.8 170.7zM290.8 166.6zM296.8 162.4zM302.8 158.2zM308.7 154.0zM314.7 149.8zM320.7 145.6zM326.7 141.4zM332.7 137.2zM338.6 133.1zM344.6 128.9zM177.5 246.7zM183.8 243.0zM190.2 239.4zM196.5 235.7zM202.8 232.1zM209.1 228.4zM215.5 224.8zM221.8 221.1zM228.1 217.4zM234.4 213.8zM240.7 210.2zM247.1 206.5zM253.4 202.9zM259.7 199.2zM266.0 195.6zM272.4 191.9zM278.7 188.2zM285.0 184.6zM291.3 180.9zM297.6 177.3zM304.0 173.7zM310.3 170.0zM316.6 166.3zM322.9 162.7zM329.2 159.1zM335.6 155.4zM341.9 151.8zM177.8 247.2zM184.4 244.1zM191.0 241.0zM197.7 238.0zM204.3 234.9zM210.9 231.8zM217.5 228.7zM224.1 225.6zM230.7 222.5zM237.4 219.4zM244.0 216.4zM250.6 213.3zM257.2 210.2zM263.8 207.1zM270.4 204.0zM277.1 200.9zM283.7 197.9zM290.3 194.8zM296.9 191.7zM303.5 188.6zM310.1 185.5zM316.8 182.4zM323.4 179.3zM330.0 176.3zM336.6 173.2zM343.2 170.1zM178.1 247.8zM184.9 245.3zM191.8 242.8zM198.6 240.3zM205.5 237.8zM212.4 235.3zM219.2 232.8zM226.1 230.3zM232.9 227.8zM239.8 225.3zM246.7 222.8zM253.5 220.3zM260.4 217.8zM267.2 215.3zM274.1 212.8zM281.0 210.4zM287.8 207.9zM294.7 205.4zM301.5 202.9zM308.4 200.4zM315.3 197.9zM322.1 195.4zM329.0 192.9zM335.8 190.4zM342.7 187.9zM178.3 248.4zM185.3 246.5zM192.4 244.6zM199.4 242.7zM206.5 240.9zM213.5 239.0zM220.6 237.1zM227.6 235.2zM234.7 233.3zM241.7 231.4zM248.8 229.5zM255.8 227.6zM262.9 225.7zM269.9 223.8zM277.0 222.0zM284.0 220.1zM291.1 218.2zM298.1 216.3zM305.2 214.4zM312.2 212.5zM319.3 210.6zM326.3 208.7zM333.4 206.8zM340.4 205.0zM347.5 203.1zM178.4 249.0zM185.6 247.8zM192.8 246.5zM200.0 245.2zM207.1 244.0zM214.3 242.7zM221.5 241.4zM228.7 240.2zM235.9 238.9zM243.1 237.6zM250.3 236.4zM257.5 235.1zM264.7 233.8zM271.8 232.6zM279.0 231.3zM286.2 230.0zM293.4 228.8zM300.6 227.5zM307.8 226.2zM315.0 224.9zM322.2 223.7zM329.4 222.4zM336.5 221.1zM343.7 219.9zM178.5 249.7zM185.7 249.0zM193.0 248.4zM200.3 247.8zM207.6 247.1zM214.8 246.5zM222.1 245.8zM229.4 245.2zM236.6 244.6zM243.9 243.9zM251.2 243.3zM258.5 242.7zM265.7 242.0zM273.0 241.4zM280.3 240.8zM287.6 240.1zM294.8 239.5zM302.1 238.8zM309.4 238.2zM316.6 237.6zM323.9 236.9zM331.2 236.3zM338.5 235.7zM345.7 235.0zM178.5 250.3zM185.8 250.3zM193.1 250.3zM200.4 250.3zM207.7 250.3zM215.0 250.3zM222.3 250.3zM229.6 250.3zM236.9 250.3zM244.2 250.3zM251.5 250.3zM258.8 250.3zM266.1 250.3zM273.4 250.3zM280.7 250.3zM288.0 250.3zM295.3 250.3zM302.6 250.3zM309.9 250.3zM317.2 250.3zM324.5 250.3zM331.8 250.3zM339.1 250.3zM346.4 250.3zM178.5 250.9zM185.7 251.6zM193.0 252.2zM200.3 252.8zM207.6 253.5zM214.8 254.1zM222.1 254.8zM229.4 255.4zM236.6 256.0zM243.9 256.7zM251.2 257.3zM258.5 257.9zM265.7 258.6zM273.0 259.2zM280.3 259.8zM287.6 260.5zM294.8 261.1zM302.1 261.8zM309.4 262.4zM316.6 263.0zM323.9 263.7zM331.2 264.3zM338.5 264.9zM345.7 265.6zM178.4 251.6zM185.6 252.8zM192.8 254.1zM200.0 255.4zM207.1 256.6zM214.3 257.9zM221.5 259.2zM228.7 260.4zM235.9 261.7zM243.1 263.0zM250.3 264.2zM257.5 265.5zM264.7 266.8zM271.8 268.0zM279.0 269.3zM286.2 270.6zM293.4 271.8zM300.6 273.1zM307.8 274.4zM315.0 275.7zM322.2 276.9zM329.4 278.2zM336.5 279.5zM343.7 280.7zM178.3 252.2zM185.3 254.1zM192.4 256.0zM199.4 257.9zM206.5 259.7zM213.5 261.6zM220.6 263.5zM227.6 265.4zM234.7 267.3zM241.7 269.2zM248.8 271.1zM255.8 273.0zM262.9 274.9zM269.9 276.8zM277.0 278.6zM284.0 280.5zM291.1 282.4zM298.1 284.3zM305.2 286.2zM312.2 288.1zM319.3 290.0zM326.3 291.9zM333.4 293.8zM340.4 295.6zM347.5 297.5zM178.1 252.8zM184.9 255.3zM191.8 257.8zM198.6 260.3zM205.5 262.8zM212.4 265.3zM219.2 267.8zM226.1 270.3zM232.9 272.8zM239.8 275.3zM246.7 277.8zM253.5 280.3zM260.4 282.8zM267.2 285.3zM274.1 287.8zM281.0 290.2zM287.8 292.7zM294.7 295.2zM301.5 297.7zM308.4 300.2zM315.3 302.7zM322.1 305.2zM329.0 307.7zM335.8 310.2zM342.7 312.7zM177.8 253.4zM184.4 256.5zM191.0 259.6zM197.7 262.6zM204.3 265.7zM210.9 268.8zM217.5 271.9zM224.1 275.0zM230.7 278.1zM237.4 281.2zM244.0 284.2zM250.6 287.3zM257.2 290.4zM263.8 293.5zM270.4 296.6zM277.1 299.7zM283.7 302.7zM290.3 305.8zM296.9 308.9zM303.5 312.0zM310.1 315.1zM316.8 318.2zM323.4 321.3zM330.0 324.3zM336.6 327.4zM343.2 330.5zM177.5 254.0zM183.8 257.6zM190.2 261.2zM196.5 264.9zM202.8 268.6zM209.1 272.2zM215.5 275.9zM221.8 279.5zM228.1 283.1zM234.4 286.8zM240.7 290.4zM247.1 294.1zM253.4 297.8zM259.7 301.4zM266.0 305.1zM272.4 308.7zM278.7 312.3zM285.0 316.0zM291.3 319.6zM297.6 323.3zM304.0 326.9zM310.3 330.6zM316.6 334.2zM322.9 337.9zM329.2 341.5zM335.6 345.2zM341.9 348.8zM177.2 254.5zM183.2 258.7zM189.1 262.9zM195.1 267.0zM201.1 271.2zM207.1 275.4zM213.1 279.6zM219.0 283.8zM225.0 288.0zM231.0 292.2zM237.0 296.4zM243.0 300.5zM248.9 304.7zM254.9 308.9zM260.9 313.1zM266.9 317.3zM272.9 321.5zM278.8 325.7zM284.8 329.9zM290.8 334.0zM296.8 338.2zM302.8 342.4zM308.7 346.6zM314.7 350.8zM320.7 355.0zM326.7 359.2zM332.7 363.4zM338.6 367.5zM344.6 371.7zM176.8 255.0zM182.4 259.7zM188.0 264.4zM193.6 269.1zM199.2 273.8zM204.8 278.5zM210.3 283.1zM215.9 287.8zM221.5 292.5zM227.1 297.2zM232.7 301.9zM238.3 306.6zM243.9 311.3zM249.5 316.0zM255.1 320.7zM260.7 325.4zM266.3 330.1zM271.9 334.8zM277.5 339.5zM283.0 344.1zM288.6 348.8zM294.2 353.5zM299.8 358.2zM305.4 362.9zM311.0 367.6zM316.6 372.3zM322.2 377.0zM327.8 381.7zM333.4 386.4zM339.0 391.1zM344.6 395.8zM176.4 255.5zM181.5 260.6zM186.7 265.8zM191.8 270.9zM197.0 276.1zM202.2 281.3zM207.3 286.4zM212.5 291.6zM217.7 296.8zM222.8 301.9zM228.0 307.1zM233.1 312.2zM238.3 317.4zM243.5 322.6zM248.6 327.7zM253.8 332.9zM259.0 338.1zM264.1 343.2zM269.3 348.4zM274.4 353.5zM279.6 358.7zM284.8 363.9zM289.9 369.0zM295.1 374.2zM300.2 379.3zM305.4 384.5zM310.6 389.7zM315.7 394.8zM320.9 400.0zM326.1 405.2zM331.2 410.3zM336.4 415.5zM341.5 420.6zM346.7 425.8zM175.9 255.9zM180.6 261.5zM185.3 267.1zM190.0 272.7zM194.7 278.3zM199.4 283.9zM204.0 289.4zM208.7 295.0zM213.4 300.6zM218.1 306.2zM222.8 311.8zM227.5 317.4zM232.2 323.0zM236.9 328.6zM241.6 334.2zM246.3 339.8zM251.0 345.4zM255.7 351.0zM260.4 356.6zM265.0 362.1zM269.7 367.7zM274.4 373.3zM279.1 378.9zM283.8 384.5zM288.5 390.1zM293.2 395.7zM297.9 401.3zM302.6 406.9zM307.3 412.5zM312.0 418.1zM316.7 423.7zM175.4 256.3zM179.6 262.3zM183.8 268.2zM187.9 274.2zM192.1 280.2zM196.3 286.2zM200.5 292.2zM204.7 298.1zM208.9 304.1zM213.1 310.1zM217.3 316.1zM221.4 322.1zM225.6 328.0zM229.8 334.0zM234.0 340.0zM238.2 346.0zM242.4 352.0zM246.6 357.9zM250.8 363.9zM254.9 369.9zM259.1 375.9zM263.3 381.9zM267.5 387.8zM271.7 393.8zM275.9 399.8zM280.1 405.8zM284.3 411.8zM288.4 417.7zM292.6 423.7zM174.8 256.6zM178.5 262.9zM182.1 269.3zM185.8 275.6zM189.4 281.9zM193.1 288.2zM196.8 294.6zM200.4 300.9zM204.0 307.2zM207.7 313.5zM211.3 319.8zM215.0 326.2zM218.6 332.5zM222.3 338.8zM225.9 345.1zM229.6 351.5zM233.2 357.8zM236.9 364.1zM240.5 370.4zM244.2 376.7zM247.8 383.1zM251.5 389.4zM255.1 395.7zM258.8 402.0zM262.4 408.3zM266.1 414.7zM269.8 421.0zM273.4 427.3zM174.3 256.9zM177.4 263.5zM180.5 270.1zM183.5 276.8zM186.6 283.4zM189.7 290.0zM192.8 296.6zM195.9 303.2zM199.0 309.8zM202.1 316.5zM205.1 323.1zM208.2 329.7zM211.3 336.3zM214.4 342.9zM217.5 349.5zM220.6 356.2zM223.6 362.8zM226.7 369.4zM229.8 376.0zM232.9 382.6zM236.0 389.2zM239.1 395.9zM242.2 402.5zM245.2 409.1zM248.3 415.7zM251.4 422.3zM173.7 257.2zM176.2 264.0zM178.7 270.9zM181.2 277.7zM183.7 284.6zM186.2 291.5zM188.7 298.3zM191.2 305.2zM193.7 312.0zM196.2 318.9zM198.7 325.8zM201.2 332.6zM203.7 339.5zM206.2 346.3zM208.7 353.2zM211.1 360.1zM213.6 366.9zM216.1 373.8zM218.6 380.6zM221.1 387.5zM223.6 394.4zM226.1 401.2zM228.6 408.1zM231.1 414.9zM233.6 421.8zM173.1 257.4zM175.0 264.4zM176.9 271.5zM178.8 278.5zM180.6 285.6zM182.5 292.6zM184.4 299.7zM186.3 306.7zM188.2 313.8zM190.1 320.8zM192.0 327.9zM193.9 334.9zM195.8 342.0zM197.7 349.0zM199.5 356.1zM201.4 363.1zM203.3 370.2zM205.2 377.2zM207.1 384.3zM209.0 391.3zM210.9 398.4zM212.8 405.4zM214.7 412.5zM216.5 419.5zM218.4 426.6zM172.5 257.5zM173.7 264.7zM175.0 271.9zM176.3 279.1zM177.5 286.2zM178.8 293.4zM180.1 300.6zM181.3 307.8zM182.6 315.0zM183.9 322.2zM185.1 329.4zM186.4 336.6zM187.7 343.8zM188.9 350.9zM190.2 358.1zM191.5 365.3zM192.7 372.5zM194.0 379.7zM195.3 386.9zM196.6 394.1zM197.8 401.3zM199.1 408.5zM200.4 415.6zM201.6 422.8zM171.8 257.6zM172.5 264.8zM173.1 272.1zM173.7 279.4zM174.4 286.7zM175.0 293.9zM175.7 301.2zM176.3 308.5zM176.9 315.7zM177.6 323.0zM178.2 330.3zM178.8 337.6zM179.5 344.8zM180.1 352.1zM180.7 359.4zM181.4 366.7zM182.0 373.9zM182.7 381.2zM183.3 388.5zM183.9 395.7zM184.6 403.0zM185.2 410.3zM185.8 417.6zM186.5 424.8zM171.2 257.6zM171.2 264.9zM171.2 272.2zM171.2 279.5zM171.2 286.8zM171.2 294.1zM171.2 301.4zM171.2 308.7zM171.2 316.0zM171.2 323.3zM171.2 330.6zM171.2 337.9zM171.2 345.2zM171.2 352.5zM171.2 359.8zM171.2 367.1zM171.2 374.4zM171.2 381.7zM171.2 389.0zM171.2 396.3zM171.2 403.6zM171.2 410.9zM171.2 418.2zM171.2 425.5zM170.6 257.6zM169.9 264.8zM169.3 272.1zM168.7 279.4zM168.0 286.7zM167.4 293.9zM166.7 301.2zM166.1 308.5zM165.5 315.7zM164.8 323.0zM164.2 330.3zM163.6 337.6zM162.9 344.8zM162.3 352.1zM161.7 359.4zM161.0 366.7zM160.4 373.9zM159.7 381.2zM159.1 388.5zM158.5 395.7zM157.8 403.0zM157.2 410.3zM156.6 417.6zM155.9 424.8zM153.5 350.9zM152.2 358.1zM150.9 365.3zM149.7 372.5zM148.4 379.7zM147.1 386.9zM145.8 394.1zM144.6 401.3zM143.3 408.5zM142.0 415.6zM140.8 422.8zM144.7 349.0zM142.9 356.1zM141.0 363.1zM139.1 370.2zM137.2 377.2zM135.3 384.3zM133.4 391.3zM131.5 398.4zM129.6 405.4zM127.7 412.5zM125.9 419.5zM124.0 426.6z"/><g stroke="#000" stroke-width="1.1" stroke-linejoin="round"><path fill="#80e680" d="M0.0 0.0L55.0 0.0L58.3 5.0L59.4 10.6L57.6 15.3L62.0 14.2L68.8 15.2L71.7 11.6L73.5 10.5L75.2 16.4L77.5 17.0L76.0 10.0L77.5 5.5L81.9 4.8L89.2 8.4L96.5 10.6L103.7 12.0L109.6 10.6L114.7 9.9L117.2 12.0L117.9 19.3L120.0 30.0L122.6 41.1L126.5 50.2L128.5 55.7L131.4 68.0L135.0 85.3L138.9 96.9L142.7 110.1L147.4 123.3L154.0 136.4L159.6 148.7L165.3 160.9L170.0 172.2L173.8 181.6L176.6 191.0L177.9 198.0L178.0 204.4L176.8 213.9L175.4 223.3L173.6 232.7L172.2 240.2L171.6 247.7L171.2 251.2L165.3 252.8L159.6 253.8L152.1 256.6L144.6 260.4L137.1 263.2L129.5 266.5L122.0 270.3L117.3 273.5L112.6 277.3L106.9 282.0L99.4 287.7L94.1 293.5L84.7 302.0L75.3 311.4L69.6 318.0L64.0 324.6L60.2 330.2L56.5 336.8L54.1 345.3L52.2 341.5L48.9 335.9L45.2 333.0L37.6 330.2L28.2 328.8L18.8 329.3L9.4 331.1L0.0 334.0Z"/><path fill="#fff" d="M32.5 128.7L34.8 130.1L35.3 134.8L37.6 138.6L41.4 139.0L44.2 137.6L46.1 140.0L48.9 142.8L54.6 143.3L60.2 141.4L64.0 137.6L68.7 134.8L74.4 132.4L79.1 131.5L80.0 129.6L75.3 127.7L72.5 125.9L68.7 121.6L64.9 117.4L65.9 116.9L70.6 121.6L74.4 124.9L78.1 126.3L81.9 128.7L86.6 130.1L91.3 130.1L93.6 128.7L90.4 125.4L87.5 120.7L85.2 117.4L86.1 116.9L89.4 120.2L93.2 124.9L96.0 125.4L101.6 124.9L106.4 124.4L108.7 122.6L107.3 116.9L104.5 112.2L104.1 112.9L98.5 107.3L92.8 104.4L93.8 101.6L94.7 100.7L99.4 103.5L103.2 106.3L106.9 111.0L112.6 115.7L118.2 118.6L125.8 120.9L126.7 119.5L124.8 117.6L122.9 113.9L125.8 109.1L129.5 106.3L132.4 103.5L134.2 106.3L131.4 111.0L130.5 115.7L131.4 123.3L135.2 128.9L139.9 134.1L138.9 128.0L137.1 121.4L135.2 115.7L137.1 111.0L134.5 108.0L131.0 102.0L127.0 94.0L123.0 86.0L118.0 78.0L114.5 70.0L116.0 60.0L117.5 50.0L117.5 42.0L119.0 38.0L120.6 41.0L124.3 50.2L126.3 55.7L129.2 68.0L132.8 85.3L136.7 96.9L140.5 110.1L145.3 123.3L152.0 136.4L157.6 148.7L163.3 160.9L168.1 172.2L172.0 181.6L174.9 191.0L176.2 198.0L176.3 204.4L175.1 213.9L173.7 223.3L171.9 232.7L170.6 240.2L169.6 246.5L165.5 251.0L160.0 252.2L152.0 255.2L145.0 258.8L137.0 261.8L130.0 264.8L122.0 268.8L113.0 275.3L104.0 282.8L95.0 290.8L86.0 299.0L77.0 308.0L71.0 314.5L66.0 320.0L61.5 326.0L58.0 331.0L56.0 333.0L57.0 329.0L59.5 324.0L62.5 319.0L65.9 314.8L67.8 312.0L69.6 309.1L71.5 306.3L74.4 303.5L77.2 300.7L79.1 297.9L81.9 295.0L83.8 292.2L80.9 288.4L78.1 284.7L74.4 282.8L71.5 289.4L69.6 292.2L65.9 295.0L63.1 292.2L64.9 287.5L65.9 282.8L64.9 278.1L62.1 276.2L60.2 278.1L58.4 281.9L56.5 285.6L52.7 286.6L47.1 289.4L42.4 288.4L39.5 290.3L35.8 292.2L32.0 294.1L28.2 297.4L24.5 296.0L18.8 294.1L13.2 291.3L7.5 287.5L2.8 283.7L0.0 281.9L0.0 279.0L1.9 278.1L4.7 280.0L8.5 282.8L12.2 285.6L16.9 288.4L20.7 290.3L23.5 291.3L27.3 288.4L31.1 285.6L35.8 282.8L39.5 280.0L43.3 277.1L47.1 274.3L50.8 271.5L53.6 265.9L49.9 262.1L52.7 258.3L56.5 255.5L59.3 252.7L62.1 248.9L61.2 245.1L56.5 242.3L50.8 240.4L44.2 238.6L37.6 235.7L31.1 232.9L24.5 230.1L18.8 227.7L11.3 225.4L5.6 223.5L2.8 221.6L0.0 220.2L0.0 217.9L1.9 216.9L5.6 218.8L12.2 221.6L18.8 224.4L26.4 227.3L32.0 226.3L39.5 228.2L45.2 230.1L49.4 231.5L48.9 228.2L47.1 222.6L45.2 216.9L44.2 213.1L47.1 210.8L56.5 210.8L60.2 211.7L56.5 213.1L48.9 213.1L47.1 215.0L49.9 216.9L51.8 221.6L54.6 227.3L58.4 231.0L62.1 232.9L65.9 230.1L67.8 226.3L69.6 230.1L67.8 234.8L70.6 236.7L75.3 238.6L80.9 235.7L86.6 234.8L92.2 236.7L97.9 239.5L103.5 235.7L109.2 232.9L112.9 226.3L116.7 218.8L121.1 212.9L125.8 211.0L127.6 206.3L129.5 201.6L132.4 204.4L137.1 205.4L142.7 203.5L145.5 200.4L147.4 197.6L145.5 193.9L144.6 189.1L147.4 190.1L148.8 186.3L147.4 181.6L147.9 176.0L146.5 167.5L143.6 159.0L140.8 152.4L137.1 148.7L131.4 146.8L125.8 147.7L122.0 149.6L123.9 152.4L121.1 155.3L117.3 159.0L118.6 159.3L117.2 164.0L116.7 169.6L116.2 177.1L115.3 184.7L113.9 191.3L112.0 193.6L107.3 190.8L110.1 188.4L111.5 182.8L110.6 175.3L109.6 167.7L111.1 162.1L114.4 156.4L114.8 150.8L112.9 147.0L109.2 145.1L103.5 144.7L96.9 144.7L90.4 145.6L84.7 147.5L80.9 149.4L79.1 151.7L76.2 152.7L72.9 151.3L71.5 147.0L67.8 146.6L62.1 148.0L56.5 149.4L50.8 150.8L44.2 151.7L37.6 152.2L32.0 151.3L32.9 148.9L36.2 145.1L36.2 142.3L33.4 137.6L32.0 132.9L32.5 128.7ZM0.0 326.5L10.0 326.0L20.0 325.5L28.0 326.5L36.0 329.0L44.0 331.5L36.0 330.2L28.0 328.5L20.0 328.0L10.0 329.0L0.0 331.0Z"/><path fill="#80e680" d="M147.4 153.4L152.1 152.4L155.9 157.1L158.7 161.9L161.5 167.5L165.3 172.2L168.1 175.0L164.4 176.4L159.6 173.1L155.9 169.4L154.0 165.6L153.1 160.9L150.2 157.1ZM63.7 0.4L71.0 0.4L67.3 4.4ZM118.0 63.0L124.0 62.0L129.5 66.0L130.0 71.5L124.0 72.5L118.5 70.0ZM124.0 82.0L128.5 84.0L131.5 90.0L128.0 91.0L124.5 87.0ZM131.0 98.0L134.0 100.0L137.0 108.0L134.0 107.0ZM127.6 152.5L131.0 151.3L134.2 152.8L131.0 154.3Z"/></g><path transform="scale(.5)" fill="none" stroke="#000" stroke-width="4.2" stroke-linecap="round" d="M0 0m22 426zm-6 3zm-4 0zm1 0zm-5 3zm-5 0zm6 1zm-2 0zm-1 1zm11 0zm5 0zm-16 1zm11 0zm-8 1zm10 1zm-8 0zm2 0zm5 1zm4 1zm-8 2zm-12 2zm1 0zm4 1zm-3 1zm1 1zm7 1zm-9 0zm8 1zm-2 0zm-1 0zm8 1zm2 1zm-14 0zm19 1zm-15 0zm7 1zm1 2zm-1 0zm3 1zm-1 0zm2 1zm-3 2zm-8 1zm7 2zm6 2zm-3 2zm0 5zm0 80zm-15 3zm13 1zm-5 0zm11 1zm-10 1zm2 1zm2 1zm7 0zm-1 1zm-11 0zm-1 0zm-7 3zm15 2zm1 1zm1 0zm-17 2zm17 0zm-18 2zm20 0zm1 0zm-17 3zm3 2zm3 0zm2 0zm-6 1zm-2 0zm7 2zm9 1zm-6 1zm3 1zm-2 0zm6 0zm-5 1zm4 0zm-1 0zm-5 1zm-10 1zm15 1zm-1 1zm-10 1zm10 2zm2 1zm-5 2zm-2 4zm5 2zm-6 4zm-7 60zm-4 4zm26-37zm-1-9zm18-15zm-1-3zm-16-1zm10 0zm-12-3zm-2-1zm11-2zm11 0zm-23-1zm3 0zm5 0zm7-1zm5 0zm-3 0zm-2-1zm6 0zm-3 0zm-13 0zm4-1zm3 0zm-2-2zm-7 0zm-1-2zm0-1zm2 0zm-4-3zm20-3zm1 0zm-2-1zm0-1zm-8-1zm8-2zm-4 0zm-6 0zm4-1zm-6-1zm-3-1zm14 0zm-10-1zm12-1zm-19 0zm6 0zm-5 0zm-2 0zm6-1zm13 0zm-13-1zm-1 0zm16-2zm-20 0zm15 0zm-13 0zm12 0zm2-4zm4-6zm-7-3zm5-4zm-17-6zm0-1zm12-3zm-8-48zm8-8zm6-9zm-9-3zm12 0zm-18-1zm16-1zm-2 0zm-6 0zm10-1zm-12 0zm11-3zm-9 0zm-11-1zm16-1zm1-2zm-15 0zm18 0zm-4-1zm-4 0zm6-1zm-2 0zm-5 0zm3 0zm1 0zm-13-1zm-2 0zm4-2zm-5-1zm1 0zm2-1zm-4 0zm20-2zm1 0zm-14-2zm11 0zm-1 0zm-5-1zm8 0zm-19 0zm12-1zm-2-1zm-3-1zm0-1zm10 0zm-15 0zm12 0zm-8-1zm12-1zm-2 0zm-8 0zm2-2zm-9-1zm11 0zm1 0zm-3-1zm-4-1zm0-1zm0-1zm-7-6zm10-5zm-8-7zm19-134zm0-2zm1-26zm-3 0zm1-6zm20-21zm-1 20zm1 3zm1 0zm5 1zm-13 3zm10 0zm-10 1zm4 1zm1 0zm9 0zm-4 0zm-6 1zm7 1zm-20 0zm7 0zm13 1zm-8 1zm-3 0zm1 4zm4 0zm1 1zm5 1zm-5 0zm-9 1zm6 1zm3 1zm-1 1zm-1 0zm-5 0zm8 1zm2 1zm-3 1zm3 0zm-1 1zm-5 1zm-5 0zm8 0zm-4 1zm-3 0zm0 2zm7 0zm-2 2zm9 0zm-1 0zm-5 1zm7 0zm-19 3zm9 1zm9 2zm1 3zm-5 3zm-4 1zm4 1zm-3 1zm0 1zm1 1zm-4 0zm0 1zm-5 0zm-2 0zm7 1zm-11 1zm15 0zm7 4zm-12 0zm1 7zm7 3zm3 88zm1 13zm-3 0zm-5 9zm-2 0zm0 5zm5 2zm-1 3zm-3 1zm-4 1zm-8 0zm2 4zm10 0zm8 1zm-13 1zm-8 1zm14 1zm2 0zm5 1zm-18 1zm9 1zm-7 1zm15 0zm-11 1zm-4 0zm9 0zm8 1zm-18 0zm-5 0zm14 1zm-8 0zm1 1zm14 0zm-20 8zm1 1zm6 1zm-6 0zm4 1zm3 0zm2 1zm12 0zm-7 1zm-13 0zm5 0zm2 1zm8 1zm-8 0zm13 1zm-8 1zm6 0zm-1 1zm0 2zm-13 0zm-1 3zm-4 1zm9 3zm-3 8zm10 6zm-2 44zm-3 4zm7 11zm0 1zm3 1zm-1 1zm-4 2zm3 3zm-6 1zm6 0zm2 1zm-6 1zm-11 0zm14 0zm-8 2zm5 1zm-5 0zm-2 1zm-7 0zm10 2zm-2 0zm-5 2zm3 1zm-8 0zm5 2zm-2 2zm-4 1zm18 2zm-2 8zm6 0zm-6 2zm2 1zm-4 1zm-13 1zm13 0zm-8 1zm-3 0zm16 1zm-8 0zm-7 1zm3 0zm2 1zm5 1zm3 0zm-1 2zm-12 4zm1 0zm6 0zm2 17zm-4 18zm5 10zm4 5zm-14 3zm29-1zm5-3zm7-12zm-19-43zm7-1zm0-2zm14-1zm-23-2zm0-2zm3 0zm14-2zm4 0zm-8-1zm10-1zm-20-1zm7 0zm-10 0zm7 0zm2-1zm-5 0zm-3-1zm1 0zm3 0zm3 0zm-5-1zm20 0zm-13-1zm8 0zm-9-1zm-2 0zm6-2zm-2-1zm3 0zm-12-6zm-2-7zm1-5zm2 0zm0-1zm4-2zm-4-2zm12-2zm-1-1zm-2-1zm3-1zm1-3zm4-1zm-1-1zm-13-5zm12-1zm-2-11zm-10-4zm17-1zm-2-4zm2-4zm0-8zm-11-1zm9-11zm-5-1zm-8-1zm0-5zm-2 0zm4-3zm7-1zm5-2zm1 0zm-8 0zm-2-1zm-1 0zm7-2zm-2 0zm-8-1zm9 0zm-7-1zm-9-1zm1-1zm1-2zm0-1zm14-5zm0-7zm-3-2zm-9-1zm17-1zm-8 0zm-3 0zm-8-1zm9 0zm8-1zm-19 0zm8 0zm-10 0zm8 0zm-5-1zm18 0zm-16 0zm10-1zm3 0zm1 0zm-9 0zm-7 0zm11-1zm9 0zm-6 0zm-15-1zm8-1zm2 0zm3 0zm4 0zm3-1zm-19 0zm10-1zm2 0zm1 0zm3 0zm-1-1zm-1-1zm-2 0zm2-1zm4 0zm-14-3zm8 0zm-1 0zm1-1zm4-2zm-6 0zm5 0zm-2-1zm-9-2zm9-1zm-13-1zm14 0zm-3 0zm1-2zm-5-1zm-1-1zm1-1zm-10-2zm14 0zm-3-1zm4 0zm-2 0zm5-2zm-2 0zm3-1zm3-1zm-13 0zm14 0zm-7 0zm-3 0zm4-1zm-3 0zm8 0zm-7-2zm7 0zm-10-1zm3-1zm0-12zm7-5zm-10-80zm3-3zm-14-1zm3-3zm5-2zm-6 0zm12-1zm6 0zm-9-1zm-5 0zm8-1zm-14-1zm12 0zm10-1zm-16 0zm1-1zm15-1zm-3-1zm-7-6zm-13-5zm7-13zm11-1zm-1-1zm-13 0zm0-1zm2-1zm-2 0zm-2-1zm18 0zm2-2zm1 0zm-18 0zm-3-5zm2-2zm-4 0zm7-1zm-4-1zm1 0zm6-2zm7 0zm-15 0zm9-2zm-10-1zm15-1zm-4-3zm28-250zm-1 3zm-5 0zm2 1zm7 1zm-4 0zm3 0zm-8 3zm7 1zm-1 2zm3 2zm1 1zm-8 0zm8 1zm-1 1zm3 0zm-6 0zm3 1zm-1 0zm1 1zm-2 0zm-5 2zm1 1zm7 0zm-4 1zm-9 1zm5 1zm-1 0zm1 1zm0 2zm8 177zm-7 7zm8 4zm-9 8zm10 25zm-12 18zm-6 0zm17 1zm-12 0zm-4 4zm14 0zm-13 0zm-4 2zm0 1zm12 0zm-3 1zm0 2zm-5 0zm15 0zm-12 2zm-3 0zm9 0zm2 1zm-3 1zm-2 0zm-10 0zm14 0zm-8 1zm-7 0zm1 0zm7 1zm-2 0zm-3 8zm17 4zm-13 1zm4 1zm-2 0zm7 0zm1 1zm-7 1zm-5 1zm-6 0zm10 0zm10 1zm-5 0zm-4 0zm-7 1zm3 1zm-5 0zm2 0zm10 3zm8 0zm-20 1zm5 4zm-7 0zm5 0zm15 85zm-11 7zm5 2zm1 0zm-15 0zm0 3zm10 0zm1 0zm-1 2zm-4 1zm-5 1zm8 2zm6 0zm-2 0zm10 1zm-16 0zm0 1zm8 0zm-5 1zm4 0zm8 0zm-5 0zm-1 0zm-6 1zm7 0zm6 0zm-16 0zm5 1zm2 0zm-11 2zm20 0zm-1 2zm-19 0zm7 0zm-5 1zm-2 0zm3 1zm11 0zm-5 0zm-10 0zm2 1zm8 0zm-3 1zm3 0zm-10 0zm-2 0zm13 1zm-13 0zm8 0zm-5 0zm17 0zm-16 0zm-2 1zm13 0zm0 1zm-3 1zm-7 0zm2 0zm13 1zm3 0zm-6 0zm-7 1zm-2 2zm14 0zm-11 2zm1 0zm1 1zm-4 1zm3 0zm1 1zm-4 4zm6 1zm-4 1zm6 1zm-3 2zm5 0zm2 0zm-8 0zm-3 1zm10 0zm1 0zm-6 0zm-15 0zm18 1zm3 0zm0 1zm-1 0zm-4 1zm1 0zm-16 2zm3 14zm2 8zm-1 1zm3 4zm-6 0zm9 1zm-5 1zm15 0zm-10 1zm-8 2zm0 1zm14 0zm-1 0zm6 1zm0 1zm-8 3zm-4 1zm10 1zm1 0zm-15 1zm7 1zm-13 1zm23 0zm0 1zm-5 0zm-16 0zm21 1zm-9 1zm3 1zm-6 1zm11 0zm-16 0zm-4 1zm9 0zm8 0zm-1 0zm-18 1zm22 1zm-2 0zm-6 1zm-9 2zm5 0zm4 1zm-2 1zm-9 1zm-3 5zm5 2zm10 3zm-7 0zm-5 2zm-2 0zm1 0zm1 3zm-3 1zm10 0zm-4 0zm-1 0zm5 1zm1 0zm-8 0zm3 1zm2 1zm-7 2zm0 1zm6 1zm-1 0zm-3 2zm-3 1zm2 3zm1 0zm6 4zm7 7zm7 8zm-1 1zm0 6zm-1 3zm-6 0zm-5 1zm1 0zm10 0zm-3 1zm-7 0zm-4 0zm4 1zm5 0zm1 0zm-9 1zm15 2zm-9 0zm-5 0zm-2 2zm14 0zm-19 0zm-2 0zm23 1zm-19 1zm16 3zm1 2zm-10 16zm-9 1zm18 8zm1 12zm-2 3zm1 0zm3 3zm-5 1zm-1 3zm3 1zm-4 3zm3 1zm1 0zm-15 1zm7 2zm0 1zm10 0zm-11 1zm12 0zm-8 2zm-9 1zm13 1zm-6 1zm5 3zm-8 0zm8 2zm-2 0zm1 0zm2 1zm-4 0zm1 0zm2 1zm-11 1zm5 0zm3 0zm-3 1zm2 0zm-1 1zm9 1zm-5 0zm-6 1zm-10 0zm15 0zm-3 2zm9 0zm-16 0zm9 0zm6 2zm-4 1zm-10 0zm11 0zm-8 0zm-6 1zm6 0zm-6 3zm11 4zm0 2zm-8 3zm15 3zm-11 2zm16-22zm-3-5zm3-5zm1-1zm2-1zm0-1zm-3-1zm2 0zm-3-2zm6 0zm2-4zm-10-1zm3-1zm-2 0zm1 0zm1-1zm11 0zm-1-1zm3 0zm-12-2zm0-2zm15-2zm-19 0zm8-1zm12 0zm3-1zm-11-3zm-2 0zm5-2zm-11-1zm0-1zm14 0zm-6-1zm3 0zm-1 0zm-8-1zm-2 0zm11 0zm-4-2zm11-1zm-4 0zm-11 0zm9-1zm-4-1zm-2-1zm10-1zm-6-1zm5 0zm-15 0zm6-1zm9-1zm-4 0zm0-3zm0-1zm0-1zm-8-1zm5-4zm-3 0zm8-1zm5-1zm-3-1zm4 0zm0-1zm-9-1zm6 0zm-16 0zm18-1zm-14 0zm15-1zm-11 0zm4-1zm-7-1zm-3 0zm-1-1zm17-2zm-13-1zm10 0zm-2 0zm-13 0zm5-1zm6 0zm2-1zm3 0zm-20-1zm1 0zm21-1zm-3 0zm-17 0zm2-2zm-1 0zm17 0zm-17-1zm17-1zm-14-2zm-4-2zm0-1zm-2-1zm10 0zm-7-1zm5 0zm1-1zm-1 0zm-7-1zm4 0zm3-2zm0-1zm2-1zm-2 0zm3-1zm-5-1zm6 0zm3 0zm-14-1zm11 0zm0-1zm-4-1zm3 0zm-1 0zm-2-1zm2 0zm-3-1zm0-2zm1 0zm-5-1zm0-1zm2 0zm-1 0zm5-1zm0-2zm-5 0zm-3-12zm3-14zm-3-28zm2-1zm-3-3zm3-1zm1 0zm-2-4zm-1-1zm21-17zm0-1zm-2-3zm-1-1zm2 0zm1-3zm-1-1zm-18-1zm3 0zm17 0zm-18 0zm0-1zm17 0zm-14-1zm-7-1zm6 0zm-4 0zm1-1zm6-1zm-5 0zm6 0zm8 0zm-10-1zm-8 0zm4-1zm8-1zm3 0zm-9-1zm1 0zm14 0zm-6 0zm3-1zm-1 0zm-3 0zm7 0zm-6-2zm-3-2zm-2 0zm-2-1zm5-1zm-4-2zm-2 0zm7-2zm3-1zm-10-1zm-8-1zm2-1zm-2-1zm1-1zm1-3zm3-3zm12 0zm-17-4zm2 0zm2 0zm5-2zm-8-1zm1 0zm3-2zm15-1zm-15-1zm-1-1zm-4-1zm11-5zm-3-4zm1 0zm11-77zm-4-6zm1-1zm5-1zm-8-4zm-14-2zm19-3zm2-2zm-12-2zm14-2zm-20-3zm2-2zm15 0zm-1-1zm-3-1zm4-1zm-11 0zm-8 0zm11 0zm2-1zm5-1zm1 0zm-20 0zm12 0zm5-1zm-14-1zm7 0zm1 0zm8-1zm-3-1zm0-3zm-15-9zm2-5zm-3-2zm7 0zm-6-3zm8-1zm6-1zm5-1zm-11-1zm5 0zm-4-1zm10 0zm-7-1zm4-3zm4-1zm-4-2zm-10-4zm-2 0zm17 0zm0-2zm1 0zm-7 0zm7-1zm-6-2zm3-1zm1 0zm-21-2zm12-1zm2 0zm2-2zm-12 0zm1-1zm16 0zm-4-2zm4 0zm1 0zm-7-1zm-3 0zm-11-1zm22 0zm-11 0zm-4-1zm12-1zm-19 0zm9-1zm-8 0zm9 0zm12 0zm-19 0zm6-1zm10 0zm-4 0zm-11-1zm6-2zm-2 0zm9 0zm-9-1zm1 0zm3 0zm-3-2zm-5 0zm8-1zm-5-1zm6-1zm-8-1zm0-3zm4-2zm2-2zm9-1zm2-1zm0-188zm-14 0zm-9 0zm13-1zm8 0zm2-2zm-3-1zm-15-2zm-4-4zm-1-12zm43 2zm1 1zm2 1zm-4 1zm4 0zm1 0zm-9 2zm3 0zm5 0zm0 1zm-8 0zm4 0zm4 1zm1 0zm-2 1zm-3 0zm-6 0zm10 1zm-8 0zm-5 1zm-6 2zm17 0zm3 1zm-22 1zm11 1zm-8 1zm12 0zm-7 0zm-3 1zm5 0zm-1 1zm-10 1zm12 0zm-10 1zm-1 0zm21 160zm-15 22zm15 2zm-9 7zm9 2zm-15 5zm5 1zm7 0zm-1 1zm3 1zm-20 1zm8 1zm5 3zm7 1zm-16 0zm15 0zm-20 1zm1 0zm21 4zm-6 0zm-10 1zm-3 0zm-1 1zm3 1zm11 2zm-6 0zm-3 1zm-1 0zm17 0zm-7 0zm-1 0zm-5 0zm12 1zm-3 0zm1 0zm1 1zm-2 0zm-5 0zm4 0zm-8 1zm9 1zm-3 0zm2 0zm-1 2zm1 0zm-8 3zm1 0zm-3 0zm-4 1zm-4 0zm9 0zm1 0zm6 1zm-9 0zm-2 0zm2 1zm8 1zm-2 1zm-2 1zm-7 0zm10 0zm-9 1zm-5 0zm3 0zm0 1zm-1 0zm-2 1zm0 30zm19 3zm3 2zm-6 1zm-15 2zm4 1zm17 0zm-22 0zm8 1zm11 0zm-19 0zm2 0zm13 0zm-6 0zm-2 1zm0 1zm-2 1zm-1 0zm17 11zm-16 93zm-5 22zm0 11zm12 8zm6 2zm-13 1zm12 0zm2 2zm-8 2zm-10 2zm13 1zm-5 1zm1 0zm-3 0zm16 1zm-3 0zm-13 0zm4 1zm-6 0zm17 1zm-4 0zm-16 2zm20 0zm-21 0zm14 0zm-2 0zm-4 1zm-3 1zm-6 0zm4 0zm0 1zm5 1zm-5 1zm5 0zm-4 95zm5 1zm-1 2zm1 0zm-3 1zm7 1zm3 1zm-2 0zm-13 0zm-1 1zm4 1zm13 0zm-11 0zm10 2zm-7 0zm10 1zm-7 0zm-2 0zm-2 1zm-3 0zm11 0zm1 0zm-14 1zm14 0zm4 1zm-12 1zm8 0zm-4 2zm6 0zm-16 0zm13 1zm2 0zm-14 2zm14 1zm-18 1zm0 1zm8 3zm3 1zm-1 0zm-8 2zm7 1zm-8 0zm6 1zm-5 1zm2 1zm17 1zm-16 0zm15 1zm0 1zm-19 0zm0 3zm15 1zm0 2zm-5 5zm-1 0zm6 1zm-8 2zm-2 1zm-1 1zm0 1zm-2 2zm-3 1zm2 1zm-1 1zm18 2zm-9 12zm14-32zm5-4zm-6-3zm1-1zm4-2zm1-1zm-1 0zm0-1zm0-1zm-1-1zm5-2zm2-1zm1 0zm-2 0zm3-1zm9-2zm-7-2zm3-3zm2-9zm3-101zm-3 0zm-3-2zm-3-1zm-2 0zm-3-2zm0-1zm13 0zm-16 0zm1-1zm-7-2zm5-1zm14 0zm1 0zm-15-3zm16 0zm-7-1zm9-12zm-1-3zm-3-118zm-14-8zm2 0zm13-4zm-18-4zm3-6zm2-2zm-3-2zm-2 0zm3-1zm-4 0zm16-1zm-16 0zm4-2zm15-2zm-18 0zm-1 0zm11-2zm-2 0zm-6 0zm2 0zm5-1zm6-1zm1 0zm-7-1zm4 0zm-11-16zm8-10zm-3-5zm1 0zm-6-1zm1 0zm5-1zm6 0zm-15 0zm17-1zm-15 0zm11 0zm1 0zm-11-1zm1 0zm1 0zm5 0zm-3-1zm-6 0zm1 0zm-3 0zm15 0zm-14-1zm7 0zm4-2zm-1-1zm10-1zm-7-1zm-9 0zm-2 0zm9-1zm-3 0zm-5 0zm17 0zm-16 0zm14 0zm-16 0zm15-1zm-11 0zm14 0zm-16 0zm11 0zm-11-1zm14 0zm-1 0zm-9-1zm-1 0zm11 0zm3 0zm-16 0zm8 0zm-6-1zm-5 0zm5-1zm-5 0zm3 0zm8 0zm1 0zm4-1zm-5 0zm-13-1zm-1-2zm13 0zm2-1zm-6 0zm-7 0zm2-1zm-3 0zm10-1zm-2 0zm-1-2zm2-1zm-3-1zm-1 0zm-3-2zm14 0zm-10-2zm-1 0zm16-1zm-11 0zm12 0zm-16-1zm14-2zm-14-4zm-5 0zm16-4zm-8 0zm13-1zm-4 0zm-7-1zm3 0zm3 0zm-14 0zm12 0zm-3-1zm4 0zm-2-1zm-6-1zm6-2zm2-4zm2-3zm2-1zm1-1zm1-1zm-2-1zm-9-1zm1-1zm3-2zm0-3zm4-15zm2-146zm0-1zm-9-2zm-8-2zm1-1zm14 0zm1-1zm0-1zm-4 0zm-9-1zm-6 0zm18 0zm-5 0zm-6 0zm14 0zm-16 0zm12-1zm-2-1zm-14 0zm8 0zm-11-1zm14 0zm-5 0zm-2-1zm-5 0zm7-3zm24-12zm-1 4zm-6 16zm-2 1zm3 0zm3 0zm2 0zm-3 1zm11 0zm2 0zm-6 1zm3 0zm-6 1zm9 1zm-13 1zm15 0zm-11 1zm11 105zm-1 4zm-18 44zm10 8zm12 5zm-19 4zm1 0zm16 1zm-3 1zm-16 1zm3 0zm15 0zm-11 0zm-3 0zm0 1zm4 0zm2 1zm-8 1zm1 0zm6 0zm-4 1zm6 0zm-4 1zm2 1zm-1 0zm13 0zm-1 0zm-13 1zm2 1zm8 2zm-1 1zm-16 0zm20 0zm-1 1zm-1 0zm-2 1zm1 0zm-19 0zm6 1zm13 0zm1 0zm-14 1zm15 0zm-3 0zm-15 0zm20 2zm-19 0zm-4 1zm9 0zm13 0zm-13 1zm-5 0zm3 0zm3 0zm12 1zm-12 3zm-2 0zm0 2zm-5 1zm6 0zm3 0zm-2 1zm3 0zm7 1zm-8 2zm1 1zm5 0zm4 1zm-6 0zm-4 0zm-7 0zm14 1zm2 1zm-4 1zm-8 0zm9 1zm2 0zm-18 1zm18 0zm-5 1zm-7 0zm-8 0zm22 0zm-5 1zm-3 0zm-7 0zm11 1zm-18 0zm3 1zm20 0zm-2 0zm-14 1zm3 0zm12 0zm-8 1zm7 0zm-14 1zm-1 0zm15 1zm1 0zm-16 1zm-5 0zm11 0zm-8 1zm3 0zm3 0zm-2 0zm-8 0zm14 0zm-3 11zm4 27zm-3 3zm-5 0zm11 1zm-1 0zm6 1zm-21 0zm14 0zm3 1zm-16 0zm11 0zm-8 2zm17 0zm-13 0zm6 0zm-8 7zm4 0zm-5 2zm6 0zm0 1zm6 2zm-12 3zm3 1zm-5 7zm16 10zm-12 8zm14 4zm-1 0zm-20 3zm6 1zm15 3zm-4 1zm-7 1zm7 1zm3 3zm-4 1zm-8 4zm11 1zm-2 0zm0 2zm3 0zm1 2zm-1 1zm-15 3zm9 1zm7 4zm-11 3zm1 0zm-1 1zm-5 4zm5 1zm10 0zm1 2zm-1 1zm-2 2zm2 1zm-9 1zm8 12zm-10 16zm2 6zm7 24zm-19 2zm20 1zm-12 3zm14 1zm-21 6zm2 4zm15 1zm-2 1zm-1 2zm5 0zm-18 3zm12 0zm-2 2zm-6 1zm1 0zm-6 0zm9 1zm-8 0zm3 2zm2 0zm-7 1zm22 83zm0 2zm-3 1zm1 1zm-4 1zm-3 3zm-1 1zm-12 10zm-1 4zm0 1zm37-16zm-7-13zm4-2zm0-2zm3 0zm6 0zm-6-1zm1 0zm1-3zm3 0zm1-1zm4-3zm-13-10zm-6-70zm-1-1zm-1-1zm-2 0zm22-1zm-22 0zm1-2zm2-1zm3 0zm-4-2zm5-2zm1-1zm2-1zm-2-1zm4-3zm-2-1zm11-4zm-7 0zm3 0zm5-1zm-10 0zm0-2zm5-1zm-5-2zm-6-1zm8-2zm-6 0zm14-3zm-1-2zm-21-5zm21-1zm-7 0zm9-11zm-8-5zm-5 0zm-4-9zm7-2zm6-1zm-7 0zm4-1zm1-2zm-14-1zm7 0zm-6 0zm3-1zm-5 0zm11 0zm-13 0zm6-1zm10 0zm-12-1zm-2 0zm8-2zm-9 0zm15 0zm-15-1zm0-1zm15 0zm-16 0zm14 0zm5-1zm-2-3zm0-1zm2-1zm-1-1zm-15 0zm11 0zm-13-1zm18 0zm-15-3zm-2-1zm17 0zm1 0zm-4-1zm-13 0zm13-1zm-10-1zm14 0zm3-1zm-21-1zm17 0zm4-2zm-2 0zm-21 0zm5-1zm-2-1zm17-1zm-20 0zm16-2zm-15 0zm17-2zm-17-4zm16-2zm1-1zm3 0zm0-1zm-18-1zm1 0zm-1-1zm18-2zm-18-2zm15-1zm3 0zm-1-1zm2 0zm-4-2zm4-1zm-20-1zm-1-1zm17-1zm2-2zm1 0zm-19 0zm1 0zm19-1zm-22-1zm1-1zm21 0zm-19-1zm6 0zm11-2zm2-1zm-16-1zm-1 0zm18-1zm-3 0zm-19-1zm21 0zm-14-2zm-1-1zm14 0zm-12-1zm-4 0zm18-1zm-14 0zm-9-1zm6 0zm17 0zm-14 0zm-4 0zm18-1zm-22-1zm2 0zm-1-1zm8-1zm-6 0zm9-3zm-1-1zm-5-2zm4-1zm-3-3zm0-2zm1 0zm-6-1zm-1-2zm3 0zm-4-1zm7 0zm-5-3zm6 0zm-2 0zm-6-1zm-1-1zm5-47zm16-10zm-16-2zm0-2zm11 0zm-9-1zm11 0zm3 0zm-8 0zm9-1zm-10 0zm0-2zm-6 0zm11-2zm-1-1zm-14-1zm4-2zm1 0zm-4-1zm8-2zm-4-1zm1-2zm11-1zm0-3zm-4-3zm-7-2zm-1 0zm13-3zm-15-5zm-4-3zm22 0zm-8-13zm8 0zm-16 0zm7-4zm7-8zm-2-2zm-5-2zm2-2zm-4 0zm11-1zm-8-1zm1-1zm-13-2zm12-1zm8 0zm-1 0zm-7-2zm-5 0zm1 0zm2 0zm3-2zm2-1zm-1 0zm5-2zm-19-1zm17-2zm3 0zm-2-2zm-8 0zm0-1zm-1-1zm-2-1zm-3 0zm7 0zm-2-3zm9 0zm-14-2zm5-1zm2 0zm-8 0zm15 0zm-4-1zm-10 0zm6 0zm0-3zm-4 0zm5-2zm-3-1zm4 0zm0-2zm8 0zm-13-1zm-10-2zm21 0zm-6-2zm-4 0zm9-1zm-4-3zm-4-1zm-2 0zm6-1zm2-1zm-9-1zm6 0zm1-1zm-8-1zm11 0zm-11-1zm10 0zm-2-1zm-2 0zm7-1zm-5 0zm1 0zm-9 0zm5-3zm3 0zm-5 0zm2-3zm5 0zm-2-1zm-4-2zm-7-1zm17-1zm-11 0zm-4-2zm8-1zm2-2zm-3-2zm6-1zm2 0zm1-1zm-2-2zm-2-1zm3-2zm-14-56zm-6-3zm15-1zm-9 0zm3 0zm-4 0zm-5 0zm-2 0zm9-2zm-5-1zm8-2zm12 66zm1 3zm0 4zm3 0zm-4 0zm9 3zm-1 2zm1 0zm-7 0zm9 2zm-1 2zm-4 1zm6 0zm-10 0zm10 1zm-8 1zm10 3zm2 3zm-10 0zm5 1zm4 1zm-14 1zm-1 0zm7 1zm11 0zm-3 1zm2 0zm0 1zm-16 0zm11 1zm4 1zm1 1zm2 1zm-2 0zm-9 0zm-2 0zm-1 0zm11 3zm-7 0zm-2 1zm-5 0zm7 0zm9 1zm-7 2zm6 1zm-10 1zm-6 2zm6 0zm14 1zm-2 1zm-12 0zm-4 1zm18 1zm-21 0zm4 2zm12 1zm-4 1zm3 0zm6 2zm-5 1zm-2 0zm5 1zm-4 1zm1 0zm-3 2zm-2 4zm-9 0zm11 3zm-11 2zm17 0zm-19 0zm17 0zm5 1zm1 0zm-16 0zm12 2zm-18 2zm2 1zm-1 1zm14 0zm-13 1zm-2 1zm12 0zm7 0zm2 1zm-20 1zm-2 0zm8 0zm15 0zm0 1zm-19 2zm19 0zm-21 1zm-2 1zm22 0zm-13 0zm4 0zm-4 3zm-1 1zm-4 0zm-1 1zm17 1zm-12 0zm1 0zm11 1zm-12 0zm-5 1zm7 0zm-1 2zm0 1zm1 0zm3 1zm-8 0zm-2 0zm11 1zm0 2zm-5 0zm10 0zm-18 1zm10 0zm10 1zm-9 0zm6 1zm-5 0zm-10 1zm14 4zm-12 0zm9 3zm2 3zm1 0zm-6 1zm-5 1zm3 1zm10 0zm3 1zm-10 0zm3 0zm0 1zm1 0zm-2 1zm9 0zm-4 0zm-4 1zm8 0zm-5 0zm5 1zm-12 1zm2 1zm-6 0zm8 1zm4 0zm-5 0zm8 0zm-4 1zm-2 0zm-5 0zm11 0zm-13 1zm10 0zm-7 1zm6 1zm-5 0zm0 1zm-4 1zm2 1zm-3 1zm15 0zm-16 1zm-3 2zm17 0zm-8 0zm8 2zm-16 0zm1 1zm8 0zm8 1zm1 1zm-10 1zm1 0zm9 0zm-7 0zm1 1zm6 0zm-22 0zm20 1zm-5 0zm1 0zm-14 2zm16 0zm-2 0zm-11 0zm16 1zm-15 0zm1 0zm0 2zm13 0zm2 0zm-22 0zm1 0zm15 1zm6 1zm-2 0zm-11 0zm-5 1zm6 1zm-3 0zm11 1zm-8 1zm8 1zm3 2zm-1 10zm-2 2zm3 2zm-17 2zm16 1zm1 32zm-11 2zm11 0zm-12 2zm-1 1zm3 0zm-6 1zm12 2zm1 0zm-6 0zm0 1zm9 0zm-2 1zm-13 2zm14 0zm-12 1zm3 2zm11 0zm-19 2zm16 2zm-19 1zm11 1zm-7 0zm-3 2zm17 0zm-18 0zm0 1zm10 1zm-8 2zm7 1zm-2 1zm11 1zm-19 1zm1 2zm9 2zm-4 1zm-2 3zm7 0zm4 1zm-2 0zm10 0zm-8 1zm-15 3zm0 3zm1 3zm4 3zm-5 0zm11 0zm10 13zm-18 6zm7 1zm13 29zm0 1zm-2 2zm-13 1zm7 1zm6 0zm-15 1zm15 1zm-2 1zm-2 1zm0 2zm-15 0zm8 3zm6 0zm-9 1zm-2 2zm7 1zm-3 3zm3 0zm-12 1zm7 1zm-2 0zm5 1zm-3 0zm4 1zm-7 1zm2 2zm3 1zm-6 0zm-1 0zm-2 0zm2 1zm18 99zm-10 8zm6 0zm-2 0zm-2 2zm-2 2zm-1 0zm-2 0zm-2 2zm1 0zm-3 0zm2 1zm-3 1zm-1 10zm20 4zm23-3zm1-15zm-16-7zm-4 0zm-1-1zm2-1zm13-5zm0-4zm-11-6zm15-102zm-9-1zm10 0zm-16-1zm13-1zm-2 0zm3 0zm-11-1zm10 0zm4 0zm-21 0zm12-1zm-3 0zm-8 0zm15 0zm2-2zm-2 0zm-7-1zm-7-1zm20 0zm-16 0zm-4-1zm14-1zm3 0zm-4-3zm-1 0zm3-1zm-7-1zm3-1zm-11-4zm20-4zm-16 0zm8-1zm-3-2zm10-1zm-4-1zm0-1zm6 0zm-4-3zm-1-1zm3-3zm-1-6zm0-4zm3-1zm-2 0zm-8-5zm-4 0zm9-4zm4-7zm1 0zm-2-1zm2-3zm-2-3zm2-1zm-3-4zm-19-2zm22-1zm-8 0zm7-1zm1-2zm-10-1zm8-2zm-2 0zm-19-3zm12 0zm9 0zm-7-1zm3-3zm-15-3zm14-2zm3-2zm-7-1zm-5 0zm2-1zm5-2zm1-1zm-1 0zm-10-1zm10 0zm4-4zm-12-2zm1 0zm-3 0zm3-1zm-2-1zm-4 0zm3 0zm-2 0zm1-1zm1 0zm0-2zm18-19zm-3-6zm-2-1zm-2-1zm-5-4zm8-1zm3 0zm-4 0zm-7 0zm1-1zm0-1zm-10-2zm12-1zm0-1zm-5 0zm14 0zm-5 0zm-7-1zm7 0zm-13-1zm1-1zm18 0zm-16 0zm10 0zm-5 0zm0-1zm-6 0zm10 0zm-10-2zm16-1zm1 0zm-16 0zm-6-1zm17-2zm-18-1zm20 0zm-10-1zm-5 0zm-2 0zm3 0zm3 0zm7 0zm4-1zm-13 0zm-2-1zm5 0zm-2-1zm-5-1zm14 0zm-13-1zm17 0zm-19 0zm6 0zm-2-2zm-1-2zm12 0zm-12-1zm1 0zm3 0zm-7 0zm-2-1zm11 0zm3 0zm8 0zm-21 0zm18 0zm4-1zm-18-1zm13-1zm-1-1zm2 0zm-19 0zm14 0zm-8 0zm1-1zm-3 0zm17 0zm-2 0zm-6 0zm-13 0zm22 0zm-19 0zm-2-1zm19 0zm-16-1zm2 0zm17 0zm-16 0zm1-1zm-8 0zm22 0zm-10-1zm-1-1zm-6 0zm1 0zm3-1zm11 0zm-1 0zm-19-1zm6-1zm10 0zm-13-1zm7-1zm6-1zm-12-1zm15 0zm-14 0zm-2-2zm-3-2zm16-2zm-14-1zm13-2zm-1-1zm3-1zm-1 0zm-1-1zm-3-2zm0-1zm-1-1zm4 0zm-14-1zm11-1zm-7 0zm6-1zm6-1zm-6-3zm1-1zm-6 0zm6-1zm0-2zm-3 0zm-4-1zm-3 0zm4-1zm-5 0zm9 0zm-3-1zm3 0zm-7-2zm3 0zm3 0zm-3-2zm3-1zm3-3zm-9 0zm2-2zm-4 0zm5-1zm-1 0zm-4-1zm-1 0zm7-1zm-3 0zm1-2zm-4-1zm3 0zm-1-1zm8-4zm-10-3zm0-2zm6-21zm11-23zm-18-28zm43 140zm-18 7zm1 0zm0 2zm-1 2zm1 1zm1 0zm-2 1zm4 1zm4 4zm-3 1zm0 1zm2 3zm-2 1zm-3 4zm7 3zm-1 0zm-9 0zm2 0zm8 1zm2 0zm-2 1zm2 3zm0 1zm3 1zm1 0zm-6 1zm-6 5zm14 3zm-9 1zm12 4zm-1 1zm-2 1zm3 2zm1 2zm1 4zm-13 6zm5 10zm-5 0zm6 1zm-2 1zm4 1zm-2 0zm-15 1zm16 4zm1 6zm-18 1zm19 4zm-19 4zm2 1zm1 0zm-1 3zm3 7zm-1 1zm4 2zm-4 1zm1 2zm1 1zm-1 0zm0 4zm-5 0zm6 0zm16 1zm-16 10zm-2 1zm2 0zm-1 1zm0 1zm3 3zm-7 1zm7 1zm0 3zm-4 2zm-4 1zm8 0zm-5 0zm-3 1zm4 2zm-3 0zm11 0zm-12 2zm0 1zm3 6zm3 1zm-6 2zm4 0zm1 1zm0 1zm0 2zm-4 2zm1 0zm-2 2zm12 0zm-12 4zm22 105zm-2 3zm-1 1zm-2 0zm-5 0zm0 1zm2 1zm-2 0zm-7 3zm-1 1zm-1 1zm5 23zm23-35zm-2 0zm1 0zm2-1zm6 0zm4-1zm-3 0zm-3-1zm1 0zm9-1zm-9 0zm8-1zm-4-2zm5-1zm1-23zm-3-93zm-11-31zm8-2zm-3-1zm-2 0zm0-2zm-3 0zm10 0zm-2-2zm-5-1zm11-4zm-17 0zm7 0zm-7-1zm17 0zm-22-1zm21 0zm-19-1zm-3-1zm22-2zm0-1zm-1-2zm-14-2zm-1 0zm-5 0zm20-1zm-2-1zm-2 0zm1 0zm0-2zm-16-1zm-1-1zm1-1zm13-2zm-14 0zm0-1zm14-1zm-8-1zm5-3zm-1-2zm9-1zm-9 0zm0-2zm-8-2zm7 0zm0-1zm-2-2zm2-1zm-2 0zm1-1zm-3-2zm-1-2zm-3-3zm2 0zm-1-1zm1-2zm5-3zm-9 0zm30 39zm-6 7zm2 6zm2 5zm-3 1zm4 1zm1 2zm2 1zm-1 5zm1 6zm2 2zm0 1zm1 3zm-1 1zm8 3zm-4 1zm-1 2zm1 1zm2 2zm-3 3zm3 0zm-1 0zm2 2zm-2 0zm0 1zm2 8zm2 4zm-2 0zm2 3zm1 3zm-2 2zm0 2zm1 1zm-1 2zm2 1zm-3 1zm1 2zm-2 5zm0 2zm-1 3zm0 2zm1 5zm-1 3zm1 2zm-2 1zm-3 4zm3 4zm-6 2zm2 0zm4 2zm-1 0zm1 1zm-2 2zm-1 0zm2 4zm-2 3zm-1 4zm-1 1zm-1 2zm2 0zm0 2zm-2 2zm-1 3zm-3 3zm4 3zm-1 5zm-5 1zm5 2zm0 1zm-3 3zm2 0zm-1 3zm-3 2zm0 1zm-2 0zm7 4zm-2 0zm-3 2zm3 0zm20-41z"/><path fill="none" stroke="#c4c4c4" stroke-width="0.8" stroke-dasharray="2.6 5.8" d="M58.0 0V427.7M116.0 0V427.7M174.0 0V427.7M232.0 0V427.7M290.0 0V427.7M0 71.3H348.0M0 142.6H348.0M0 213.8H348.0M0 285.1H348.0M0 356.4H348.0"/><path fill="none" stroke="#000" stroke-width="0.9" stroke-linejoin="round" d="M274.0 0.0L271.4 14.8L269.7 32.0L265.4 45.8L261.0 63.1L256.8 80.3L254.2 101.1L251.6 118.3L250.7 130.4"/><path fill="none" stroke="#000" stroke-width="0.9" stroke-linejoin="round" d="M246.4 164.9L247.3 178.7L252.5 194.3L254.2 204.6L250.7 213.3L252.2 214.0L247.8 224.0L241.6 231.5L230.3 245.3L222.8 256.6L215.2 267.9L205.2 275.4L201.4 280.5L192.6 288.0L180.1 299.3L171.3 310.5L164.1 322.6L156.6 330.1"/><path fill="none" stroke="#000" stroke-width="0.9" stroke-linejoin="round" d="M134.6 359.0L127.7 365.3L122.7 371.5L115.2 384.1L102.6 397.9L90.1 412.9L78.2 427.0"/><text transform="translate(250.2 146.8) rotate(-80)" font-size="15.0" text-anchor="middle" dominant-baseline="central">-100</text><text transform="translate(147.2 343.3) rotate(-52)" font-size="15.0" text-anchor="middle" dominant-baseline="central">-100</text><circle cx="260.6" cy="56.2" r="1.2" fill="none" stroke="#000" stroke-width="0.7"/><path d="M164.0 249.8L178.4 249.8M166.1 244.7L176.3 254.9M171.2 242.6L171.2 257.0M176.3 244.7L166.1 254.9" stroke="#f00" stroke-width="1.15" fill="none"/><path d="M61.0 320.5L75.4 320.5M63.1 315.4L73.3 325.6M68.2 313.3L68.2 327.7M73.3 315.4L63.1 325.6" stroke="#f00" stroke-width="1.15" fill="none"/></g><rect x="0" y="0" width="348.0" height="427.7" fill="none" stroke="#161616" stroke-width="1.4"/><path fill="none" stroke="#262626" stroke-width="1" d="M58.0 0v3.5M58.0 427.7v-3.5M0 71.3h3.5M348.0 71.3h-3.5M116.0 0v3.5M116.0 427.7v-3.5M0 142.6h3.5M348.0 142.6h-3.5M174.0 0v3.5M174.0 427.7v-3.5M0 213.8h3.5M348.0 213.8h-3.5M232.0 0v3.5M232.0 427.7v-3.5M0 285.1h3.5M348.0 285.1h-3.5M290.0 0v3.5M290.0 427.7v-3.5M0 356.4h3.5M348.0 356.4h-3.5"/><text x="-7.8" y="7.1" font-size="20.1" text-anchor="end" font-weight="normal" fill="#000" >37°N</text><text x="-7.2" y="77.3" font-size="15.4" text-anchor="end" font-weight="normal" fill="#000" >30'</text><text x="-7.8" y="149.7" font-size="20.1" text-anchor="end" font-weight="normal" fill="#000" >36°N</text><text x="-7.2" y="219.8" font-size="15.4" text-anchor="end" font-weight="normal" fill="#000" >30'</text><text x="-7.8" y="292.2" font-size="20.1" text-anchor="end" font-weight="normal" fill="#000" >35°N</text><text x="-7.2" y="362.4" font-size="15.4" text-anchor="end" font-weight="normal" fill="#000" >30'</text><text x="-7.8" y="434.8" font-size="20.1" text-anchor="end" font-weight="normal" fill="#000" >34°N</text><text x="2.8" y="448.6" font-size="20.1" text-anchor="middle" font-weight="normal" fill="#000" >77°W</text><text x="57.7" y="444.6" font-size="15.4" text-anchor="middle" font-weight="normal" fill="#000" >30'</text><text x="118.8" y="448.6" font-size="20.1" text-anchor="middle" font-weight="normal" fill="#000" >76°W</text><text x="173.7" y="444.6" font-size="15.4" text-anchor="middle" font-weight="normal" fill="#000" >30'</text><text x="234.8" y="448.6" font-size="20.1" text-anchor="middle" font-weight="normal" fill="#000" >75°W</text><text x="289.7" y="444.6" font-size="15.4" text-anchor="middle" font-weight="normal" fill="#000" >30'</text><text x="350.8" y="448.6" font-size="20.1" text-anchor="middle" font-weight="normal" fill="#000" >74°W</text><text x="286.4" y="36.9" font-size="20.1" text-anchor="start" font-weight="normal" fill="#000" >10 km</text><path d="M305.6 43.5H319.3" stroke="#000" stroke-width="4.2" stroke-linecap="round"/><path fill="none" stroke="#00ff00" stroke-width="2.9" stroke-linecap="round" d="M0.0 73.5zM0.0 94.1zM0.0 114.7zM0.0 135.3zM0.0 155.1zM0.0 175.1zM0.0 194.1zM0.0 212.9zM0.0 231.0zM0.0 248.2zM0.0 265.8zM0.0 283.5zM0.0 301.6zM0.0 320.5zM0.0 339.4zM0.0 357.5zM0.0 374.9zM0.0 392.8zM0.0 410.0zM0.0 427.7zM18.3 427.7zM36.1 427.7zM56.7 427.7zM77.7 427.7zM98.4 427.7zM115.6 427.7zM133.9 427.7zM151.9 427.7zM171.4 427.7zM192.1 427.7zM213.6 427.7zM235.6 427.7zM253.6 427.7zM276.8 427.7zM295.8 427.7zM319.6 427.7zM348.0 271.1zM348.0 295.7zM348.0 320.5zM348.0 345.3zM348.0 369.9z"/><path fill="none" stroke="#ff0000" stroke-width="2.9" stroke-linecap="round" d="M114.5 427.7zM133.2 427.7zM152.7 427.7zM171.2 427.7zM188.4 427.7zM205.4 427.7zM224.1 427.7zM241.1 427.7zM260.7 427.7zM280.7 427.7zM301.0 427.7zM321.4 427.7zM340.1 427.7zM348.0 4.2zM348.0 26.6zM348.0 43.8zM348.0 64.5zM348.0 86.1zM348.0 103.8zM348.0 124.7zM348.0 144.4zM348.0 163.9zM348.0 182.9zM348.0 201.2zM348.0 218.6zM348.0 250.3zM348.0 267.5zM348.0 284.5zM348.0 303.2zM348.0 320.2zM348.0 339.8zM348.0 359.8zM348.0 380.1zM348.0 400.5z"/><text x="174.0" y="-13.2" font-size="25.1" text-anchor="middle" font-weight="bold" fill="#000" >Radial Grid</text></g>
<g transform="translate(459.0 742.5)"><clipPath id="c459_742"><rect x="0" y="0" width="348.0" height="427.7"/></clipPath><g clip-path="url(#c459_742)"><g stroke="#000" stroke-width="1.1" stroke-linejoin="round"><path fill="#80e680" d="M0.0 0.0L55.0 0.0L58.3 5.0L59.4 10.6L57.6 15.3L62.0 14.2L68.8 15.2L71.7 11.6L73.5 10.5L75.2 16.4L77.5 17.0L76.0 10.0L77.5 5.5L81.9 4.8L89.2 8.4L96.5 10.6L103.7 12.0L109.6 10.6L114.7 9.9L117.2 12.0L117.9 19.3L120.0 30.0L122.6 41.1L126.5 50.2L128.5 55.7L131.4 68.0L135.0 85.3L138.9 96.9L142.7 110.1L147.4 123.3L154.0 136.4L159.6 148.7L165.3 160.9L170.0 172.2L173.8 181.6L176.6 191.0L177.9 198.0L178.0 204.4L176.8 213.9L175.4 223.3L173.6 232.7L172.2 240.2L171.6 247.7L171.2 251.2L165.3 252.8L159.6 253.8L152.1 256.6L144.6 260.4L137.1 263.2L129.5 266.5L122.0 270.3L117.3 273.5L112.6 277.3L106.9 282.0L99.4 287.7L94.1 293.5L84.7 302.0L75.3 311.4L69.6 318.0L64.0 324.6L60.2 330.2L56.5 336.8L54.1 345.3L52.2 341.5L48.9 335.9L45.2 333.0L37.6 330.2L28.2 328.8L18.8 329.3L9.4 331.1L0.0 334.0Z"/><path fill="#fff" d="M32.5 128.7L34.8 130.1L35.3 134.8L37.6 138.6L41.4 139.0L44.2 137.6L46.1 140.0L48.9 142.8L54.6 143.3L60.2 141.4L64.0 137.6L68.7 134.8L74.4 132.4L79.1 131.5L80.0 129.6L75.3 127.7L72.5 125.9L68.7 121.6L64.9 117.4L65.9 116.9L70.6 121.6L74.4 124.9L78.1 126.3L81.9 128.7L86.6 130.1L91.3 130.1L93.6 128.7L90.4 125.4L87.5 120.7L85.2 117.4L86.1 116.9L89.4 120.2L93.2 124.9L96.0 125.4L101.6 124.9L106.4 124.4L108.7 122.6L107.3 116.9L104.5 112.2L104.1 112.9L98.5 107.3L92.8 104.4L93.8 101.6L94.7 100.7L99.4 103.5L103.2 106.3L106.9 111.0L112.6 115.7L118.2 118.6L125.8 120.9L126.7 119.5L124.8 117.6L122.9 113.9L125.8 109.1L129.5 106.3L132.4 103.5L134.2 106.3L131.4 111.0L130.5 115.7L131.4 123.3L135.2 128.9L139.9 134.1L138.9 128.0L137.1 121.4L135.2 115.7L137.1 111.0L134.5 108.0L131.0 102.0L127.0 94.0L123.0 86.0L118.0 78.0L114.5 70.0L116.0 60.0L117.5 50.0L117.5 42.0L119.0 38.0L120.6 41.0L124.3 50.2L126.3 55.7L129.2 68.0L132.8 85.3L136.7 96.9L140.5 110.1L145.3 123.3L152.0 136.4L157.6 148.7L163.3 160.9L168.1 172.2L172.0 181.6L174.9 191.0L176.2 198.0L176.3 204.4L175.1 213.9L173.7 223.3L171.9 232.7L170.6 240.2L169.6 246.5L165.5 251.0L160.0 252.2L152.0 255.2L145.0 258.8L137.0 261.8L130.0 264.8L122.0 268.8L113.0 275.3L104.0 282.8L95.0 290.8L86.0 299.0L77.0 308.0L71.0 314.5L66.0 320.0L61.5 326.0L58.0 331.0L56.0 333.0L57.0 329.0L59.5 324.0L62.5 319.0L65.9 314.8L67.8 312.0L69.6 309.1L71.5 306.3L74.4 303.5L77.2 300.7L79.1 297.9L81.9 295.0L83.8 292.2L80.9 288.4L78.1 284.7L74.4 282.8L71.5 289.4L69.6 292.2L65.9 295.0L63.1 292.2L64.9 287.5L65.9 282.8L64.9 278.1L62.1 276.2L60.2 278.1L58.4 281.9L56.5 285.6L52.7 286.6L47.1 289.4L42.4 288.4L39.5 290.3L35.8 292.2L32.0 294.1L28.2 297.4L24.5 296.0L18.8 294.1L13.2 291.3L7.5 287.5L2.8 283.7L0.0 281.9L0.0 279.0L1.9 278.1L4.7 280.0L8.5 282.8L12.2 285.6L16.9 288.4L20.7 290.3L23.5 291.3L27.3 288.4L31.1 285.6L35.8 282.8L39.5 280.0L43.3 277.1L47.1 274.3L50.8 271.5L53.6 265.9L49.9 262.1L52.7 258.3L56.5 255.5L59.3 252.7L62.1 248.9L61.2 245.1L56.5 242.3L50.8 240.4L44.2 238.6L37.6 235.7L31.1 232.9L24.5 230.1L18.8 227.7L11.3 225.4L5.6 223.5L2.8 221.6L0.0 220.2L0.0 217.9L1.9 216.9L5.6 218.8L12.2 221.6L18.8 224.4L26.4 227.3L32.0 226.3L39.5 228.2L45.2 230.1L49.4 231.5L48.9 228.2L47.1 222.6L45.2 216.9L44.2 213.1L47.1 210.8L56.5 210.8L60.2 211.7L56.5 213.1L48.9 213.1L47.1 215.0L49.9 216.9L51.8 221.6L54.6 227.3L58.4 231.0L62.1 232.9L65.9 230.1L67.8 226.3L69.6 230.1L67.8 234.8L70.6 236.7L75.3 238.6L80.9 235.7L86.6 234.8L92.2 236.7L97.9 239.5L103.5 235.7L109.2 232.9L112.9 226.3L116.7 218.8L121.1 212.9L125.8 211.0L127.6 206.3L129.5 201.6L132.4 204.4L137.1 205.4L142.7 203.5L145.5 200.4L147.4 197.6L145.5 193.9L144.6 189.1L147.4 190.1L148.8 186.3L147.4 181.6L147.9 176.0L146.5 167.5L143.6 159.0L140.8 152.4L137.1 148.7L131.4 146.8L125.8 147.7L122.0 149.6L123.9 152.4L121.1 155.3L117.3 159.0L118.6 159.3L117.2 164.0L116.7 169.6L116.2 177.1L115.3 184.7L113.9 191.3L112.0 193.6L107.3 190.8L110.1 188.4L111.5 182.8L110.6 175.3L109.6 167.7L111.1 162.1L114.4 156.4L114.8 150.8L112.9 147.0L109.2 145.1L103.5 144.7L96.9 144.7L90.4 145.6L84.7 147.5L80.9 149.4L79.1 151.7L76.2 152.7L72.9 151.3L71.5 147.0L67.8 146.6L62.1 148.0L56.5 149.4L50.8 150.8L44.2 151.7L37.6 152.2L32.0 151.3L32.9 148.9L36.2 145.1L36.2 142.3L33.4 137.6L32.0 132.9L32.5 128.7ZM0.0 326.5L10.0 326.0L20.0 325.5L28.0 326.5L36.0 329.0L44.0 331.5L36.0 330.2L28.0 328.5L20.0 328.0L10.0 329.0L0.0 331.0Z"/><path fill="#80e680" d="M147.4 153.4L152.1 152.4L155.9 157.1L158.7 161.9L161.5 167.5L165.3 172.2L168.1 175.0L164.4 176.4L159.6 173.1L155.9 169.4L154.0 165.6L153.1 160.9L150.2 157.1ZM63.7 0.4L71.0 0.4L67.3 4.4ZM118.0 63.0L124.0 62.0L129.5 66.0L130.0 71.5L124.0 72.5L118.5 70.0ZM124.0 82.0L128.5 84.0L131.5 90.0L128.0 91.0L124.5 87.0ZM131.0 98.0L134.0 100.0L137.0 108.0L134.0 107.0ZM127.6 152.5L131.0 151.3L134.2 152.8L131.0 154.3Z"/></g><path transform="scale(.5)" fill="none" stroke="#000" stroke-width="4.2" stroke-linecap="round" d="M0 0m22 426zm-6 3zm-4 0zm1 0zm-5 3zm-5 0zm6 1zm-2 0zm-1 1zm11 0zm5 0zm-16 1zm11 0zm-8 1zm10 1zm-8 0zm2 0zm5 1zm4 1zm-8 2zm-12 2zm1 0zm4 1zm-3 1zm1 1zm7 1zm-9 0zm8 1zm-2 0zm-1 0zm8 1zm2 1zm-14 0zm19 1zm-15 0zm7 1zm1 2zm-1 0zm3 1zm-1 0zm2 1zm-3 2zm-8 1zm7 2zm6 2zm-3 2zm0 5zm0 80zm-15 3zm13 1zm-5 0zm11 1zm-10 1zm2 1zm2 1zm7 0zm-1 1zm-11 0zm-1 0zm-7 3zm15 2zm1 1zm1 0zm-17 2zm17 0zm-18 2zm20 0zm1 0zm-17 3zm3 2zm3 0zm2 0zm-6 1zm-2 0zm7 2zm9 1zm-6 1zm3 1zm-2 0zm6 0zm-5 1zm4 0zm-1 0zm-5 1zm-10 1zm15 1zm-1 1zm-10 1zm10 2zm2 1zm-5 2zm-2 4zm5 2zm-6 4zm-7 60zm-4 4zm26-37zm-1-9zm18-15zm-1-3zm-16-1zm10 0zm-12-3zm-2-1zm11-2zm11 0zm-23-1zm3 0zm5 0zm7-1zm5 0zm-3 0zm-2-1zm6 0zm-3 0zm-13 0zm4-1zm3 0zm-2-2zm-7 0zm-1-2zm0-1zm2 0zm-4-3zm20-3zm1 0zm-2-1zm0-1zm-8-1zm8-2zm-4 0zm-6 0zm4-1zm-6-1zm-3-1zm14 0zm-10-1zm12-1zm-19 0zm6 0zm-5 0zm-2 0zm6-1zm13 0zm-13-1zm-1 0zm16-2zm-20 0zm15 0zm-13 0zm12 0zm2-4zm4-6zm-7-3zm5-4zm-17-6zm0-1zm12-3zm-8-48zm8-8zm6-9zm-9-3zm12 0zm-18-1zm16-1zm-2 0zm-6 0zm10-1zm-12 0zm11-3zm-9 0zm-11-1zm16-1zm1-2zm-15 0zm18 0zm-4-1zm-4 0zm6-1zm-2 0zm-5 0zm3 0zm1 0zm-13-1zm-2 0zm4-2zm-5-1zm1 0zm2-1zm-4 0zm20-2zm1 0zm-14-2zm11 0zm-1 0zm-5-1zm8 0zm-19 0zm12-1zm-2-1zm-3-1zm0-1zm10 0zm-15 0zm12 0zm-8-1zm12-1zm-2 0zm-8 0zm2-2zm-9-1zm11 0zm1 0zm-3-1zm-4-1zm0-1zm0-1zm-7-6zm10-5zm-8-7zm19-134zm0-2zm1-26zm-3 0zm1-6zm20-21zm-1 20zm1 3zm1 0zm5 1zm-13 3zm10 0zm-10 1zm4 1zm1 0zm9 0zm-4 0zm-6 1zm7 1zm-20 0zm7 0zm13 1zm-8 1zm-3 0zm1 4zm4 0zm1 1zm5 1zm-5 0zm-9 1zm6 1zm3 1zm-1 1zm-1 0zm-5 0zm8 1zm2 1zm-3 1zm3 0zm-1 1zm-5 1zm-5 0zm8 0zm-4 1zm-3 0zm0 2zm7 0zm-2 2zm9 0zm-1 0zm-5 1zm7 0zm-19 3zm9 1zm9 2zm1 3zm-5 3zm-4 1zm4 1zm-3 1zm0 1zm1 1zm-4 0zm0 1zm-5 0zm-2 0zm7 1zm-11 1zm15 0zm7 4zm-12 0zm1 7zm7 3zm3 88zm1 13zm-3 0zm-5 9zm-2 0zm0 5zm5 2zm-1 3zm-3 1zm-4 1zm-8 0zm2 4zm10 0zm8 1zm-13 1zm-8 1zm14 1zm2 0zm5 1zm-18 1zm9 1zm-7 1zm15 0zm-11 1zm-4 0zm9 0zm8 1zm-18 0zm-5 0zm14 1zm-8 0zm1 1zm14 0zm-20 8zm1 1zm6 1zm-6 0zm4 1zm3 0zm2 1zm12 0zm-7 1zm-13 0zm5 0zm2 1zm8 1zm-8 0zm13 1zm-8 1zm6 0zm-1 1zm0 2zm-13 0zm-1 3zm-4 1zm9 3zm-3 8zm10 6zm-2 44zm-3 4zm7 11zm0 1zm3 1zm-1 1zm-4 2zm3 3zm-6 1zm6 0zm2 1zm-6 1zm-11 0zm14 0zm-8 2zm5 1zm-5 0zm-2 1zm-7 0zm10 2zm-2 0zm-5 2zm3 1zm-8 0zm5 2zm-2 2zm-4 1zm18 2zm-2 8zm6 0zm-6 2zm2 1zm-4 1zm-13 1zm13 0zm-8 1zm-3 0zm16 1zm-8 0zm-7 1zm3 0zm2 1zm5 1zm3 0zm-1 2zm-12 4zm1 0zm6 0zm2 17zm-4 18zm5 10zm4 5zm-14 3zm29-1zm5-3zm7-12zm-19-43zm7-1zm0-2zm14-1zm-23-2zm0-2zm3 0zm14-2zm4 0zm-8-1zm10-1zm-20-1zm7 0zm-10 0zm7 0zm2-1zm-5 0zm-3-1zm1 0zm3 0zm3 0zm-5-1zm20 0zm-13-1zm8 0zm-9-1zm-2 0zm6-2zm-2-1zm3 0zm-12-6zm-2-7zm1-5zm2 0zm0-1zm4-2zm-4-2zm12-2zm-1-1zm-2-1zm3-1zm1-3zm4-1zm-1-1zm-13-5zm12-1zm-2-11zm-10-4zm17-1zm-2-4zm2-4zm0-8zm-11-1zm9-11zm-5-1zm-8-1zm0-5zm-2 0zm4-3zm7-1zm5-2zm1 0zm-8 0zm-2-1zm-1 0zm7-2zm-2 0zm-8-1zm9 0zm-7-1zm-9-1zm1-1zm1-2zm0-1zm14-5zm0-7zm-3-2zm-9-1zm17-1zm-8 0zm-3 0zm-8-1zm9 0zm8-1zm-19 0zm8 0zm-10 0zm8 0zm-5-1zm18 0zm-16 0zm10-1zm3 0zm1 0zm-9 0zm-7 0zm11-1zm9 0zm-6 0zm-15-1zm8-1zm2 0zm3 0zm4 0zm3-1zm-19 0zm10-1zm2 0zm1 0zm3 0zm-1-1zm-1-1zm-2 0zm2-1zm4 0zm-14-3zm8 0zm-1 0zm1-1zm4-2zm-6 0zm5 0zm-2-1zm-9-2zm9-1zm-13-1zm14 0zm-3 0zm1-2zm-5-1zm-1-1zm1-1zm-10-2zm14 0zm-3-1zm4 0zm-2 0zm5-2zm-2 0zm3-1zm3-1zm-13 0zm14 0zm-7 0zm-3 0zm4-1zm-3 0zm8 0zm-7-2zm7 0zm-10-1zm3-1zm0-12zm7-5zm-10-80zm3-3zm-14-1zm3-3zm5-2zm-6 0zm12-1zm6 0zm-9-1zm-5 0zm8-1zm-14-1zm12 0zm10-1zm-16 0zm1-1zm15-1zm-3-1zm-7-6zm-13-5zm7-13zm11-1zm-1-1zm-13 0zm0-1zm2-1zm-2 0zm-2-1zm18 0zm2-2zm1 0zm-18 0zm-3-5zm2-2zm-4 0zm7-1zm-4-1zm1 0zm6-2zm7 0zm-15 0zm9-2zm-10-1zm15-1zm-4-3zm28-250zm-1 3zm-5 0zm2 1zm7 1zm-4 0zm3 0zm-8 3zm7 1zm-1 2zm3 2zm1 1zm-8 0zm8 1zm-1 1zm3 0zm-6 0zm3 1zm-1 0zm1 1zm-2 0zm-5 2zm1 1zm7 0zm-4 1zm-9 1zm5 1zm-1 0zm1 1zm0 2zm8 177zm-7 7zm8 4zm-9 8zm10 25zm-12 18zm-6 0zm17 1zm-12 0zm-4 4zm14 0zm-13 0zm-4 2zm0 1zm12 0zm-3 1zm0 2zm-5 0zm15 0zm-12 2zm-3 0zm9 0zm2 1zm-3 1zm-2 0zm-10 0zm14 0zm-8 1zm-7 0zm1 0zm7 1zm-2 0zm-3 8zm17 4zm-13 1zm4 1zm-2 0zm7 0zm1 1zm-7 1zm-5 1zm-6 0zm10 0zm10 1zm-5 0zm-4 0zm-7 1zm3 1zm-5 0zm2 0zm10 3zm8 0zm-20 1zm5 4zm-7 0zm5 0zm15 85zm-11 7zm5 2zm1 0zm-15 0zm0 3zm10 0zm1 0zm-1 2zm-4 1zm-5 1zm8 2zm6 0zm-2 0zm10 1zm-16 0zm0 1zm8 0zm-5 1zm4 0zm8 0zm-5 0zm-1 0zm-6 1zm7 0zm6 0zm-16 0zm5 1zm2 0zm-11 2zm20 0zm-1 2zm-19 0zm7 0zm-5 1zm-2 0zm3 1zm11 0zm-5 0zm-10 0zm2 1zm8 0zm-3 1zm3 0zm-10 0zm-2 0zm13 1zm-13 0zm8 0zm-5 0zm17 0zm-16 0zm-2 1zm13 0zm0 1zm-3 1zm-7 0zm2 0zm13 1zm3 0zm-6 0zm-7 1zm-2 2zm14 0zm-11 2zm1 0zm1 1zm-4 1zm3 0zm1 1zm-4 4zm6 1zm-4 1zm6 1zm-3 2zm5 0zm2 0zm-8 0zm-3 1zm10 0zm1 0zm-6 0zm-15 0zm18 1zm3 0zm0 1zm-1 0zm-4 1zm1 0zm-16 2zm3 14zm2 8zm-1 1zm3 4zm-6 0zm9 1zm-5 1zm15 0zm-10 1zm-8 2zm0 1zm14 0zm-1 0zm6 1zm0 1zm-8 3zm-4 1zm10 1zm1 0zm-15 1zm7 1zm-13 1zm23 0zm0 1zm-5 0zm-16 0zm21 1zm-9 1zm3 1zm-6 1zm11 0zm-16 0zm-4 1zm9 0zm8 0zm-1 0zm-18 1zm22 1zm-2 0zm-6 1zm-9 2zm5 0zm4 1zm-2 1zm-9 1zm-3 5zm5 2zm10 3zm-7 0zm-5 2zm-2 0zm1 0zm1 3zm-3 1zm10 0zm-4 0zm-1 0zm5 1zm1 0zm-8 0zm3 1zm2 1zm-7 2zm0 1zm6 1zm-1 0zm-3 2zm-3 1zm2 3zm1 0zm6 4zm7 7zm7 8zm-1 1zm0 6zm-1 3zm-6 0zm-5 1zm1 0zm10 0zm-3 1zm-7 0zm-4 0zm4 1zm5 0zm1 0zm-9 1zm15 2zm-9 0zm-5 0zm-2 2zm14 0zm-19 0zm-2 0zm23 1zm-19 1zm16 3zm1 2zm-10 16zm-9 1zm18 8zm1 12zm-2 3zm1 0zm3 3zm-5 1zm-1 3zm3 1zm-4 3zm3 1zm1 0zm-15 1zm7 2zm0 1zm10 0zm-11 1zm12 0zm-8 2zm-9 1zm13 1zm-6 1zm5 3zm-8 0zm8 2zm-2 0zm1 0zm2 1zm-4 0zm1 0zm2 1zm-11 1zm5 0zm3 0zm-3 1zm2 0zm-1 1zm9 1zm-5 0zm-6 1zm-10 0zm15 0zm-3 2zm9 0zm-16 0zm9 0zm6 2zm-4 1zm-10 0zm11 0zm-8 0zm-6 1zm6 0zm-6 3zm11 4zm0 2zm-8 3zm15 3zm-11 2zm16-22zm-3-5zm3-5zm1-1zm2-1zm0-1zm-3-1zm2 0zm-3-2zm6 0zm2-4zm-10-1zm3-1zm-2 0zm1 0zm1-1zm11 0zm-1-1zm3 0zm-12-2zm0-2zm15-2zm-19 0zm8-1zm12 0zm3-1zm-11-3zm-2 0zm5-2zm-11-1zm0-1zm14 0zm-6-1zm3 0zm-1 0zm-8-1zm-2 0zm11 0zm-4-2zm11-1zm-4 0zm-11 0zm9-1zm-4-1zm-2-1zm10-1zm-6-1zm5 0zm-15 0zm6-1zm9-1zm-4 0zm0-3zm0-1zm0-1zm-8-1zm5-4zm-3 0zm8-1zm5-1zm-3-1zm4 0zm0-1zm-9-1zm6 0zm-16 0zm18-1zm-14 0zm15-1zm-11 0zm4-1zm-7-1zm-3 0zm-1-1zm17-2zm-13-1zm10 0zm-2 0zm-13 0zm5-1zm6 0zm2-1zm3 0zm-20-1zm1 0zm21-1zm-3 0zm-17 0zm2-2zm-1 0zm17 0zm-17-1zm17-1zm-14-2zm-4-2zm0-1zm-2-1zm10 0zm-7-1zm5 0zm1-1zm-1 0zm-7-1zm4 0zm3-2zm0-1zm2-1zm-2 0zm3-1zm-5-1zm6 0zm3 0zm-14-1zm11 0zm0-1zm-4-1zm3 0zm-1 0zm-2-1zm2 0zm-3-1zm0-2zm1 0zm-5-1zm0-1zm2 0zm-1 0zm5-1zm0-2zm-5 0zm-3-12zm3-14zm-3-28zm2-1zm-3-3zm3-1zm1 0zm-2-4zm-1-1zm21-17zm0-1zm-2-3zm-1-1zm2 0zm1-3zm-1-1zm-18-1zm3 0zm17 0zm-18 0zm0-1zm17 0zm-14-1zm-7-1zm6 0zm-4 0zm1-1zm6-1zm-5 0zm6 0zm8 0zm-10-1zm-8 0zm4-1zm8-1zm3 0zm-9-1zm1 0zm14 0zm-6 0zm3-1zm-1 0zm-3 0zm7 0zm-6-2zm-3-2zm-2 0zm-2-1zm5-1zm-4-2zm-2 0zm7-2zm3-1zm-10-1zm-8-1zm2-1zm-2-1zm1-1zm1-3zm3-3zm12 0zm-17-4zm2 0zm2 0zm5-2zm-8-1zm1 0zm3-2zm15-1zm-15-1zm-1-1zm-4-1zm11-5zm-3-4zm1 0zm11-77zm-4-6zm1-1zm5-1zm-8-4zm-14-2zm19-3zm2-2zm-12-2zm14-2zm-20-3zm2-2zm15 0zm-1-1zm-3-1zm4-1zm-11 0zm-8 0zm11 0zm2-1zm5-1zm1 0zm-20 0zm12 0zm5-1zm-14-1zm7 0zm1 0zm8-1zm-3-1zm0-3zm-15-9zm2-5zm-3-2zm7 0zm-6-3zm8-1zm6-1zm5-1zm-11-1zm5 0zm-4-1zm10 0zm-7-1zm4-3zm4-1zm-4-2zm-10-4zm-2 0zm17 0zm0-2zm1 0zm-7 0zm7-1zm-6-2zm3-1zm1 0zm-21-2zm12-1zm2 0zm2-2zm-12 0zm1-1zm16 0zm-4-2zm4 0zm1 0zm-7-1zm-3 0zm-11-1zm22 0zm-11 0zm-4-1zm12-1zm-19 0zm9-1zm-8 0zm9 0zm12 0zm-19 0zm6-1zm10 0zm-4 0zm-11-1zm6-2zm-2 0zm9 0zm-9-1zm1 0zm3 0zm-3-2zm-5 0zm8-1zm-5-1zm6-1zm-8-1zm0-3zm4-2zm2-2zm9-1zm2-1zm0-188zm-14 0zm-9 0zm13-1zm8 0zm2-2zm-3-1zm-15-2zm-4-4zm-1-12zm43 2zm1 1zm2 1zm-4 1zm4 0zm1 0zm-9 2zm3 0zm5 0zm0 1zm-8 0zm4 0zm4 1zm1 0zm-2 1zm-3 0zm-6 0zm10 1zm-8 0zm-5 1zm-6 2zm17 0zm3 1zm-22 1zm11 1zm-8 1zm12 0zm-7 0zm-3 1zm5 0zm-1 1zm-10 1zm12 0zm-10 1zm-1 0zm21 160zm-15 22zm15 2zm-9 7zm9 2zm-15 5zm5 1zm7 0zm-1 1zm3 1zm-20 1zm8 1zm5 3zm7 1zm-16 0zm15 0zm-20 1zm1 0zm21 4zm-6 0zm-10 1zm-3 0zm-1 1zm3 1zm11 2zm-6 0zm-3 1zm-1 0zm17 0zm-7 0zm-1 0zm-5 0zm12 1zm-3 0zm1 0zm1 1zm-2 0zm-5 0zm4 0zm-8 1zm9 1zm-3 0zm2 0zm-1 2zm1 0zm-8 3zm1 0zm-3 0zm-4 1zm-4 0zm9 0zm1 0zm6 1zm-9 0zm-2 0zm2 1zm8 1zm-2 1zm-2 1zm-7 0zm10 0zm-9 1zm-5 0zm3 0zm0 1zm-1 0zm-2 1zm0 30zm19 3zm3 2zm-6 1zm-15 2zm4 1zm17 0zm-22 0zm8 1zm11 0zm-19 0zm2 0zm13 0zm-6 0zm-2 1zm0 1zm-2 1zm-1 0zm17 11zm-16 93zm-5 22zm0 11zm12 8zm6 2zm-13 1zm12 0zm2 2zm-8 2zm-10 2zm13 1zm-5 1zm1 0zm-3 0zm16 1zm-3 0zm-13 0zm4 1zm-6 0zm17 1zm-4 0zm-16 2zm20 0zm-21 0zm14 0zm-2 0zm-4 1zm-3 1zm-6 0zm4 0zm0 1zm5 1zm-5 1zm5 0zm-4 95zm5 1zm-1 2zm1 0zm-3 1zm7 1zm3 1zm-2 0zm-13 0zm-1 1zm4 1zm13 0zm-11 0zm10 2zm-7 0zm10 1zm-7 0zm-2 0zm-2 1zm-3 0zm11 0zm1 0zm-14 1zm14 0zm4 1zm-12 1zm8 0zm-4 2zm6 0zm-16 0zm13 1zm2 0zm-14 2zm14 1zm-18 1zm0 1zm8 3zm3 1zm-1 0zm-8 2zm7 1zm-8 0zm6 1zm-5 1zm2 1zm17 1zm-16 0zm15 1zm0 1zm-19 0zm0 3zm15 1zm0 2zm-5 5zm-1 0zm6 1zm-8 2zm-2 1zm-1 1zm0 1zm-2 2zm-3 1zm2 1zm-1 1zm18 2zm-9 12zm14-32zm5-4zm-6-3zm1-1zm4-2zm1-1zm-1 0zm0-1zm0-1zm-1-1zm5-2zm2-1zm1 0zm-2 0zm3-1zm9-2zm-7-2zm3-3zm2-9zm3-101zm-3 0zm-3-2zm-3-1zm-2 0zm-3-2zm0-1zm13 0zm-16 0zm1-1zm-7-2zm5-1zm14 0zm1 0zm-15-3zm16 0zm-7-1zm9-12zm-1-3zm-3-118zm-14-8zm2 0zm13-4zm-18-4zm3-6zm2-2zm-3-2zm-2 0zm3-1zm-4 0zm16-1zm-16 0zm4-2zm15-2zm-18 0zm-1 0zm11-2zm-2 0zm-6 0zm2 0zm5-1zm6-1zm1 0zm-7-1zm4 0zm-11-16zm8-10zm-3-5zm1 0zm-6-1zm1 0zm5-1zm6 0zm-15 0zm17-1zm-15 0zm11 0zm1 0zm-11-1zm1 0zm1 0zm5 0zm-3-1zm-6 0zm1 0zm-3 0zm15 0zm-14-1zm7 0zm4-2zm-1-1zm10-1zm-7-1zm-9 0zm-2 0zm9-1zm-3 0zm-5 0zm17 0zm-16 0zm14 0zm-16 0zm15-1zm-11 0zm14 0zm-16 0zm11 0zm-11-1zm14 0zm-1 0zm-9-1zm-1 0zm11 0zm3 0zm-16 0zm8 0zm-6-1zm-5 0zm5-1zm-5 0zm3 0zm8 0zm1 0zm4-1zm-5 0zm-13-1zm-1-2zm13 0zm2-1zm-6 0zm-7 0zm2-1zm-3 0zm10-1zm-2 0zm-1-2zm2-1zm-3-1zm-1 0zm-3-2zm14 0zm-10-2zm-1 0zm16-1zm-11 0zm12 0zm-16-1zm14-2zm-14-4zm-5 0zm16-4zm-8 0zm13-1zm-4 0zm-7-1zm3 0zm3 0zm-14 0zm12 0zm-3-1zm4 0zm-2-1zm-6-1zm6-2zm2-4zm2-3zm2-1zm1-1zm1-1zm-2-1zm-9-1zm1-1zm3-2zm0-3zm4-15zm2-146zm0-1zm-9-2zm-8-2zm1-1zm14 0zm1-1zm0-1zm-4 0zm-9-1zm-6 0zm18 0zm-5 0zm-6 0zm14 0zm-16 0zm12-1zm-2-1zm-14 0zm8 0zm-11-1zm14 0zm-5 0zm-2-1zm-5 0zm7-3zm24-12zm-1 4zm-6 16zm-2 1zm3 0zm3 0zm2 0zm-3 1zm11 0zm2 0zm-6 1zm3 0zm-6 1zm9 1zm-13 1zm15 0zm-11 1zm11 105zm-1 4zm-18 44zm10 8zm12 5zm-19 4zm1 0zm16 1zm-3 1zm-16 1zm3 0zm15 0zm-11 0zm-3 0zm0 1zm4 0zm2 1zm-8 1zm1 0zm6 0zm-4 1zm6 0zm-4 1zm2 1zm-1 0zm13 0zm-1 0zm-13 1zm2 1zm8 2zm-1 1zm-16 0zm20 0zm-1 1zm-1 0zm-2 1zm1 0zm-19 0zm6 1zm13 0zm1 0zm-14 1zm15 0zm-3 0zm-15 0zm20 2zm-19 0zm-4 1zm9 0zm13 0zm-13 1zm-5 0zm3 0zm3 0zm12 1zm-12 3zm-2 0zm0 2zm-5 1zm6 0zm3 0zm-2 1zm3 0zm7 1zm-8 2zm1 1zm5 0zm4 1zm-6 0zm-4 0zm-7 0zm14 1zm2 1zm-4 1zm-8 0zm9 1zm2 0zm-18 1zm18 0zm-5 1zm-7 0zm-8 0zm22 0zm-5 1zm-3 0zm-7 0zm11 1zm-18 0zm3 1zm20 0zm-2 0zm-14 1zm3 0zm12 0zm-8 1zm7 0zm-14 1zm-1 0zm15 1zm1 0zm-16 1zm-5 0zm11 0zm-8 1zm3 0zm3 0zm-2 0zm-8 0zm14 0zm-3 11zm4 27zm-3 3zm-5 0zm11 1zm-1 0zm6 1zm-21 0zm14 0zm3 1zm-16 0zm11 0zm-8 2zm17 0zm-13 0zm6 0zm-8 7zm4 0zm-5 2zm6 0zm0 1zm6 2zm-12 3zm3 1zm-5 7zm16 10zm-12 8zm14 4zm-1 0zm-20 3zm6 1zm15 3zm-4 1zm-7 1zm7 1zm3 3zm-4 1zm-8 4zm11 1zm-2 0zm0 2zm3 0zm1 2zm-1 1zm-15 3zm9 1zm7 4zm-11 3zm1 0zm-1 1zm-5 4zm5 1zm10 0zm1 2zm-1 1zm-2 2zm2 1zm-9 1zm8 12zm-10 16zm2 6zm7 24zm-19 2zm20 1zm-12 3zm14 1zm-21 6zm2 4zm15 1zm-2 1zm-1 2zm5 0zm-18 3zm12 0zm-2 2zm-6 1zm1 0zm-6 0zm9 1zm-8 0zm3 2zm2 0zm-7 1zm22 83zm0 2zm-3 1zm1 1zm-4 1zm-3 3zm-1 1zm-12 10zm-1 4zm0 1zm37-16zm-7-13zm4-2zm0-2zm3 0zm6 0zm-6-1zm1 0zm1-3zm3 0zm1-1zm4-3zm-13-10zm-6-70zm-1-1zm-1-1zm-2 0zm22-1zm-22 0zm1-2zm2-1zm3 0zm-4-2zm5-2zm1-1zm2-1zm-2-1zm4-3zm-2-1zm11-4zm-7 0zm3 0zm5-1zm-10 0zm0-2zm5-1zm-5-2zm-6-1zm8-2zm-6 0zm14-3zm-1-2zm-21-5zm21-1zm-7 0zm9-11zm-8-5zm-5 0zm-4-9zm7-2zm6-1zm-7 0zm4-1zm1-2zm-14-1zm7 0zm-6 0zm3-1zm-5 0zm11 0zm-13 0zm6-1zm10 0zm-12-1zm-2 0zm8-2zm-9 0zm15 0zm-15-1zm0-1zm15 0zm-16 0zm14 0zm5-1zm-2-3zm0-1zm2-1zm-1-1zm-15 0zm11 0zm-13-1zm18 0zm-15-3zm-2-1zm17 0zm1 0zm-4-1zm-13 0zm13-1zm-10-1zm14 0zm3-1zm-21-1zm17 0zm4-2zm-2 0zm-21 0zm5-1zm-2-1zm17-1zm-20 0zm16-2zm-15 0zm17-2zm-17-4zm16-2zm1-1zm3 0zm0-1zm-18-1zm1 0zm-1-1zm18-2zm-18-2zm15-1zm3 0zm-1-1zm2 0zm-4-2zm4-1zm-20-1zm-1-1zm17-1zm2-2zm1 0zm-19 0zm1 0zm19-1zm-22-1zm1-1zm21 0zm-19-1zm6 0zm11-2zm2-1zm-16-1zm-1 0zm18-1zm-3 0zm-19-1zm21 0zm-14-2zm-1-1zm14 0zm-12-1zm-4 0zm18-1zm-14 0zm-9-1zm6 0zm17 0zm-14 0zm-4 0zm18-1zm-22-1zm2 0zm-1-1zm8-1zm-6 0zm9-3zm-1-1zm-5-2zm4-1zm-3-3zm0-2zm1 0zm-6-1zm-1-2zm3 0zm-4-1zm7 0zm-5-3zm6 0zm-2 0zm-6-1zm-1-1zm5-47zm16-10zm-16-2zm0-2zm11 0zm-9-1zm11 0zm3 0zm-8 0zm9-1zm-10 0zm0-2zm-6 0zm11-2zm-1-1zm-14-1zm4-2zm1 0zm-4-1zm8-2zm-4-1zm1-2zm11-1zm0-3zm-4-3zm-7-2zm-1 0zm13-3zm-15-5zm-4-3zm22 0zm-8-13zm8 0zm-16 0zm7-4zm7-8zm-2-2zm-5-2zm2-2zm-4 0zm11-1zm-8-1zm1-1zm-13-2zm12-1zm8 0zm-1 0zm-7-2zm-5 0zm1 0zm2 0zm3-2zm2-1zm-1 0zm5-2zm-19-1zm17-2zm3 0zm-2-2zm-8 0zm0-1zm-1-1zm-2-1zm-3 0zm7 0zm-2-3zm9 0zm-14-2zm5-1zm2 0zm-8 0zm15 0zm-4-1zm-10 0zm6 0zm0-3zm-4 0zm5-2zm-3-1zm4 0zm0-2zm8 0zm-13-1zm-10-2zm21 0zm-6-2zm-4 0zm9-1zm-4-3zm-4-1zm-2 0zm6-1zm2-1zm-9-1zm6 0zm1-1zm-8-1zm11 0zm-11-1zm10 0zm-2-1zm-2 0zm7-1zm-5 0zm1 0zm-9 0zm5-3zm3 0zm-5 0zm2-3zm5 0zm-2-1zm-4-2zm-7-1zm17-1zm-11 0zm-4-2zm8-1zm2-2zm-3-2zm6-1zm2 0zm1-1zm-2-2zm-2-1zm3-2zm-14-56zm-6-3zm15-1zm-9 0zm3 0zm-4 0zm-5 0zm-2 0zm9-2zm-5-1zm8-2zm12 66zm1 3zm0 4zm3 0zm-4 0zm9 3zm-1 2zm1 0zm-7 0zm9 2zm-1 2zm-4 1zm6 0zm-10 0zm10 1zm-8 1zm10 3zm2 3zm-10 0zm5 1zm4 1zm-14 1zm-1 0zm7 1zm11 0zm-3 1zm2 0zm0 1zm-16 0zm11 1zm4 1zm1 1zm2 1zm-2 0zm-9 0zm-2 0zm-1 0zm11 3zm-7 0zm-2 1zm-5 0zm7 0zm9 1zm-7 2zm6 1zm-10 1zm-6 2zm6 0zm14 1zm-2 1zm-12 0zm-4 1zm18 1zm-21 0zm4 2zm12 1zm-4 1zm3 0zm6 2zm-5 1zm-2 0zm5 1zm-4 1zm1 0zm-3 2zm-2 4zm-9 0zm11 3zm-11 2zm17 0zm-19 0zm17 0zm5 1zm1 0zm-16 0zm12 2zm-18 2zm2 1zm-1 1zm14 0zm-13 1zm-2 1zm12 0zm7 0zm2 1zm-20 1zm-2 0zm8 0zm15 0zm0 1zm-19 2zm19 0zm-21 1zm-2 1zm22 0zm-13 0zm4 0zm-4 3zm-1 1zm-4 0zm-1 1zm17 1zm-12 0zm1 0zm11 1zm-12 0zm-5 1zm7 0zm-1 2zm0 1zm1 0zm3 1zm-8 0zm-2 0zm11 1zm0 2zm-5 0zm10 0zm-18 1zm10 0zm10 1zm-9 0zm6 1zm-5 0zm-10 1zm14 4zm-12 0zm9 3zm2 3zm1 0zm-6 1zm-5 1zm3 1zm10 0zm3 1zm-10 0zm3 0zm0 1zm1 0zm-2 1zm9 0zm-4 0zm-4 1zm8 0zm-5 0zm5 1zm-12 1zm2 1zm-6 0zm8 1zm4 0zm-5 0zm8 0zm-4 1zm-2 0zm-5 0zm11 0zm-13 1zm10 0zm-7 1zm6 1zm-5 0zm0 1zm-4 1zm2 1zm-3 1zm15 0zm-16 1zm-3 2zm17 0zm-8 0zm8 2zm-16 0zm1 1zm8 0zm8 1zm1 1zm-10 1zm1 0zm9 0zm-7 0zm1 1zm6 0zm-22 0zm20 1zm-5 0zm1 0zm-14 2zm16 0zm-2 0zm-11 0zm16 1zm-15 0zm1 0zm0 2zm13 0zm2 0zm-22 0zm1 0zm15 1zm6 1zm-2 0zm-11 0zm-5 1zm6 1zm-3 0zm11 1zm-8 1zm8 1zm3 2zm-1 10zm-2 2zm3 2zm-17 2zm16 1zm1 32zm-11 2zm11 0zm-12 2zm-1 1zm3 0zm-6 1zm12 2zm1 0zm-6 0zm0 1zm9 0zm-2 1zm-13 2zm14 0zm-12 1zm3 2zm11 0zm-19 2zm16 2zm-19 1zm11 1zm-7 0zm-3 2zm17 0zm-18 0zm0 1zm10 1zm-8 2zm7 1zm-2 1zm11 1zm-19 1zm1 2zm9 2zm-4 1zm-2 3zm7 0zm4 1zm-2 0zm10 0zm-8 1zm-15 3zm0 3zm1 3zm4 3zm-5 0zm11 0zm10 13zm-18 6zm7 1zm13 29zm0 1zm-2 2zm-13 1zm7 1zm6 0zm-15 1zm15 1zm-2 1zm-2 1zm0 2zm-15 0zm8 3zm6 0zm-9 1zm-2 2zm7 1zm-3 3zm3 0zm-12 1zm7 1zm-2 0zm5 1zm-3 0zm4 1zm-7 1zm2 2zm3 1zm-6 0zm-1 0zm-2 0zm2 1zm18 99zm-10 8zm6 0zm-2 0zm-2 2zm-2 2zm-1 0zm-2 0zm-2 2zm1 0zm-3 0zm2 1zm-3 1zm-1 10zm20 4zm23-3zm1-15zm-16-7zm-4 0zm-1-1zm2-1zm13-5zm0-4zm-11-6zm15-102zm-9-1zm10 0zm-16-1zm13-1zm-2 0zm3 0zm-11-1zm10 0zm4 0zm-21 0zm12-1zm-3 0zm-8 0zm15 0zm2-2zm-2 0zm-7-1zm-7-1zm20 0zm-16 0zm-4-1zm14-1zm3 0zm-4-3zm-1 0zm3-1zm-7-1zm3-1zm-11-4zm20-4zm-16 0zm8-1zm-3-2zm10-1zm-4-1zm0-1zm6 0zm-4-3zm-1-1zm3-3zm-1-6zm0-4zm3-1zm-2 0zm-8-5zm-4 0zm9-4zm4-7zm1 0zm-2-1zm2-3zm-2-3zm2-1zm-3-4zm-19-2zm22-1zm-8 0zm7-1zm1-2zm-10-1zm8-2zm-2 0zm-19-3zm12 0zm9 0zm-7-1zm3-3zm-15-3zm14-2zm3-2zm-7-1zm-5 0zm2-1zm5-2zm1-1zm-1 0zm-10-1zm10 0zm4-4zm-12-2zm1 0zm-3 0zm3-1zm-2-1zm-4 0zm3 0zm-2 0zm1-1zm1 0zm0-2zm18-19zm-3-6zm-2-1zm-2-1zm-5-4zm8-1zm3 0zm-4 0zm-7 0zm1-1zm0-1zm-10-2zm12-1zm0-1zm-5 0zm14 0zm-5 0zm-7-1zm7 0zm-13-1zm1-1zm18 0zm-16 0zm10 0zm-5 0zm0-1zm-6 0zm10 0zm-10-2zm16-1zm1 0zm-16 0zm-6-1zm17-2zm-18-1zm20 0zm-10-1zm-5 0zm-2 0zm3 0zm3 0zm7 0zm4-1zm-13 0zm-2-1zm5 0zm-2-1zm-5-1zm14 0zm-13-1zm17 0zm-19 0zm6 0zm-2-2zm-1-2zm12 0zm-12-1zm1 0zm3 0zm-7 0zm-2-1zm11 0zm3 0zm8 0zm-21 0zm18 0zm4-1zm-18-1zm13-1zm-1-1zm2 0zm-19 0zm14 0zm-8 0zm1-1zm-3 0zm17 0zm-2 0zm-6 0zm-13 0zm22 0zm-19 0zm-2-1zm19 0zm-16-1zm2 0zm17 0zm-16 0zm1-1zm-8 0zm22 0zm-10-1zm-1-1zm-6 0zm1 0zm3-1zm11 0zm-1 0zm-19-1zm6-1zm10 0zm-13-1zm7-1zm6-1zm-12-1zm15 0zm-14 0zm-2-2zm-3-2zm16-2zm-14-1zm13-2zm-1-1zm3-1zm-1 0zm-1-1zm-3-2zm0-1zm-1-1zm4 0zm-14-1zm11-1zm-7 0zm6-1zm6-1zm-6-3zm1-1zm-6 0zm6-1zm0-2zm-3 0zm-4-1zm-3 0zm4-1zm-5 0zm9 0zm-3-1zm3 0zm-7-2zm3 0zm3 0zm-3-2zm3-1zm3-3zm-9 0zm2-2zm-4 0zm5-1zm-1 0zm-4-1zm-1 0zm7-1zm-3 0zm1-2zm-4-1zm3 0zm-1-1zm8-4zm-10-3zm0-2zm6-21zm11-23zm-18-28zm43 140zm-18 7zm1 0zm0 2zm-1 2zm1 1zm1 0zm-2 1zm4 1zm4 4zm-3 1zm0 1zm2 3zm-2 1zm-3 4zm7 3zm-1 0zm-9 0zm2 0zm8 1zm2 0zm-2 1zm2 3zm0 1zm3 1zm1 0zm-6 1zm-6 5zm14 3zm-9 1zm12 4zm-1 1zm-2 1zm3 2zm1 2zm1 4zm-13 6zm5 10zm-5 0zm6 1zm-2 1zm4 1zm-2 0zm-15 1zm16 4zm1 6zm-18 1zm19 4zm-19 4zm2 1zm1 0zm-1 3zm3 7zm-1 1zm4 2zm-4 1zm1 2zm1 1zm-1 0zm0 4zm-5 0zm6 0zm16 1zm-16 10zm-2 1zm2 0zm-1 1zm0 1zm3 3zm-7 1zm7 1zm0 3zm-4 2zm-4 1zm8 0zm-5 0zm-3 1zm4 2zm-3 0zm11 0zm-12 2zm0 1zm3 6zm3 1zm-6 2zm4 0zm1 1zm0 1zm0 2zm-4 2zm1 0zm-2 2zm12 0zm-12 4zm22 105zm-2 3zm-1 1zm-2 0zm-5 0zm0 1zm2 1zm-2 0zm-7 3zm-1 1zm-1 1zm5 23zm23-35zm-2 0zm1 0zm2-1zm6 0zm4-1zm-3 0zm-3-1zm1 0zm9-1zm-9 0zm8-1zm-4-2zm5-1zm1-23zm-3-93zm-11-31zm8-2zm-3-1zm-2 0zm0-2zm-3 0zm10 0zm-2-2zm-5-1zm11-4zm-17 0zm7 0zm-7-1zm17 0zm-22-1zm21 0zm-19-1zm-3-1zm22-2zm0-1zm-1-2zm-14-2zm-1 0zm-5 0zm20-1zm-2-1zm-2 0zm1 0zm0-2zm-16-1zm-1-1zm1-1zm13-2zm-14 0zm0-1zm14-1zm-8-1zm5-3zm-1-2zm9-1zm-9 0zm0-2zm-8-2zm7 0zm0-1zm-2-2zm2-1zm-2 0zm1-1zm-3-2zm-1-2zm-3-3zm2 0zm-1-1zm1-2zm5-3zm-9 0zm30 39zm-6 7zm2 6zm2 5zm-3 1zm4 1zm1 2zm2 1zm-1 5zm1 6zm2 2zm0 1zm1 3zm-1 1zm8 3zm-4 1zm-1 2zm1 1zm2 2zm-3 3zm3 0zm-1 0zm2 2zm-2 0zm0 1zm2 8zm2 4zm-2 0zm2 3zm1 3zm-2 2zm0 2zm1 1zm-1 2zm2 1zm-3 1zm1 2zm-2 5zm0 2zm-1 3zm0 2zm1 5zm-1 3zm1 2zm-2 1zm-3 4zm3 4zm-6 2zm2 0zm4 2zm-1 0zm1 1zm-2 2zm-1 0zm2 4zm-2 3zm-1 4zm-1 1zm-1 2zm2 0zm0 2zm-2 2zm-1 3zm-3 3zm4 3zm-1 5zm-5 1zm5 2zm0 1zm-3 3zm2 0zm-1 3zm-3 2zm0 1zm-2 0zm7 4zm-2 0zm-3 2zm3 0zm20-41z"/><path fill="none" stroke="#c4c4c4" stroke-width="0.8" stroke-dasharray="2.6 5.8" d="M58.0 0V427.7M116.0 0V427.7M174.0 0V427.7M232.0 0V427.7M290.0 0V427.7M0 71.3H348.0M0 142.6H348.0M0 213.8H348.0M0 285.1H348.0M0 356.4H348.0"/><g shape-rendering="crispEdges"><g transform="translate(3.30 0.68) scale(7.620 7.670)"><path fill="#0000bf" d="M26 16h1v1h-1zM34 48h1v1h-1zM30 50h1v1h-1zM30 51h2v1h-2zM31 52h1v1h-1zM36 52h1v1h-1zM25 53h2v1h-2zM28 53h1v1h-1zM32 53h1v1h-1zM26 54h1v1h-1zM32 54h2v1h-2zM35 54h1v1h-1z"/><path fill="#00009f" d="M27 16h1v1h-1zM26 17h2v1h-2zM27 18h1v1h-1zM41 41h1v1h-1zM33 42h1v1h-1zM34 44h1v1h-1zM20 47h1v1h-1zM29 48h1v1h-1zM25 49h1v1h-1zM29 49h1v1h-1zM31 50h1v1h-1zM34 51h1v1h-1zM33 53h1v1h-1z"/><path fill="#0030ff" d="M28 16h1v1h-1zM29 18h1v1h-1zM32 18h1v1h-1zM29 20h1v1h-1zM31 20h1v1h-1zM25 23h1v1h-1zM39 25h1v1h-1zM24 29h1v1h-1zM34 29h1v1h-1zM34 31h1v1h-1zM34 32h2v1h-2zM35 33h1v1h-1zM40 33h2v1h-2zM30 34h4v1h-4zM32 35h2v1h-2zM39 35h1v1h-1zM44 35h1v1h-1zM32 36h1v1h-1zM37 36h1v1h-1zM30 37h1v1h-1zM35 38h1v1h-1zM29 39h1v1h-1zM31 39h1v1h-1zM26 40h1v1h-1zM27 41h1v1h-1zM31 42h1v1h-1zM25 45h1v1h-1zM24 47h1v1h-1zM39 49h2v1h-2zM27 50h1v1h-1zM22 52h1v1h-1zM23 53h1v1h-1zM22 54h1v1h-1z"/><path fill="#0000af" d="M25 17h1v1h-1zM35 48h2v1h-2zM30 49h1v1h-1zM24 50h1v1h-1zM43 50h1v1h-1zM30 52h1v1h-1zM35 52h1v1h-1zM34 53h1v1h-1zM21 54h1v1h-1zM34 55h1v1h-1z"/><path fill="#0000df" d="M28 17h1v1h-1zM23 21h1v1h-1zM31 32h2v1h-2zM34 35h2v1h-2zM41 35h1v1h-1zM34 36h1v1h-1zM38 36h2v1h-2zM43 36h1v1h-1zM34 37h1v1h-1zM39 37h1v1h-1zM33 38h2v1h-2zM37 38h1v1h-1zM41 38h1v1h-1zM35 39h2v1h-2zM39 39h2v1h-2zM42 39h2v1h-2zM34 40h1v1h-1zM37 40h1v1h-1zM37 41h1v1h-1zM39 41h2v1h-2zM43 41h1v1h-1zM34 42h1v1h-1zM31 43h3v1h-3zM42 43h1v1h-1zM28 44h1v1h-1zM35 44h1v1h-1zM37 44h2v1h-2zM42 44h1v1h-1zM44 44h1v1h-1zM42 45h1v1h-1zM44 45h1v1h-1zM20 46h1v1h-1zM31 46h1v1h-1zM36 46h2v1h-2zM40 46h1v1h-1zM42 46h3v1h-3zM22 47h1v1h-1zM35 47h1v1h-1zM37 47h1v1h-1zM41 47h1v1h-1zM20 48h1v1h-1zM32 48h1v1h-1zM38 48h1v1h-1zM41 48h1v1h-1zM28 49h1v1h-1zM35 49h1v1h-1zM37 49h2v1h-2zM41 49h2v1h-2zM26 50h1v1h-1zM33 50h1v1h-1zM24 51h1v1h-1zM33 51h1v1h-1zM36 51h2v1h-2zM40 51h2v1h-2zM43 51h1v1h-1zM23 52h1v1h-1zM26 52h1v1h-1zM29 52h1v1h-1zM32 52h1v1h-1zM34 52h1v1h-1zM37 52h1v1h-1zM24 53h1v1h-1zM27 53h1v1h-1zM31 53h1v1h-1zM25 54h1v1h-1zM29 54h1v1h-1zM37 54h2v1h-2zM40 54h2v1h-2zM24 55h1v1h-1zM28 55h1v1h-1zM39 55h1v1h-1zM41 55h1v1h-1z"/><path fill="#0080ff" d="M29 17h1v1h-1zM24 19h1v1h-1zM23 20h2v1h-2zM33 20h1v1h-1zM25 22h1v1h-1zM29 22h1v1h-1zM24 24h1v1h-1zM24 25h1v1h-1zM23 26h1v1h-1zM25 28h1v1h-1zM23 29h1v1h-1zM36 29h1v1h-1zM34 30h2v1h-2zM37 30h1v1h-1zM40 31h2v1h-2zM38 32h1v1h-1zM39 33h1v1h-1zM37 35h1v1h-1zM28 36h1v1h-1zM36 36h1v1h-1zM28 38h1v1h-1zM28 39h1v1h-1zM21 40h2v1h-2zM24 40h1v1h-1zM31 40h1v1h-1zM20 41h1v1h-1zM28 41h1v1h-1zM19 51h1v1h-1zM22 51h1v1h-1zM19 52h1v1h-1zM21 52h1v1h-1zM20 53h1v1h-1zM22 55h1v1h-1z"/><path fill="#40ffbf" d="M22 18h1v1h-1zM27 22h1v1h-1zM34 23h1v1h-1zM27 25h1v1h-1zM36 27h1v1h-1zM37 28h1v1h-1zM27 29h1v1h-1zM27 30h1v1h-1zM27 32h1v1h-1zM27 43h1v1h-1z"/><path fill="#30ffcf" d="M23 18h1v1h-1zM27 20h1v1h-1zM27 21h1v1h-1zM32 22h1v1h-1zM27 26h1v1h-1zM24 32h1v1h-1zM23 34h2v1h-2zM22 37h1v1h-1zM22 38h1v1h-1z"/><path fill="#00ffff" d="M24 18h1v1h-1zM25 21h1v1h-1zM32 21h1v1h-1zM31 22h1v1h-1zM35 23h1v1h-1zM35 28h1v1h-1zM28 32h1v1h-1zM21 33h1v1h-1zM27 33h1v1h-1zM28 34h1v1h-1zM25 37h1v1h-1zM23 38h1v1h-1zM22 41h2v1h-2z"/><path fill="#00efff" d="M25 18h1v1h-1zM33 21h1v1h-1zM36 23h1v1h-1zM36 28h1v1h-1zM37 29h1v1h-1zM26 30h1v1h-1zM39 30h1v1h-1zM30 31h1v1h-1zM26 33h1v1h-1zM25 34h1v1h-1zM21 38h1v1h-1zM21 44h1v1h-1z"/><path fill="#00afff" d="M26 18h1v1h-1zM32 20h1v1h-1zM23 23h1v1h-1zM23 24h1v1h-1zM26 28h1v1h-1zM38 29h1v1h-1zM40 29h1v1h-1zM23 30h1v1h-1zM38 33h1v1h-1zM25 35h2v1h-2zM24 36h1v1h-1zM23 40h1v1h-1zM27 40h1v1h-1zM32 55h1v1h-1z"/><path fill="#0000ef" d="M28 18h1v1h-1zM26 24h2v1h-2zM32 31h1v1h-1zM42 35h1v1h-1zM44 36h1v1h-1zM31 37h1v1h-1zM33 37h1v1h-1zM30 38h1v1h-1zM43 38h1v1h-1zM38 39h1v1h-1zM35 40h1v1h-1zM38 40h1v1h-1zM44 40h1v1h-1zM32 41h1v1h-1zM34 41h2v1h-2zM38 41h1v1h-1zM42 41h1v1h-1zM44 41h1v1h-1zM36 42h1v1h-1zM38 42h1v1h-1zM42 42h3v1h-3zM35 43h3v1h-3zM41 43h1v1h-1zM44 43h1v1h-1zM23 44h1v1h-1zM27 44h1v1h-1zM33 44h1v1h-1zM36 44h1v1h-1zM39 44h1v1h-1zM33 45h3v1h-3zM38 45h2v1h-2zM43 45h1v1h-1zM38 46h2v1h-2zM30 47h1v1h-1zM36 47h1v1h-1zM39 47h1v1h-1zM42 47h1v1h-1zM44 47h1v1h-1zM21 48h1v1h-1zM33 48h1v1h-1zM39 48h1v1h-1zM42 48h1v1h-1zM44 48h1v1h-1zM27 49h1v1h-1zM32 49h1v1h-1zM34 49h1v1h-1zM25 50h1v1h-1zM29 50h1v1h-1zM34 50h3v1h-3zM38 50h2v1h-2zM42 50h1v1h-1zM29 51h1v1h-1zM32 51h1v1h-1zM35 51h1v1h-1zM39 51h1v1h-1zM42 51h1v1h-1zM44 51h1v1h-1zM33 52h1v1h-1zM38 52h2v1h-2zM42 52h1v1h-1zM29 53h2v1h-2zM39 53h1v1h-1zM41 53h1v1h-1zM24 54h1v1h-1zM27 54h1v1h-1zM34 54h1v1h-1zM42 54h1v1h-1zM21 55h1v1h-1zM26 55h2v1h-2zM33 55h1v1h-1zM35 55h1v1h-1zM42 55h1v1h-1z"/><path fill="#0020ff" d="M30 18h1v1h-1zM29 21h1v1h-1zM30 22h1v1h-1zM27 23h2v1h-2zM25 24h1v1h-1zM23 28h1v1h-1zM25 30h1v1h-1zM33 31h1v1h-1zM35 31h2v1h-2zM42 32h1v1h-1zM31 33h1v1h-1zM33 33h2v1h-2zM39 34h1v1h-1zM42 34h1v1h-1zM22 35h1v1h-1zM30 35h1v1h-1zM38 35h1v1h-1zM30 36h2v1h-2zM29 37h1v1h-1zM41 37h1v1h-1zM29 38h1v1h-1zM31 38h2v1h-2zM36 38h1v1h-1zM30 39h1v1h-1zM32 39h1v1h-1zM31 41h1v1h-1zM28 43h2v1h-2zM27 45h1v1h-1zM21 46h1v1h-1zM33 46h2v1h-2zM32 47h1v1h-1zM30 48h1v1h-1zM37 48h1v1h-1zM28 50h1v1h-1zM27 51h1v1h-1zM28 52h1v1h-1zM43 52h1v1h-1zM22 53h1v1h-1zM23 55h1v1h-1z"/><path fill="#0040ff" d="M31 18h1v1h-1zM22 19h1v1h-1zM29 19h2v1h-2zM32 19h1v1h-1zM30 21h1v1h-1zM26 22h1v1h-1zM28 22h1v1h-1zM26 23h1v1h-1zM24 26h1v1h-1zM35 29h1v1h-1zM36 32h1v1h-1zM40 32h2v1h-2zM30 33h1v1h-1zM32 33h1v1h-1zM40 34h2v1h-2zM43 34h1v1h-1zM21 35h1v1h-1zM23 35h1v1h-1zM29 35h1v1h-1zM31 35h1v1h-1zM36 35h1v1h-1zM29 36h1v1h-1zM33 36h1v1h-1zM35 36h1v1h-1zM32 37h1v1h-1zM36 37h3v1h-3zM42 37h1v1h-1zM33 39h1v1h-1zM25 40h1v1h-1zM33 40h1v1h-1zM30 43h1v1h-1zM31 44h1v1h-1zM29 45h1v1h-1zM31 45h1v1h-1zM24 46h2v1h-2zM29 46h2v1h-2zM31 47h1v1h-1zM33 47h1v1h-1zM31 48h1v1h-1zM40 48h1v1h-1zM28 51h1v1h-1zM27 52h1v1h-1zM21 53h1v1h-1zM31 55h1v1h-1z"/><path fill="#80ff80" d="M23 19h1v1h-1zM27 19h1v1h-1zM34 22h1v1h-1zM29 23h1v1h-1zM27 27h1v1h-1zM33 29h1v1h-1zM28 31h1v1h-1zM24 33h2v1h-2zM26 42h1v1h-1z"/><path fill="#60ff9f" d="M25 19h1v1h-1zM28 20h1v1h-1zM33 22h1v1h-1zM28 24h1v1h-1zM37 24h1v1h-1zM34 25h1v1h-1zM40 28h1v1h-1zM32 29h1v1h-1zM31 30h1v1h-1zM29 31h1v1h-1zM22 32h1v1h-1zM22 33h1v1h-1zM23 37h1v1h-1z"/><path fill="#00dfff" d="M26 19h1v1h-1zM24 22h1v1h-1zM26 26h1v1h-1zM26 27h1v1h-1zM26 31h1v1h-1zM25 32h1v1h-1zM26 34h1v1h-1zM26 37h1v1h-1zM25 38h1v1h-1zM20 42h1v1h-1zM20 43h1v1h-1zM20 44h1v1h-1z"/><path fill="#0000ff" d="M28 19h1v1h-1zM25 25h1v1h-1zM23 27h1v1h-1zM30 32h1v1h-1zM33 32h1v1h-1zM42 33h2v1h-2zM40 35h1v1h-1zM43 35h1v1h-1zM20 36h1v1h-1zM40 36h3v1h-3zM20 37h1v1h-1zM40 37h1v1h-1zM43 37h2v1h-2zM38 38h3v1h-3zM42 38h1v1h-1zM44 38h1v1h-1zM34 39h1v1h-1zM37 39h1v1h-1zM41 39h1v1h-1zM44 39h1v1h-1zM32 40h1v1h-1zM36 40h1v1h-1zM39 40h5v1h-5zM33 41h1v1h-1zM36 41h1v1h-1zM32 42h1v1h-1zM35 42h1v1h-1zM37 42h1v1h-1zM39 42h3v1h-3zM34 43h1v1h-1zM38 43h3v1h-3zM43 43h1v1h-1zM32 44h1v1h-1zM40 44h2v1h-2zM43 44h1v1h-1zM32 45h1v1h-1zM36 45h2v1h-2zM40 45h2v1h-2zM22 46h2v1h-2zM32 46h1v1h-1zM35 46h1v1h-1zM41 46h1v1h-1zM21 47h1v1h-1zM25 47h1v1h-1zM34 47h1v1h-1zM38 47h1v1h-1zM40 47h1v1h-1zM43 47h1v1h-1zM43 48h1v1h-1zM26 49h1v1h-1zM31 49h1v1h-1zM33 49h1v1h-1zM36 49h1v1h-1zM43 49h2v1h-2zM32 50h1v1h-1zM37 50h1v1h-1zM40 50h2v1h-2zM20 51h1v1h-1zM23 51h1v1h-1zM25 51h2v1h-2zM38 51h1v1h-1zM24 52h2v1h-2zM40 52h2v1h-2zM35 53h4v1h-4zM40 53h1v1h-1zM42 53h1v1h-1zM23 54h1v1h-1zM28 54h1v1h-1zM36 54h1v1h-1zM39 54h1v1h-1zM25 55h1v1h-1zM36 55h3v1h-3zM40 55h1v1h-1z"/><path fill="#0070ff" d="M31 19h1v1h-1zM30 20h1v1h-1zM34 21h1v1h-1zM24 23h1v1h-1zM23 25h1v1h-1zM25 26h1v1h-1zM24 27h1v1h-1zM24 28h1v1h-1zM25 29h2v1h-2zM40 30h2v1h-2zM37 31h2v1h-2zM28 33h2v1h-2zM36 33h2v1h-2zM22 34h1v1h-1zM29 34h1v1h-1zM34 34h2v1h-2zM28 37h1v1h-1zM35 37h1v1h-1zM25 39h1v1h-1zM28 40h1v1h-1zM24 44h2v1h-2zM29 44h2v1h-2zM26 45h1v1h-1zM20 52h1v1h-1zM43 53h1v1h-1zM30 54h1v1h-1zM30 55h1v1h-1z"/><path fill="#009fff" d="M25 20h1v1h-1zM36 24h1v1h-1zM24 31h2v1h-2zM27 34h1v1h-1zM38 34h1v1h-1zM24 35h1v1h-1zM27 35h1v1h-1zM22 36h2v1h-2zM26 36h2v1h-2zM24 38h1v1h-1zM26 38h1v1h-1zM21 39h1v1h-1zM24 39h1v1h-1zM26 39h1v1h-1zM22 44h1v1h-1z"/><path fill="#70ff8f" d="M26 20h1v1h-1zM38 26h2v1h-2zM40 27h1v1h-1zM27 28h1v1h-1zM38 28h2v1h-2zM30 30h1v1h-1zM27 31h1v1h-1zM26 41h1v1h-1zM21 42h1v1h-1zM27 42h1v1h-1zM21 43h1v1h-1z"/><path fill="#0060ff" d="M24 21h1v1h-1zM31 21h1v1h-1zM25 27h1v1h-1zM32 30h2v1h-2zM36 30h1v1h-1zM39 31h1v1h-1zM29 32h1v1h-1zM37 32h1v1h-1zM39 32h1v1h-1zM21 34h1v1h-1zM36 34h1v1h-1zM28 35h1v1h-1zM21 36h1v1h-1zM21 37h1v1h-1zM22 39h1v1h-1zM20 40h1v1h-1zM29 40h2v1h-2zM21 41h1v1h-1zM29 41h2v1h-2zM28 42h3v1h-3zM24 45h1v1h-1zM28 45h1v1h-1zM30 45h1v1h-1zM26 46h1v1h-1zM21 51h1v1h-1zM31 54h1v1h-1zM29 55h1v1h-1z"/><path fill="#00bfff" d="M26 21h1v1h-1zM26 25h1v1h-1zM39 29h1v1h-1zM24 30h1v1h-1zM38 30h1v1h-1zM31 31h1v1h-1zM37 34h1v1h-1zM25 36h1v1h-1zM24 37h1v1h-1zM27 37h1v1h-1zM27 38h1v1h-1zM23 39h1v1h-1zM27 39h1v1h-1zM24 41h1v1h-1z"/><path fill="#20ffdf" d="M28 21h1v1h-1zM35 24h1v1h-1zM37 27h1v1h-1zM26 32h1v1h-1zM26 43h1v1h-1z"/><path fill="#bfff40" d="M30 23h2v1h-2zM28 28h1v1h-1zM29 30h1v1h-1zM23 31h1v1h-1zM23 32h1v1h-1zM25 42h1v1h-1z"/><path fill="#9fff60" d="M32 23h1v1h-1zM29 24h1v1h-1zM38 25h1v1h-1zM28 26h1v1h-1zM35 27h1v1h-1zM28 30h1v1h-1zM23 33h1v1h-1zM25 43h1v1h-1z"/><path fill="#dfff20" d="M33 23h1v1h-1zM34 24h1v1h-1zM25 41h1v1h-1z"/><path fill="#ffbf00" d="M30 24h1v1h-1zM28 27h1v1h-1zM24 42h1v1h-1z"/><path fill="#ffdf00" d="M31 24h1v1h-1zM37 25h1v1h-1zM22 43h1v1h-1z"/><path fill="#ff8000" d="M32 24h2v1h-2zM32 28h1v1h-1z"/><path fill="#ffff00" d="M38 24h1v1h-1zM35 25h1v1h-1zM36 26h1v1h-1zM39 27h1v1h-1zM31 29h1v1h-1z"/><path fill="#afff50" d="M28 25h1v1h-1zM30 28h1v1h-1zM34 28h1v1h-1zM30 29h1v1h-1z"/><path fill="#ff8f00" d="M29 25h2v1h-2zM33 25h1v1h-1zM32 26h1v1h-1zM31 28h1v1h-1z"/><path fill="#ff4000" d="M31 25h1v1h-1zM30 26h2v1h-2z"/><path fill="#ff5000" d="M32 25h1v1h-1zM33 26h1v1h-1zM31 27h1v1h-1z"/><path fill="#ffcf00" d="M36 25h1v1h-1zM37 26h1v1h-1zM29 27h1v1h-1zM33 28h1v1h-1zM22 42h1v1h-1zM24 43h1v1h-1z"/><path fill="#ff9f00" d="M29 26h1v1h-1zM35 26h1v1h-1zM23 42h1v1h-1zM23 43h1v1h-1z"/><path fill="#ff1000" d="M34 26h1v1h-1z"/><path fill="#efff10" d="M30 27h1v1h-1zM38 27h1v1h-1zM29 28h1v1h-1zM28 29h2v1h-2z"/><path fill="#ff0000" d="M32 27h1v1h-1z"/><path fill="#ff2000" d="M33 27h1v1h-1z"/><path fill="#ff6000" d="M34 27h1v1h-1z"/></g></g><path fill="none" stroke="#000" stroke-width="1.0" stroke-linejoin="round" d="M216.1 202.3L217.4 196.6L224.4 185.8L232.6 184.5L246.6 183.2L254.9 178.8L259.4 186.4L263.2 190.9L269.5 195.3L277.8 198.1L284.8 194.0"/><path fill="none" stroke="#000" stroke-width="1.0" stroke-linejoin="round" d="M295.6 196.0L295.0 201.7L291.2 208.0L293.1 211.2L300.7 211.2L306.5 216.3L300.1 222.7L292.5 220.8L284.8 214.4L277.8 211.9L269.5 219.5L261.9 225.9L255.5 229.7L246.6 231.6L237.7 237.3L228.8 243.0L217.4 244.3L214.2 234.8L211.0 222.0L209.1 217.0"/><path fill="none" stroke="#000" stroke-width="1.0" stroke-linejoin="round" d="M197.7 322.9L192.3 323.6L185.5 327.6L174.7 327.0L168.0 329.0L165.3 333.0L166.6 339.8L172.0 342.5L184.2 341.8L192.3 340.5"/><path fill="none" stroke="#000" stroke-width="1.0" stroke-linejoin="round" d="M181.5 263.0L187.0 261.5L192.3 262.5L187.0 264.2L181.5 263.0"/><text transform="translate(214.6 210.5) rotate(-60)" font-size="13.0" text-anchor="middle" dominant-baseline="central">30</text><text transform="translate(197.5 331.7) rotate(-85)" font-size="13.0" text-anchor="middle" dominant-baseline="central">30</text><text transform="translate(176.0 262.0) rotate(60)" font-size="13.0" text-anchor="middle" dominant-baseline="central">30</text><path d="M164.0 249.8L178.4 249.8M166.1 244.7L176.3 254.9M171.2 242.6L171.2 257.0M176.3 244.7L166.1 254.9" stroke="#f00" stroke-width="1.15" fill="none"/><path d="M61.0 320.5L75.4 320.5M63.1 315.4L73.3 325.6M68.2 313.3L68.2 327.7M73.3 315.4L63.1 325.6" stroke="#f00" stroke-width="1.15" fill="none"/></g><rect x="0" y="0" width="348.0" height="427.7" fill="none" stroke="#161616" stroke-width="1.4"/><path fill="none" stroke="#262626" stroke-width="1" d="M58.0 0v3.5M58.0 427.7v-3.5M0 71.3h3.5M348.0 71.3h-3.5M116.0 0v3.5M116.0 427.7v-3.5M0 142.6h3.5M348.0 142.6h-3.5M174.0 0v3.5M174.0 427.7v-3.5M0 213.8h3.5M348.0 213.8h-3.5M232.0 0v3.5M232.0 427.7v-3.5M0 285.1h3.5M348.0 285.1h-3.5M290.0 0v3.5M290.0 427.7v-3.5M0 356.4h3.5M348.0 356.4h-3.5"/><text x="-7.8" y="7.1" font-size="20.1" text-anchor="end" font-weight="normal" fill="#000" >37°N</text><text x="-7.2" y="77.3" font-size="15.4" text-anchor="end" font-weight="normal" fill="#000" >30'</text><text x="-7.8" y="149.7" font-size="20.1" text-anchor="end" font-weight="normal" fill="#000" >36°N</text><text x="-7.2" y="219.8" font-size="15.4" text-anchor="end" font-weight="normal" fill="#000" >30'</text><text x="-7.8" y="292.2" font-size="20.1" text-anchor="end" font-weight="normal" fill="#000" >35°N</text><text x="-7.2" y="362.4" font-size="15.4" text-anchor="end" font-weight="normal" fill="#000" >30'</text><text x="-7.8" y="434.8" font-size="20.1" text-anchor="end" font-weight="normal" fill="#000" >34°N</text><text x="2.8" y="448.6" font-size="20.1" text-anchor="middle" font-weight="normal" fill="#000" >77°W</text><text x="57.7" y="444.6" font-size="15.4" text-anchor="middle" font-weight="normal" fill="#000" >30'</text><text x="118.8" y="448.6" font-size="20.1" text-anchor="middle" font-weight="normal" fill="#000" >76°W</text><text x="173.7" y="444.6" font-size="15.4" text-anchor="middle" font-weight="normal" fill="#000" >30'</text><text x="234.8" y="448.6" font-size="20.1" text-anchor="middle" font-weight="normal" fill="#000" >75°W</text><text x="289.7" y="444.6" font-size="15.4" text-anchor="middle" font-weight="normal" fill="#000" >30'</text><text x="350.8" y="448.6" font-size="20.1" text-anchor="middle" font-weight="normal" fill="#000" >74°W</text><rect x="4.0" y="20.2" width="111.5" height="24.5" fill="url(#jet)" stroke="#262626" stroke-width="1"/><text x="4.0" y="6.5" font-size="16.2" text-anchor="middle" font-weight="normal" fill="#262626" >0</text><text x="94.3" y="6.5" font-size="16.2" text-anchor="middle" font-weight="normal" fill="#262626" >50</text><text x="286.4" y="36.9" font-size="20.1" text-anchor="start" font-weight="normal" fill="#000" >10 km</text><path d="M305.6 43.5H319.3" stroke="#000" stroke-width="4.2" stroke-linecap="round"/><text x="59.8" y="-20.9" font-size="20.7" text-anchor="middle" font-weight="normal" fill="#262626" >cm/s</text><text x="174.0" y="-11.6" font-size="20.6" text-anchor="middle" font-weight="bold" fill="#000" >FitDif TotalErrors (30)</text></g>
<g transform="translate(843.3 742.5)"><clipPath id="c843_742"><rect x="0" y="0" width="348.0" height="427.7"/></clipPath><g clip-path="url(#c843_742)"><g stroke="#000" stroke-width="1.1" stroke-linejoin="round"><path fill="#80e680" d="M0.0 0.0L55.0 0.0L58.3 5.0L59.4 10.6L57.6 15.3L62.0 14.2L68.8 15.2L71.7 11.6L73.5 10.5L75.2 16.4L77.5 17.0L76.0 10.0L77.5 5.5L81.9 4.8L89.2 8.4L96.5 10.6L103.7 12.0L109.6 10.6L114.7 9.9L117.2 12.0L117.9 19.3L120.0 30.0L122.6 41.1L126.5 50.2L128.5 55.7L131.4 68.0L135.0 85.3L138.9 96.9L142.7 110.1L147.4 123.3L154.0 136.4L159.6 148.7L165.3 160.9L170.0 172.2L173.8 181.6L176.6 191.0L177.9 198.0L178.0 204.4L176.8 213.9L175.4 223.3L173.6 232.7L172.2 240.2L171.6 247.7L171.2 251.2L165.3 252.8L159.6 253.8L152.1 256.6L144.6 260.4L137.1 263.2L129.5 266.5L122.0 270.3L117.3 273.5L112.6 277.3L106.9 282.0L99.4 287.7L94.1 293.5L84.7 302.0L75.3 311.4L69.6 318.0L64.0 324.6L60.2 330.2L56.5 336.8L54.1 345.3L52.2 341.5L48.9 335.9L45.2 333.0L37.6 330.2L28.2 328.8L18.8 329.3L9.4 331.1L0.0 334.0Z"/><path fill="#fff" d="M32.5 128.7L34.8 130.1L35.3 134.8L37.6 138.6L41.4 139.0L44.2 137.6L46.1 140.0L48.9 142.8L54.6 143.3L60.2 141.4L64.0 137.6L68.7 134.8L74.4 132.4L79.1 131.5L80.0 129.6L75.3 127.7L72.5 125.9L68.7 121.6L64.9 117.4L65.9 116.9L70.6 121.6L74.4 124.9L78.1 126.3L81.9 128.7L86.6 130.1L91.3 130.1L93.6 128.7L90.4 125.4L87.5 120.7L85.2 117.4L86.1 116.9L89.4 120.2L93.2 124.9L96.0 125.4L101.6 124.9L106.4 124.4L108.7 122.6L107.3 116.9L104.5 112.2L104.1 112.9L98.5 107.3L92.8 104.4L93.8 101.6L94.7 100.7L99.4 103.5L103.2 106.3L106.9 111.0L112.6 115.7L118.2 118.6L125.8 120.9L126.7 119.5L124.8 117.6L122.9 113.9L125.8 109.1L129.5 106.3L132.4 103.5L134.2 106.3L131.4 111.0L130.5 115.7L131.4 123.3L135.2 128.9L139.9 134.1L138.9 128.0L137.1 121.4L135.2 115.7L137.1 111.0L134.5 108.0L131.0 102.0L127.0 94.0L123.0 86.0L118.0 78.0L114.5 70.0L116.0 60.0L117.5 50.0L117.5 42.0L119.0 38.0L120.6 41.0L124.3 50.2L126.3 55.7L129.2 68.0L132.8 85.3L136.7 96.9L140.5 110.1L145.3 123.3L152.0 136.4L157.6 148.7L163.3 160.9L168.1 172.2L172.0 181.6L174.9 191.0L176.2 198.0L176.3 204.4L175.1 213.9L173.7 223.3L171.9 232.7L170.6 240.2L169.6 246.5L165.5 251.0L160.0 252.2L152.0 255.2L145.0 258.8L137.0 261.8L130.0 264.8L122.0 268.8L113.0 275.3L104.0 282.8L95.0 290.8L86.0 299.0L77.0 308.0L71.0 314.5L66.0 320.0L61.5 326.0L58.0 331.0L56.0 333.0L57.0 329.0L59.5 324.0L62.5 319.0L65.9 314.8L67.8 312.0L69.6 309.1L71.5 306.3L74.4 303.5L77.2 300.7L79.1 297.9L81.9 295.0L83.8 292.2L80.9 288.4L78.1 284.7L74.4 282.8L71.5 289.4L69.6 292.2L65.9 295.0L63.1 292.2L64.9 287.5L65.9 282.8L64.9 278.1L62.1 276.2L60.2 278.1L58.4 281.9L56.5 285.6L52.7 286.6L47.1 289.4L42.4 288.4L39.5 290.3L35.8 292.2L32.0 294.1L28.2 297.4L24.5 296.0L18.8 294.1L13.2 291.3L7.5 287.5L2.8 283.7L0.0 281.9L0.0 279.0L1.9 278.1L4.7 280.0L8.5 282.8L12.2 285.6L16.9 288.4L20.7 290.3L23.5 291.3L27.3 288.4L31.1 285.6L35.8 282.8L39.5 280.0L43.3 277.1L47.1 274.3L50.8 271.5L53.6 265.9L49.9 262.1L52.7 258.3L56.5 255.5L59.3 252.7L62.1 248.9L61.2 245.1L56.5 242.3L50.8 240.4L44.2 238.6L37.6 235.7L31.1 232.9L24.5 230.1L18.8 227.7L11.3 225.4L5.6 223.5L2.8 221.6L0.0 220.2L0.0 217.9L1.9 216.9L5.6 218.8L12.2 221.6L18.8 224.4L26.4 227.3L32.0 226.3L39.5 228.2L45.2 230.1L49.4 231.5L48.9 228.2L47.1 222.6L45.2 216.9L44.2 213.1L47.1 210.8L56.5 210.8L60.2 211.7L56.5 213.1L48.9 213.1L47.1 215.0L49.9 216.9L51.8 221.6L54.6 227.3L58.4 231.0L62.1 232.9L65.9 230.1L67.8 226.3L69.6 230.1L67.8 234.8L70.6 236.7L75.3 238.6L80.9 235.7L86.6 234.8L92.2 236.7L97.9 239.5L103.5 235.7L109.2 232.9L112.9 226.3L116.7 218.8L121.1 212.9L125.8 211.0L127.6 206.3L129.5 201.6L132.4 204.4L137.1 205.4L142.7 203.5L145.5 200.4L147.4 197.6L145.5 193.9L144.6 189.1L147.4 190.1L148.8 186.3L147.4 181.6L147.9 176.0L146.5 167.5L143.6 159.0L140.8 152.4L137.1 148.7L131.4 146.8L125.8 147.7L122.0 149.6L123.9 152.4L121.1 155.3L117.3 159.0L118.6 159.3L117.2 164.0L116.7 169.6L116.2 177.1L115.3 184.7L113.9 191.3L112.0 193.6L107.3 190.8L110.1 188.4L111.5 182.8L110.6 175.3L109.6 167.7L111.1 162.1L114.4 156.4L114.8 150.8L112.9 147.0L109.2 145.1L103.5 144.7L96.9 144.7L90.4 145.6L84.7 147.5L80.9 149.4L79.1 151.7L76.2 152.7L72.9 151.3L71.5 147.0L67.8 146.6L62.1 148.0L56.5 149.4L50.8 150.8L44.2 151.7L37.6 152.2L32.0 151.3L32.9 148.9L36.2 145.1L36.2 142.3L33.4 137.6L32.0 132.9L32.5 128.7ZM0.0 326.5L10.0 326.0L20.0 325.5L28.0 326.5L36.0 329.0L44.0 331.5L36.0 330.2L28.0 328.5L20.0 328.0L10.0 329.0L0.0 331.0Z"/><path fill="#80e680" d="M147.4 153.4L152.1 152.4L155.9 157.1L158.7 161.9L161.5 167.5L165.3 172.2L168.1 175.0L164.4 176.4L159.6 173.1L155.9 169.4L154.0 165.6L153.1 160.9L150.2 157.1ZM63.7 0.4L71.0 0.4L67.3 4.4ZM118.0 63.0L124.0 62.0L129.5 66.0L130.0 71.5L124.0 72.5L118.5 70.0ZM124.0 82.0L128.5 84.0L131.5 90.0L128.0 91.0L124.5 87.0ZM131.0 98.0L134.0 100.0L137.0 108.0L134.0 107.0ZM127.6 152.5L131.0 151.3L134.2 152.8L131.0 154.3Z"/></g><path transform="scale(.5)" fill="none" stroke="#000" stroke-width="4.2" stroke-linecap="round" d="M0 0m22 426zm-6 3zm-4 0zm1 0zm-5 3zm-5 0zm6 1zm-2 0zm-1 1zm11 0zm5 0zm-16 1zm11 0zm-8 1zm10 1zm-8 0zm2 0zm5 1zm4 1zm-8 2zm-12 2zm1 0zm4 1zm-3 1zm1 1zm7 1zm-9 0zm8 1zm-2 0zm-1 0zm8 1zm2 1zm-14 0zm19 1zm-15 0zm7 1zm1 2zm-1 0zm3 1zm-1 0zm2 1zm-3 2zm-8 1zm7 2zm6 2zm-3 2zm0 5zm0 80zm-15 3zm13 1zm-5 0zm11 1zm-10 1zm2 1zm2 1zm7 0zm-1 1zm-11 0zm-1 0zm-7 3zm15 2zm1 1zm1 0zm-17 2zm17 0zm-18 2zm20 0zm1 0zm-17 3zm3 2zm3 0zm2 0zm-6 1zm-2 0zm7 2zm9 1zm-6 1zm3 1zm-2 0zm6 0zm-5 1zm4 0zm-1 0zm-5 1zm-10 1zm15 1zm-1 1zm-10 1zm10 2zm2 1zm-5 2zm-2 4zm5 2zm-6 4zm-7 60zm-4 4zm26-37zm-1-9zm18-15zm-1-3zm-16-1zm10 0zm-12-3zm-2-1zm11-2zm11 0zm-23-1zm3 0zm5 0zm7-1zm5 0zm-3 0zm-2-1zm6 0zm-3 0zm-13 0zm4-1zm3 0zm-2-2zm-7 0zm-1-2zm0-1zm2 0zm-4-3zm20-3zm1 0zm-2-1zm0-1zm-8-1zm8-2zm-4 0zm-6 0zm4-1zm-6-1zm-3-1zm14 0zm-10-1zm12-1zm-19 0zm6 0zm-5 0zm-2 0zm6-1zm13 0zm-13-1zm-1 0zm16-2zm-20 0zm15 0zm-13 0zm12 0zm2-4zm4-6zm-7-3zm5-4zm-17-6zm0-1zm12-3zm-8-48zm8-8zm6-9zm-9-3zm12 0zm-18-1zm16-1zm-2 0zm-6 0zm10-1zm-12 0zm11-3zm-9 0zm-11-1zm16-1zm1-2zm-15 0zm18 0zm-4-1zm-4 0zm6-1zm-2 0zm-5 0zm3 0zm1 0zm-13-1zm-2 0zm4-2zm-5-1zm1 0zm2-1zm-4 0zm20-2zm1 0zm-14-2zm11 0zm-1 0zm-5-1zm8 0zm-19 0zm12-1zm-2-1zm-3-1zm0-1zm10 0zm-15 0zm12 0zm-8-1zm12-1zm-2 0zm-8 0zm2-2zm-9-1zm11 0zm1 0zm-3-1zm-4-1zm0-1zm0-1zm-7-6zm10-5zm-8-7zm19-134zm0-2zm1-26zm-3 0zm1-6zm20-21zm-1 20zm1 3zm1 0zm5 1zm-13 3zm10 0zm-10 1zm4 1zm1 0zm9 0zm-4 0zm-6 1zm7 1zm-20 0zm7 0zm13 1zm-8 1zm-3 0zm1 4zm4 0zm1 1zm5 1zm-5 0zm-9 1zm6 1zm3 1zm-1 1zm-1 0zm-5 0zm8 1zm2 1zm-3 1zm3 0zm-1 1zm-5 1zm-5 0zm8 0zm-4 1zm-3 0zm0 2zm7 0zm-2 2zm9 0zm-1 0zm-5 1zm7 0zm-19 3zm9 1zm9 2zm1 3zm-5 3zm-4 1zm4 1zm-3 1zm0 1zm1 1zm-4 0zm0 1zm-5 0zm-2 0zm7 1zm-11 1zm15 0zm7 4zm-12 0zm1 7zm7 3zm3 88zm1 13zm-3 0zm-5 9zm-2 0zm0 5zm5 2zm-1 3zm-3 1zm-4 1zm-8 0zm2 4zm10 0zm8 1zm-13 1zm-8 1zm14 1zm2 0zm5 1zm-18 1zm9 1zm-7 1zm15 0zm-11 1zm-4 0zm9 0zm8 1zm-18 0zm-5 0zm14 1zm-8 0zm1 1zm14 0zm-20 8zm1 1zm6 1zm-6 0zm4 1zm3 0zm2 1zm12 0zm-7 1zm-13 0zm5 0zm2 1zm8 1zm-8 0zm13 1zm-8 1zm6 0zm-1 1zm0 2zm-13 0zm-1 3zm-4 1zm9 3zm-3 8zm10 6zm-2 44zm-3 4zm7 11zm0 1zm3 1zm-1 1zm-4 2zm3 3zm-6 1zm6 0zm2 1zm-6 1zm-11 0zm14 0zm-8 2zm5 1zm-5 0zm-2 1zm-7 0zm10 2zm-2 0zm-5 2zm3 1zm-8 0zm5 2zm-2 2zm-4 1zm18 2zm-2 8zm6 0zm-6 2zm2 1zm-4 1zm-13 1zm13 0zm-8 1zm-3 0zm16 1zm-8 0zm-7 1zm3 0zm2 1zm5 1zm3 0zm-1 2zm-12 4zm1 0zm6 0zm2 17zm-4 18zm5 10zm4 5zm-14 3zm29-1zm5-3zm7-12zm-19-43zm7-1zm0-2zm14-1zm-23-2zm0-2zm3 0zm14-2zm4 0zm-8-1zm10-1zm-20-1zm7 0zm-10 0zm7 0zm2-1zm-5 0zm-3-1zm1 0zm3 0zm3 0zm-5-1zm20 0zm-13-1zm8 0zm-9-1zm-2 0zm6-2zm-2-1zm3 0zm-12-6zm-2-7zm1-5zm2 0zm0-1zm4-2zm-4-2zm12-2zm-1-1zm-2-1zm3-1zm1-3zm4-1zm-1-1zm-13-5zm12-1zm-2-11zm-10-4zm17-1zm-2-4zm2-4zm0-8zm-11-1zm9-11zm-5-1zm-8-1zm0-5zm-2 0zm4-3zm7-1zm5-2zm1 0zm-8 0zm-2-1zm-1 0zm7-2zm-2 0zm-8-1zm9 0zm-7-1zm-9-1zm1-1zm1-2zm0-1zm14-5zm0-7zm-3-2zm-9-1zm17-1zm-8 0zm-3 0zm-8-1zm9 0zm8-1zm-19 0zm8 0zm-10 0zm8 0zm-5-1zm18 0zm-16 0zm10-1zm3 0zm1 0zm-9 0zm-7 0zm11-1zm9 0zm-6 0zm-15-1zm8-1zm2 0zm3 0zm4 0zm3-1zm-19 0zm10-1zm2 0zm1 0zm3 0zm-1-1zm-1-1zm-2 0zm2-1zm4 0zm-14-3zm8 0zm-1 0zm1-1zm4-2zm-6 0zm5 0zm-2-1zm-9-2zm9-1zm-13-1zm14 0zm-3 0zm1-2zm-5-1zm-1-1zm1-1zm-10-2zm14 0zm-3-1zm4 0zm-2 0zm5-2zm-2 0zm3-1zm3-1zm-13 0zm14 0zm-7 0zm-3 0zm4-1zm-3 0zm8 0zm-7-2zm7 0zm-10-1zm3-1zm0-12zm7-5zm-10-80zm3-3zm-14-1zm3-3zm5-2zm-6 0zm12-1zm6 0zm-9-1zm-5 0zm8-1zm-14-1zm12 0zm10-1zm-16 0zm1-1zm15-1zm-3-1zm-7-6zm-13-5zm7-13zm11-1zm-1-1zm-13 0zm0-1zm2-1zm-2 0zm-2-1zm18 0zm2-2zm1 0zm-18 0zm-3-5zm2-2zm-4 0zm7-1zm-4-1zm1 0zm6-2zm7 0zm-15 0zm9-2zm-10-1zm15-1zm-4-3zm28-250zm-1 3zm-5 0zm2 1zm7 1zm-4 0zm3 0zm-8 3zm7 1zm-1 2zm3 2zm1 1zm-8 0zm8 1zm-1 1zm3 0zm-6 0zm3 1zm-1 0zm1 1zm-2 0zm-5 2zm1 1zm7 0zm-4 1zm-9 1zm5 1zm-1 0zm1 1zm0 2zm8 177zm-7 7zm8 4zm-9 8zm10 25zm-12 18zm-6 0zm17 1zm-12 0zm-4 4zm14 0zm-13 0zm-4 2zm0 1zm12 0zm-3 1zm0 2zm-5 0zm15 0zm-12 2zm-3 0zm9 0zm2 1zm-3 1zm-2 0zm-10 0zm14 0zm-8 1zm-7 0zm1 0zm7 1zm-2 0zm-3 8zm17 4zm-13 1zm4 1zm-2 0zm7 0zm1 1zm-7 1zm-5 1zm-6 0zm10 0zm10 1zm-5 0zm-4 0zm-7 1zm3 1zm-5 0zm2 0zm10 3zm8 0zm-20 1zm5 4zm-7 0zm5 0zm15 85zm-11 7zm5 2zm1 0zm-15 0zm0 3zm10 0zm1 0zm-1 2zm-4 1zm-5 1zm8 2zm6 0zm-2 0zm10 1zm-16 0zm0 1zm8 0zm-5 1zm4 0zm8 0zm-5 0zm-1 0zm-6 1zm7 0zm6 0zm-16 0zm5 1zm2 0zm-11 2zm20 0zm-1 2zm-19 0zm7 0zm-5 1zm-2 0zm3 1zm11 0zm-5 0zm-10 0zm2 1zm8 0zm-3 1zm3 0zm-10 0zm-2 0zm13 1zm-13 0zm8 0zm-5 0zm17 0zm-16 0zm-2 1zm13 0zm0 1zm-3 1zm-7 0zm2 0zm13 1zm3 0zm-6 0zm-7 1zm-2 2zm14 0zm-11 2zm1 0zm1 1zm-4 1zm3 0zm1 1zm-4 4zm6 1zm-4 1zm6 1zm-3 2zm5 0zm2 0zm-8 0zm-3 1zm10 0zm1 0zm-6 0zm-15 0zm18 1zm3 0zm0 1zm-1 0zm-4 1zm1 0zm-16 2zm3 14zm2 8zm-1 1zm3 4zm-6 0zm9 1zm-5 1zm15 0zm-10 1zm-8 2zm0 1zm14 0zm-1 0zm6 1zm0 1zm-8 3zm-4 1zm10 1zm1 0zm-15 1zm7 1zm-13 1zm23 0zm0 1zm-5 0zm-16 0zm21 1zm-9 1zm3 1zm-6 1zm11 0zm-16 0zm-4 1zm9 0zm8 0zm-1 0zm-18 1zm22 1zm-2 0zm-6 1zm-9 2zm5 0zm4 1zm-2 1zm-9 1zm-3 5zm5 2zm10 3zm-7 0zm-5 2zm-2 0zm1 0zm1 3zm-3 1zm10 0zm-4 0zm-1 0zm5 1zm1 0zm-8 0zm3 1zm2 1zm-7 2zm0 1zm6 1zm-1 0zm-3 2zm-3 1zm2 3zm1 0zm6 4zm7 7zm7 8zm-1 1zm0 6zm-1 3zm-6 0zm-5 1zm1 0zm10 0zm-3 1zm-7 0zm-4 0zm4 1zm5 0zm1 0zm-9 1zm15 2zm-9 0zm-5 0zm-2 2zm14 0zm-19 0zm-2 0zm23 1zm-19 1zm16 3zm1 2zm-10 16zm-9 1zm18 8zm1 12zm-2 3zm1 0zm3 3zm-5 1zm-1 3zm3 1zm-4 3zm3 1zm1 0zm-15 1zm7 2zm0 1zm10 0zm-11 1zm12 0zm-8 2zm-9 1zm13 1zm-6 1zm5 3zm-8 0zm8 2zm-2 0zm1 0zm2 1zm-4 0zm1 0zm2 1zm-11 1zm5 0zm3 0zm-3 1zm2 0zm-1 1zm9 1zm-5 0zm-6 1zm-10 0zm15 0zm-3 2zm9 0zm-16 0zm9 0zm6 2zm-4 1zm-10 0zm11 0zm-8 0zm-6 1zm6 0zm-6 3zm11 4zm0 2zm-8 3zm15 3zm-11 2zm16-22zm-3-5zm3-5zm1-1zm2-1zm0-1zm-3-1zm2 0zm-3-2zm6 0zm2-4zm-10-1zm3-1zm-2 0zm1 0zm1-1zm11 0zm-1-1zm3 0zm-12-2zm0-2zm15-2zm-19 0zm8-1zm12 0zm3-1zm-11-3zm-2 0zm5-2zm-11-1zm0-1zm14 0zm-6-1zm3 0zm-1 0zm-8-1zm-2 0zm11 0zm-4-2zm11-1zm-4 0zm-11 0zm9-1zm-4-1zm-2-1zm10-1zm-6-1zm5 0zm-15 0zm6-1zm9-1zm-4 0zm0-3zm0-1zm0-1zm-8-1zm5-4zm-3 0zm8-1zm5-1zm-3-1zm4 0zm0-1zm-9-1zm6 0zm-16 0zm18-1zm-14 0zm15-1zm-11 0zm4-1zm-7-1zm-3 0zm-1-1zm17-2zm-13-1zm10 0zm-2 0zm-13 0zm5-1zm6 0zm2-1zm3 0zm-20-1zm1 0zm21-1zm-3 0zm-17 0zm2-2zm-1 0zm17 0zm-17-1zm17-1zm-14-2zm-4-2zm0-1zm-2-1zm10 0zm-7-1zm5 0zm1-1zm-1 0zm-7-1zm4 0zm3-2zm0-1zm2-1zm-2 0zm3-1zm-5-1zm6 0zm3 0zm-14-1zm11 0zm0-1zm-4-1zm3 0zm-1 0zm-2-1zm2 0zm-3-1zm0-2zm1 0zm-5-1zm0-1zm2 0zm-1 0zm5-1zm0-2zm-5 0zm-3-12zm3-14zm-3-28zm2-1zm-3-3zm3-1zm1 0zm-2-4zm-1-1zm21-17zm0-1zm-2-3zm-1-1zm2 0zm1-3zm-1-1zm-18-1zm3 0zm17 0zm-18 0zm0-1zm17 0zm-14-1zm-7-1zm6 0zm-4 0zm1-1zm6-1zm-5 0zm6 0zm8 0zm-10-1zm-8 0zm4-1zm8-1zm3 0zm-9-1zm1 0zm14 0zm-6 0zm3-1zm-1 0zm-3 0zm7 0zm-6-2zm-3-2zm-2 0zm-2-1zm5-1zm-4-2zm-2 0zm7-2zm3-1zm-10-1zm-8-1zm2-1zm-2-1zm1-1zm1-3zm3-3zm12 0zm-17-4zm2 0zm2 0zm5-2zm-8-1zm1 0zm3-2zm15-1zm-15-1zm-1-1zm-4-1zm11-5zm-3-4zm1 0zm11-77zm-4-6zm1-1zm5-1zm-8-4zm-14-2zm19-3zm2-2zm-12-2zm14-2zm-20-3zm2-2zm15 0zm-1-1zm-3-1zm4-1zm-11 0zm-8 0zm11 0zm2-1zm5-1zm1 0zm-20 0zm12 0zm5-1zm-14-1zm7 0zm1 0zm8-1zm-3-1zm0-3zm-15-9zm2-5zm-3-2zm7 0zm-6-3zm8-1zm6-1zm5-1zm-11-1zm5 0zm-4-1zm10 0zm-7-1zm4-3zm4-1zm-4-2zm-10-4zm-2 0zm17 0zm0-2zm1 0zm-7 0zm7-1zm-6-2zm3-1zm1 0zm-21-2zm12-1zm2 0zm2-2zm-12 0zm1-1zm16 0zm-4-2zm4 0zm1 0zm-7-1zm-3 0zm-11-1zm22 0zm-11 0zm-4-1zm12-1zm-19 0zm9-1zm-8 0zm9 0zm12 0zm-19 0zm6-1zm10 0zm-4 0zm-11-1zm6-2zm-2 0zm9 0zm-9-1zm1 0zm3 0zm-3-2zm-5 0zm8-1zm-5-1zm6-1zm-8-1zm0-3zm4-2zm2-2zm9-1zm2-1zm0-188zm-14 0zm-9 0zm13-1zm8 0zm2-2zm-3-1zm-15-2zm-4-4zm-1-12zm43 2zm1 1zm2 1zm-4 1zm4 0zm1 0zm-9 2zm3 0zm5 0zm0 1zm-8 0zm4 0zm4 1zm1 0zm-2 1zm-3 0zm-6 0zm10 1zm-8 0zm-5 1zm-6 2zm17 0zm3 1zm-22 1zm11 1zm-8 1zm12 0zm-7 0zm-3 1zm5 0zm-1 1zm-10 1zm12 0zm-10 1zm-1 0zm21 160zm-15 22zm15 2zm-9 7zm9 2zm-15 5zm5 1zm7 0zm-1 1zm3 1zm-20 1zm8 1zm5 3zm7 1zm-16 0zm15 0zm-20 1zm1 0zm21 4zm-6 0zm-10 1zm-3 0zm-1 1zm3 1zm11 2zm-6 0zm-3 1zm-1 0zm17 0zm-7 0zm-1 0zm-5 0zm12 1zm-3 0zm1 0zm1 1zm-2 0zm-5 0zm4 0zm-8 1zm9 1zm-3 0zm2 0zm-1 2zm1 0zm-8 3zm1 0zm-3 0zm-4 1zm-4 0zm9 0zm1 0zm6 1zm-9 0zm-2 0zm2 1zm8 1zm-2 1zm-2 1zm-7 0zm10 0zm-9 1zm-5 0zm3 0zm0 1zm-1 0zm-2 1zm0 30zm19 3zm3 2zm-6 1zm-15 2zm4 1zm17 0zm-22 0zm8 1zm11 0zm-19 0zm2 0zm13 0zm-6 0zm-2 1zm0 1zm-2 1zm-1 0zm17 11zm-16 93zm-5 22zm0 11zm12 8zm6 2zm-13 1zm12 0zm2 2zm-8 2zm-10 2zm13 1zm-5 1zm1 0zm-3 0zm16 1zm-3 0zm-13 0zm4 1zm-6 0zm17 1zm-4 0zm-16 2zm20 0zm-21 0zm14 0zm-2 0zm-4 1zm-3 1zm-6 0zm4 0zm0 1zm5 1zm-5 1zm5 0zm-4 95zm5 1zm-1 2zm1 0zm-3 1zm7 1zm3 1zm-2 0zm-13 0zm-1 1zm4 1zm13 0zm-11 0zm10 2zm-7 0zm10 1zm-7 0zm-2 0zm-2 1zm-3 0zm11 0zm1 0zm-14 1zm14 0zm4 1zm-12 1zm8 0zm-4 2zm6 0zm-16 0zm13 1zm2 0zm-14 2zm14 1zm-18 1zm0 1zm8 3zm3 1zm-1 0zm-8 2zm7 1zm-8 0zm6 1zm-5 1zm2 1zm17 1zm-16 0zm15 1zm0 1zm-19 0zm0 3zm15 1zm0 2zm-5 5zm-1 0zm6 1zm-8 2zm-2 1zm-1 1zm0 1zm-2 2zm-3 1zm2 1zm-1 1zm18 2zm-9 12zm14-32zm5-4zm-6-3zm1-1zm4-2zm1-1zm-1 0zm0-1zm0-1zm-1-1zm5-2zm2-1zm1 0zm-2 0zm3-1zm9-2zm-7-2zm3-3zm2-9zm3-101zm-3 0zm-3-2zm-3-1zm-2 0zm-3-2zm0-1zm13 0zm-16 0zm1-1zm-7-2zm5-1zm14 0zm1 0zm-15-3zm16 0zm-7-1zm9-12zm-1-3zm-3-118zm-14-8zm2 0zm13-4zm-18-4zm3-6zm2-2zm-3-2zm-2 0zm3-1zm-4 0zm16-1zm-16 0zm4-2zm15-2zm-18 0zm-1 0zm11-2zm-2 0zm-6 0zm2 0zm5-1zm6-1zm1 0zm-7-1zm4 0zm-11-16zm8-10zm-3-5zm1 0zm-6-1zm1 0zm5-1zm6 0zm-15 0zm17-1zm-15 0zm11 0zm1 0zm-11-1zm1 0zm1 0zm5 0zm-3-1zm-6 0zm1 0zm-3 0zm15 0zm-14-1zm7 0zm4-2zm-1-1zm10-1zm-7-1zm-9 0zm-2 0zm9-1zm-3 0zm-5 0zm17 0zm-16 0zm14 0zm-16 0zm15-1zm-11 0zm14 0zm-16 0zm11 0zm-11-1zm14 0zm-1 0zm-9-1zm-1 0zm11 0zm3 0zm-16 0zm8 0zm-6-1zm-5 0zm5-1zm-5 0zm3 0zm8 0zm1 0zm4-1zm-5 0zm-13-1zm-1-2zm13 0zm2-1zm-6 0zm-7 0zm2-1zm-3 0zm10-1zm-2 0zm-1-2zm2-1zm-3-1zm-1 0zm-3-2zm14 0zm-10-2zm-1 0zm16-1zm-11 0zm12 0zm-16-1zm14-2zm-14-4zm-5 0zm16-4zm-8 0zm13-1zm-4 0zm-7-1zm3 0zm3 0zm-14 0zm12 0zm-3-1zm4 0zm-2-1zm-6-1zm6-2zm2-4zm2-3zm2-1zm1-1zm1-1zm-2-1zm-9-1zm1-1zm3-2zm0-3zm4-15zm2-146zm0-1zm-9-2zm-8-2zm1-1zm14 0zm1-1zm0-1zm-4 0zm-9-1zm-6 0zm18 0zm-5 0zm-6 0zm14 0zm-16 0zm12-1zm-2-1zm-14 0zm8 0zm-11-1zm14 0zm-5 0zm-2-1zm-5 0zm7-3zm24-12zm-1 4zm-6 16zm-2 1zm3 0zm3 0zm2 0zm-3 1zm11 0zm2 0zm-6 1zm3 0zm-6 1zm9 1zm-13 1zm15 0zm-11 1zm11 105zm-1 4zm-18 44zm10 8zm12 5zm-19 4zm1 0zm16 1zm-3 1zm-16 1zm3 0zm15 0zm-11 0zm-3 0zm0 1zm4 0zm2 1zm-8 1zm1 0zm6 0zm-4 1zm6 0zm-4 1zm2 1zm-1 0zm13 0zm-1 0zm-13 1zm2 1zm8 2zm-1 1zm-16 0zm20 0zm-1 1zm-1 0zm-2 1zm1 0zm-19 0zm6 1zm13 0zm1 0zm-14 1zm15 0zm-3 0zm-15 0zm20 2zm-19 0zm-4 1zm9 0zm13 0zm-13 1zm-5 0zm3 0zm3 0zm12 1zm-12 3zm-2 0zm0 2zm-5 1zm6 0zm3 0zm-2 1zm3 0zm7 1zm-8 2zm1 1zm5 0zm4 1zm-6 0zm-4 0zm-7 0zm14 1zm2 1zm-4 1zm-8 0zm9 1zm2 0zm-18 1zm18 0zm-5 1zm-7 0zm-8 0zm22 0zm-5 1zm-3 0zm-7 0zm11 1zm-18 0zm3 1zm20 0zm-2 0zm-14 1zm3 0zm12 0zm-8 1zm7 0zm-14 1zm-1 0zm15 1zm1 0zm-16 1zm-5 0zm11 0zm-8 1zm3 0zm3 0zm-2 0zm-8 0zm14 0zm-3 11zm4 27zm-3 3zm-5 0zm11 1zm-1 0zm6 1zm-21 0zm14 0zm3 1zm-16 0zm11 0zm-8 2zm17 0zm-13 0zm6 0zm-8 7zm4 0zm-5 2zm6 0zm0 1zm6 2zm-12 3zm3 1zm-5 7zm16 10zm-12 8zm14 4zm-1 0zm-20 3zm6 1zm15 3zm-4 1zm-7 1zm7 1zm3 3zm-4 1zm-8 4zm11 1zm-2 0zm0 2zm3 0zm1 2zm-1 1zm-15 3zm9 1zm7 4zm-11 3zm1 0zm-1 1zm-5 4zm5 1zm10 0zm1 2zm-1 1zm-2 2zm2 1zm-9 1zm8 12zm-10 16zm2 6zm7 24zm-19 2zm20 1zm-12 3zm14 1zm-21 6zm2 4zm15 1zm-2 1zm-1 2zm5 0zm-18 3zm12 0zm-2 2zm-6 1zm1 0zm-6 0zm9 1zm-8 0zm3 2zm2 0zm-7 1zm22 83zm0 2zm-3 1zm1 1zm-4 1zm-3 3zm-1 1zm-12 10zm-1 4zm0 1zm37-16zm-7-13zm4-2zm0-2zm3 0zm6 0zm-6-1zm1 0zm1-3zm3 0zm1-1zm4-3zm-13-10zm-6-70zm-1-1zm-1-1zm-2 0zm22-1zm-22 0zm1-2zm2-1zm3 0zm-4-2zm5-2zm1-1zm2-1zm-2-1zm4-3zm-2-1zm11-4zm-7 0zm3 0zm5-1zm-10 0zm0-2zm5-1zm-5-2zm-6-1zm8-2zm-6 0zm14-3zm-1-2zm-21-5zm21-1zm-7 0zm9-11zm-8-5zm-5 0zm-4-9zm7-2zm6-1zm-7 0zm4-1zm1-2zm-14-1zm7 0zm-6 0zm3-1zm-5 0zm11 0zm-13 0zm6-1zm10 0zm-12-1zm-2 0zm8-2zm-9 0zm15 0zm-15-1zm0-1zm15 0zm-16 0zm14 0zm5-1zm-2-3zm0-1zm2-1zm-1-1zm-15 0zm11 0zm-13-1zm18 0zm-15-3zm-2-1zm17 0zm1 0zm-4-1zm-13 0zm13-1zm-10-1zm14 0zm3-1zm-21-1zm17 0zm4-2zm-2 0zm-21 0zm5-1zm-2-1zm17-1zm-20 0zm16-2zm-15 0zm17-2zm-17-4zm16-2zm1-1zm3 0zm0-1zm-18-1zm1 0zm-1-1zm18-2zm-18-2zm15-1zm3 0zm-1-1zm2 0zm-4-2zm4-1zm-20-1zm-1-1zm17-1zm2-2zm1 0zm-19 0zm1 0zm19-1zm-22-1zm1-1zm21 0zm-19-1zm6 0zm11-2zm2-1zm-16-1zm-1 0zm18-1zm-3 0zm-19-1zm21 0zm-14-2zm-1-1zm14 0zm-12-1zm-4 0zm18-1zm-14 0zm-9-1zm6 0zm17 0zm-14 0zm-4 0zm18-1zm-22-1zm2 0zm-1-1zm8-1zm-6 0zm9-3zm-1-1zm-5-2zm4-1zm-3-3zm0-2zm1 0zm-6-1zm-1-2zm3 0zm-4-1zm7 0zm-5-3zm6 0zm-2 0zm-6-1zm-1-1zm5-47zm16-10zm-16-2zm0-2zm11 0zm-9-1zm11 0zm3 0zm-8 0zm9-1zm-10 0zm0-2zm-6 0zm11-2zm-1-1zm-14-1zm4-2zm1 0zm-4-1zm8-2zm-4-1zm1-2zm11-1zm0-3zm-4-3zm-7-2zm-1 0zm13-3zm-15-5zm-4-3zm22 0zm-8-13zm8 0zm-16 0zm7-4zm7-8zm-2-2zm-5-2zm2-2zm-4 0zm11-1zm-8-1zm1-1zm-13-2zm12-1zm8 0zm-1 0zm-7-2zm-5 0zm1 0zm2 0zm3-2zm2-1zm-1 0zm5-2zm-19-1zm17-2zm3 0zm-2-2zm-8 0zm0-1zm-1-1zm-2-1zm-3 0zm7 0zm-2-3zm9 0zm-14-2zm5-1zm2 0zm-8 0zm15 0zm-4-1zm-10 0zm6 0zm0-3zm-4 0zm5-2zm-3-1zm4 0zm0-2zm8 0zm-13-1zm-10-2zm21 0zm-6-2zm-4 0zm9-1zm-4-3zm-4-1zm-2 0zm6-1zm2-1zm-9-1zm6 0zm1-1zm-8-1zm11 0zm-11-1zm10 0zm-2-1zm-2 0zm7-1zm-5 0zm1 0zm-9 0zm5-3zm3 0zm-5 0zm2-3zm5 0zm-2-1zm-4-2zm-7-1zm17-1zm-11 0zm-4-2zm8-1zm2-2zm-3-2zm6-1zm2 0zm1-1zm-2-2zm-2-1zm3-2zm-14-56zm-6-3zm15-1zm-9 0zm3 0zm-4 0zm-5 0zm-2 0zm9-2zm-5-1zm8-2zm12 66zm1 3zm0 4zm3 0zm-4 0zm9 3zm-1 2zm1 0zm-7 0zm9 2zm-1 2zm-4 1zm6 0zm-10 0zm10 1zm-8 1zm10 3zm2 3zm-10 0zm5 1zm4 1zm-14 1zm-1 0zm7 1zm11 0zm-3 1zm2 0zm0 1zm-16 0zm11 1zm4 1zm1 1zm2 1zm-2 0zm-9 0zm-2 0zm-1 0zm11 3zm-7 0zm-2 1zm-5 0zm7 0zm9 1zm-7 2zm6 1zm-10 1zm-6 2zm6 0zm14 1zm-2 1zm-12 0zm-4 1zm18 1zm-21 0zm4 2zm12 1zm-4 1zm3 0zm6 2zm-5 1zm-2 0zm5 1zm-4 1zm1 0zm-3 2zm-2 4zm-9 0zm11 3zm-11 2zm17 0zm-19 0zm17 0zm5 1zm1 0zm-16 0zm12 2zm-18 2zm2 1zm-1 1zm14 0zm-13 1zm-2 1zm12 0zm7 0zm2 1zm-20 1zm-2 0zm8 0zm15 0zm0 1zm-19 2zm19 0zm-21 1zm-2 1zm22 0zm-13 0zm4 0zm-4 3zm-1 1zm-4 0zm-1 1zm17 1zm-12 0zm1 0zm11 1zm-12 0zm-5 1zm7 0zm-1 2zm0 1zm1 0zm3 1zm-8 0zm-2 0zm11 1zm0 2zm-5 0zm10 0zm-18 1zm10 0zm10 1zm-9 0zm6 1zm-5 0zm-10 1zm14 4zm-12 0zm9 3zm2 3zm1 0zm-6 1zm-5 1zm3 1zm10 0zm3 1zm-10 0zm3 0zm0 1zm1 0zm-2 1zm9 0zm-4 0zm-4 1zm8 0zm-5 0zm5 1zm-12 1zm2 1zm-6 0zm8 1zm4 0zm-5 0zm8 0zm-4 1zm-2 0zm-5 0zm11 0zm-13 1zm10 0zm-7 1zm6 1zm-5 0zm0 1zm-4 1zm2 1zm-3 1zm15 0zm-16 1zm-3 2zm17 0zm-8 0zm8 2zm-16 0zm1 1zm8 0zm8 1zm1 1zm-10 1zm1 0zm9 0zm-7 0zm1 1zm6 0zm-22 0zm20 1zm-5 0zm1 0zm-14 2zm16 0zm-2 0zm-11 0zm16 1zm-15 0zm1 0zm0 2zm13 0zm2 0zm-22 0zm1 0zm15 1zm6 1zm-2 0zm-11 0zm-5 1zm6 1zm-3 0zm11 1zm-8 1zm8 1zm3 2zm-1 10zm-2 2zm3 2zm-17 2zm16 1zm1 32zm-11 2zm11 0zm-12 2zm-1 1zm3 0zm-6 1zm12 2zm1 0zm-6 0zm0 1zm9 0zm-2 1zm-13 2zm14 0zm-12 1zm3 2zm11 0zm-19 2zm16 2zm-19 1zm11 1zm-7 0zm-3 2zm17 0zm-18 0zm0 1zm10 1zm-8 2zm7 1zm-2 1zm11 1zm-19 1zm1 2zm9 2zm-4 1zm-2 3zm7 0zm4 1zm-2 0zm10 0zm-8 1zm-15 3zm0 3zm1 3zm4 3zm-5 0zm11 0zm10 13zm-18 6zm7 1zm13 29zm0 1zm-2 2zm-13 1zm7 1zm6 0zm-15 1zm15 1zm-2 1zm-2 1zm0 2zm-15 0zm8 3zm6 0zm-9 1zm-2 2zm7 1zm-3 3zm3 0zm-12 1zm7 1zm-2 0zm5 1zm-3 0zm4 1zm-7 1zm2 2zm3 1zm-6 0zm-1 0zm-2 0zm2 1zm18 99zm-10 8zm6 0zm-2 0zm-2 2zm-2 2zm-1 0zm-2 0zm-2 2zm1 0zm-3 0zm2 1zm-3 1zm-1 10zm20 4zm23-3zm1-15zm-16-7zm-4 0zm-1-1zm2-1zm13-5zm0-4zm-11-6zm15-102zm-9-1zm10 0zm-16-1zm13-1zm-2 0zm3 0zm-11-1zm10 0zm4 0zm-21 0zm12-1zm-3 0zm-8 0zm15 0zm2-2zm-2 0zm-7-1zm-7-1zm20 0zm-16 0zm-4-1zm14-1zm3 0zm-4-3zm-1 0zm3-1zm-7-1zm3-1zm-11-4zm20-4zm-16 0zm8-1zm-3-2zm10-1zm-4-1zm0-1zm6 0zm-4-3zm-1-1zm3-3zm-1-6zm0-4zm3-1zm-2 0zm-8-5zm-4 0zm9-4zm4-7zm1 0zm-2-1zm2-3zm-2-3zm2-1zm-3-4zm-19-2zm22-1zm-8 0zm7-1zm1-2zm-10-1zm8-2zm-2 0zm-19-3zm12 0zm9 0zm-7-1zm3-3zm-15-3zm14-2zm3-2zm-7-1zm-5 0zm2-1zm5-2zm1-1zm-1 0zm-10-1zm10 0zm4-4zm-12-2zm1 0zm-3 0zm3-1zm-2-1zm-4 0zm3 0zm-2 0zm1-1zm1 0zm0-2zm18-19zm-3-6zm-2-1zm-2-1zm-5-4zm8-1zm3 0zm-4 0zm-7 0zm1-1zm0-1zm-10-2zm12-1zm0-1zm-5 0zm14 0zm-5 0zm-7-1zm7 0zm-13-1zm1-1zm18 0zm-16 0zm10 0zm-5 0zm0-1zm-6 0zm10 0zm-10-2zm16-1zm1 0zm-16 0zm-6-1zm17-2zm-18-1zm20 0zm-10-1zm-5 0zm-2 0zm3 0zm3 0zm7 0zm4-1zm-13 0zm-2-1zm5 0zm-2-1zm-5-1zm14 0zm-13-1zm17 0zm-19 0zm6 0zm-2-2zm-1-2zm12 0zm-12-1zm1 0zm3 0zm-7 0zm-2-1zm11 0zm3 0zm8 0zm-21 0zm18 0zm4-1zm-18-1zm13-1zm-1-1zm2 0zm-19 0zm14 0zm-8 0zm1-1zm-3 0zm17 0zm-2 0zm-6 0zm-13 0zm22 0zm-19 0zm-2-1zm19 0zm-16-1zm2 0zm17 0zm-16 0zm1-1zm-8 0zm22 0zm-10-1zm-1-1zm-6 0zm1 0zm3-1zm11 0zm-1 0zm-19-1zm6-1zm10 0zm-13-1zm7-1zm6-1zm-12-1zm15 0zm-14 0zm-2-2zm-3-2zm16-2zm-14-1zm13-2zm-1-1zm3-1zm-1 0zm-1-1zm-3-2zm0-1zm-1-1zm4 0zm-14-1zm11-1zm-7 0zm6-1zm6-1zm-6-3zm1-1zm-6 0zm6-1zm0-2zm-3 0zm-4-1zm-3 0zm4-1zm-5 0zm9 0zm-3-1zm3 0zm-7-2zm3 0zm3 0zm-3-2zm3-1zm3-3zm-9 0zm2-2zm-4 0zm5-1zm-1 0zm-4-1zm-1 0zm7-1zm-3 0zm1-2zm-4-1zm3 0zm-1-1zm8-4zm-10-3zm0-2zm6-21zm11-23zm-18-28zm43 140zm-18 7zm1 0zm0 2zm-1 2zm1 1zm1 0zm-2 1zm4 1zm4 4zm-3 1zm0 1zm2 3zm-2 1zm-3 4zm7 3zm-1 0zm-9 0zm2 0zm8 1zm2 0zm-2 1zm2 3zm0 1zm3 1zm1 0zm-6 1zm-6 5zm14 3zm-9 1zm12 4zm-1 1zm-2 1zm3 2zm1 2zm1 4zm-13 6zm5 10zm-5 0zm6 1zm-2 1zm4 1zm-2 0zm-15 1zm16 4zm1 6zm-18 1zm19 4zm-19 4zm2 1zm1 0zm-1 3zm3 7zm-1 1zm4 2zm-4 1zm1 2zm1 1zm-1 0zm0 4zm-5 0zm6 0zm16 1zm-16 10zm-2 1zm2 0zm-1 1zm0 1zm3 3zm-7 1zm7 1zm0 3zm-4 2zm-4 1zm8 0zm-5 0zm-3 1zm4 2zm-3 0zm11 0zm-12 2zm0 1zm3 6zm3 1zm-6 2zm4 0zm1 1zm0 1zm0 2zm-4 2zm1 0zm-2 2zm12 0zm-12 4zm22 105zm-2 3zm-1 1zm-2 0zm-5 0zm0 1zm2 1zm-2 0zm-7 3zm-1 1zm-1 1zm5 23zm23-35zm-2 0zm1 0zm2-1zm6 0zm4-1zm-3 0zm-3-1zm1 0zm9-1zm-9 0zm8-1zm-4-2zm5-1zm1-23zm-3-93zm-11-31zm8-2zm-3-1zm-2 0zm0-2zm-3 0zm10 0zm-2-2zm-5-1zm11-4zm-17 0zm7 0zm-7-1zm17 0zm-22-1zm21 0zm-19-1zm-3-1zm22-2zm0-1zm-1-2zm-14-2zm-1 0zm-5 0zm20-1zm-2-1zm-2 0zm1 0zm0-2zm-16-1zm-1-1zm1-1zm13-2zm-14 0zm0-1zm14-1zm-8-1zm5-3zm-1-2zm9-1zm-9 0zm0-2zm-8-2zm7 0zm0-1zm-2-2zm2-1zm-2 0zm1-1zm-3-2zm-1-2zm-3-3zm2 0zm-1-1zm1-2zm5-3zm-9 0zm30 39zm-6 7zm2 6zm2 5zm-3 1zm4 1zm1 2zm2 1zm-1 5zm1 6zm2 2zm0 1zm1 3zm-1 1zm8 3zm-4 1zm-1 2zm1 1zm2 2zm-3 3zm3 0zm-1 0zm2 2zm-2 0zm0 1zm2 8zm2 4zm-2 0zm2 3zm1 3zm-2 2zm0 2zm1 1zm-1 2zm2 1zm-3 1zm1 2zm-2 5zm0 2zm-1 3zm0 2zm1 5zm-1 3zm1 2zm-2 1zm-3 4zm3 4zm-6 2zm2 0zm4 2zm-1 0zm1 1zm-2 2zm-1 0zm2 4zm-2 3zm-1 4zm-1 1zm-1 2zm2 0zm0 2zm-2 2zm-1 3zm-3 3zm4 3zm-1 5zm-5 1zm5 2zm0 1zm-3 3zm2 0zm-1 3zm-3 2zm0 1zm-2 0zm7 4zm-2 0zm-3 2zm3 0zm20-41z"/><path fill="none" stroke="#c4c4c4" stroke-width="0.8" stroke-dasharray="2.6 5.8" d="M58.0 0V427.7M116.0 0V427.7M174.0 0V427.7M232.0 0V427.7M290.0 0V427.7M0 71.3H348.0M0 142.6H348.0M0 213.8H348.0M0 285.1H348.0M0 356.4H348.0"/><g shape-rendering="crispEdges"><g transform="translate(3.30 0.68) scale(7.620 7.670)"><path fill="#00008f" d="M16 0h8v1h-8zM26 0h20v1h-20zM16 1h8v1h-8zM27 1h19v1h-19zM17 2h7v1h-7zM27 2h8v1h-8zM37 2h9v1h-9zM17 3h8v1h-8zM26 3h1v1h-1zM28 3h6v1h-6zM44 3h2v1h-2zM17 4h9v1h-9zM31 4h3v1h-3zM17 5h9v1h-9zM33 5h1v1h-1zM17 6h9v1h-9zM18 7h12v1h-12zM18 8h9v1h-9zM18 9h9v1h-9zM18 10h9v1h-9zM18 11h8v1h-8zM19 12h1v1h-1zM21 12h6v1h-6zM22 13h6v1h-6zM21 14h7v1h-7zM21 15h6v1h-6zM22 16h1v1h-1zM24 16h2v1h-2zM0 36h1v1h-1z"/><path fill="#0050ff" d="M24 0h2v1h-2zM24 1h3v1h-3zM24 2h3v1h-3zM35 2h2v1h-2zM25 3h1v1h-1zM27 3h1v1h-1zM34 3h10v1h-10zM26 4h5v1h-5zM34 4h12v1h-12zM26 5h7v1h-7zM34 5h12v1h-12zM26 6h20v1h-20zM30 7h16v1h-16zM27 8h19v1h-19zM27 9h19v1h-19zM27 10h19v1h-19zM26 11h20v1h-20zM27 12h19v1h-19zM28 13h18v1h-18zM28 14h18v1h-18zM28 15h18v1h-18zM29 16h17v1h-17zM30 17h16v1h-16zM33 18h13v1h-13zM33 19h13v1h-13zM34 20h12v1h-12zM22 21h1v1h-1zM35 21h11v1h-11zM23 22h1v1h-1zM35 22h11v1h-11zM37 23h9v1h-9zM39 24h7v1h-7zM40 25h6v1h-6zM40 26h6v1h-6zM41 27h5v1h-5zM41 28h5v1h-5zM41 29h5v1h-5zM42 30h4v1h-4zM42 31h4v1h-4zM43 32h3v1h-3zM44 33h2v1h-2zM44 34h2v1h-2zM44 50h2v1h-2zM44 52h2v1h-2zM44 53h2v1h-2zM43 54h3v1h-3zM43 55h3v1h-3z"/><path fill="#ff4000" d="M20 12h1v1h-1zM19 13h3v1h-3zM20 14h1v1h-1zM20 15h1v1h-1zM20 16h2v1h-2zM23 16h1v1h-1zM21 17h4v1h-4zM21 18h1v1h-1zM21 19h1v1h-1zM19 33h2v1h-2zM18 34h3v1h-3zM16 35h5v1h-5zM15 36h5v1h-5zM14 37h6v1h-6zM13 38h8v1h-8zM12 39h8v1h-8zM11 40h9v1h-9zM10 41h10v1h-10zM0 42h1v1h-1zM9 42h11v1h-11zM0 43h7v1h-7zM9 43h11v1h-11zM0 44h20v1h-20zM26 44h1v1h-1zM0 45h24v1h-24zM0 46h20v1h-20zM27 46h2v1h-2zM0 47h20v1h-20zM23 47h1v1h-1zM26 47h4v1h-4zM0 48h20v1h-20zM22 48h7v1h-7zM0 49h25v1h-25zM0 50h24v1h-24zM0 51h19v1h-19zM0 52h19v1h-19zM0 53h20v1h-20zM0 54h21v1h-21zM0 55h21v1h-21z"/><path fill="#800000" d="M27 15h1v1h-1zM26 16h3v1h-3zM25 17h5v1h-5zM22 18h11v1h-11zM22 19h11v1h-11zM22 20h12v1h-12zM23 21h12v1h-12zM24 22h11v1h-11zM23 23h14v1h-14zM23 24h16v1h-16zM23 25h17v1h-17zM23 26h17v1h-17zM23 27h18v1h-18zM23 28h18v1h-18zM23 29h18v1h-18zM23 30h19v1h-19zM23 31h19v1h-19zM23 32h20v1h-20zM21 33h23v1h-23zM21 34h23v1h-23zM21 35h25v1h-25zM20 36h26v1h-26zM20 37h26v1h-26zM21 38h25v1h-25zM20 39h26v1h-26zM20 40h26v1h-26zM20 41h26v1h-26zM20 42h26v1h-26zM20 43h26v1h-26zM20 44h6v1h-6zM27 44h19v1h-19zM24 45h22v1h-22zM20 46h7v1h-7zM29 46h17v1h-17zM20 47h3v1h-3zM24 47h2v1h-2zM30 47h16v1h-16zM20 48h2v1h-2zM29 48h17v1h-17zM25 49h21v1h-21zM24 50h20v1h-20zM19 51h27v1h-27zM19 52h25v1h-25zM20 53h24v1h-24zM21 54h22v1h-22zM21 55h22v1h-22z"/></g></g><path d="M164.0 249.8L178.4 249.8M166.1 244.7L176.3 254.9M171.2 242.6L171.2 257.0M176.3 244.7L166.1 254.9" stroke="#f00" stroke-width="1.15" fill="none"/><path d="M61.0 320.5L75.4 320.5M63.1 315.4L73.3 325.6M68.2 313.3L68.2 327.7M73.3 315.4L63.1 325.6" stroke="#f00" stroke-width="1.15" fill="none"/></g><rect x="0" y="0" width="348.0" height="427.7" fill="none" stroke="#161616" stroke-width="1.4"/><path fill="none" stroke="#262626" stroke-width="1" d="M58.0 0v3.5M58.0 427.7v-3.5M0 71.3h3.5M348.0 71.3h-3.5M116.0 0v3.5M116.0 427.7v-3.5M0 142.6h3.5M348.0 142.6h-3.5M174.0 0v3.5M174.0 427.7v-3.5M0 213.8h3.5M348.0 213.8h-3.5M232.0 0v3.5M232.0 427.7v-3.5M0 285.1h3.5M348.0 285.1h-3.5M290.0 0v3.5M290.0 427.7v-3.5M0 356.4h3.5M348.0 356.4h-3.5"/><text x="-7.8" y="7.1" font-size="20.1" text-anchor="end" font-weight="normal" fill="#000" >37°N</text><text x="-7.2" y="77.3" font-size="15.4" text-anchor="end" font-weight="normal" fill="#000" >30'</text><text x="-7.8" y="149.7" font-size="20.1" text-anchor="end" font-weight="normal" fill="#000" >36°N</text><text x="-7.2" y="219.8" font-size="15.4" text-anchor="end" font-weight="normal" fill="#000" >30'</text><text x="-7.8" y="292.2" font-size="20.1" text-anchor="end" font-weight="normal" fill="#000" >35°N</text><text x="-7.2" y="362.4" font-size="15.4" text-anchor="end" font-weight="normal" fill="#000" >30'</text><text x="-7.8" y="434.8" font-size="20.1" text-anchor="end" font-weight="normal" fill="#000" >34°N</text><text x="2.8" y="448.6" font-size="20.1" text-anchor="middle" font-weight="normal" fill="#000" >77°W</text><text x="57.7" y="444.6" font-size="15.4" text-anchor="middle" font-weight="normal" fill="#000" >30'</text><text x="118.8" y="448.6" font-size="20.1" text-anchor="middle" font-weight="normal" fill="#000" >76°W</text><text x="173.7" y="444.6" font-size="15.4" text-anchor="middle" font-weight="normal" fill="#000" >30'</text><text x="234.8" y="448.6" font-size="20.1" text-anchor="middle" font-weight="normal" fill="#000" >75°W</text><text x="289.7" y="444.6" font-size="15.4" text-anchor="middle" font-weight="normal" fill="#000" >30'</text><text x="350.8" y="448.6" font-size="20.1" text-anchor="middle" font-weight="normal" fill="#000" >74°W</text><rect x="4.0" y="20.2" width="111.5" height="24.5" fill="url(#jet)" stroke="#262626" stroke-width="1"/><text x="4.0" y="6.5" font-size="16.2" text-anchor="middle" font-weight="normal" fill="#262626" >0</text><text x="59.8" y="6.5" font-size="16.2" text-anchor="middle" font-weight="normal" fill="#262626" >5</text><text x="112.7" y="6.5" font-size="16.2" text-anchor="middle" font-weight="normal" fill="#262626" >10</text><text x="286.4" y="36.9" font-size="20.1" text-anchor="start" font-weight="normal" fill="#000" >10 km</text><path d="M305.6 43.5H319.3" stroke="#000" stroke-width="4.2" stroke-linecap="round"/><text x="174.0" y="-13.2" font-size="25.1" text-anchor="middle" font-weight="bold" fill="#000" >Site Codes</text></g>
</svg>
</body></html>
